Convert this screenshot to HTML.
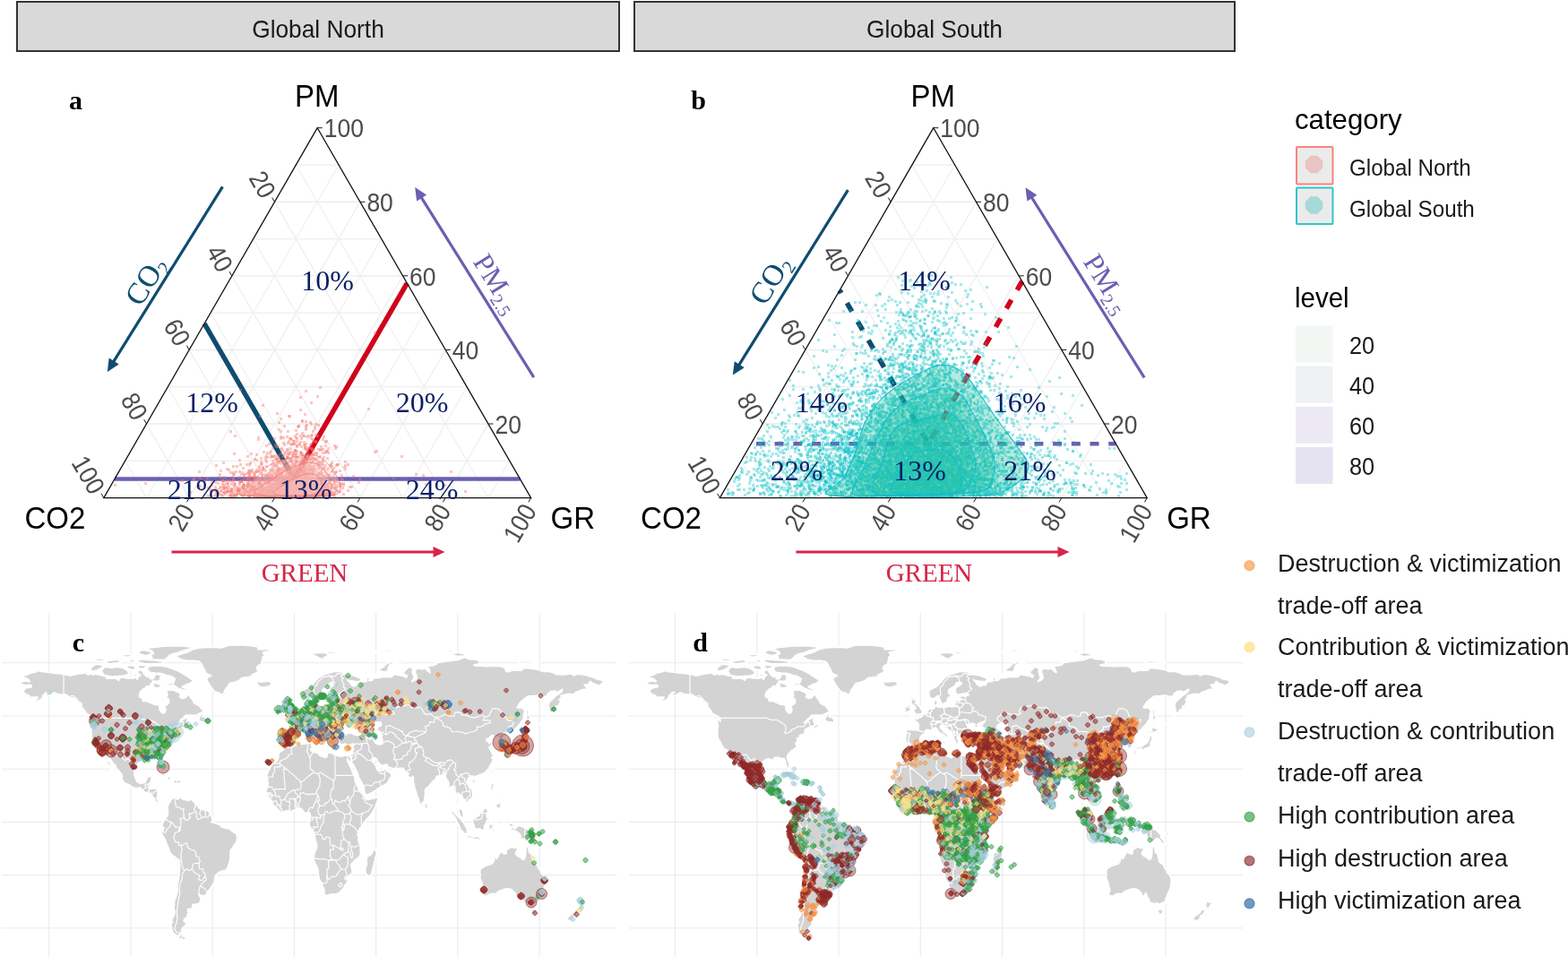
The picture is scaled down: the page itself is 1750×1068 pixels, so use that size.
<!DOCTYPE html>
<html lang="en"><head><meta charset="utf-8"><title>Figure</title>
<style>html,body{margin:0;padding:0;background:#fff}svg{display:block}text{white-space:pre}</style></head>
<body><svg width="1750" height="1068" viewBox="0 0 1750 1068">
<rect width="100%" height="100%" fill="#fff"/>
<rect x="19" y="2" width="672" height="55" fill="#d9d9d9" stroke="#333" stroke-width="2"/>
<text x="355.0" y="42.5" font-family='"Liberation Sans", sans-serif' font-size="26.3" fill="#1a1a1a" text-anchor="middle" transform="translate(0,42.5) scale(1,1.06) translate(0,-42.5)">Global North</text>
<rect x="708" y="2" width="670" height="55" fill="#d9d9d9" stroke="#333" stroke-width="2"/>
<text x="1043.0" y="42.5" font-family='"Liberation Sans", sans-serif' font-size="26.3" fill="#1a1a1a" text-anchor="middle" transform="translate(0,42.5) scale(1,1.06) translate(0,-42.5)">Global South</text>
<g fill="none"><path d="M139.6,514.3L568.8,514.3" stroke="#efefef" stroke-width="1.3"/><path d="M330.4,184.0L544.9,555.6" stroke="#efefef" stroke-width="1.1"/><path d="M378.0,184.0L163.5,555.6" stroke="#efefef" stroke-width="1.1"/><path d="M163.5,473.0L544.9,473.0" stroke="#ebebeb" stroke-width="1.3"/><path d="M306.5,225.3L497.2,555.6" stroke="#ebebeb" stroke-width="1.1"/><path d="M401.9,225.3L211.2,555.6" stroke="#ebebeb" stroke-width="1.1"/><path d="M187.3,431.7L521.1,431.7" stroke="#efefef" stroke-width="1.3"/><path d="M282.7,266.6L449.6,555.6" stroke="#efefef" stroke-width="1.1"/><path d="M425.7,266.6L258.8,555.6" stroke="#efefef" stroke-width="1.1"/><path d="M211.2,390.4L497.2,390.4" stroke="#ebebeb" stroke-width="1.3"/><path d="M258.8,307.8L401.9,555.6" stroke="#ebebeb" stroke-width="1.1"/><path d="M449.6,307.8L306.5,555.6" stroke="#ebebeb" stroke-width="1.1"/><path d="M235.0,349.1L473.4,349.1" stroke="#efefef" stroke-width="1.3"/><path d="M235.0,349.1L354.2,555.6" stroke="#efefef" stroke-width="1.1"/><path d="M473.4,349.1L354.2,555.6" stroke="#efefef" stroke-width="1.1"/><path d="M258.8,307.8L449.6,307.8" stroke="#ebebeb" stroke-width="1.3"/><path d="M211.2,390.4L306.5,555.6" stroke="#ebebeb" stroke-width="1.1"/><path d="M497.2,390.4L401.9,555.6" stroke="#ebebeb" stroke-width="1.1"/><path d="M282.7,266.6L425.7,266.6" stroke="#efefef" stroke-width="1.3"/><path d="M187.3,431.7L258.8,555.6" stroke="#efefef" stroke-width="1.1"/><path d="M521.1,431.7L449.6,555.6" stroke="#efefef" stroke-width="1.1"/><path d="M306.5,225.3L401.9,225.3" stroke="#ebebeb" stroke-width="1.3"/><path d="M163.5,473.0L211.2,555.6" stroke="#ebebeb" stroke-width="1.1"/><path d="M544.9,473.0L497.2,555.6" stroke="#ebebeb" stroke-width="1.1"/><path d="M330.4,184.0L378.0,184.0" stroke="#efefef" stroke-width="1.3"/><path d="M139.6,514.3L163.5,555.6" stroke="#efefef" stroke-width="1.1"/><path d="M568.8,514.3L544.9,555.6" stroke="#efefef" stroke-width="1.1"/></g>
<path d="M228.1,361.1L328.2,534.5" stroke="#0f4c70" stroke-width="5.4" fill="none"/>
<path d="M454.3,316.1L328.2,534.5" stroke="#d0021b" stroke-width="5.6" fill="none"/>
<path d="M128.0,534.5L580.4,534.5" stroke="#6a5fb1" stroke-width="4.6" fill="none"/>
<g transform="scale(0.5)" fill="none" stroke="#f8766d" stroke-opacity="0.42" stroke-width="6" stroke-linecap="square"><path d="M683,873h0m-12,14h0m38-2h0m-122,20h0m-160,12h0m240,34h0m44-2h0m-50,12h0m2,8h0m36-6h0m-40,10h0m12,0h0m18,0h0m10,8h0m-64,12h0m14-2h0m10,0h0m4-6h0m6,6h0m14,0h0m10,2h0m6-8h0m-72,18h0m32,2h0m22-4h0m8,0h0m60,0h0m-226,12h0m38,0h0m84,0h0m26-2h0m4,8h0m-52,8h0m10,2h0m12-6h0m6,0h0m2,8h0m8,0h0m14,0h0m4-4h0m0-2h0m0,4h0m4-4h0m4,0h0m2-2h0m2,2h0m2,0h0m6,0h0m2-2h0m2,2h0m10,6h0m6,0h0m-162,6h0m28-2h0m10,6h0m20-2h0m18,2h0m6,0h0m2,0h0m4-2h0m8-6h0m8,10h0m6,0h0m4-2h0m4-2h0m0,4h0m2-6h0m10-4h0m4,6h0m26-4h0m24,6h0m-176,14h0m8-6h0m6-4h0m24,10h0m6,0h0m6-6h0m0,4h0m8-4h0m22,4h0m0-6h0m4,8h0m2-6h0m2,4h0m4-2h0m0,4h0m10-2h0m4,0h0m2,0h0m6-2h0m4-2h0m8-2h0m2,2h0m2-2h0m2,2h0m24-2h0m4,6h0m8-8h0m8,6h0m6,4h0m2,0h0m-258,10h0m104,0h0m4-8h0m0,4h0m4-2h0m4,0h0m0,6h0m10-4h0m8,0h0m2-4h0m20,8h0m2-2h0m18,2h0m4-2h0m6-6h0m2,10h0m2-2h0m4,0h0m0,2h0m0-10h0m2,8h0m2,2h0m2,0h0m0-4h0m2,2h0m12,2h0m4-6h0m2,2h0m4,4h0m4-10h0m2,4h0m2,2h0m4,2h0m36-4h0m166-2h0m-496,12h0m66,4h0m10,4h0m2-6h0m10,0h0m2,0h0m16,2h0m40,2h0m14-4h0m4,4h0m2,2h0m2-2h0m2-4h0m10,0h0m2-2h0m2-2h0m4,8h0m2-2h0m0,2h0m8-4h0m0,4h0m2-2h0m2-6h0m0,8h0m4-2h0m2,0h0m2,2h0m2-2h0m0-2h0m4-4h0m0,4h0m2,6h0m2-2h0m2,2h0m4-10h0m2,6h0m0-6h0m4,8h0m2,0h0m0-2h0m2-2h0m4,2h0m2-2h0m0-2h0m0,8h0m2-8h0m0,6h0m2-4h0m6,2h0m2,2h0m0-2h0m4,4h0m6-2h0m4-6h0m0,2h0m2,0h0m4,6h0m4-6h0m2-2h0m4,6h0m6-8h0m2,4h0m36,6h0m2-10h0m40,0h0m-362,18h0m32-4h0m26,6h0m2-6h0m0,8h0m36-2h0m2,0h0m8-6h0m6-2h0m6,6h0m0,4h0m6-4h0m2,0h0m2-2h0m2,6h0m2-4h0m4,2h0m2-6h0m4-2h0m8,8h0m6-6h0m4,0h0m2,4h0m0-6h0m12,0h0m0,4h0m0,4h0m2,2h0m2-8h0m2-2h0m4,0h0m2,4h0m4,2h0m2-2h0m4,0h0m0-2h0m2,4h0m0,4h0m2-4h0m2-4h0m0,4h0m0,4h0m6-4h0m2-6h0m2,10h0m0-10h0m2,2h0m2,2h0m6-4h0m2,6h0m2-6h0m0,4h0m0,4h0m2-2h0m0-6h0m2,6h0m0,4h0m2-10h0m0,4h0m0,4h0m2-8h0m0,2h0m2,2h0m0-2h0m0,8h0m2-4h0m0,2h0m4,0h0m2,0h0m0-2h0m2-4h0m2,8h0m2-8h0m0,4h0m2-4h0m4-2h0m2,6h0m2,4h0m0-10h0m4,10h0m0-2h0m2-6h0m2,6h0m0,2h0m2-4h0m0,2h0m2-8h0m2,8h0m2-6h0m4,0h0m2,2h0m6-4h0m20,2h0m10,2h0m6,4h0m-282,10h0m20,4h0m4-6h0m10,0h0m12,2h0m2-2h0m18,2h0m0-6h0m10,0h0m10,8h0m2,0h0m8-8h0m0,8h0m2-8h0m2,6h0m2,0h0m2-6h0m2,4h0m0,2h0m2,4h0m2-8h0m4,4h0m2-4h0m0,6h0m4-6h0m2,6h0m0-6h0m2,0h0m4,8h0m2-10h0m0,8h0m0,2h0m2-2h0m8-8h0m0,4h0m0,4h0m4-6h0m2,0h0m0,8h0m2-8h0m0,4h0m0,4h0m0-6h0m4,0h0m0,4h0m0-8h0m2,4h0m2-4h0m0,4h0m0,4h0m4,0h0m0-6h0m2,6h0m4-4h0m0,6h0m2-6h0m0,2h0m2,0h0m0,4h0m0-2h0m2-2h0m0-2h0m2,4h0m2-4h0m0-2h0m2,4h0m0-2h0m0,4h0m2-2h0m2-4h0m2,0h0m0-2h0m0,8h0m4,2h0m0-10h0m0,8h0m2,0h0m0-2h0m0,4h0m0-6h0m8-4h0m2,2h0m0,4h0m0,2h0m2-4h0m2,4h0m0-4h0m10,2h0m2-2h0m2-4h0m0,8h0m4-4h0m4,6h0m0-10h0m6,6h0m6,0h0m8-6h0m6,2h0m4,2h0m6,4h0m-222,6h0m4-2h0m28,0h0m2,2h0m14-2h0m20,2h0m4-2h0m4,2h0m8,0h0m26-2h0m2,0h0m12,0h0m2,2h0m4-2h0m6,2h0m14,0h0m6-2h0m2,2h0m4-2h0m2,2h0m12,0h0m0-2h0m4,2h0m2,0h0m4-2h0m6,2h0m10-2h0"/><path d="M695,899h0m-24,16h0m-90,14h0m102,12h0m22,6h0m-82,12h0m4,4h0m16,0h0m54,8h0m-172,2h0m52,4h0m0,4h0m50-6h0m50-2h0m-82,22h0m6-4h0m54,0h0m24-4h0m26-2h0m22,0h0m2,0h0m-112,12h0m12,4h0m2,4h0m32-8h0m18,2h0m14,2h0m2,4h0m36-4h0m-160,14h0m36,4h0m26-6h0m0-2h0m12,2h0m30,4h0m24-2h0m-118,16h0m0-8h0m34,2h0m12,2h0m8-2h0m4,6h0m10,0h0m6-4h0m8-6h0m26,8h0m4-4h0m10,0h0m16,4h0m-238,10h0m38,2h0m86-4h0m4,2h0m8-6h0m8,2h0m8,2h0m8-2h0m6,8h0m4-6h0m4-2h0m2,6h0m2,2h0m10,0h0m2-2h0m28-4h0m2,2h0m2-4h0m36-2h0m30,6h0m-256,16h0m62-2h0m16-2h0m30-6h0m8,2h0m0-2h0m14,8h0m4-6h0m0,2h0m2,2h0m10,0h0m6-2h0m6-4h0m4,6h0m2-4h0m6,8h0m4-6h0m0,4h0m6,2h0m2-4h0m4-6h0m10,0h0m0,2h0m4,8h0m2-2h0m-172,6h0m8,6h0m4-8h0m0,6h0m12-2h0m26,4h0m0-2h0m14,4h0m4-10h0m6,10h0m0-6h0m4,0h0m2,6h0m2-6h0m2-4h0m0,4h0m2,4h0m4-6h0m2,4h0m0,2h0m2-8h0m4,2h0m2,8h0m2-6h0m4,2h0m2,4h0m0-10h0m2,8h0m2-2h0m0-6h0m6,8h0m0-6h0m2,0h0m6,8h0m0-10h0m2,6h0m4,2h0m2-2h0m0-6h0m4,0h0m0,2h0m2,0h0m0,8h0m0-10h0m6,2h0m4,4h0m10,0h0m0,4h0m4-2h0m2-6h0m2,0h0m4,0h0m10,4h0m8,0h0m0-2h0m4,4h0m4,2h0m-270,10h0m62-2h0m8,4h0m20,0h0m16-4h0m2-2h0m0,4h0m12-2h0m8-2h0m0,4h0m2-8h0m2,0h0m0,2h0m20,6h0m2,2h0m4-8h0m0-2h0m0,4h0m2,6h0m2-10h0m2,0h0m8,8h0m0-6h0m4,2h0m0-2h0m4,0h0m0,6h0m2-4h0m2-4h0m0,4h0m2-2h0m2,2h0m2-2h0m0,4h0m0-2h0m2,4h0m4-8h0m2,6h0m4,4h0m8-10h0m2,6h0m2-2h0m0-2h0m4,0h0m2-2h0m4,8h0m0-2h0m4,0h0m2-2h0m0,4h0m2,0h0m2-2h0m2,0h0m2,2h0m6,2h0m2-6h0m0,2h0m6,0h0m18-4h0m2,6h0m4-4h0m-492,10h0m208,6h0m16-2h0m22,2h0m40-8h0m20,10h0m2-6h0m12,2h0m8,0h0m8,2h0m0,2h0m10-10h0m2,2h0m0,6h0m2-8h0m0,2h0m4-2h0m4,0h0m2,2h0m2,0h0m2,0h0m0-2h0m4,0h0m0,8h0m0-2h0m4,4h0m6-8h0m0,2h0m2,2h0m2,2h0m0,2h0m2-8h0m0,8h0m0-6h0m2,2h0m2-4h0m6,4h0m0,4h0m0-2h0m2,0h0m0-2h0m0-6h0m2,4h0m2,4h0m2-4h0m2,4h0m0-2h0m2-2h0m0-2h0m0-2h0m2,6h0m0-4h0m2,4h0m0,2h0m2,2h0m4-2h0m0-6h0m2,8h0m0-4h0m2-6h0m2,6h0m0,4h0m8,0h0m0-10h0m2,2h0m8,8h0m0-8h0m2,8h0m4-4h0m0,2h0m2-2h0m0-2h0m2-2h0m14,6h0m2-6h0m6,6h0m0-6h0m0,2h0m2,0h0m0-2h0m0,4h0m20,2h0m10-8h0m-292,12h0m56,0h0m6,2h0m2,6h0m10-4h0m2,2h0m0,4h0m6-6h0m6,0h0m2-2h0m2-2h0m4,10h0m4-8h0m0,4h0m6-6h0m2,8h0m2,0h0m8-4h0m2-4h0m2,8h0m4-2h0m2-4h0m0,8h0m4,0h0m0-6h0m4,2h0m2-4h0m2,8h0m6,0h0m2-2h0m6,2h0m0-6h0m2-2h0m2,6h0m0,2h0m2-4h0m2,0h0m0-6h0m0,8h0m2-4h0m2,0h0m0,6h0m2-8h0m0-2h0m2,8h0m2,0h0m2-4h0m2,2h0m2-4h0m2,6h0m6-8h0m0,8h0m2,0h0m0-2h0m2-2h0m0-4h0m4,10h0m2-2h0m0-2h0m0-6h0m2,2h0m0,2h0m2,6h0m0-8h0m2,2h0m0-2h0m0,4h0m2,2h0m2,2h0m2-4h0m2,0h0m4,0h0m0-2h0m2,2h0m0,4h0m0-10h0m0,8h0m0-6h0m2,0h0m0-2h0m2,4h0m0-2h0m2,8h0m2-4h0m0,2h0m2,0h0m0-6h0m4-2h0m2,6h0m0,2h0m2-8h0m2,2h0m0,8h0m2-10h0m4,0h0m2,0h0m4,10h0m4,0h0m0-10h0m0,4h0m2,2h0m4-4h0m4,2h0m4-4h0m32,10h0m-288,4h0m64,0h0m24-2h0m2,2h0m14-2h0m18,2h0m2-2h0m14,0h0m14,0h0m4,2h0m14,0h0m8-2h0m2,2h0m2,0h0m0-2h0m4,2h0m2-2h0m2,0h0m26,0h0m2,0h0m4,0h0m14,0h0m4,0h0m6,2h0m2,0h0m8-2h0"/><path d="M715,865h0m-68,64h0m28,12h0m18,2h0m12,28h0m-56,8h0m14,0h0m16-6h0m16,6h0m14-6h0m-94,20h0m18-4h0m22-4h0m8,10h0m0,12h0m24,0h0m30-4h0m-120,8h0m30,2h0m14,2h0m2,2h0m64-4h0m190,6h0m-264,12h0m0-2h0m18,0h0m12,2h0m0-2h0m8,2h0m4-8h0m8,8h0m20-8h0m8-2h0m10,6h0m10-4h0m-172,10h0m74,8h0m28-4h0m2,4h0m6,2h0m4-4h0m4,4h0m2-10h0m0,10h0m2-2h0m12,0h0m2,0h0m0-8h0m16,6h0m10-4h0m6,4h0m10,0h0m18-2h0m22,0h0m-256,18h0m58-4h0m6-2h0m34-4h0m2,8h0m0-6h0m6,0h0m22,4h0m0,2h0m4-2h0m2-2h0m4-2h0m4,0h0m2-2h0m2,0h0m2,4h0m8,6h0m2-10h0m0,4h0m2-2h0m14-2h0m4,6h0m4-2h0m2,2h0m8-6h0m4,2h0m6-2h0m8,4h0m20,4h0m8-2h0m-202,12h0m14,4h0m8,0h0m2,0h0m4-8h0m8,2h0m14,0h0m12,0h0m4-4h0m2,8h0m6-2h0m4,4h0m4,0h0m0-4h0m2,4h0m8-6h0m0,6h0m2,0h0m4-2h0m8,0h0m0,2h0m2-4h0m6,4h0m2-4h0m2-4h0m0,2h0m2-2h0m2,4h0m2-4h0m0,4h0m2-6h0m4,10h0m2-8h0m8-2h0m2,10h0m6,0h0m8-2h0m6-6h0m30,8h0m40-4h0m-356,6h0m88,0h0m30,4h0m4,4h0m14,0h0m6,2h0m18,0h0m2-8h0m6,4h0m6,0h0m4-4h0m4,2h0m8-2h0m0,8h0m0-10h0m0,4h0m2-4h0m2,2h0m4,4h0m0,2h0m4-4h0m2-4h0m2,0h0m4,6h0m2,0h0m4,4h0m0-2h0m0-2h0m2,0h0m2-4h0m0,8h0m0-6h0m2-2h0m0,8h0m0-2h0m2-8h0m2,10h0m6-8h0m0,4h0m0-6h0m2,10h0m2-6h0m0,4h0m2-8h0m0,8h0m2-4h0m0-4h0m2,10h0m2-2h0m2-6h0m2,0h0m0,8h0m6-4h0m4-6h0m0,8h0m2-6h0m0-2h0m6,10h0m0-6h0m4-2h0m2,8h0m4-6h0m2-2h0m2,6h0m16-6h0m18,2h0m-238,8h0m16,0h0m16,6h0m26-6h0m2,6h0m14,4h0m14-4h0m8-2h0m2,4h0m2,0h0m0-2h0m4-2h0m2-4h0m0,6h0m2,2h0m4-6h0m0,4h0m0,2h0m4-6h0m2,0h0m0,4h0m0,2h0m4-8h0m0,2h0m2,0h0m0-2h0m2,0h0m0,8h0m2-8h0m2,0h0m0,6h0m2,4h0m0-2h0m8-8h0m0,8h0m2-4h0m2,0h0m0-2h0m2,6h0m0-2h0m0,4h0m2-4h0m0,4h0m0-6h0m2-4h0m2,2h0m2,2h0m0,4h0m0-6h0m0,8h0m4-6h0m0-2h0m2-2h0m2,8h0m0,2h0m2-4h0m0-2h0m2-2h0m6,2h0m4,0h0m0-2h0m2,0h0m0,4h0m0,2h0m2-6h0m0-2h0m4,2h0m0,8h0m2-2h0m2-2h0m0-2h0m2,4h0m2,0h0m0-2h0m8-6h0m2,0h0m8,4h0m4-2h0m4,4h0m0,2h0m4-6h0m10-2h0m4,0h0m-274,16h0m10-2h0m2,8h0m32-6h0m0,6h0m16-10h0m2,0h0m4,6h0m4,2h0m8-8h0m6,4h0m2,6h0m0-6h0m6-4h0m2,6h0m2,2h0m0,2h0m2-10h0m2,8h0m6,2h0m4-6h0m0,4h0m6,0h0m8,2h0m4-2h0m2-6h0m4,0h0m2,2h0m2,6h0m2-6h0m0,2h0m8-2h0m0-2h0m0-2h0m2,4h0m0-2h0m6-2h0m0,6h0m2,4h0m2-10h0m0,8h0m4,0h0m0,2h0m2-8h0m6,6h0m2,2h0m0-6h0m0,4h0m2-6h0m0,4h0m0,2h0m2-2h0m2,4h0m2-4h0m0,4h0m0-10h0m0,4h0m2,0h0m2,2h0m0,4h0m0-6h0m2,4h0m0-6h0m0,4h0m2,2h0m0-6h0m2-2h0m2,6h0m2-4h0m0-2h0m0,4h0m2,6h0m0-10h0m0,8h0m2,2h0m0-10h0m0,8h0m2-6h0m0,4h0m4-4h0m0-2h0m0,4h0m2,6h0m2-8h0m0,8h0m2-8h0m0,2h0m4-2h0m0,2h0m2,2h0m2,0h0m0-2h0m0-2h0m2,8h0m0-10h0m2,2h0m0,8h0m0-10h0m2,4h0m6,2h0m2-4h0m0-2h0m2,6h0m2,4h0m0-6h0m4-4h0m2,10h0m0-10h0m0,4h0m0,4h0m6-2h0m0-6h0m2,6h0m2,2h0m0,2h0m6-4h0m0-2h0m0,4h0m14,2h0m8-6h0m-238,10h0m12,0h0m0-2h0m12,0h0m14,2h0m4,0h0m4-2h0m14,2h0m4,0h0m0-2h0m10,0h0m4,0h0m26,0h0m16,0h0m8,2h0m6,0h0m20,0h0m2-2h0m2,0h0m0,2h0m4,0h0m0-2h0m6,0h0m8,2h0m2,0h0m0-2h0m2,0h0m2,2h0m6-2h0m2,0h0m0,2h0"/><path d="M695,947h0m-12,8h0m-8,12h0m-14,10h0m24-2h0m36,6h0m2-6h0m-118,32h0m16-10h0m20,6h0m8-2h0m10,6h0m24-4h0m12-2h0m20,4h0m-110,12h0m48,0h0m8-2h0m10-6h0m14,10h0m10-4h0m2,4h0m2-8h0m4,0h0m4,0h0m20-2h0m-158,16h0m40,4h0m6-4h0m2-2h0m2,4h0m30-2h0m12-2h0m0,8h0m18-8h0m4,4h0m14-4h0m0,8h0m-168,10h0m50,0h0m4-4h0m28-2h0m2,4h0m6,2h0m22-2h0m28-6h0m0,8h0m12,0h0m8-2h0m0,4h0m6-2h0m4,2h0m16-6h0m24,0h0m30,6h0m-276,8h0m14-4h0m20,6h0m76-4h0m16,0h0m2,6h0m12-4h0m4-6h0m4,0h0m6,10h0m4-10h0m6,6h0m0,4h0m0-8h0m6,8h0m4,0h0m2-2h0m2,0h0m2-8h0m0,8h0m2-2h0m4-6h0m2,6h0m0,4h0m4-10h0m0,4h0m4,2h0m0,4h0m2-10h0m2,6h0m4,0h0m2-2h0m6-2h0m20-2h0m46,2h0m236,6h0m-544,14h0m72-2h0m16-8h0m16,4h0m2,6h0m16-4h0m4,4h0m14-4h0m8,2h0m0-2h0m4-4h0m2,4h0m0,4h0m10,0h0m6-2h0m2-2h0m2,2h0m2,0h0m4-2h0m0-6h0m0,8h0m2-4h0m2,2h0m0,4h0m2-2h0m0-6h0m0,4h0m0-6h0m2,10h0m6-8h0m10,4h0m6,2h0m6,0h0m0-6h0m2,0h0m2,2h0m8-4h0m0,2h0m2,8h0m4-8h0m0-2h0m2,0h0m2,10h0m2,0h0m10-10h0m10,6h0m2,0h0m4-6h0m6,2h0m10,2h0m-288,14h0m48-2h0m18,6h0m16-4h0m6-6h0m8,0h0m4,0h0m32,4h0m2-2h0m8,6h0m0-2h0m2,2h0m2-6h0m2,2h0m12,6h0m0-10h0m2,8h0m2-6h0m2,0h0m4,8h0m0-10h0m0,4h0m4-4h0m2,6h0m0,2h0m4,0h0m2-4h0m2,0h0m0-2h0m2,8h0m4-10h0m4,6h0m0,4h0m2,0h0m0-6h0m2,6h0m2,0h0m4-4h0m0-2h0m2-4h0m2,8h0m2,0h0m2,2h0m2,0h0m0-10h0m4,8h0m0,2h0m2-8h0m0,4h0m4-2h0m2,2h0m0-2h0m2,2h0m2-6h0m0,8h0m0-6h0m0,4h0m2-4h0m4-2h0m2,8h0m22,0h0m2-4h0m12,6h0m20-4h0m14-4h0m36,6h0m-358,12h0m4-4h0m44,4h0m6-8h0m10,6h0m4,0h0m4,4h0m16-2h0m14-2h0m18,0h0m18-6h0m0,8h0m4,0h0m4,2h0m0-2h0m6,0h0m4-2h0m2,0h0m2,2h0m2,2h0m2-4h0m2-6h0m4,6h0m6,0h0m0-2h0m2,0h0m2-4h0m2,0h0m2,4h0m2-4h0m2,4h0m0,4h0m0-6h0m2,2h0m0,6h0m0-10h0m2,0h0m4,10h0m4-8h0m0,6h0m2,2h0m2-2h0m2-6h0m2,4h0m0,4h0m0-6h0m0,4h0m2-4h0m0,4h0m8-2h0m4,4h0m0-6h0m0,4h0m4-2h0m2,0h0m0,4h0m2-4h0m0-4h0m2,8h0m0-2h0m2,0h0m2-6h0m0,8h0m0-10h0m0,4h0m0,4h0m4-8h0m0,10h0m4,0h0m2-2h0m2-6h0m2,4h0m2-2h0m0-2h0m2,2h0m2,0h0m4-4h0m2,6h0m4,4h0m0-10h0m4,0h0m8,6h0m2,2h0m4-6h0m4,8h0m6-2h0m4-4h0m10,2h0m8-2h0m-284,10h0m6-2h0m20,6h0m2-2h0m10,0h0m20,0h0m2-4h0m2,10h0m8-10h0m10,10h0m4-6h0m8-4h0m4,8h0m6-4h0m2-4h0m2,4h0m0,6h0m2-4h0m4-4h0m4,8h0m4-10h0m0,2h0m2-2h0m0,4h0m4,2h0m4-6h0m2,8h0m2,2h0m2-2h0m0,2h0m2-6h0m0,6h0m2-6h0m2,2h0m2-2h0m4,6h0m0-10h0m2,8h0m2-8h0m2,8h0m2-4h0m2,6h0m0-10h0m0,2h0m2,6h0m0-8h0m2,0h0m0,4h0m2-2h0m0,4h0m0,4h0m4,0h0m2-6h0m4,2h0m2,0h0m2-6h0m2,6h0m0,4h0m0-6h0m0-2h0m2,6h0m0-2h0m0,4h0m0-6h0m2,4h0m0,2h0m2-2h0m2-2h0m0-4h0m2,8h0m0-10h0m2,0h0m2,4h0m2-4h0m0,4h0m0,4h0m0-2h0m2,4h0m2,0h0m0-10h0m4,4h0m0-2h0m2,6h0m0-6h0m2,4h0m0,2h0m2-8h0m0,8h0m0-6h0m6,6h0m2,2h0m0-10h0m0,8h0m4,0h0m0,2h0m2,0h0m0-6h0m2,4h0m8-4h0m2,2h0m0-2h0m4,4h0m2-8h0m2,2h0m34,0h0m24,0h0m-260,12h0m6-2h0m34,2h0m6-2h0m20,0h0m8,0h0m4,2h0m14,0h0m6-2h0m10,2h0m12-2h0m10,2h0m4,0h0m8-2h0m0,2h0m6-2h0m4,2h0m2-2h0m8,2h0m4-2h0m4,0h0m0,2h0m2-2h0m4,2h0m4,0h0m8-2h0m0,2h0"/><path d="M837,743h0m-218,180h0m48,28h0m36,6h0m0-4h0m-52,28h0m-8,8h0m24,4h0m4-6h0m10,8h0m24-8h0m22,8h0m-118,6h0m64-4h0m78,0h0m-198,22h0m50-8h0m12,6h0m40-8h0m6,2h0m0,2h0m54,6h0m122-10h0m-302,18h0m88,4h0m12-2h0m2,2h0m4-10h0m8,4h0m0,4h0m12-8h0m0,10h0m10-8h0m0,4h0m2,4h0m4-6h0m14,0h0m-154,12h0m50,6h0m36-10h0m18,6h0m2,4h0m12,0h0m4-6h0m10,2h0m4-6h0m0,4h0m4,0h0m6-2h0m0,8h0m6-4h0m2,0h0m2-4h0m16,2h0m0,2h0m6-6h0m6,6h0m-210,10h0m50,2h0m10,2h0m38-2h0m12,4h0m4-10h0m8,4h0m6,4h0m4-4h0m0,2h0m8-6h0m2,8h0m2-2h0m0-6h0m2,8h0m2-2h0m6-6h0m2,6h0m4,2h0m4-4h0m2-4h0m0,8h0m4,0h0m14-8h0m4,10h0m8,0h0m38-10h0m-298,22h0m54-2h0m18,0h0m2-6h0m24,2h0m10-4h0m22,10h0m2,0h0m14-8h0m16,8h0m4,0h0m2-2h0m10,0h0m4-6h0m0,2h0m2,0h0m6,4h0m4-2h0m8,2h0m6,2h0m4,0h0m0-10h0m4,4h0m2,4h0m4-4h0m4,6h0m4-8h0m0,8h0m2-8h0m2,8h0m0-6h0m2,0h0m2-4h0m4,2h0m10,0h0m0,4h0m2-6h0m6,2h0m4,8h0m2-8h0m10,8h0m156,0h0m-554,12h0m82-6h0m90,0h0m38,4h0m18,2h0m4-6h0m10-4h0m4,4h0m4-2h0m16-2h0m0,10h0m4-10h0m2,4h0m0,4h0m20-2h0m2,2h0m4-4h0m4,6h0m0-2h0m4,2h0m4-2h0m0-2h0m10-4h0m4,2h0m0,4h0m0-2h0m4,4h0m4-2h0m0-6h0m0,8h0m4-8h0m0,2h0m4-2h0m8,0h0m0,4h0m4,0h0m2,2h0m2-2h0m0,4h0m4-8h0m2,4h0m6-4h0m0-2h0m6,6h0m0,4h0m2-10h0m2,8h0m0,2h0m2-2h0m2,2h0m16-2h0m10,2h0m14-6h0m8,6h0m12,0h0m-248,12h0m4-4h0m4,0h0m16,4h0m0-6h0m2-2h0m8,2h0m0,4h0m4-4h0m12,6h0m8-10h0m8,4h0m6,4h0m8,0h0m6-8h0m2,8h0m2-8h0m4,0h0m4,10h0m6-6h0m0-4h0m2,8h0m6,2h0m2-8h0m0,8h0m4-2h0m2-6h0m2-2h0m2,6h0m0-2h0m2,6h0m0-10h0m0,2h0m2,8h0m2-8h0m0,4h0m2,0h0m2,4h0m0-10h0m4,4h0m0,4h0m2,2h0m0-2h0m2-2h0m0,4h0m0-10h0m2,4h0m2-4h0m0,2h0m2,0h0m2,2h0m4,2h0m0,4h0m2,0h0m6-6h0m0-2h0m2,6h0m2-2h0m2-6h0m2,2h0m0,4h0m0,2h0m2-6h0m0,4h0m4,4h0m2-10h0m2,2h0m0,8h0m2,0h0m2-4h0m0-6h0m0,4h0m2,6h0m0-10h0m0,4h0m4-2h0m0-2h0m0,4h0m6,4h0m2-6h0m0,6h0m4-8h0m0,6h0m12,4h0m2-4h0m0,4h0m2-4h0m8,2h0m40-2h0m-294,16h0m2-6h0m8,2h0m20,4h0m14-4h0m12-4h0m0,8h0m4-6h0m8,6h0m0-6h0m2,0h0m2-2h0m0,8h0m4-10h0m8,10h0m2,0h0m4-8h0m0,8h0m4-10h0m0,4h0m2,0h0m2,6h0m0-2h0m8-6h0m0,4h0m2-2h0m0,4h0m4-2h0m2,4h0m2-8h0m0,2h0m2,2h0m0,2h0m2,0h0m4-8h0m2,0h0m2,4h0m0,4h0m0-8h0m4,0h0m2,6h0m0,4h0m0-2h0m2-6h0m0,4h0m0,4h0m4,0h0m0-6h0m2-4h0m2,2h0m0-2h0m2,10h0m0-10h0m2,2h0m0,4h0m0,2h0m2,0h0m0-6h0m0,4h0m2-2h0m0,2h0m0,4h0m2-6h0m0,4h0m2-4h0m0,4h0m2-6h0m0,4h0m2-4h0m0-2h0m2,2h0m0,4h0m0,4h0m0-10h0m4,2h0m0,4h0m0,4h0m0-10h0m6,0h0m2,10h0m2-8h0m0,8h0m0-2h0m2-2h0m0-2h0m0-2h0m6,4h0m0-2h0m2,0h0m2,0h0m4,4h0m2-8h0m4,0h0m2,2h0m2,4h0m0,2h0m2-6h0m2-2h0m4,8h0m2-2h0m4-6h0m0,8h0m2-4h0m8,4h0m0-2h0m2,4h0m0-6h0m6,2h0m8-4h0m2,8h0m2-10h0m4,6h0m0,4h0m6-4h0m2-6h0m-228,14h0m40-2h0m8,0h0m8,0h0m10,0h0m12,0h0m0,2h0m6,0h0m6,0h0m0-2h0m6,0h0m4,0h0m0,2h0m2-2h0m2,2h0m2,0h0m2-2h0m6,0h0m2,2h0m4-2h0m6,2h0m0-2h0m2,0h0m2,2h0m0-2h0m6,0h0m10,0h0m2,2h0m2-2h0m6,2h0m4,0h0m2-2h0m22,0h0m6,2h0m16,0h0m4,0h0m6,0h0m6-2h0"/><path d="M537,871h0m90,64h0m-4,8h0m62,6h0m-170,14h0m118,14h0m14,2h0m26,0h0m22-6h0m-50,12h0m6,8h0m44-2h0m32-4h0m-68,18h0m26-2h0m2-4h0m44,8h0m-136,10h0m36,2h0m2-2h0m6-8h0m16,10h0m2-4h0m18-2h0m12,0h0m0,6h0m-94,2h0m2,10h0m24-8h0m4-2h0m12,10h0m6-8h0m8,6h0m14-8h0m0,8h0m2,0h0m14,0h0m20,2h0m2-6h0m4,2h0m4,0h0m0,4h0m14-10h0m48,10h0m-220,6h0m98,2h0m2,0h0m6,0h0m12-4h0m14-2h0m18,8h0m50-2h0m-306,14h0m90,0h0m8-8h0m12,6h0m4,4h0m28-10h0m20,2h0m14,2h0m6,6h0m0-6h0m4,4h0m4-8h0m0,4h0m6,2h0m4,2h0m0,2h0m2-10h0m4,4h0m0,6h0m6-6h0m0-2h0m8,2h0m2,6h0m8-10h0m0,10h0m4-2h0m4,0h0m2,2h0m0-10h0m4,2h0m0,4h0m6-2h0m22,4h0m24,0h0m-180,12h0m8,2h0m0-10h0m24,6h0m6-2h0m10,6h0m16-6h0m2,0h0m12,6h0m0-2h0m4-4h0m4,4h0m0-6h0m2,2h0m0-2h0m0,8h0m2-4h0m0-2h0m4,0h0m2-4h0m4,0h0m2,8h0m0-6h0m2,0h0m2,0h0m4,4h0m2,0h0m0-2h0m2,6h0m2-6h0m2,4h0m0-6h0m4,6h0m0-6h0m2,4h0m2,0h0m4-6h0m4,0h0m4,8h0m0-2h0m2-4h0m2,0h0m0,8h0m10-10h0m4,10h0m6-2h0m10-2h0m-252,14h0m24,2h0m34-6h0m40,4h0m4-8h0m24,10h0m4,0h0m0-6h0m0,2h0m4-4h0m0,4h0m2,4h0m4-10h0m2,6h0m0,4h0m0-6h0m2,6h0m2-2h0m2-8h0m0,10h0m2-4h0m4,2h0m4-2h0m0-6h0m8,2h0m0,6h0m2,2h0m0-6h0m0,4h0m0-6h0m2,0h0m2,2h0m6-2h0m2,0h0m0,6h0m2-8h0m0,4h0m2,4h0m0-8h0m4,0h0m0,8h0m2,2h0m0-6h0m0,4h0m2-2h0m2-4h0m4,8h0m2-10h0m2,2h0m0,4h0m2-4h0m2,6h0m2-4h0m0,4h0m4-4h0m4,4h0m2-4h0m6,0h0m0,2h0m8-2h0m0,4h0m0-6h0m10-2h0m8,2h0m4,6h0m-266,10h0m30,0h0m18-6h0m26,2h0m10,6h0m4,2h0m6-6h0m8,6h0m12-10h0m2,0h0m0,8h0m10,0h0m2-6h0m4-2h0m10,2h0m0-2h0m0,8h0m6,0h0m0-2h0m2-2h0m2,0h0m2,6h0m2-6h0m2-4h0m2,8h0m2,0h0m4-6h0m0-2h0m4,4h0m0,4h0m2-6h0m0,4h0m2,4h0m2-8h0m0,4h0m2-2h0m0,6h0m2-4h0m0,4h0m0-10h0m2,6h0m0,2h0m2,0h0m0-2h0m2-2h0m2,2h0m2-4h0m0,8h0m0-2h0m2-6h0m2,2h0m0,4h0m0-2h0m0,4h0m0-10h0m2,10h0m0-10h0m4,0h0m4,2h0m2,8h0m0-6h0m2,0h0m0-2h0m4,8h0m0-2h0m0-6h0m2,6h0m2-4h0m4-2h0m0,8h0m0-6h0m0,4h0m4-4h0m2,6h0m0-6h0m4,4h0m2-4h0m2,0h0m4,6h0m2-2h0m2-2h0m0,2h0m0-6h0m8,6h0m6,2h0m2-4h0m16,2h0m4,2h0m34-4h0m-294,12h0m8-4h0m4,6h0m8-2h0m2-6h0m8,0h0m4,6h0m12-6h0m2,4h0m8,2h0m2,4h0m18-8h0m8,4h0m0-6h0m2,10h0m2-6h0m2,4h0m2,0h0m4-6h0m2,8h0m6,0h0m2-6h0m4,0h0m4,4h0m8-8h0m2,10h0m2-6h0m0,4h0m2-6h0m0,2h0m0,4h0m4,0h0m0-8h0m2,4h0m0,6h0m2-10h0m2,6h0m0-2h0m2,2h0m2,2h0m4-8h0m0,8h0m2,0h0m0-2h0m0,4h0m0-10h0m2,6h0m0,4h0m4-2h0m2-2h0m0-6h0m2,2h0m0,2h0m0,4h0m6-6h0m0-2h0m2,6h0m0-2h0m0,4h0m2-8h0m2,8h0m0-2h0m0-2h0m2-2h0m0,4h0m0,4h0m2-6h0m4,0h0m4-4h0m0,8h0m6-2h0m0-6h0m0,4h0m0,4h0m2-2h0m2-6h0m0,6h0m0,4h0m4-10h0m2,8h0m0-6h0m2,6h0m0-6h0m0-2h0m2,2h0m0,4h0m4,4h0m2-8h0m0,4h0m6,2h0m4,0h0m6,0h0m0-8h0m2,6h0m2-2h0m2-2h0m10,2h0m0,2h0m4,2h0m4,2h0m6-4h0m10-4h0m4,2h0m-290,10h0m2,0h0m28-2h0m16,2h0m30-2h0m4,0h0m22,2h0m20-2h0m2,2h0m4,0h0m4-2h0m2,0h0m6,2h0m10,0h0m24-2h0m2,0h0m4,0h0m6,2h0m6-2h0m8,0h0m16,0h0m0,2h0m2,0h0m2,0h0m0-2h0m2,0h0m8,0h0m0,2h0m10-2h0m0,2h0m12-2h0m30,2h0"/><path d="M823,913h0m-178,16h0m36-4h0m-6,14h0m-40,12h0m30,2h0m18-2h0m0,8h0m-70,20h0m14,0h0m14-4h0m14,16h0m2-6h0m22,8h0m68,2h0m-104,10h0m58-2h0m10,0h0m6-6h0m4,6h0m8,4h0m112,0h0m-252,2h0m22,10h0m10-2h0m24-8h0m4,0h0m6,4h0m18,0h0m24,2h0m24-4h0m4,0h0m8,0h0m-160,16h0m20,0h0m4-6h0m8,0h0m20,10h0m2-2h0m14-8h0m4,10h0m2-4h0m38,2h0m2-8h0m4,2h0m2-2h0m2,0h0m-196,12h0m110,10h0m2,0h0m6-4h0m2-2h0m14-4h0m36,10h0m0-6h0m0,4h0m2-8h0m0,6h0m6,2h0m2-8h0m2,8h0m4-2h0m24,2h0m2-8h0m0,4h0m4,6h0m38-6h0m-212,18h0m16-4h0m6-2h0m10,4h0m16-4h0m16,2h0m4-2h0m6,6h0m4,0h0m2-4h0m6,2h0m10-8h0m2,10h0m2-4h0m0,2h0m2-6h0m10,6h0m0,2h0m2-2h0m2-2h0m2,0h0m2-6h0m12,10h0m2-8h0m8,2h0m16,6h0m2-6h0m10,6h0m8-8h0m-228,12h0m32,0h0m16,0h0m14,8h0m18-2h0m14-8h0m2,4h0m12,2h0m0-2h0m2-4h0m6,4h0m2,4h0m8-2h0m10-2h0m2-4h0m10,4h0m2,4h0m0-6h0m0,4h0m0,4h0m2-8h0m0,2h0m2,0h0m4,6h0m2-8h0m0,2h0m4-2h0m2-2h0m2,8h0m2-8h0m2,0h0m2,4h0m4,4h0m0-6h0m2,0h0m0,4h0m2-2h0m2-4h0m2,4h0m4-4h0m2,0h0m0,8h0m4-4h0m6,0h0m0,6h0m4,0h0m2-10h0m10,8h0m2-8h0m0,8h0m4-6h0m4,4h0m226-2h0m-458,18h0m10-6h0m20,2h0m46-2h0m2-2h0m2,6h0m2-4h0m4,0h0m2,2h0m4-2h0m2,4h0m6-2h0m2,2h0m12-8h0m4,0h0m2,10h0m2,0h0m6-8h0m0,8h0m12,0h0m0-10h0m2,10h0m2-2h0m2,2h0m0-6h0m2,2h0m2-6h0m6,10h0m2-10h0m2,8h0m2-2h0m2,2h0m0-6h0m2,4h0m2-4h0m0,8h0m2-4h0m4,4h0m4-8h0m4,8h0m2,0h0m0-2h0m2-6h0m0,8h0m4-10h0m0,4h0m6-2h0m0,2h0m2,4h0m2,0h0m10-4h0m0,4h0m0-6h0m8,4h0m14,4h0m4,0h0m4-8h0m8,2h0m0,6h0m12-2h0m-254,10h0m6,4h0m8-2h0m16-6h0m12-2h0m18,4h0m4-4h0m2,4h0m6,4h0m8-6h0m4-2h0m6,2h0m6,0h0m0,8h0m2,0h0m0-2h0m8-2h0m2,0h0m2,0h0m2,2h0m2,2h0m4,0h0m8,0h0m4,0h0m0-10h0m2,0h0m2,6h0m0-2h0m4-2h0m0,4h0m4-4h0m0,6h0m2,2h0m2-10h0m2,0h0m2,6h0m0-2h0m2,0h0m2-2h0m4,6h0m2-4h0m0,2h0m0,4h0m2-2h0m4-6h0m4,0h0m0,8h0m2-4h0m0,4h0m0-2h0m2-6h0m2,4h0m0-6h0m2,10h0m2,0h0m0-10h0m0,8h0m4-2h0m0,4h0m2,0h0m0-2h0m2-8h0m0,4h0m2,0h0m0,4h0m0,2h0m2-8h0m0,8h0m4-4h0m0-2h0m8-4h0m2,4h0m6,0h0m2-2h0m4,8h0m2-8h0m2-2h0m2,10h0m10,0h0m2-10h0m2,8h0m2-2h0m0-2h0m8-2h0m2,4h0m4,2h0m8-4h0m12-2h0m184-2h0m42,2h0m-568,16h0m26-6h0m36,0h0m22,4h0m8-2h0m32,8h0m2-2h0m2-4h0m0,6h0m6-10h0m12,8h0m2-6h0m4-2h0m2,10h0m2-2h0m2,2h0m4-6h0m6,2h0m2-4h0m2,8h0m4-10h0m4,4h0m4,4h0m2-4h0m0,6h0m0-10h0m12,10h0m0-10h0m4,6h0m0,4h0m6-2h0m0-2h0m2-2h0m0,4h0m0-2h0m0-6h0m4,2h0m0,6h0m2-8h0m2,6h0m2,4h0m2,0h0m0-10h0m2,2h0m0,4h0m0,4h0m2-8h0m0,8h0m0-10h0m2,10h0m2-8h0m2,4h0m0,4h0m0-10h0m0,4h0m2,0h0m2,0h0m2,4h0m0-6h0m2,2h0m2-2h0m0,4h0m0,4h0m0-10h0m2,6h0m0,2h0m0-6h0m2,2h0m0,2h0m4-4h0m4,2h0m0,6h0m4,0h0m0-2h0m2-2h0m4-6h0m2,6h0m2,4h0m0-6h0m2,2h0m0-6h0m0,4h0m4,0h0m0,4h0m0-6h0m2-2h0m2,2h0m8,0h0m0,2h0m2,0h0m4,2h0m2-4h0m0-2h0m2,4h0m6,6h0m6,0h0m2-2h0m6,2h0m6-2h0m12-4h0m280,0h0m-542,10h0m18-2h0m14,0h0m28,0h0m18,2h0m0-2h0m6,2h0m4,0h0m4-2h0m2,0h0m6,2h0m0-2h0m10,0h0m8,2h0m16,0h0m2,0h0m2-2h0m16,2h0m4,0h0m0-2h0m28,0h0m2,0h0m4,0h0m4,0h0m2,0h0m10,2h0m6,0h0m6-2h0"/></g>
<path d="M265.0,551.0C261.5,548.8 273.5,546.0 279.0,541.0C284.5,536.0 292.0,525.5 298.0,521.0C304.0,516.5 309.5,515.9 315.0,514.0C320.5,512.1 325.0,510.5 331.0,509.5C337.0,508.5 345.5,507.0 351.0,508.0C356.5,509.0 359.8,511.5 364.0,515.5C368.2,519.5 373.3,527.1 376.0,532.0C378.7,536.9 380.3,541.7 380.0,545.0C379.7,548.3 380.7,550.4 374.0,552.0C367.3,553.6 352.3,554.1 340.0,554.5C327.7,554.9 312.5,555.1 300.0,554.5C287.5,553.9 268.5,553.2 265.0,551.0Z" fill="#f3e6e4" fill-opacity="0.3" stroke="#f8766d" stroke-opacity="0.85" stroke-width="0.9"/>
<path d="M285.0,551.0C279.2,548.3 294.5,542.2 300.0,538.0C305.5,533.8 312.0,529.3 318.0,526.0C324.0,522.7 330.3,519.5 336.0,518.0C341.7,516.5 347.5,515.7 352.0,517.0C356.5,518.3 360.2,522.3 363.0,526.0C365.8,529.7 368.5,535.0 369.0,539.0C369.5,543.0 371.7,547.5 366.0,550.0C360.3,552.5 348.5,553.8 335.0,554.0C321.5,554.2 290.8,553.7 285.0,551.0Z" fill="#f3e6e4" fill-opacity="0.2" stroke="#f8766d" stroke-opacity="0.85" stroke-width="0.9"/>
<path d="M306.0,551.0C303.5,548.7 314.7,542.5 320.0,539.0C325.3,535.5 332.7,531.5 338.0,530.0C343.3,528.5 348.5,528.3 352.0,530.0C355.5,531.7 358.3,536.7 359.0,540.0C359.7,543.3 360.0,547.8 356.0,550.0C352.0,552.2 343.3,552.8 335.0,553.0C326.7,553.2 308.5,553.3 306.0,551.0Z" fill="#f3e6e4" fill-opacity="0.2" stroke="#f8766d" stroke-opacity="0.85" stroke-width="0.9"/>
<path d="M354.2,142.7L115.8,555.6L592.6,555.6Z" fill="none" stroke="#111" stroke-width="1.3" stroke-linejoin="miter"/><path d="M544.9,473.0h5.5M306.5,225.3l-2.8,-4.8M211.2,555.6l-2.8,4.8M497.2,390.4h5.5M258.8,307.8l-2.8,-4.8M306.5,555.6l-2.8,4.8M449.6,307.8h5.5M211.2,390.4l-2.8,-4.8M401.9,555.6l-2.8,4.8M401.9,225.3h5.5M163.5,473.0l-2.8,-4.8M497.2,555.6l-2.8,4.8M354.2,142.7h5.5M115.8,555.6l-2.8,-4.8M592.6,555.6l-2.8,4.8" fill="none" stroke="#1a1a1a" stroke-width="1"/>
<g font-family='"Liberation Sans", sans-serif' font-size="26.5" fill="#4d4d4d"><text x="552.4" y="483.8" transform="translate(0,483.8) scale(1,1.1) translate(0,-483.8)">20</text><text transform="translate(299.7,218.7) rotate(60) scale(1,1.12)" text-anchor="end" y="8.5" font-size="26">20</text><text transform="translate(210.0,565.3) rotate(-60) scale(1,1.12)" text-anchor="end" y="8.5" font-size="26">20</text><text x="504.7" y="401.2" transform="translate(0,401.2) scale(1,1.1) translate(0,-401.2)">40</text><text transform="translate(252.0,301.3) rotate(60) scale(1,1.12)" text-anchor="end" y="8.5" font-size="26">40</text><text transform="translate(305.3,565.3) rotate(-60) scale(1,1.12)" text-anchor="end" y="8.5" font-size="26">40</text><text x="457.1" y="318.6" transform="translate(0,318.6) scale(1,1.1) translate(0,-318.6)">60</text><text transform="translate(204.4,383.8) rotate(60) scale(1,1.12)" text-anchor="end" y="8.5" font-size="26">60</text><text transform="translate(400.7,565.3) rotate(-60) scale(1,1.12)" text-anchor="end" y="8.5" font-size="26">60</text><text x="409.4" y="236.1" transform="translate(0,236.1) scale(1,1.1) translate(0,-236.1)">80</text><text transform="translate(156.7,466.4) rotate(60) scale(1,1.12)" text-anchor="end" y="8.5" font-size="26">80</text><text transform="translate(496.0,565.3) rotate(-60) scale(1,1.12)" text-anchor="end" y="8.5" font-size="26">80</text><text x="361.7" y="153.5" transform="translate(0,153.5) scale(1,1.1) translate(0,-153.5)">100</text><text transform="translate(109.0,549.0) rotate(60) scale(1,1.12)" text-anchor="end" y="8.5" font-size="26">100</text><text transform="translate(591.4,565.3) rotate(-60) scale(1,1.12)" text-anchor="end" y="8.5" font-size="26">100</text></g>
<g font-family='"Liberation Sans", sans-serif' font-size="33" fill="#000"><text x="353.7" y="119.2" text-anchor="middle" transform="translate(0,119.2) scale(1,1.07) translate(0,-119.2)">PM</text><text x="95.3" y="589.6" text-anchor="end" transform="translate(0,589.6) scale(1,1.07) translate(0,-589.6)">CO2</text><text x="614.6" y="589.6" text-anchor="start" transform="translate(0,589.6) scale(1,1.07) translate(0,-589.6)">GR</text></g>
<path d="M248.4,208.4L126.1,404.7" stroke="#0f4c70" stroke-width="3.2" fill="none"/>
<path d="M119.8,414.9L121.7,399.6L132.7,406.5Z" fill="#0f4c70"/>
<path d="M595.8,421.2L469.6,219.3" stroke="#6a5fb1" stroke-width="3.2" fill="none"/>
<path d="M463.2,209.1L476.1,217.5L465.1,224.4Z" fill="#6a5fb1"/>
<path d="M191.5,616.0L485.5,616.0" stroke="#d6264a" stroke-width="3" fill="none"/>
<path d="M496.5,616.0L483.5,622.0L483.5,610.0Z" fill="#d6264a"/>
<text transform="translate(172.0,319.0) rotate(-58)" font-family='"Liberation Serif", serif' font-size="33.5" fill="#0f4c70" text-anchor="middle">CO<tspan font-size="21" dy="6">2</tspan></text>
<text transform="translate(546.0,322.0) rotate(58)" font-family='"Liberation Serif", serif' font-size="31.5" fill="#6a5fb1" text-anchor="middle">PM<tspan font-size="20" dy="6">2.5</tspan></text>
<text x="340.0" y="648.5" font-family='"Liberation Serif", serif' font-size="29" fill="#d6264a" text-anchor="middle">GREEN</text>
<g fill="none"><path d="M827.2,514.3L1256.4,514.3" stroke="#efefef" stroke-width="1.3"/><path d="M1018.0,184.0L1232.5,555.6" stroke="#efefef" stroke-width="1.1"/><path d="M1065.6,184.0L851.1,555.6" stroke="#efefef" stroke-width="1.1"/><path d="M851.1,473.0L1232.5,473.0" stroke="#ebebeb" stroke-width="1.3"/><path d="M994.1,225.3L1184.8,555.6" stroke="#ebebeb" stroke-width="1.1"/><path d="M1089.5,225.3L898.8,555.6" stroke="#ebebeb" stroke-width="1.1"/><path d="M874.9,431.7L1208.7,431.7" stroke="#efefef" stroke-width="1.3"/><path d="M970.3,266.6L1137.2,555.6" stroke="#efefef" stroke-width="1.1"/><path d="M1113.3,266.6L946.4,555.6" stroke="#efefef" stroke-width="1.1"/><path d="M898.8,390.4L1184.8,390.4" stroke="#ebebeb" stroke-width="1.3"/><path d="M946.4,307.8L1089.5,555.6" stroke="#ebebeb" stroke-width="1.1"/><path d="M1137.2,307.8L994.1,555.6" stroke="#ebebeb" stroke-width="1.1"/><path d="M922.6,349.1L1161.0,349.1" stroke="#efefef" stroke-width="1.3"/><path d="M922.6,349.1L1041.8,555.6" stroke="#efefef" stroke-width="1.1"/><path d="M1161.0,349.1L1041.8,555.6" stroke="#efefef" stroke-width="1.1"/><path d="M946.4,307.8L1137.2,307.8" stroke="#ebebeb" stroke-width="1.3"/><path d="M898.8,390.4L994.1,555.6" stroke="#ebebeb" stroke-width="1.1"/><path d="M1184.8,390.4L1089.5,555.6" stroke="#ebebeb" stroke-width="1.1"/><path d="M970.3,266.6L1113.3,266.6" stroke="#efefef" stroke-width="1.3"/><path d="M874.9,431.7L946.4,555.6" stroke="#efefef" stroke-width="1.1"/><path d="M1208.7,431.7L1137.2,555.6" stroke="#efefef" stroke-width="1.1"/><path d="M994.1,225.3L1089.5,225.3" stroke="#ebebeb" stroke-width="1.3"/><path d="M851.1,473.0L898.8,555.6" stroke="#ebebeb" stroke-width="1.1"/><path d="M1232.5,473.0L1184.8,555.6" stroke="#ebebeb" stroke-width="1.1"/><path d="M1018.0,184.0L1065.6,184.0" stroke="#efefef" stroke-width="1.3"/><path d="M827.2,514.3L851.1,555.6" stroke="#efefef" stroke-width="1.1"/><path d="M1256.4,514.3L1232.5,555.6" stroke="#efefef" stroke-width="1.1"/></g>
<path d="M937.1,324.0L1036.1,495.3" stroke="#0f4c70" stroke-width="5.6" fill="none" stroke-dasharray="11 12.9" stroke-dashoffset="7.5"/>
<path d="M1140.7,314.0L1036.1,495.3" stroke="#d0021b" stroke-width="5.6" fill="none" stroke-dasharray="11 12.9" stroke-dashoffset="0"/>
<path d="M843.9,495.3L1245.4,495.3" stroke="#6a5fb1" stroke-width="4.6" fill="none" stroke-dasharray="10 10.7"/>
<g transform="scale(0.5)" fill="none" stroke="#00bfc4" stroke-opacity="0.35" stroke-width="6" stroke-linecap="square"><path d="M2167,647h0m-102,20h0m2,2h0m-10,10h0m10-4h0m78,8h0m-220,12h0m34-2h0m52,4h0m16,0h0m112,4h0m-120,14h0m64-4h0m2-2h0m50,6h0m-216,12h0m110,0h0m4,0h0m20,0h0m10-6h0m76,4h0m-220,28h0m138-2h0m-70,10h0m28,6h0m18-6h0m58,0h0m32-2h0m-238,20h0m122-6h0m24,2h0m32,0h0m8-2h0m64-2h0m6,8h0m-230,10h0m34-6h0m82-2h0m6,4h0m50,6h0m104-4h0m-318,16h0m108-2h0m6,2h0m6-6h0m4,0h0m34,0h0m14,4h0m20-2h0m2,4h0m190-6h0m10,2h0m-268,16h0m36-6h0m24,6h0m24,0h0m28-2h0m2,2h0m-282,4h0m82,4h0m20,4h0m66-4h0m22-2h0m12,4h0m48,2h0m26,0h0m8-4h0m82-6h0m-410,12h0m132,10h0m100,0h0m34,0h0m36,0h0m12-2h0m12,0h0m26-6h0m-298,18h0m12-8h0m134,8h0m4-4h0m12,0h0m8-4h0m14,2h0m4,0h0m4,4h0m40-6h0m28,10h0m14-10h0m6,10h0m2-8h0m4,2h0m-178,14h0m8,2h0m4,0h0m20-4h0m58,6h0m8,0h0m14-8h0m30,6h0m4-4h0m8,4h0m6-2h0m10,4h0m16-2h0m2-6h0m18,6h0m-322,6h0m34,4h0m114-6h0m6,0h0m34,0h0m12,6h0m18-2h0m26-4h0m4,10h0m2-10h0m2,8h0m64,0h0m30-4h0m-254,10h0m10-2h0m8,2h0m2,8h0m36-10h0m52,2h0m2,0h0m8,2h0m0,4h0m8-2h0m22,2h0m6-2h0m4-2h0m20-2h0m2,4h0m32,0h0m64,0h0m70,2h0m-480,12h0m74-8h0m56,6h0m16-2h0m66-2h0m2,2h0m6-2h0m4,0h0m16,8h0m4-8h0m38,8h0m32-10h0m10,8h0m38-8h0m34,4h0m-322,8h0m20,2h0m14,6h0m60-8h0m2,0h0m6,10h0m20,0h0m34,0h0m14-6h0m6,0h0m10,2h0m30,2h0m2-8h0m16,2h0m4,8h0m28-2h0m16-2h0m14-4h0m26,4h0m0,4h0m-300,12h0m34-10h0m18,4h0m0,4h0m14-6h0m2,8h0m14,0h0m30-2h0m12,0h0m2-6h0m6,0h0m0,6h0m4,0h0m22-8h0m2,4h0m2,4h0m2,0h0m4,0h0m2,2h0m4,0h0m6-8h0m6,0h0m16,4h0m6,4h0m2-4h0m4-6h0m30,4h0m6-4h0m2,2h0m10,2h0m48,4h0m16-6h0m34,2h0m106,2h0m-480,10h0m44-4h0m32,8h0m18-8h0m4,0h0m4,8h0m46-2h0m16,2h0m10-8h0m30,6h0m22,0h0m10-4h0m10,4h0m4-2h0m128,6h0m84,0h0m-538,6h0m80-4h0m26,2h0m12,8h0m26-2h0m38-4h0m2-2h0m6-2h0m4,2h0m10,6h0m4-2h0m22,4h0m14-10h0m8,0h0m4,0h0m4,6h0m2,4h0m4-4h0m14,4h0m2-6h0m8-2h0m10,8h0m4,0h0m10,0h0m38-8h0m8,8h0m6-4h0m8-4h0m16-2h0m20,0h0m24,0h0m32,6h0m-394,12h0m16,4h0m40-2h0m10,2h0m4-2h0m30,2h0m12-4h0m2,2h0m8-6h0m16,2h0m0,4h0m4,2h0m4-6h0m12,6h0m4-10h0m14,2h0m6,0h0m22,4h0m10,4h0m6,0h0m8-6h0m6-2h0m2,2h0m20-2h0m12,8h0m4-8h0m12,8h0m2-6h0m12,0h0m30,4h0m10-2h0m-490,8h0m38,8h0m40-6h0m8,2h0m22-6h0m64,4h0m18,0h0m42-4h0m16,2h0m6-2h0m6,4h0m22,4h0m20,2h0m2-10h0m20,2h0m12-2h0m12,0h0m26,2h0m8,8h0m2-10h0m12,0h0m10,4h0m16,0h0m20,4h0m20,2h0m12-6h0m4,6h0m48,0h0m6-4h0m4-2h0m-500,12h0m10,0h0m24,0h0m44-4h0m60,6h0m20,2h0m28-8h0m6,10h0m14-2h0m12-8h0m2,10h0m12-2h0m10-4h0m10,0h0m0-2h0m2,8h0m0-10h0m18,4h0m12,4h0m10,0h0m8,0h0m2-6h0m2,6h0m20,0h0m0-2h0m12-6h0m2,8h0m8-8h0m8,8h0m20-6h0m8,2h0m2,6h0m0-10h0m4,2h0m2,0h0m0,8h0m2-10h0m2,0h0m12,8h0m4-4h0m6,2h0m2,2h0m12,0h0m6,0h0m10,2h0m0-2h0m12,2h0m14-10h0m10,6h0m0,4h0m-538,8h0m10-6h0m40,10h0m50-10h0m6,10h0m58-8h0m2-2h0m30,6h0m8,2h0m4-4h0m18,2h0m16-4h0m10,2h0m20-4h0m6,10h0m22,0h0m8-6h0m6,4h0m14-2h0m2,4h0m2,0h0m0-10h0m14,8h0m0-2h0m4-2h0m16,6h0m2-10h0m2,6h0m2-4h0m2,8h0m6-2h0m4-4h0m12,0h0m4,0h0m2,4h0m2-8h0m10,6h0m6,4h0m2,0h0m2-10h0m18,2h0m4,2h0m28,6h0m0-6h0m12,0h0m6-4h0m2,2h0m126,6h0m46-4h0m-586,12h0m8,4h0m24,0h0m4-2h0m6,0h0m14,2h0m42-4h0m12,4h0m18,2h0m6-4h0m8-2h0m8-2h0m16,6h0m2-6h0m20,4h0m26,2h0m2,0h0m4-4h0m12-4h0m6,6h0m2,2h0m2-8h0m0,8h0m0-6h0m10,6h0m2-2h0m2-2h0m4,0h0m6,6h0m0-2h0m2-6h0m2-2h0m2,6h0m12,0h0m0,4h0m6-4h0m8-2h0m6,6h0m4,0h0m12,0h0m8,0h0m0-10h0m2,4h0m2,6h0m4-10h0m8,4h0m38,2h0m6-6h0m4,6h0m12-4h0m8,6h0m8,2h0m4-4h0m6-6h0m190,10h0m-708,8h0m64-4h0m144-2h0m2,8h0m2-4h0m18-4h0m32,6h0m2,0h0m24,2h0m12-2h0m6,2h0m2-6h0m4,2h0m16,2h0m10-4h0m0-2h0m2,8h0m2-8h0m30,0h0m14,4h0m8,2h0m4-2h0m12,4h0m2-2h0m4-6h0m0,8h0m6,2h0m4-10h0m2,2h0m8-2h0m10,0h0m0,8h0m2,2h0m2,0h0m24-6h0m2,6h0m4-4h0m8-4h0m26,2h0m76,0h0m40-4h0m38,8h0m-578,14h0m20,0h0m26-6h0m20-4h0m32,2h0m14,4h0m14-4h0m16,2h0m0,4h0m16-4h0m0,2h0m6-4h0m2,4h0m6-2h0m6,2h0m6,2h0m12,0h0m4,2h0m8,0h0m8,0h0m6-10h0m4,10h0m2-4h0m8-4h0m2-2h0m0,4h0m20-4h0m2,8h0m14,2h0m4-2h0m2-8h0m18,2h0m8,6h0m16,2h0m14-2h0m2-6h0m8,0h0m10-2h0m4,6h0m6-4h0m14-2h0m0,8h0m4-8h0m6,2h0m30,6h0m12,2h0m28-10h0m36,4h0m10,2h0m76-2h0m-652,18h0m132,0h0m16-8h0m6-2h0m2,4h0m12,0h0m2-2h0m2,4h0m2,2h0m14,2h0m0-10h0m12,2h0m4,6h0m4-4h0m4-4h0m8,0h0m10,4h0m2,2h0m4,4h0m24-8h0m20,4h0m14,2h0m2-4h0m14,0h0m4-4h0m12,6h0m2,2h0m0-6h0m2-2h0m2,8h0m26-4h0m0-2h0m14,2h0m0,2h0m4,0h0m10,0h0m0,4h0m4-10h0m2,4h0m2-2h0m4,0h0m2,2h0m0,4h0m4,2h0m16-4h0m2-2h0m2-2h0m4,2h0m0-4h0m26,8h0m8,2h0m2-10h0m6,6h0m2-2h0m2-2h0m24,8h0m10-10h0m2,10h0m4,0h0m4-2h0m14-6h0m76,8h0m66-10h0m-628,14h0m66,4h0m12,2h0m4,2h0m0-8h0m46,6h0m12,0h0m4,2h0m18-8h0m14,0h0m4,6h0m30-8h0m6,0h0m2,6h0m2,2h0m8-6h0m20-2h0m8,8h0m2,0h0m2,0h0m12,2h0m2-8h0m0,6h0m4,2h0m2,0h0m4-10h0m4,6h0m0-6h0m8,4h0m10,2h0m0-2h0m2-2h0m0,4h0m2-2h0m12-2h0m6,2h0m2-4h0m2,6h0m2,0h0m2-6h0m4,0h0m8,6h0m0,4h0m8,0h0m6-2h0m2-2h0m12-6h0m10,4h0m0,4h0m4-8h0m4,2h0m2,0h0m2,0h0m0,8h0m20-10h0m14,10h0m20-6h0m52,2h0m6,4h0m42-6h0m26,0h0m42,0h0m-730,16h0m32,2h0m2,0h0m52-4h0m36-4h0m22,6h0m10-6h0m16,8h0m2-8h0m40,0h0m12,2h0m0-2h0m6,2h0m6,2h0m8,2h0m2,0h0m4,0h0m4-2h0m12-6h0m6,0h0m8,0h0m22,6h0m6-2h0m6,6h0m4-4h0m8-4h0m0,6h0m2,0h0m6,0h0m2-6h0m0,6h0m4-8h0m8,6h0m2,4h0m4,0h0m2-10h0m4,6h0m2-6h0m4,6h0m6-6h0m2,6h0m4-4h0m2,2h0m2,6h0m2-2h0m0-6h0m6,4h0m4,4h0m14-6h0m4,6h0m4-2h0m10-2h0m0,4h0m4-6h0m4-4h0m0,8h0m4,0h0m2,0h0m2-6h0m4,2h0m2,4h0m8-2h0m2-6h0m4,0h0m2,4h0m0,4h0m2-6h0m6,4h0m10-4h0m4,8h0m6-8h0m12,6h0m6,0h0m18-2h0m0,4h0m2-4h0m2,2h0m8-2h0m8,0h0m2,2h0m4-4h0m2,6h0m28-8h0m88,6h0m52-4h0m-728,14h0m76,4h0m56-10h0m10,8h0m12-4h0m20,2h0m0-6h0m16,0h0m14,6h0m46-2h0m12,4h0m10-2h0m6-2h0m6-4h0m16,6h0m12-6h0m2,10h0m22-4h0m4-6h0m2,4h0m22,2h0m0,4h0m0-10h0m8,10h0m4,0h0m0-10h0m2,2h0m2,8h0m8-6h0m2,6h0m4-4h0m4-4h0m6,2h0m2-4h0m4,2h0m0,6h0m12-8h0m4,6h0m4,0h0m0-6h0m4,10h0m2-4h0m4-2h0m2,0h0m10-4h0m2,8h0m2,2h0m4-4h0m8,0h0m2,4h0m6-4h0m10,2h0m2,0h0m6-4h0m2,6h0m6-2h0m6-4h0m20-4h0m10,8h0m6,0h0m4-8h0m8,0h0m20,10h0m28,0h0m14,0h0m0-6h0m38,4h0m208-8h0m-852,12h0m86,6h0m26-4h0m12,2h0m30,2h0m50-4h0m36,2h0m6,4h0m6,0h0m6-6h0m12,0h0m12,0h0m4,0h0m2,8h0m0-6h0m14-2h0m2,6h0m2-2h0m2,0h0m6-6h0m2,6h0m4,2h0m2-8h0m2,8h0m4-8h0m0,4h0m2,2h0m8-4h0m10,4h0m4,2h0m8,2h0m6-8h0m4,8h0m6,0h0m6-2h0m2-6h0m6,4h0m8-4h0m0,8h0m4-8h0m0,4h0m14,2h0m4,0h0m4-2h0m4,4h0m8-8h0m0,8h0m2,0h0m0-2h0m6,2h0m8-4h0m8,2h0m2,0h0m2,2h0m0-8h0m2,6h0m6-8h0m4,6h0m6-6h0m8,10h0m6,0h0m0-10h0m20,4h0m8,0h0m12,4h0m2,0h0m12-6h0m4,6h0m2-6h0m2-2h0m36,0h0m2,0h0m6,8h0m4,0h0m12,0h0m44-8h0m0,8h0m52,2h0m28,0h0m4,0h0m22-8h0m-794,20h0m56-8h0m78,2h0m40-4h0m24,6h0m38-6h0m2,10h0m16-4h0m14-6h0m26,4h0m4,6h0m4-10h0m8,10h0m24-2h0m2-6h0m10,2h0m2,0h0m10,4h0m12,2h0m4-2h0m2-6h0m2,8h0m6-4h0m0-2h0m4,4h0m0-6h0m4,6h0m12-2h0m10,4h0m0-10h0m4,2h0m0,8h0m2,0h0m4-10h0m0,8h0m4-8h0m2,6h0m2,0h0m4,0h0m20,2h0m0-2h0m2-2h0m4,6h0m2,0h0m6-2h0m4-6h0m6,4h0m12-6h0m0,4h0m2,6h0m20-6h0m2,2h0m2-2h0m2,2h0m0-6h0m2,2h0m2,4h0m12-6h0m14,4h0m4,0h0m10-2h0m14,6h0m18-2h0m2,0h0m8,4h0m2-8h0m4,8h0m10-6h0m4-2h0m20,0h0m32,0h0m88,4h0m-436,6h0m36,2h0m20,0h0m12,0h0m6-2h0m8,2h0m32,0h0m48-2h0m10,0h0m38,0h0m24,0h0m0,2h0m140-2h0"/><path d="M2031,627h0m2-2h0m46,2h0m124,14h0m-190,12h0m80,4h0m2,0h0m-162,24h0m42-2h0m140,2h0m-56,14h0m0-10h0m-44,14h0m78,6h0m-178,10h0m118,2h0m48,2h0m52-2h0m-146,12h0m48-4h0m20,6h0m32,12h0m8-8h0m56,8h0m0-2h0m-154,6h0m54,0h0m30,8h0m32-10h0m4,0h0m-132,20h0m106-8h0m6,0h0m14,2h0m2,8h0m36,0h0m-202,10h0m90-6h0m14-2h0m28,0h0m12,0h0m-158,20h0m24-8h0m14,8h0m40,2h0m38-6h0m12-2h0m22,0h0m8,8h0m2,0h0m26,0h0m56-6h0m-236,10h0m16,8h0m4-2h0m6-4h0m148,4h0m14,0h0m18-4h0m-148,16h0m24-6h0m26,8h0m28,0h0m6-2h0m0-6h0m2,8h0m16-8h0m6,2h0m4,0h0m26,6h0m12,0h0m2-4h0m42,0h0m-256,8h0m48,4h0m32,0h0m14-2h0m4,2h0m6-2h0m4,6h0m14-2h0m26-6h0m8-2h0m20,2h0m18-2h0m-168,12h0m30,10h0m24-2h0m12,0h0m14,0h0m38-4h0m2-2h0m38-2h0m-104,14h0m2,6h0m26,2h0m38-10h0m40,8h0m44-8h0m44,0h0m156,2h0m-492,20h0m32-8h0m58,8h0m8-4h0m36,4h0m6,0h0m22-2h0m6-8h0m4,0h0m28,2h0m0-2h0m10,2h0m6,8h0m16-4h0m34-2h0m12,2h0m-264,12h0m36,4h0m76-6h0m20-2h0m8,8h0m30-6h0m16-2h0m8,0h0m4,2h0m8,6h0m6-10h0m16,8h0m6-4h0m12,4h0m6-8h0m14,10h0m2-8h0m22,0h0m14,6h0m88-2h0m-420,6h0m40,10h0m44-10h0m2,2h0m0,8h0m6,0h0m102-4h0m10,4h0m16,0h0m52-4h0m28,4h0m2-2h0m176,0h0m-532,8h0m98,6h0m72-4h0m18-6h0m0,8h0m4-2h0m6-4h0m10,2h0m28,6h0m4-10h0m2,10h0m14,0h0m26-10h0m14,10h0m8,0h0m2-2h0m0-2h0m20,4h0m6,0h0m14-2h0m-266,8h0m66-4h0m4,8h0m32-4h0m10,0h0m10,6h0m24-6h0m12,0h0m2-2h0m20,8h0m4-10h0m12,6h0m12,2h0m8-4h0m2-4h0m12,6h0m6-4h0m34,6h0m12-4h0m16,6h0m0-10h0m98,2h0m-444,18h0m90,2h0m2-8h0m46,4h0m6,2h0m8,2h0m8-10h0m18,6h0m2,2h0m16,2h0m6,0h0m4-2h0m0-2h0m12-6h0m18,8h0m0,2h0m8-2h0m0-2h0m4,0h0m12-2h0m2,6h0m2,0h0m16-4h0m2-2h0m42,2h0m18,0h0m28-2h0m30,4h0m-500,4h0m26,6h0m20-2h0m84,0h0m36,0h0m20,2h0m32,4h0m30-10h0m16,0h0m4,6h0m10-4h0m28-2h0m4,4h0m4,0h0m16,6h0m18-2h0m16-2h0m2,0h0m4-2h0m4,0h0m6,4h0m20-6h0m22,4h0m108-4h0m22,6h0m-464,12h0m14-4h0m12-2h0m36,2h0m56,2h0m12,4h0m22-6h0m20,2h0m10-4h0m10-2h0m6,10h0m12-6h0m4-4h0m10,8h0m2,0h0m6,2h0m2-8h0m4-2h0m8,4h0m4,6h0m0-6h0m10,6h0m2-4h0m2-6h0m12,4h0m32-2h0m20,6h0m0-2h0m2,2h0m10-2h0m0-2h0m28-4h0m8,10h0m16-8h0m-492,12h0m74,0h0m10,6h0m70-2h0m38,4h0m6,0h0m2-2h0m12-2h0m4-4h0m14,8h0m30-10h0m12,10h0m30-10h0m0,4h0m16-4h0m2,6h0m10-6h0m0,8h0m18-4h0m6-2h0m16-2h0m6,2h0m6,8h0m4-10h0m0,4h0m10-2h0m8,0h0m16,8h0m32-10h0m10,10h0m12-10h0m-440,12h0m114,10h0m28,0h0m8,0h0m4-2h0m46-4h0m4,6h0m42-2h0m6-8h0m12,10h0m4-4h0m10,2h0m4-4h0m2,2h0m0,2h0m2-4h0m4,4h0m2-2h0m0-6h0m0,8h0m2-4h0m2,0h0m4-4h0m4,8h0m8-6h0m4,2h0m6,2h0m4-4h0m4,8h0m4-4h0m2-4h0m2,4h0m12,2h0m4,0h0m64-4h0m6-4h0m8,8h0m2-4h0m6,6h0m24-8h0m154,0h0m-678,16h0m68-4h0m54,6h0m0-4h0m14,2h0m14-2h0m48,2h0m22,4h0m14-6h0m18,2h0m20-6h0m18,4h0m8-4h0m8,0h0m16,2h0m16,0h0m12,0h0m4,8h0m10-2h0m4,2h0m0-10h0m8,4h0m2-2h0m2,6h0m10,0h0m2-4h0m16,6h0m8-6h0m8,0h0m10,6h0m24-4h0m4,4h0m14-8h0m36,2h0m0,4h0m10-2h0m6,4h0m-516,6h0m30-2h0m18,4h0m46,2h0m32-6h0m44,4h0m36,4h0m18-2h0m6,0h0m12-8h0m16,6h0m2,4h0m16,0h0m28-2h0m0-2h0m6-6h0m0,4h0m2,4h0m8,0h0m6,0h0m30-6h0m6,2h0m14,2h0m8,4h0m22-6h0m16,4h0m12,0h0m18-8h0m16,6h0m18,4h0m2-2h0m18-2h0m8,4h0m24-8h0m22-2h0m-586,14h0m62,6h0m6-2h0m14-4h0m2-2h0m0,2h0m102,2h0m8,0h0m8,0h0m8,4h0m14-8h0m8,2h0m4-2h0m2,6h0m12-2h0m24,4h0m18-2h0m8-4h0m2,2h0m6,0h0m6,2h0m2-6h0m4,2h0m6,0h0m0,8h0m2-2h0m0-8h0m4,4h0m4,6h0m6-10h0m6,10h0m0-6h0m18-2h0m4,4h0m16-2h0m8,6h0m0-2h0m6,0h0m8,2h0m12-8h0m0,2h0m8,6h0m16-4h0m6-6h0m0,8h0m14-6h0m16,4h0m0-2h0m22-4h0m2,8h0m20,2h0m2-2h0m4-4h0m2,6h0m122-6h0m-662,10h0m168,4h0m8,4h0m20,0h0m2-2h0m12-8h0m16,0h0m20,0h0m10,2h0m2,2h0m12-2h0m6-2h0m10,6h0m38-2h0m4-2h0m6,0h0m4,4h0m2,2h0m8,0h0m2,2h0m18-4h0m2-6h0m12,0h0m8,10h0m2,0h0m14-6h0m4,6h0m8-2h0m0-6h0m6,0h0m4,6h0m4-6h0m0,6h0m2,2h0m6-2h0m8-4h0m2-4h0m0,10h0m2,0h0m20-4h0m0,4h0m6-10h0m8,8h0m8,0h0m14-8h0m2,8h0m2-2h0m4-4h0m24,8h0m2-8h0m10,2h0m42-2h0m62,6h0m-638,14h0m22,0h0m30,0h0m14-2h0m114,2h0m12-8h0m4,8h0m30-2h0m4,2h0m62,0h0m2-10h0m10,10h0m2-10h0m4,2h0m18,6h0m4-6h0m18,0h0m0,2h0m10,2h0m8,2h0m8,2h0m2-8h0m0,6h0m6-4h0m0,6h0m2,0h0m6-6h0m2,6h0m2-4h0m8-4h0m2,6h0m16,0h0m10,2h0m12-10h0m2,6h0m4-2h0m0-2h0m8,2h0m8,0h0m6-4h0m6,4h0m10-4h0m2,0h0m10,4h0m2,6h0m20-4h0m20-2h0m-452,8h0m2,10h0m38-10h0m8,10h0m18,0h0m0-10h0m22,0h0m16,0h0m16,6h0m6,0h0m10-2h0m2-2h0m16,6h0m14-4h0m24,2h0m6-6h0m4,6h0m12,0h0m6,2h0m2-4h0m4,6h0m4-10h0m10,4h0m8-2h0m12,8h0m6,0h0m4-4h0m10,4h0m2-6h0m6,2h0m8,4h0m2-4h0m4-6h0m2,0h0m8,2h0m6,6h0m2-2h0m20-4h0m4,2h0m18-4h0m0,4h0m14-4h0m2,2h0m40,4h0m28-4h0m32,8h0m18-8h0m14,0h0m-640,10h0m44,6h0m58,2h0m20,2h0m4-8h0m26,2h0m4-2h0m2,4h0m6-2h0m14,4h0m14-4h0m18-4h0m12,4h0m2-2h0m10-2h0m2,8h0m8,0h0m28,2h0m6,0h0m28-8h0m16,2h0m4-2h0m0,6h0m4,0h0m0-2h0m6-4h0m8,8h0m4-4h0m0-6h0m2,10h0m2,0h0m6-2h0m0-4h0m4,0h0m2,6h0m0-2h0m2,0h0m6,2h0m6-4h0m2,0h0m2-6h0m2,2h0m16,2h0m0,4h0m4-8h0m0,4h0m4,2h0m4-2h0m4,4h0m6-8h0m2,4h0m18,0h0m6,4h0m4-8h0m2,6h0m6-2h0m4-2h0m6-2h0m2,10h0m20-6h0m4,4h0m4,2h0m6,0h0m2-4h0m4,2h0m4-6h0m10,6h0m4-4h0m4-4h0m16,10h0m4-8h0m6,8h0m4-6h0m4-2h0m16,4h0m4,2h0m50,2h0m48-6h0m6,2h0m14,4h0m-676,6h0m38,4h0m8-4h0m74-2h0m12,4h0m8-2h0m14,6h0m20-8h0m38,6h0m0-6h0m34,4h0m8-6h0m10,4h0m12,2h0m0-6h0m16,4h0m4,4h0m4-8h0m4,4h0m2,2h0m10,2h0m8,0h0m10-4h0m14,4h0m0-2h0m4,0h0m26,4h0m4-2h0m6-6h0m4,0h0m0,2h0m2,2h0m8-6h0m4,0h0m6,10h0m12-10h0m0,6h0m0,4h0m2-2h0m6,2h0m2-6h0m0-2h0m2,2h0m4-2h0m2,6h0m0-6h0m2,4h0m20,2h0m8-6h0m4,2h0m4-2h0m14,6h0m48,0h0m38,0h0m250-8h0m-764,16h0m0,4h0m58,2h0m2-6h0m2,0h0m30,2h0m2,2h0m20,0h0m28-4h0m12,2h0m46-4h0m16,8h0m4-8h0m2,8h0m4-4h0m10-6h0m14,4h0m16-2h0m2,0h0m2,8h0m8,0h0m8-10h0m14,10h0m0-2h0m2,2h0m4-8h0m8,8h0m2-4h0m2,2h0m4-4h0m10-4h0m4,8h0m2-8h0m0,2h0m4,2h0m2-2h0m4,6h0m0-8h0m4,10h0m6-2h0m4-8h0m4,4h0m6-4h0m2,0h0m2,2h0m0,4h0m10,0h0m4-6h0m2,4h0m2,6h0m8-6h0m8,2h0m4,2h0m0,2h0m18-10h0m6,0h0m24,8h0m2-4h0m2-2h0m2,4h0m24,4h0m4-2h0m38,2h0m94-2h0m8-6h0m-606,12h0m26,0h0m2,0h0m20,8h0m0-8h0m26,8h0m12-2h0m38-6h0m8,6h0m18-2h0m6-4h0m6,6h0m0-2h0m2,4h0m4-6h0m8-2h0m10-2h0m10,0h0m10,4h0m2-2h0m2,8h0m0-10h0m6,8h0m2-6h0m2,8h0m0-2h0m6-6h0m2,6h0m8,2h0m0-10h0m6,10h0m6-4h0m0-2h0m0,4h0m2-4h0m0,4h0m2-8h0m2,8h0m8-2h0m2-4h0m0,4h0m0-6h0m4,0h0m10,0h0m2,4h0m6,2h0m2,0h0m0-4h0m8,6h0m10,0h0m14-2h0m0,4h0m2-8h0m2-2h0m6,0h0m2,0h0m8,8h0m8-2h0m4-2h0m0-4h0m12,4h0m10-2h0m0-2h0m6,4h0m2-4h0m0,4h0m2,6h0m0-2h0m2-2h0m0-4h0m4,2h0m8,4h0m6-2h0m0,2h0m2-8h0m2,6h0m104,0h0m12,2h0m18-6h0m48,8h0m22-4h0m62,4h0m-818,10h0m14-8h0m64,4h0m6,6h0m38-2h0m8-4h0m8,6h0m6,0h0m6-2h0m16-2h0m2,0h0m14,4h0m8-8h0m6-2h0m48,6h0m2,0h0m18,2h0m20,2h0m6-8h0m0,8h0m6-8h0m36,2h0m6,2h0m10-6h0m0,4h0m0,2h0m2,0h0m0-2h0m2,2h0m8,0h0m2,4h0m16-2h0m2-2h0m0,4h0m2-10h0m6,0h0m0,8h0m6-2h0m8,0h0m4-6h0m4,8h0m2-6h0m0,8h0m2,0h0m6-6h0m2-2h0m4,8h0m0-2h0m4-2h0m4-6h0m4,4h0m2-4h0m0,4h0m2,6h0m4-2h0m0-6h0m2,4h0m6-2h0m4,2h0m4,2h0m4-8h0m2,4h0m2,4h0m6-2h0m2-4h0m0,4h0m4,2h0m4-2h0m18,2h0m10,2h0m2-8h0m10,2h0m4,0h0m2,0h0m6-4h0m32,4h0m2,6h0m32-6h0m78,0h0m4,0h0m110-2h0m-678,10h0m100,2h0m26-2h0m42,2h0m24,0h0m26-2h0m6,2h0m30-2h0m0,2h0m52,0h0m26-2h0m2,2h0m18-2h0m14,2h0m66,0h0m50-2h0m24,0h0"/><path d="M2035,639h0m78,4h0m-50,16h0m14-4h0m78-6h0m-42,30h0m24-2h0m22,2h0m12-6h0m-128,22h0m8-10h0m30,4h0m-40,10h0m32,6h0m-58,8h0m8,4h0m32-2h0m10-2h0m32,4h0m12,2h0m-152,8h0m42-4h0m4,8h0m42-10h0m20,2h0m-162,18h0m84-2h0m18,2h0m24,2h0m2-4h0m96,4h0m74-2h0m-190,4h0m26,0h0m6,10h0m44-10h0m-96,12h0m10,0h0m66,2h0m-86,10h0m82,8h0m34-2h0m2-4h0m86,8h0m-304,4h0m32,6h0m94,2h0m6,0h0m20-10h0m32,2h0m26-2h0m-86,16h0m42,6h0m0-8h0m8,0h0m10,2h0m10,4h0m86-4h0m-220,16h0m26-8h0m22,10h0m92-2h0m92-2h0m8,4h0m-302,6h0m44-2h0m10,6h0m96,0h0m6,2h0m-136,2h0m0,4h0m94-2h0m14-2h0m48,10h0m16-2h0m20,2h0m26-4h0m120,2h0m-352,12h0m20,2h0m50-2h0m20-6h0m36,6h0m30-6h0m28,6h0m2,0h0m14-4h0m12,4h0m12-6h0m0,4h0m0,2h0m44-4h0m64-2h0m40-2h0m86,10h0m-498,4h0m144,4h0m46,0h0m0,2h0m2,2h0m22-4h0m4,4h0m140-10h0m-270,20h0m6-4h0m18,4h0m54-2h0m14-6h0m10,4h0m8,6h0m2-10h0m0,2h0m12-2h0m26,8h0m0,2h0m24-6h0m44,6h0m2-4h0m78-4h0m-338,14h0m60-4h0m16,2h0m52,6h0m2,0h0m12-2h0m0,2h0m6-4h0m4,2h0m18-2h0m30,4h0m10-2h0m16,2h0m52,0h0m2,2h0m18-10h0m58,6h0m146,0h0m-616,16h0m60-2h0m60-8h0m78,2h0m2,8h0m18-4h0m22-6h0m12,10h0m6-8h0m20-2h0m6,10h0m4-6h0m14,0h0m2,4h0m20-8h0m4,2h0m6,0h0m14,6h0m18,2h0m0-6h0m86,0h0m18-4h0m30,0h0m-354,18h0m10,4h0m14-2h0m22-2h0m22-4h0m16,0h0m4,8h0m18-6h0m0,2h0m4,2h0m4,0h0m2-2h0m14-4h0m6,4h0m8,0h0m8-4h0m18,8h0m0-6h0m12,0h0m0,2h0m6,2h0m4,2h0m2-2h0m2-6h0m6,8h0m14-10h0m102,6h0m18-6h0m-510,14h0m102,0h0m22-2h0m30,4h0m38,0h0m44,0h0m18,0h0m10,0h0m32-4h0m6,8h0m2-4h0m16-4h0m4,4h0m68,0h0m0,4h0m40-4h0m10-2h0m-322,10h0m16,6h0m48,0h0m8-2h0m24,0h0m4,2h0m12,4h0m2-2h0m10-6h0m18-2h0m0,4h0m10,6h0m12-2h0m26,2h0m2-6h0m12,0h0m6-2h0m2,4h0m6,2h0m6-6h0m8-2h0m0,8h0m20-4h0m34,4h0m48-8h0m-452,20h0m144-2h0m58,0h0m18,0h0m6-4h0m4,0h0m6,2h0m0-2h0m26,8h0m2-6h0m6,0h0m6-4h0m6,2h0m4-2h0m6,0h0m0,8h0m14,0h0m2-2h0m8,0h0m6-6h0m24,0h0m6,4h0m22,2h0m0-2h0m2,6h0m12-6h0m10-4h0m2,2h0m108-2h0m10,4h0m-518,12h0m134-4h0m94,6h0m2,4h0m2-10h0m10,8h0m2-2h0m8-4h0m12,8h0m4-2h0m8,0h0m8-6h0m16,0h0m8,6h0m8-4h0m24,2h0m12-2h0m0,4h0m6-6h0m28,0h0m4,0h0m0,6h0m6-4h0m36,0h0m28,6h0m80-6h0m-544,8h0m60,2h0m6,0h0m0,8h0m6-4h0m8-4h0m10,2h0m2,2h0m52-2h0m14-4h0m20,8h0m16-6h0m0,8h0m14,0h0m6-6h0m18-4h0m2,0h0m4,10h0m8-8h0m4,8h0m0-10h0m6,0h0m4,2h0m20,0h0m2,2h0m12,4h0m6-8h0m12,6h0m6,2h0m8-4h0m10,4h0m0,2h0m2-4h0m6-2h0m20,0h0m8,4h0m8-6h0m22,6h0m24-6h0m2,4h0m4-6h0m16,10h0m30-6h0m6,2h0m-418,12h0m24,0h0m4-2h0m34-4h0m2,10h0m10-10h0m26,2h0m8,2h0m24,6h0m22,0h0m2-2h0m16-2h0m10-4h0m4,8h0m12-10h0m10,0h0m2,10h0m6-4h0m8-2h0m0-2h0m2,2h0m2,6h0m6,0h0m10-6h0m14,0h0m14,6h0m0-6h0m22-4h0m2,0h0m2,8h0m2,0h0m26,2h0m14-4h0m16,2h0m106-4h0m16,4h0m70,2h0m-666,10h0m10,2h0m82-6h0m86,6h0m6-4h0m30,2h0m8,0h0m8-2h0m4,2h0m30-4h0m4,4h0m2-2h0m12,2h0m32,0h0m14,0h0m6-4h0m28-2h0m4-2h0m4,8h0m2-8h0m14,8h0m0-2h0m2,2h0m6-2h0m6,0h0m2-2h0m0,6h0m6,0h0m12-4h0m6,0h0m14,4h0m4-8h0m4,8h0m6-4h0m12-4h0m22-2h0m18,4h0m34,4h0m36-8h0m104,8h0m-644,8h0m82,4h0m14-8h0m8,4h0m16,2h0m16,2h0m10-2h0m0,2h0m6-2h0m2-6h0m6,8h0m16-6h0m6,4h0m4-4h0m2,6h0m2-6h0m36,6h0m8,0h0m20-2h0m12-4h0m0,4h0m2,2h0m8,0h0m12-2h0m14-2h0m6,6h0m0-6h0m0,2h0m2,4h0m4-6h0m8,6h0m8-10h0m6,0h0m6,0h0m2,2h0m4,2h0m38,6h0m4-6h0m4,0h0m18,2h0m6-4h0m0,8h0m2-2h0m0-6h0m12,2h0m48,0h0m88-2h0m-588,18h0m62-8h0m14,8h0m14,2h0m0-10h0m8,10h0m50,0h0m6,0h0m2,0h0m26-10h0m4,0h0m16,2h0m2,0h0m12,0h0m10,6h0m2,0h0m12-2h0m32,2h0m4-2h0m12,0h0m2-6h0m0,8h0m8-8h0m2,2h0m2,0h0m4,8h0m10,0h0m0-10h0m2,0h0m2,2h0m2-2h0m0,8h0m2-2h0m2-6h0m2,0h0m8,8h0m4,0h0m2-4h0m2-2h0m4,8h0m6,0h0m4,0h0m0-10h0m6,10h0m0-2h0m2-6h0m2,8h0m0-8h0m2,2h0m6-2h0m2,8h0m6-10h0m8,10h0m8-8h0m4,6h0m4-4h0m34-4h0m28,2h0m12,8h0m18-10h0m28,4h0m60,0h0m20,2h0m-608,14h0m2-2h0m64-2h0m46-2h0m6,2h0m38,4h0m16-8h0m12,4h0m2,4h0m16,0h0m2-8h0m26,6h0m6-4h0m12,8h0m10,0h0m16-4h0m10-6h0m2,2h0m0-2h0m6,0h0m8,4h0m8,2h0m2,4h0m8-4h0m6-4h0m2-2h0m6,10h0m2-2h0m0-2h0m6-6h0m4,10h0m6-2h0m8-4h0m0,6h0m8-6h0m8-4h0m4,0h0m0,4h0m2-4h0m8,0h0m2,2h0m0,6h0m4,2h0m4,0h0m4-6h0m0,2h0m4,2h0m10-6h0m0,4h0m2,2h0m12-2h0m4-2h0m6-2h0m18,4h0m2,2h0m2,2h0m18,0h0m6-4h0m14,4h0m0-10h0m46,0h0m6,4h0m14,6h0m24-6h0m8-2h0m34-2h0m-612,12h0m14,2h0m0,4h0m10,0h0m26,0h0m40,2h0m58-8h0m38,8h0m8-8h0m18,2h0m26-2h0m2,0h0m0,6h0m2,0h0m4,4h0m2,0h0m0-10h0m12,6h0m10,4h0m6-10h0m2,10h0m2-6h0m10-2h0m0,8h0m2,0h0m0-10h0m14,8h0m2,2h0m2,0h0m6-8h0m4-2h0m2,2h0m0,2h0m12,2h0m12-4h0m4,4h0m8,2h0m10-2h0m0,2h0m26-6h0m10,4h0m16-6h0m0,4h0m10-2h0m8,2h0m8,0h0m4-2h0m2,8h0m24-10h0m28,6h0m34-4h0m132,6h0m-746,14h0m66-10h0m60,8h0m4-2h0m6,0h0m12-4h0m52,6h0m2-4h0m0-2h0m2,0h0m20,8h0m2-6h0m2-4h0m24,4h0m2-4h0m22,0h0m6,4h0m26,2h0m16,0h0m2-4h0m0,6h0m2-4h0m2,0h0m2,6h0m14-6h0m2,4h0m6,2h0m2-2h0m2,2h0m0-8h0m4,2h0m4-4h0m4,0h0m2,10h0m0-2h0m4,0h0m0-8h0m4,10h0m0-4h0m8-2h0m4-4h0m4,10h0m8-10h0m2,10h0m6,0h0m8-4h0m2,4h0m8-8h0m6,6h0m6,0h0m4-6h0m12,2h0m2,6h0m2,0h0m4,0h0m2-4h0m4-2h0m0,4h0m0,2h0m8-8h0m2,2h0m2-2h0m10,2h0m18,0h0m4,0h0m26,6h0m32-4h0m100,0h0m-664,8h0m16,0h0m30,2h0m42,0h0m8,6h0m10-2h0m42,2h0m40-4h0m38,0h0m6-6h0m10,2h0m2,8h0m2-4h0m14-2h0m14,4h0m4-6h0m2,8h0m6-6h0m2-2h0m4,6h0m4-4h0m8-4h0m10,10h0m8,0h0m2-6h0m4,0h0m6,4h0m2-8h0m4,2h0m10,8h0m2-6h0m4,2h0m2,2h0m2,0h0m8-8h0m0,2h0m2,8h0m2-6h0m4,6h0m10,0h0m2,0h0m2-6h0m2-2h0m2-2h0m2,0h0m4,6h0m2-2h0m0,4h0m2-6h0m4,2h0m8-4h0m8,10h0m6-2h0m2,0h0m4-4h0m2-2h0m18,2h0m2-2h0m0-2h0m4,2h0m0-2h0m2,6h0m0,4h0m2,0h0m2-10h0m4,6h0m4-2h0m4,4h0m2-8h0m2,0h0m6,4h0m4,4h0m6,2h0m16-4h0m4-6h0m58,4h0m12,4h0m54,0h0m10-2h0m12,0h0m-560,6h0m26,8h0m14-4h0m16,4h0m6-8h0m8,4h0m16,2h0m2,2h0m2,0h0m2-6h0m16,0h0m18,4h0m22,2h0m8-2h0m18,0h0m18,2h0m0,2h0m2-10h0m2,8h0m4-2h0m10-4h0m18,0h0m10,0h0m14,6h0m4-2h0m4-2h0m2,2h0m0-6h0m4,8h0m0-2h0m0-6h0m6,6h0m10-4h0m4,8h0m0-6h0m0-2h0m10,6h0m0-6h0m6,2h0m2,2h0m4,4h0m6-10h0m6,4h0m18-4h0m14,8h0m4-8h0m2,2h0m2,0h0m0,4h0m2,0h0m6-6h0m2,8h0m2-6h0m2,6h0m2-8h0m20,6h0m2-6h0m4,6h0m8-6h0m6,0h0m6,2h0m20-2h0m18,8h0m32,0h0m4-8h0m12,2h0m10,6h0m48-8h0m38,2h0m-652,10h0m20,6h0m6,2h0m28,0h0m8-8h0m48,8h0m2,2h0m2-10h0m14,4h0m4,4h0m32-8h0m36,8h0m12,0h0m2-4h0m4,0h0m6,2h0m4,2h0m4,0h0m8,0h0m14-4h0m4,0h0m0,4h0m2,2h0m22,0h0m6-2h0m0-6h0m10,2h0m18,0h0m4-2h0m4,0h0m12,0h0m0,6h0m2-2h0m2,4h0m2-6h0m4,4h0m0-8h0m4,0h0m4,10h0m4-6h0m0,4h0m14,0h0m2,2h0m4-2h0m10-6h0m8,2h0m14,4h0m10-6h0m2,0h0m10,0h0m2,6h0m2-4h0m2,2h0m14,2h0m14-8h0m0,4h0m0,2h0m10,4h0m10-4h0m22,0h0m8-4h0m24-2h0m14,4h0m58-4h0m-664,18h0m24,2h0m30-4h0m22-4h0m38,4h0m78,2h0m26-6h0m16,4h0m2,2h0m6-2h0m8-2h0m4,8h0m22-10h0m2,2h0m6,2h0m2,6h0m2-2h0m2-6h0m2,0h0m4,0h0m2,8h0m36-4h0m2-2h0m2,4h0m10-4h0m8,2h0m2-6h0m6,10h0m2-8h0m10,4h0m12-4h0m8-2h0m2,10h0m4-6h0m4-2h0m4,0h0m2,6h0m2,2h0m0-6h0m2-2h0m8-2h0m2,10h0m2,0h0m2-8h0m4,2h0m0,4h0m10-4h0m2,2h0m2-2h0m2,2h0m10,0h0m2,0h0m8-4h0m4-2h0m4,10h0m18-2h0m8,0h0m6-6h0m8,2h0m4-2h0m12,0h0m4,8h0m6-4h0m4-6h0m24,10h0m14-2h0m14-2h0m26,2h0m24-6h0m18,6h0m20-6h0m42,4h0m-662,8h0m46-2h0m140,0h0m52,2h0m4,0h0m28-2h0m10,2h0m6,0h0m8,0h0m2,0h0m2-2h0m14,0h0m36,2h0m30,0h0m2-2h0m2,2h0m2,0h0m8-2h0m18,0h0m84,2h0"/><path d="M2015,627h0m110,4h0m-30,20h0m30,2h0m-134,16h0m142,2h0m-224,4h0m60,8h0m34-2h0m24-6h0m20,8h0m-14,8h0m80-4h0m-106,16h0m8,0h0m92,8h0m-126,10h0m58,0h0m92,10h0m-96,6h0m146,4h0m-210,14h0m30-4h0m38,0h0m22-2h0m10,4h0m102-4h0m-268,18h0m222-4h0m10,4h0m8-4h0m-120,8h0m92,8h0m80-4h0m72-2h0m-174,14h0m62,2h0m22-4h0m14,4h0m-314,4h0m122,8h0m40,0h0m30,2h0m22-8h0m2,4h0m-246,16h0m124-10h0m42,8h0m136-2h0m22,2h0m-318,14h0m2-10h0m86,6h0m34,4h0m46-10h0m34,4h0m4,2h0m22,2h0m54,0h0m8-2h0m-352,8h0m56,2h0m18,6h0m114-4h0m92,0h0m74,0h0m-242,8h0m156,8h0m2-4h0m12-4h0m20,2h0m2,0h0m8-4h0m2,8h0m18,0h0m24-8h0m0,6h0m-310,12h0m12-2h0m52,2h0m86,4h0m4-8h0m24,6h0m34-4h0m10,4h0m4,0h0m6-4h0m14,0h0m0,6h0m30-4h0m134,4h0m-478,6h0m22,0h0m26,6h0m86,0h0m36-4h0m8,0h0m18-6h0m12,0h0m102,8h0m16-4h0m2,0h0m10,6h0m52-10h0m12,0h0m-258,16h0m20,2h0m28,0h0m62-2h0m14-2h0m10-2h0m12,10h0m6-6h0m14,2h0m24-2h0m6,0h0m14,4h0m0-2h0m2,0h0m2,4h0m102-10h0m138,2h0m-378,18h0m20,0h0m12,2h0m10,0h0m20-10h0m4,6h0m10,2h0m6,0h0m20-6h0m14-2h0m2,8h0m6-6h0m6,0h0m10-2h0m12,6h0m16,4h0m-312,4h0m50,0h0m64,8h0m22-8h0m6-2h0m10,4h0m16,0h0m10-2h0m24,4h0m22,0h0m0,4h0m4-6h0m6,2h0m18-6h0m24,10h0m14-10h0m4,2h0m12,2h0m-342,12h0m124,6h0m10,0h0m2-6h0m4-2h0m14,6h0m2-4h0m8,4h0m4,0h0m8-6h0m2,6h0m38-4h0m6-2h0m8,6h0m2-8h0m8,0h0m2,10h0m54-10h0m12,8h0m64-6h0m-452,18h0m180-8h0m52,4h0m16-4h0m18,2h0m14-2h0m10,6h0m14-2h0m10,4h0m14-2h0m2,2h0m4,0h0m18-4h0m2,0h0m14,6h0m22-6h0m2,6h0m10-8h0m4,4h0m42-2h0m78,6h0m38,0h0m-534,4h0m62,8h0m8-4h0m28-2h0m4,6h0m16-2h0m30,0h0m30,2h0m20-2h0m4-8h0m6,10h0m22,0h0m26,0h0m8-2h0m2-6h0m0,4h0m10,0h0m6,0h0m8-6h0m6,2h0m6,6h0m8-4h0m16,2h0m6,2h0m8-2h0m2,0h0m2-6h0m8,10h0m0-10h0m34,2h0m8,0h0m2,4h0m22-6h0m16,6h0m68,2h0m130-4h0m-676,14h0m24,2h0m4-8h0m88,6h0m56-6h0m60,4h0m12,0h0m10-4h0m2,0h0m6,10h0m12-8h0m14,4h0m8,2h0m12-8h0m6,0h0m12,2h0m24,8h0m8-6h0m12-2h0m6,2h0m18,2h0m16,2h0m10-4h0m22,2h0m116,4h0m-450,12h0m10-10h0m8,2h0m4,4h0m30,4h0m8-8h0m14,6h0m4-6h0m6,6h0m2-2h0m56-6h0m10,4h0m10,4h0m2,2h0m30-8h0m2-2h0m6,10h0m4-2h0m0-2h0m6,2h0m2-4h0m4-4h0m14,8h0m2,2h0m14,0h0m2-4h0m2,2h0m14-2h0m0,2h0m30-2h0m4,4h0m12-10h0m6,0h0m0,4h0m4,4h0m38,0h0m22-2h0m8-6h0m30,6h0m32,4h0m22,0h0m-534,10h0m6,0h0m24-8h0m52,10h0m12,0h0m12-8h0m8,4h0m4-2h0m10,2h0m12-6h0m18,8h0m40,2h0m8-10h0m6,0h0m8,0h0m4,8h0m20-6h0m8,8h0m2-6h0m6-4h0m12,8h0m4,2h0m6-4h0m10-6h0m4,2h0m2,0h0m28,8h0m2-2h0m2-2h0m6-2h0m2-2h0m68,8h0m40-4h0m0-2h0m14-4h0m12,4h0m2-4h0m74,8h0m-524,4h0m16,8h0m6,0h0m4-4h0m32-2h0m2,6h0m60,0h0m4-8h0m18,0h0m36,2h0m4,8h0m24-2h0m6-8h0m2,8h0m10-4h0m10,4h0m0-2h0m2,4h0m6,0h0m10-10h0m2,8h0m12-8h0m8,10h0m0-6h0m4,6h0m2-8h0m2,4h0m4-4h0m2,6h0m10-8h0m14,10h0m8-6h0m2-2h0m10,6h0m2-8h0m8,10h0m0-10h0m4,2h0m18,0h0m2-2h0m12,0h0m10,6h0m14-2h0m16,2h0m40,0h0m150-4h0m-680,20h0m62-8h0m32,0h0m18,8h0m34-6h0m10,6h0m2-6h0m14,0h0m4,2h0m18-6h0m18,10h0m8,0h0m10-6h0m4,2h0m16,2h0m12-8h0m2,4h0m4,6h0m18-10h0m6,6h0m2-4h0m4,0h0m2,8h0m4-8h0m22-2h0m6,0h0m0,8h0m4-4h0m2,0h0m10-2h0m0-2h0m4,0h0m8,2h0m2,0h0m2,6h0m4-2h0m8,4h0m8-8h0m2,8h0m6-8h0m4,6h0m12,2h0m2-4h0m2-4h0m8,8h0m32-10h0m4,0h0m4,4h0m6,2h0m2-2h0m4,0h0m2-4h0m132,8h0m-558,14h0m22-2h0m2-2h0m14,0h0m24-4h0m4,8h0m60-10h0m10,0h0m8,0h0m2,10h0m6-8h0m28,2h0m2-2h0m20-2h0m0,2h0m16,2h0m28,4h0m16-2h0m6,2h0m22-6h0m12,8h0m8-10h0m12,0h0m2,8h0m4,2h0m0-10h0m2,10h0m2-10h0m8,0h0m0,8h0m2,0h0m10-4h0m8,0h0m2,4h0m6-2h0m14-4h0m2,8h0m10-6h0m0,6h0m54-4h0m18-6h0m14,8h0m6-8h0m34,2h0m8,0h0m46,6h0m2-8h0m-656,14h0m2,6h0m134,2h0m26-6h0m8-2h0m22,4h0m18-6h0m12,4h0m4,6h0m4-10h0m8,8h0m28-8h0m20,0h0m18,8h0m0-2h0m8,0h0m4,4h0m4-4h0m6-6h0m2,10h0m2-10h0m2,6h0m8,4h0m2-6h0m2,2h0m0-2h0m2,2h0m6-2h0m2,2h0m12,0h0m16,4h0m12-6h0m6,0h0m6,6h0m12,0h0m10-4h0m2,0h0m16,0h0m6,2h0m0-2h0m2-2h0m6,4h0m2,0h0m18-8h0m4,6h0m2-2h0m8,0h0m12-4h0m92,2h0m6,0h0m-594,16h0m58-4h0m64,4h0m18-4h0m4,0h0m10,0h0m10,6h0m10,2h0m6,0h0m20-2h0m4-8h0m12,2h0m12,6h0m0-6h0m18,2h0m2,6h0m10-2h0m2-8h0m4,0h0m0,2h0m4,0h0m12,8h0m6,0h0m0-8h0m8,8h0m0-6h0m10,4h0m4,2h0m4-8h0m10,4h0m8,0h0m4-4h0m6,6h0m2-8h0m4,4h0m0,4h0m0-2h0m2,2h0m0-6h0m2,0h0m0-2h0m4,8h0m6-2h0m4-4h0m4,2h0m6,2h0m16,4h0m2-6h0m10,4h0m6-6h0m8-2h0m4,10h0m0-10h0m6,6h0m20,4h0m4-6h0m10,6h0m4-10h0m0,4h0m28,2h0m12,0h0m84-6h0m106,4h0m-684,18h0m116-4h0m12-4h0m28,8h0m14-6h0m10-2h0m8,2h0m8,0h0m18-2h0m14-2h0m18,2h0m8,8h0m6-2h0m4,2h0m2-2h0m2,0h0m6-4h0m2-4h0m6,10h0m4-4h0m4,4h0m2-2h0m6-2h0m16-4h0m10,2h0m2-2h0m0,8h0m8-8h0m6,6h0m6,0h0m6-4h0m2,4h0m2-4h0m0,2h0m0,4h0m2-2h0m2,2h0m8-6h0m2,6h0m6-8h0m4,6h0m0-6h0m12,4h0m2,2h0m0-6h0m4,0h0m2,8h0m6-2h0m4-8h0m4,2h0m0,8h0m0-10h0m2,6h0m2,4h0m0-10h0m4,2h0m14-2h0m4,10h0m4-4h0m8,0h0m12-4h0m10,0h0m4-2h0m30,2h0m6-2h0m26,6h0m56,0h0m98,4h0m-752,10h0m50,0h0m2-6h0m128,4h0m6,2h0m18-4h0m4,6h0m24-8h0m8,0h0m10,2h0m12,4h0m14-4h0m2-4h0m12,8h0m12-6h0m0,6h0m10,2h0m8-10h0m6,4h0m2-2h0m2,4h0m2-4h0m16,2h0m6,0h0m2,6h0m4,0h0m2-10h0m6,8h0m4,0h0m2-8h0m4,4h0m4,6h0m0-10h0m16,2h0m2-2h0m2,4h0m2,0h0m6,6h0m8-8h0m0,8h0m2-4h0m2,2h0m4-4h0m2,6h0m4,0h0m2,0h0m2-4h0m2,0h0m4-6h0m2,8h0m2-4h0m8,0h0m2,4h0m4-2h0m2,0h0m2,4h0m6-10h0m0,2h0m10,2h0m10,0h0m10,6h0m6-8h0m10-2h0m16,6h0m0-6h0m16,8h0m6-6h0m2,2h0m18,0h0m8,0h0m62,0h0m12,0h0m-604,12h0m12,4h0m78,2h0m16-4h0m14-4h0m14-2h0m18,10h0m4-2h0m6,2h0m24-10h0m8,2h0m6,0h0m0-2h0m2,8h0m10-6h0m4,6h0m6-8h0m16,4h0m2,0h0m2-4h0m2,0h0m12,0h0m6,0h0m0,6h0m4,4h0m10-2h0m6-4h0m4,0h0m0,4h0m0,2h0m10-10h0m2,8h0m2-4h0m4-2h0m6-2h0m0,8h0m4-6h0m2,8h0m6,0h0m6-6h0m8,0h0m4-4h0m6,6h0m6-4h0m2,8h0m12-4h0m2-2h0m0-2h0m0,4h0m4,4h0m4-4h0m2-2h0m0,4h0m0-2h0m4-4h0m2,4h0m0,4h0m4-8h0m2-2h0m4,0h0m4,2h0m2,2h0m2,0h0m6,4h0m10,0h0m4-4h0m10,0h0m0,4h0m6-8h0m4,10h0m4-10h0m4,0h0m0,2h0m6-2h0m4,10h0m8-2h0m0,2h0m8-2h0m0-6h0m0,2h0m18,6h0m6-8h0m4,0h0m4-2h0m10,6h0m6,0h0m2-4h0m82,6h0m14-6h0m22,6h0m8-4h0m42,4h0m54,0h0m28-4h0m6,6h0m-790,6h0m72-4h0m10,4h0m12,0h0m46,2h0m10-2h0m2-4h0m0,8h0m4-4h0m4,6h0m4-2h0m26-4h0m14-2h0m0,8h0m6-2h0m2,2h0m0-2h0m2,2h0m32,0h0m14,0h0m16-4h0m6,2h0m0-2h0m8-4h0m4,0h0m2,8h0m0-8h0m8,6h0m2,2h0m2-2h0m4,2h0m20-10h0m0,8h0m2-6h0m0,4h0m8,4h0m6-4h0m0-2h0m2,0h0m10-2h0m0,2h0m10,6h0m2-10h0m0,10h0m6-8h0m6,8h0m2,0h0m0-2h0m8,0h0m6-6h0m2,8h0m6,0h0m4,0h0m4-6h0m2-2h0m0,8h0m4-4h0m4-6h0m4,10h0m6-4h0m10,4h0m4-2h0m14-4h0m0,4h0m2-8h0m0,8h0m18,2h0m0-2h0m2-6h0m8,6h0m26-2h0m12-2h0m4-2h0m4,8h0m24-10h0m6,6h0m6-6h0m16,4h0m22,2h0m24-6h0m-704,20h0m134-8h0m58,8h0m12-4h0m16,0h0m10,4h0m20,0h0m8-6h0m18,4h0m34-6h0m14,4h0m4-2h0m6,4h0m20,0h0m22-2h0m6,0h0m0,6h0m2-6h0m18,6h0m2,0h0m2-8h0m4,2h0m0,4h0m0-6h0m0,4h0m2-6h0m2,4h0m6,0h0m0,4h0m0-6h0m6,4h0m6-6h0m0,2h0m2,8h0m10-2h0m0-6h0m2,8h0m4,0h0m2,0h0m8-10h0m8,2h0m4,8h0m4-2h0m4-6h0m2-2h0m4,0h0m4,0h0m2,6h0m6-2h0m12,0h0m2-4h0m2,6h0m10-2h0m4,2h0m18-4h0m14-2h0m0,8h0m8-4h0m2-4h0m2,4h0m14,4h0m2-2h0m12-4h0m32,0h0m6,8h0m4-2h0m36-6h0m18,0h0m44-2h0m32,6h0m118-6h0m-726,14h0m80-2h0m8,0h0m24,0h0m96,2h0m16-2h0m2,0h0m6,0h0m42,0h0m16,0h0m2,2h0m12-2h0m2,2h0m2,0h0m22-2h0m8,2h0m42-2h0m32,2h0m144-2h0m48,0h0"/><path d="M2145,635h0m-74,2h0m-106,20h0m120-2h0m-100,8h0m82,8h0m14-8h0m-30,14h0m34-4h0m2,0h0m-76,18h0m-50,14h0m48-8h0m8,6h0m8-2h0m4,6h0m16-4h0m106-4h0m-234,18h0m50,0h0m40,20h0m8,6h0m4-6h0m210,4h0m-244,6h0m76,0h0m2-2h0m8,6h0m-76,14h0m6-8h0m54,10h0m8-4h0m12-2h0m2,2h0m0-6h0m8,2h0m24,2h0m8,4h0m84,2h0m-142,8h0m48-2h0m60-4h0m-330,14h0m8,2h0m182,0h0m30-4h0m0,8h0m26-4h0m-54,8h0m14,0h0m12,2h0m30,0h0m66,2h0m44-2h0m-192,16h0m26,2h0m58-4h0m8,6h0m10,0h0m6-6h0m6,4h0m46-8h0m52,8h0m4-8h0m-358,18h0m4-6h0m42,6h0m76-6h0m26,10h0m30-10h0m6,8h0m64-8h0m10,0h0m30,10h0m20-8h0m8,2h0m16,6h0m-268,8h0m10,4h0m48-8h0m32,0h0m36,8h0m2,0h0m-290,10h0m108-8h0m24,10h0m40-4h0m30,2h0m0-8h0m22,6h0m6-2h0m16-4h0m36,6h0m66-4h0m10,2h0m10,4h0m62-4h0m14,0h0m-436,16h0m56,0h0m40-2h0m64-2h0m10,4h0m82-4h0m2,2h0m18,0h0m6-2h0m38,4h0m2-8h0m16,6h0m16,4h0m14-8h0m98,2h0m-422,8h0m46,4h0m26,2h0m30,4h0m14-2h0m42-8h0m2,8h0m8-6h0m36,2h0m8-2h0m26,4h0m4-4h0m10,6h0m2-4h0m10,4h0m18,2h0m18,0h0m16-4h0m18,2h0m2-4h0m72,2h0m-294,10h0m24,4h0m28,2h0m20-2h0m56,2h0m8-2h0m68,0h0m22,0h0m24-2h0m26,2h0m-282,8h0m66,4h0m14,2h0m12-2h0m24-8h0m28,2h0m22,8h0m6-8h0m14,4h0m8-6h0m18,6h0m36-2h0m38-4h0m-352,20h0m22-8h0m4,8h0m34-4h0m16,0h0m36,0h0m6,6h0m20-6h0m4-4h0m28,6h0m4,2h0m26,0h0m76,2h0m26-6h0m24-2h0m12,8h0m0-6h0m18,6h0m26-10h0m-338,12h0m72,6h0m54-4h0m10,8h0m2,0h0m0-10h0m12,2h0m10-2h0m34,10h0m0-6h0m2-4h0m4,8h0m6,0h0m6-8h0m16,8h0m6-2h0m6-2h0m14,2h0m76-2h0m10-2h0m140,8h0m-526,8h0m36,4h0m2,0h0m24-8h0m12,0h0m34,0h0m4-2h0m2,4h0m4,4h0m6-4h0m12,6h0m4-8h0m20,8h0m0-2h0m2-6h0m22,4h0m4,2h0m8,0h0m6,0h0m10,2h0m4-6h0m2,6h0m2-4h0m0,4h0m6-6h0m2,2h0m6-4h0m2,6h0m30-4h0m12,4h0m2-8h0m22,2h0m10-2h0m20,2h0m8,8h0m58-2h0m-388,14h0m62-2h0m30-8h0m14,10h0m16-4h0m22-4h0m0,4h0m22-6h0m20,2h0m4,2h0m6-2h0m4,6h0m2-4h0m26-4h0m2,0h0m4,8h0m4-4h0m0,4h0m20-6h0m2,6h0m22,2h0m2-6h0m6-2h0m28,2h0m4,6h0m0-8h0m4,0h0m12,6h0m2-6h0m98,8h0m56-2h0m-488,6h0m2,4h0m26,4h0m26-10h0m16,10h0m12-2h0m2,2h0m10-2h0m6,2h0m12-6h0m8-4h0m30,6h0m20,4h0m12-6h0m6,6h0m14-2h0m20,0h0m2,2h0m6-2h0m4-2h0m14-2h0m16,4h0m2-2h0m2,4h0m14-6h0m28,0h0m22,0h0m64-2h0m-410,14h0m4,2h0m10,0h0m26,2h0m8-2h0m10,2h0m2-2h0m4-6h0m38,0h0m2,10h0m18-6h0m2,4h0m20,2h0m4-6h0m22,4h0m16,2h0m2-8h0m18,2h0m2-4h0m6,0h0m8,8h0m2-4h0m0-2h0m4,2h0m14-2h0m2,2h0m6,0h0m8,2h0m4,0h0m4,0h0m10-2h0m44-2h0m18,2h0m36,6h0m22-4h0m-528,8h0m120,4h0m26-4h0m16-2h0m16,0h0m26,0h0m2,6h0m12,4h0m22-10h0m12,8h0m10,2h0m52-6h0m4,0h0m0-2h0m2,4h0m10,0h0m8-4h0m12,2h0m12-4h0m4,10h0m12-10h0m8,4h0m8,4h0m0-6h0m24,0h0m4,8h0m2-2h0m2-4h0m0,2h0m4-4h0m8,6h0m10-8h0m30,2h0m40,8h0m70-8h0m-480,20h0m6,0h0m8-2h0m14,0h0m10,0h0m40-2h0m0-2h0m2-2h0m32,4h0m14-6h0m2,0h0m10,0h0m18,4h0m10-2h0m16,6h0m0-2h0m8,4h0m6-6h0m2-2h0m0,8h0m2,0h0m6-6h0m24,4h0m20-6h0m14,2h0m2-2h0m4,2h0m4,2h0m2-6h0m12,4h0m14-2h0m8-2h0m24,0h0m18,6h0m20,2h0m12-6h0m32,6h0m22-6h0m110,4h0m-678,8h0m124,4h0m8,2h0m2-4h0m2-2h0m2,0h0m0,4h0m8,4h0m38-2h0m14,2h0m0-6h0m6,0h0m44-4h0m0,4h0m8-4h0m4,10h0m14,0h0m2-2h0m4-6h0m10,0h0m4,4h0m8-6h0m24,2h0m12,4h0m4,4h0m2-10h0m4,4h0m4-2h0m14-2h0m2,8h0m2-4h0m0,4h0m20-8h0m14,6h0m4,4h0m14,0h0m8-8h0m2,8h0m6,0h0m24,0h0m6,0h0m12,0h0m2-6h0m6,6h0m10-6h0m4,0h0m24,4h0m16,2h0m142-4h0m94-2h0m-790,12h0m140-2h0m8,2h0m14,6h0m26-2h0m66-2h0m2,4h0m10-10h0m12,2h0m4,6h0m4-6h0m2-2h0m6,8h0m2-4h0m10,4h0m0-8h0m8,8h0m4,0h0m2-6h0m6-2h0m0,2h0m2,2h0m4,4h0m8-8h0m6,10h0m4-10h0m2,4h0m16,4h0m6,0h0m12,0h0m0-6h0m6,8h0m18-8h0m6,6h0m2-2h0m10-4h0m0,8h0m2-2h0m2-8h0m2,4h0m0,2h0m16,2h0m8-4h0m12-4h0m4,2h0m0-2h0m10,2h0m24,8h0m2,0h0m4-8h0m10,0h0m6,4h0m12,0h0m10-6h0m26,0h0m22,10h0m-506,6h0m16,6h0m16-2h0m24-2h0m8,0h0m14,4h0m18-8h0m6,2h0m2,6h0m34,0h0m0-10h0m6,2h0m0,8h0m2-10h0m6,6h0m20-2h0m6,6h0m12-4h0m2-6h0m2,2h0m0,4h0m2,4h0m0-10h0m4,4h0m30,2h0m6,4h0m2-2h0m0-6h0m0,8h0m2-2h0m2-2h0m6-6h0m2,10h0m4-8h0m4,4h0m10-6h0m14,0h0m0,6h0m8,0h0m0,4h0m18-2h0m2,2h0m2-6h0m8-4h0m0,4h0m4-2h0m10,6h0m4-4h0m8-4h0m4,10h0m4-10h0m2,6h0m8,0h0m12-6h0m14,10h0m4-2h0m4-6h0m26,2h0m12,2h0m2-6h0m32,8h0m2,0h0m74-8h0m-632,12h0m4,2h0m38,0h0m20,4h0m34,4h0m48-2h0m16-8h0m50,8h0m8,0h0m4-8h0m16,6h0m4,2h0m2-6h0m30,2h0m4,0h0m18,2h0m6,4h0m10,0h0m12-10h0m6,0h0m8,6h0m4,2h0m2,2h0m0-6h0m6-4h0m10,8h0m6-8h0m0,4h0m6-2h0m2,8h0m6-2h0m0-2h0m4-4h0m4,2h0m8,2h0m4,4h0m8-6h0m10-4h0m2,8h0m14-2h0m2-4h0m4,8h0m10-10h0m0,8h0m14-6h0m2,6h0m38-2h0m28,4h0m46-6h0m28,4h0m64-2h0m16-6h0m54,4h0m-778,12h0m60,2h0m46-2h0m18-4h0m22,0h0m4,10h0m68-2h0m6-8h0m18,4h0m16,4h0m8-2h0m4,0h0m12-4h0m2,6h0m10-6h0m2-2h0m14,4h0m12-4h0m8,2h0m2,6h0m2-8h0m4,2h0m10,4h0m4,4h0m10-4h0m2-4h0m2,4h0m6-2h0m0,4h0m8,2h0m6-6h0m2-2h0m4,8h0m8-4h0m4-2h0m10,0h0m4,6h0m0-4h0m4-4h0m4-2h0m0,8h0m6-2h0m10-4h0m4,8h0m2-6h0m10,4h0m2-4h0m2,4h0m22-2h0m2,0h0m2-6h0m4,0h0m4,4h0m0,4h0m2-4h0m20,4h0m18-8h0m6,6h0m2,0h0m14-4h0m2,2h0m12,2h0m8,0h0m10,0h0m12-2h0m4,4h0m-544,14h0m78-2h0m18,0h0m8-2h0m26-6h0m6,8h0m14-4h0m4,0h0m4,0h0m4,4h0m16,2h0m28,0h0m10-10h0m0,6h0m4-2h0m16,0h0m12,6h0m4-2h0m14-6h0m2-2h0m2,10h0m2-10h0m2,8h0m6-6h0m4,8h0m6-6h0m4,4h0m8,2h0m2-10h0m4,10h0m6-10h0m0,6h0m2,0h0m0,4h0m2-6h0m10-4h0m6,2h0m2,8h0m0-2h0m8-4h0m14-2h0m2,0h0m6,6h0m4-2h0m2-4h0m6,2h0m0,4h0m2-6h0m6,2h0m2,2h0m0-6h0m2,2h0m4,0h0m0,8h0m10-10h0m50,2h0m0,2h0m14,6h0m0-6h0m6-2h0m24,2h0m4,6h0m14-8h0m18,0h0m6-2h0m40,0h0m28,8h0m76-8h0m70,2h0m16,0h0m-840,12h0m24,8h0m20-6h0m68,4h0m0,2h0m12-8h0m12,0h0m38-2h0m0,8h0m2-4h0m2-4h0m16,10h0m18-10h0m26,10h0m10,0h0m10-2h0m12-8h0m10,2h0m4,2h0m10,6h0m4-10h0m12,4h0m4-2h0m4,8h0m2-10h0m24,8h0m2-6h0m4,2h0m0,4h0m2-2h0m12,0h0m16-4h0m2,8h0m8-2h0m4-2h0m0,4h0m2-8h0m6,4h0m4-2h0m6,0h0m4,4h0m6-2h0m4-2h0m0-2h0m6,8h0m6-8h0m4-2h0m0,10h0m6-2h0m4,0h0m2-4h0m8-4h0m2,4h0m0,4h0m8,0h0m0-6h0m0,8h0m4-6h0m6,0h0m10,2h0m2,2h0m4-6h0m2,6h0m2,2h0m10-2h0m2-2h0m12,2h0m2-6h0m2,6h0m18-6h0m12,8h0m4-8h0m14,8h0m14-8h0m16,6h0m62-2h0m4-6h0m8,4h0m180-2h0m-828,18h0m20,0h0m2-6h0m8,6h0m22-2h0m54-2h0m50-2h0m22,6h0m16-2h0m6-6h0m8,2h0m4,8h0m6-8h0m10,0h0m2,4h0m0,4h0m10-10h0m6,10h0m8-2h0m4-2h0m10,2h0m2-8h0m4,2h0m6,8h0m10,0h0m8-4h0m4-4h0m4-2h0m4,10h0m2-4h0m2-4h0m4,4h0m2-6h0m0,8h0m2-8h0m4,8h0m2-6h0m4,6h0m8-2h0m0-2h0m20,0h0m2,6h0m10-10h0m0,4h0m8,6h0m2-2h0m6-4h0m6,6h0m6-4h0m4,0h0m4,4h0m4-6h0m0,2h0m6,4h0m12-6h0m2,6h0m2-4h0m2,4h0m2-2h0m4,0h0m4-4h0m6,2h0m4-6h0m2,2h0m2,0h0m6,6h0m0-4h0m4,0h0m26,0h0m2,2h0m4,2h0m8-2h0m14,2h0m4,0h0m2-8h0m10,10h0m6-6h0m22-2h0m110-2h0m30,0h0m8,0h0m-764,18h0m90-2h0m92,2h0m16,2h0m36-2h0m18,0h0m30-6h0m4,2h0m0,6h0m2-8h0m4,8h0m0-4h0m18,4h0m6-2h0m8-2h0m16,0h0m10,6h0m2-4h0m2,4h0m2-4h0m6-2h0m2-4h0m0,2h0m12,8h0m2-2h0m2-4h0m4,0h0m4-4h0m10,2h0m0,2h0m10-4h0m0,4h0m2,0h0m10-4h0m8,6h0m0,4h0m0-2h0m2,0h0m2-6h0m4,0h0m0-2h0m8,4h0m4-4h0m8,0h0m10,10h0m12-10h0m2,0h0m2,0h0m2,8h0m2-8h0m2,10h0m0-10h0m2,4h0m4,4h0m4-2h0m0-2h0m2,2h0m4,0h0m10-6h0m0,6h0m2-6h0m16,8h0m10-2h0m10-4h0m14,2h0m10-2h0m0-2h0m4,8h0m0-6h0m8,4h0m60-6h0m58,6h0m10-4h0m-574,12h0m118,0h0m4,0h0m36-2h0m114,0h0m10,2h0m20,0h0m18,0h0m4-2h0m10,2h0m12,0h0m146,0h0m12,0h0m4,0h0m212,0h0"/><path d="M2075,631h0m-6,18h0m-150,26h0m36,6h0m54-6h0m54-2h0m-180,22h0m184-2h0m44,2h0m58-4h0m22-6h0m-144,26h0m-180,10h0m140,4h0m106-2h0m138,8h0m-238,8h0m66,0h0m4-6h0m4,0h0m-184,20h0m42-8h0m118,4h0m40-4h0m-40,22h0m18-10h0m72,10h0m2-2h0m-248,6h0m74,2h0m8,2h0m6-6h0m14,6h0m50-6h0m-132,20h0m4-6h0m30,2h0m32,6h0m30-2h0m24-4h0m12-2h0m2,0h0m4,6h0m34,2h0m24-10h0m30,2h0m-168,18h0m12,0h0m22-8h0m8,8h0m28-4h0m12,2h0m46,2h0m22-2h0m-144,6h0m22,6h0m50,2h0m24-8h0m16,10h0m26-2h0m-194,14h0m18,0h0m22,0h0m32,0h0m0-8h0m8-2h0m8,4h0m22-2h0m38,0h0m12,8h0m4-4h0m22,0h0m12,0h0m-250,16h0m48-10h0m94,4h0m12,2h0m18,0h0m36,0h0m6-6h0m12,8h0m12-6h0m44,4h0m32,4h0m-360,8h0m144,0h0m20-6h0m16,4h0m20,4h0m10-6h0m16,6h0m24-2h0m36,4h0m26-8h0m62,0h0m-358,14h0m30-4h0m16,4h0m58,0h0m62,0h0m10,4h0m40-6h0m6,0h0m2,8h0m8-8h0m0,4h0m2-6h0m48,6h0m2,0h0m14-6h0m12,10h0m16-10h0m26,4h0m-246,16h0m36-6h0m6,4h0m4-2h0m22,4h0m12,2h0m14-4h0m20,2h0m22-2h0m14,0h0m4,0h0m12,0h0m0-2h0m20-4h0m2,8h0m30,2h0m-294,2h0m6,4h0m14-2h0m44-2h0m62,0h0m2,8h0m20-2h0m10,0h0m12-2h0m44,0h0m-292,16h0m30-2h0m84,0h0m4,2h0m16,0h0m0-6h0m48,0h0m2,0h0m24,2h0m30,6h0m6-2h0m16,2h0m52-4h0m4,0h0m0-6h0m36,8h0m8-4h0m10,6h0m-294,10h0m16-8h0m54,4h0m12,0h0m46-4h0m8,2h0m20,8h0m8,0h0m22-10h0m10,10h0m2-10h0m6,8h0m6-8h0m4,8h0m32,2h0m4-6h0m26,2h0m46,4h0m-376,4h0m90-2h0m82,10h0m16-4h0m10-6h0m6,4h0m4,6h0m2-4h0m2,4h0m26-2h0m6-6h0m54,6h0m4-8h0m12,10h0m14-8h0m10,0h0m6,8h0m6-8h0m136,8h0m-436,4h0m26,2h0m12,0h0m46,2h0m2-4h0m2,6h0m4-6h0m16-2h0m32,6h0m22-4h0m6,0h0m12-2h0m30,6h0m0-2h0m4-4h0m10,8h0m8-6h0m2,0h0m4,8h0m4-4h0m4-4h0m10,4h0m8-2h0m0,4h0m24-8h0m0,8h0m32-6h0m14,4h0m98,2h0m-396,6h0m18,4h0m22-2h0m6-2h0m8-2h0m2,8h0m14,0h0m20-4h0m16,0h0m16,4h0m4,2h0m0-8h0m8,6h0m6-6h0m14,0h0m18,2h0m0-2h0m2,2h0m6,4h0m4,0h0m22,0h0m4,2h0m8-2h0m2-6h0m26,0h0m2-2h0m50,2h0m28-2h0m8,6h0m114,2h0m-578,10h0m92-4h0m44,0h0m12,8h0m14-6h0m26,4h0m34-6h0m0,8h0m18-6h0m16,0h0m2-2h0m16,2h0m8-4h0m4,10h0m0-6h0m2,4h0m6,2h0m12-4h0m6,0h0m6,2h0m2,0h0m4-6h0m12,8h0m6-6h0m6,4h0m50-6h0m0,6h0m-402,12h0m20-4h0m34,6h0m26-8h0m12,6h0m10-6h0m16,2h0m0,4h0m16-2h0m24-2h0m42,4h0m2,0h0m0-2h0m4-4h0m18,6h0m10-4h0m14,0h0m24,2h0m0,2h0m4-6h0m6,8h0m0-10h0m10,4h0m6,2h0m14,0h0m4-4h0m2,0h0m8,8h0m6-6h0m4,2h0m10,2h0m4-4h0m4,6h0m2-8h0m2,8h0m2,0h0m18-8h0m4-2h0m22,0h0m12,6h0m16-2h0m76,6h0m-584,10h0m66-6h0m8,8h0m24-4h0m8-6h0m34,2h0m18,6h0m12,2h0m20,0h0m4-6h0m16,2h0m10,4h0m20-4h0m34-6h0m10,0h0m6,10h0m8-10h0m30,2h0m0,4h0m0,2h0m30,2h0m2,0h0m0-10h0m6,0h0m0,8h0m10-2h0m8-2h0m4,0h0m2,0h0m36,0h0m2,6h0m20-2h0m24-4h0m2-2h0m12-2h0m46,2h0m84,6h0m-602,4h0m36,8h0m52-2h0m6,4h0m0-4h0m30,2h0m20,2h0m6-8h0m8-2h0m4,4h0m10-4h0m18,4h0m32,0h0m4,6h0m22-2h0m0-6h0m4,2h0m14,6h0m16-4h0m4,0h0m2-4h0m16,8h0m6-10h0m4,4h0m8,6h0m4-2h0m6-6h0m20-2h0m10,8h0m0-4h0m12,4h0m10-8h0m2,4h0m34-4h0m12,6h0m16-6h0m34,6h0m8-4h0m4,0h0m32,2h0m4,4h0m-544,14h0m104-4h0m52-4h0m10,2h0m18,6h0m26-6h0m18,2h0m22-2h0m8,0h0m12-4h0m4,2h0m0,2h0m4,6h0m6-10h0m2,0h0m4,6h0m10,0h0m12,2h0m2-6h0m4-2h0m2,6h0m8,0h0m4,0h0m2-2h0m18,6h0m16-10h0m0,2h0m6-2h0m2,8h0m6-2h0m6-6h0m0,4h0m18,6h0m0-2h0m2,0h0m4,2h0m0-2h0m6,0h0m2-6h0m18,2h0m14,0h0m6,4h0m34,0h0m14,0h0m46-4h0m6,0h0m6-4h0m78,10h0m50,0h0m-608,6h0m22,6h0m2-10h0m72,2h0m6-2h0m4,4h0m58,0h0m10,0h0m2,0h0m12,6h0m28-2h0m2,2h0m14-2h0m12,2h0m2,0h0m4,0h0m14-6h0m0-2h0m6,8h0m2-10h0m2,2h0m4,4h0m2,4h0m4-8h0m0,8h0m6-2h0m8-2h0m2-6h0m2,6h0m2,4h0m16-4h0m4-6h0m22,2h0m2,2h0m6,4h0m14,0h0m6,2h0m0-10h0m6,0h0m38,6h0m12,4h0m194,0h0m-744,12h0m10-10h0m98,10h0m54-6h0m72,4h0m4-8h0m8,4h0m2,0h0m12,2h0m20-4h0m6,0h0m6,2h0m6,4h0m4-6h0m14,6h0m6,2h0m0-6h0m8,4h0m2-8h0m8,8h0m4,2h0m10,0h0m4,0h0m4-4h0m24,2h0m6-8h0m10,0h0m4,8h0m2-8h0m6,6h0m8-2h0m2,2h0m6,4h0m8,0h0m4-8h0m0,4h0m4,2h0m2-8h0m2,0h0m6,8h0m2-8h0m4,6h0m22,4h0m8-8h0m6,0h0m6,4h0m2,0h0m26-2h0m0,4h0m8-8h0m30,4h0m62-4h0m18,6h0m-572,16h0m4-6h0m56-4h0m14,6h0m12-6h0m6,8h0m10,0h0m74,2h0m12-8h0m6,4h0m2-4h0m22,2h0m6,2h0m14-4h0m6,2h0m20,0h0m2,4h0m4-2h0m0-2h0m6-4h0m0,6h0m4-4h0m6,2h0m6-4h0m4,0h0m2,8h0m6-2h0m8-2h0m0-2h0m2,8h0m0-6h0m2,6h0m0-10h0m2,10h0m2-10h0m0,4h0m0,4h0m2-6h0m2,6h0m14,0h0m0-6h0m0,4h0m6-2h0m2,2h0m2-2h0m0,4h0m4-6h0m4,4h0m8,0h0m20-4h0m4,2h0m4-2h0m8,0h0m4,0h0m28,4h0m10-2h0m4,2h0m12-4h0m16,8h0m6-4h0m44-2h0m14,0h0m46-2h0m-646,12h0m64,4h0m2,4h0m32,0h0m0-6h0m22,0h0m6,4h0m4,2h0m4-2h0m20-2h0m4,2h0m14-2h0m2-2h0m22,4h0m6-4h0m20,4h0m4,2h0m4,0h0m2-10h0m0,4h0m30,2h0m8-6h0m2,8h0m4-4h0m6-2h0m8,4h0m8,2h0m14-6h0m8,4h0m12,4h0m20-4h0m8-4h0m2,2h0m0,4h0m8,2h0m4,0h0m0-2h0m6-2h0m0,4h0m2-4h0m2,2h0m2-8h0m2,0h0m6,0h0m4,8h0m2-6h0m4,6h0m4-6h0m2,0h0m0-2h0m2,4h0m4,0h0m4,6h0m0-6h0m14-4h0m2,10h0m8-10h0m6,2h0m0-2h0m4,8h0m6-6h0m4,8h0m8-6h0m10,4h0m16-4h0m2,2h0m4,0h0m0,2h0m10-2h0m154,4h0m88-4h0m-762,14h0m52,2h0m12-2h0m16,2h0m44-8h0m8,2h0m0-4h0m28,8h0m8-2h0m2,4h0m4-10h0m38,6h0m30-6h0m6,4h0m2-2h0m4,4h0m2,4h0m2-2h0m16,2h0m4-4h0m2,0h0m2-4h0m4,0h0m0,2h0m4,6h0m4,0h0m10-10h0m2,10h0m2-8h0m0-2h0m6,4h0m6,2h0m4,0h0m0-2h0m4,6h0m6-6h0m2-4h0m4,6h0m2-4h0m2,0h0m14,0h0m8-2h0m0,4h0m0,2h0m12-2h0m2-4h0m6,0h0m0,4h0m4-2h0m6,2h0m8-2h0m8,4h0m0-6h0m18,6h0m2,2h0m0-2h0m0,4h0m4-10h0m2,10h0m14-4h0m4,0h0m6-6h0m16,2h0m0-2h0m10,6h0m4-2h0m0,4h0m10-4h0m12,6h0m8-6h0m8-2h0m40,8h0m2-6h0m-542,10h0m74,0h0m10,8h0m2-4h0m2-2h0m26-2h0m10,0h0m14,4h0m4-4h0m24,4h0m34-6h0m8,6h0m20-6h0m4,6h0m2-4h0m6,6h0m0-2h0m26-4h0m6-2h0m10,0h0m12,8h0m2-6h0m4,2h0m0,6h0m4-6h0m4,4h0m2,2h0m2-6h0m4,6h0m2-6h0m2,0h0m6,0h0m6,6h0m6,0h0m2-4h0m2-2h0m0,4h0m4-4h0m10-2h0m0,2h0m8,6h0m0-2h0m6-2h0m4-4h0m4,2h0m6-2h0m6,4h0m4-6h0m6,6h0m2,4h0m4-6h0m0,2h0m6-6h0m8,6h0m6,2h0m10-6h0m2,4h0m12,0h0m6-2h0m2,0h0m0-2h0m2,2h0m0-4h0m10,8h0m6,2h0m2-2h0m22-4h0m0-2h0m4,8h0m2-6h0m4-4h0m26,10h0m4-4h0m40-4h0m26,8h0m-614,4h0m2,0h0m10,0h0m74,2h0m4-4h0m22,10h0m2,0h0m8-6h0m6,6h0m2,0h0m24-4h0m34,4h0m2,0h0m0-8h0m8,6h0m12-4h0m16,2h0m38,4h0m4-10h0m6,2h0m6,2h0m2,4h0m2,2h0m6-2h0m2,2h0m10-6h0m4-4h0m4,10h0m2-8h0m2,6h0m0-4h0m12-4h0m2,10h0m2-4h0m6-4h0m0,8h0m2,0h0m14,0h0m2-4h0m6-4h0m2,0h0m2,2h0m2,0h0m4-4h0m4,2h0m2,0h0m2,2h0m2,2h0m2,2h0m2-2h0m0-6h0m2,0h0m4,10h0m2-6h0m6,2h0m2,4h0m10-10h0m4,10h0m6-8h0m10,8h0m0-8h0m2,2h0m6-4h0m2,6h0m4,4h0m2-8h0m6,0h0m12,2h0m2,4h0m8-2h0m4,0h0m20,0h0m12,0h0m18-4h0m8,6h0m14-2h0m12-6h0m16,8h0m2-8h0m6,6h0m134-4h0m76,2h0m-812,8h0m110,6h0m0-6h0m2,8h0m26,2h0m18-8h0m22,4h0m8-6h0m10,8h0m16-8h0m14,6h0m0,4h0m4-2h0m10-4h0m2-4h0m14,0h0m0,6h0m2-6h0m12,10h0m4-8h0m0,2h0m4,6h0m4-8h0m0,4h0m12-2h0m2,4h0m18,0h0m4-8h0m2,2h0m0,4h0m8-4h0m2,8h0m2-4h0m8-2h0m4,6h0m2-2h0m0-2h0m26-4h0m0,2h0m2,6h0m6,0h0m0-10h0m2,2h0m4,0h0m4,0h0m4,4h0m6-4h0m2-2h0m8,2h0m10,6h0m16-8h0m6,4h0m4,4h0m6-2h0m0,4h0m0-6h0m4,6h0m6-2h0m2-4h0m2-2h0m4-2h0m12,6h0m8,0h0m8,4h0m6-6h0m18,6h0m74-4h0m20-2h0m16,6h0m70-4h0m10-6h0m68,6h0m-828,6h0m218,2h0m28-2h0m52,2h0m12,0h0m20,0h0m46,0h0m58,0h0m10-2h0m24,0h0m2,0h0m10,0h0m8,0h0m2,0h0m26,0h0m22,2h0m30-2h0m28,0h0m108,2h0"/><path d="M2005,619h0m118,0h0m10,16h0m-120,2h0m4,10h0m96-6h0m-150,14h0m64,0h0m134,2h0m-178,14h0m74-8h0m28,8h0m32-8h0m-218,30h0m78-2h0m52,6h0m4,10h0m8-2h0m46-8h0m112,4h0m-74,8h0m-186,22h0m72,0h0m76,0h0m64,0h0m-174,6h0m46,2h0m34-4h0m0,2h0m110,2h0m-182,6h0m102,0h0m4,2h0m32,2h0m46-2h0m-342,12h0m218-2h0m16,2h0m72,0h0m-220,14h0m118,0h0m32-4h0m-90,16h0m40-2h0m-196,12h0m92,8h0m68-2h0m14,2h0m52-2h0m70,2h0m14-4h0m-198,12h0m58,0h0m26,4h0m218-4h0m-304,10h0m60-4h0m32,2h0m56,4h0m84-2h0m50,0h0m-332,16h0m58-8h0m50,6h0m18,4h0m8-8h0m26-2h0m6,6h0m0-2h0m6,2h0m24,0h0m6,0h0m6-4h0m10,2h0m14,2h0m10-4h0m18-2h0m10,8h0m80-4h0m-370,16h0m14-8h0m76,0h0m104,8h0m8-4h0m34,4h0m54,2h0m14-2h0m16-6h0m10,8h0m-178,8h0m22-6h0m6,6h0m2-2h0m44,4h0m10-6h0m26,4h0m64-4h0m26,2h0m-346,12h0m90,4h0m2-4h0m44,2h0m6-2h0m0,4h0m20,0h0m64,0h0m0,2h0m4-10h0m36,8h0m60,2h0m22-4h0m-270,10h0m26,6h0m6-10h0m4,6h0m14,0h0m4,0h0m2,4h0m6-8h0m34,4h0m20-4h0m6,4h0m2-6h0m18,0h0m2,2h0m0,4h0m36-4h0m16,8h0m-326,12h0m18-8h0m28-2h0m64,0h0m38,0h0m42,2h0m4,2h0m8,6h0m40,0h0m16-10h0m0,2h0m2,4h0m4-2h0m10,0h0m14,6h0m10-2h0m8-4h0m0,2h0m30-6h0m0,8h0m2-8h0m8,8h0m-350,4h0m30,4h0m114-2h0m46,2h0m22,2h0m18,0h0m8-2h0m6,0h0m24,6h0m6-2h0m10-4h0m2,0h0m10-2h0m6,6h0m4-6h0m6,6h0m6-4h0m2-2h0m2,6h0m0-6h0m6,0h0m6,0h0m56,2h0m-354,18h0m78-8h0m4,0h0m18,2h0m2,0h0m14-2h0m12,4h0m12-6h0m8,4h0m4,0h0m2-2h0m8-2h0m24,6h0m8,0h0m26-6h0m10,4h0m36-4h0m4,4h0m14,6h0m62-6h0m42,6h0m-418,10h0m32-4h0m94-2h0m4-2h0m32,2h0m24,6h0m16-6h0m0,4h0m28,2h0m2,2h0m4-10h0m22,0h0m12,0h0m32,6h0m16,4h0m4-2h0m12-6h0m40,8h0m136-8h0m66,6h0m-644,12h0m54-8h0m2,0h0m104,10h0m12-4h0m42-4h0m18,8h0m14-2h0m22-2h0m10-6h0m10,2h0m10,4h0m14-6h0m12,2h0m12,6h0m22-6h0m2,6h0m8,0h0m6,0h0m2-4h0m0,4h0m4,2h0m14-2h0m32,0h0m12,0h0m22,2h0m12-10h0m-414,18h0m6,2h0m4-8h0m22,10h0m16-10h0m8,4h0m44,6h0m18-2h0m10-6h0m2,4h0m38-6h0m4,6h0m14,2h0m16-8h0m24,8h0m4-8h0m34,0h0m6,6h0m4-4h0m4,8h0m8-10h0m16,8h0m8-4h0m4,2h0m2-4h0m8,8h0m4-8h0m10,2h0m4,2h0m4-4h0m0,4h0m2-2h0m30,6h0m26,0h0m142-4h0m4-2h0m-516,10h0m2-2h0m46,4h0m6,0h0m4,4h0m24-2h0m4,0h0m4-4h0m2,8h0m2-10h0m24,4h0m10,4h0m6,2h0m22-2h0m4-6h0m18,4h0m10,0h0m10-6h0m30,0h0m2,6h0m0-2h0m16-2h0m30-2h0m0,2h0m16,4h0m4,0h0m12-2h0m14,0h0m4,2h0m12,0h0m40-4h0m-522,16h0m12-6h0m112,2h0m62,4h0m84-2h0m10,0h0m4-4h0m2,8h0m8-6h0m0,8h0m10-6h0m20,2h0m4,4h0m6-6h0m4,6h0m8-6h0m0-2h0m2,2h0m0,4h0m4,0h0m4,0h0m2,0h0m2-4h0m8-4h0m0,4h0m0,4h0m16-4h0m16,6h0m8-8h0m2-2h0m14,2h0m8,6h0m10-8h0m8,2h0m18,4h0m2-2h0m22-2h0m48-2h0m38,4h0m12,4h0m18-2h0m-584,14h0m70-2h0m60,0h0m36-2h0m6,0h0m4,0h0m28-2h0m2-2h0m2,10h0m4-10h0m4,6h0m8,2h0m32-4h0m4,6h0m0-10h0m6,6h0m4-2h0m10,0h0m10-2h0m2,2h0m4,2h0m10,2h0m10,0h0m0,2h0m12-10h0m2,4h0m10,0h0m14,0h0m2,4h0m4,0h0m10,2h0m0-10h0m2,2h0m4,2h0m4,6h0m0-4h0m6-4h0m4,8h0m6-6h0m2,4h0m10,0h0m28-6h0m4,4h0m10-4h0m6,2h0m16,4h0m88-8h0m-540,18h0m62,0h0m94-2h0m46,4h0m10-8h0m2,2h0m8,6h0m4-2h0m0-6h0m12,6h0m12,4h0m4-8h0m2-2h0m4,4h0m6-2h0m6,4h0m10,0h0m16-2h0m2-4h0m4,10h0m2-2h0m2,2h0m14-6h0m2,6h0m2-6h0m6,4h0m6-2h0m0-6h0m4,4h0m0,4h0m2-2h0m6-2h0m4,0h0m4,6h0m12-8h0m2-2h0m6,2h0m4,4h0m4,0h0m22,2h0m2-4h0m4-2h0m0,4h0m4-4h0m10,4h0m34-2h0m4,6h0m32-8h0m20,0h0m4,0h0m20-2h0m30,6h0m-568,6h0m6,2h0m82,2h0m58-4h0m20,8h0m4,2h0m2-6h0m2,6h0m4-10h0m6,6h0m20-2h0m4,4h0m18,0h0m12,0h0m18,0h0m12-2h0m6-6h0m8,2h0m2,6h0m0-2h0m4-2h0m2-2h0m0,8h0m10,0h0m2,0h0m12,0h0m6,0h0m0-6h0m2,4h0m6-2h0m0,2h0m2,2h0m2-6h0m24,6h0m14-8h0m4,0h0m6-2h0m2,6h0m2-4h0m14,6h0m2,2h0m6-6h0m8,2h0m8,2h0m6,2h0m28-8h0m8-2h0m16,2h0m88,6h0m-634,10h0m22-2h0m40,4h0m12-8h0m12,4h0m42-2h0m16-2h0m10,10h0m12-10h0m10,10h0m6,0h0m50-2h0m10,0h0m46-4h0m6-4h0m8,10h0m4,0h0m4-10h0m0,4h0m2,6h0m4-10h0m2,0h0m6,2h0m12,8h0m6-8h0m16,0h0m2,8h0m6,0h0m2,0h0m2-6h0m16,6h0m2-6h0m6,0h0m2,6h0m8,0h0m6,0h0m8-4h0m0,4h0m8-6h0m4-4h0m0,8h0m2-4h0m2,0h0m6,4h0m2-6h0m0,8h0m2-2h0m6-6h0m8,8h0m2-10h0m0,4h0m4,6h0m26-6h0m2,0h0m24,0h0m14,2h0m12-6h0m38,0h0m14,0h0m84,0h0m-626,18h0m84,0h0m30-2h0m2,6h0m10-8h0m4,8h0m6-4h0m12-2h0m18,2h0m2,2h0m4,2h0m4,0h0m6,0h0m6-10h0m2,6h0m6-6h0m18,4h0m6-2h0m20,2h0m12,2h0m2,4h0m2,0h0m4-8h0m8,0h0m4,0h0m0,8h0m10-4h0m2-2h0m2,6h0m0-2h0m6-2h0m2,0h0m2-2h0m4,4h0m4-6h0m0-2h0m2,6h0m4,2h0m2,2h0m6-2h0m4-6h0m24,4h0m4,2h0m16-8h0m16,8h0m4-8h0m10,0h0m14,6h0m4,0h0m0,4h0m10-8h0m2,4h0m0-6h0m4,0h0m2,6h0m10,2h0m2-6h0m28-2h0m0,2h0m4,6h0m2-8h0m-514,14h0m2,8h0m96-10h0m26,8h0m8-4h0m2,2h0m6,4h0m8,0h0m10-6h0m4-2h0m2,2h0m18-2h0m6,6h0m26-2h0m32-2h0m8-2h0m12,8h0m10,0h0m18-2h0m2-2h0m6,4h0m4-4h0m2,2h0m6,2h0m2-6h0m2,2h0m2-4h0m8,6h0m12,0h0m6-6h0m2,0h0m2-2h0m2,2h0m6,6h0m6-4h0m0,6h0m4-2h0m4-8h0m2,6h0m10,4h0m0-2h0m12,0h0m2-2h0m0,2h0m2-6h0m2-2h0m4,10h0m2-10h0m6,0h0m4,6h0m0,4h0m6,0h0m2-2h0m4,0h0m6-4h0m4,2h0m8,0h0m0-2h0m8-2h0m2,6h0m2,2h0m18-8h0m30,2h0m8,4h0m4,0h0m10,2h0m18-2h0m2-8h0m34,8h0m2-6h0m2-2h0m10,8h0m4-8h0m-582,12h0m10,4h0m48,2h0m82,4h0m2-6h0m8-4h0m4,10h0m0-10h0m2,2h0m14,2h0m10,0h0m10,2h0m2-4h0m16,8h0m8-8h0m10,0h0m2,2h0m12,0h0m0,4h0m0-6h0m2,0h0m10,4h0m6,0h0m2,2h0m2,0h0m16-8h0m0,6h0m12-4h0m0,2h0m2-2h0m12,0h0m4,4h0m4,0h0m22-4h0m0-2h0m6,8h0m2-2h0m2,0h0m4,0h0m2,2h0m12-2h0m2,0h0m2-4h0m0,6h0m6-2h0m0-2h0m2-4h0m4,8h0m0-2h0m0-6h0m2,6h0m0-2h0m4,6h0m0-10h0m10,10h0m2-2h0m2-2h0m0,4h0m4-8h0m16,4h0m2,4h0m8-10h0m16,10h0m2-8h0m2,0h0m2,6h0m6-6h0m6,4h0m78-2h0m24,6h0m74-8h0m146,4h0m-726,6h0m60,4h0m12,0h0m12-2h0m48,4h0m2,4h0m6-6h0m12,6h0m16-2h0m10-2h0m4,4h0m6-10h0m4,6h0m6-2h0m18,6h0m4-10h0m2,0h0m16,6h0m8-6h0m6,10h0m4-4h0m2,0h0m4-6h0m6,6h0m6-2h0m2,2h0m4,0h0m2-4h0m14,0h0m0-2h0m0,8h0m2,2h0m2-2h0m2-4h0m2,2h0m2-4h0m0,8h0m2-8h0m12,0h0m8,6h0m4-2h0m8,0h0m2,2h0m2-2h0m2-2h0m0,2h0m2,2h0m6-4h0m2,4h0m4-8h0m10,6h0m4-4h0m4,8h0m6-6h0m2-2h0m0,2h0m4,6h0m4-4h0m2,2h0m22-4h0m8,4h0m2-2h0m4-6h0m6,4h0m4-4h0m34,6h0m132,4h0m12-2h0m114,2h0m-786,8h0m14-6h0m34,8h0m14-6h0m28,8h0m8-8h0m16,8h0m20,0h0m0-6h0m14,4h0m6-6h0m56,0h0m6,8h0m2,0h0m0-8h0m6,4h0m14-6h0m2,10h0m12-8h0m16,0h0m4,8h0m4-10h0m4,8h0m6,0h0m2-4h0m6,0h0m2,2h0m16-4h0m12,0h0m4-2h0m2,6h0m2-6h0m4,0h0m4,0h0m4,2h0m4,0h0m6,6h0m4,0h0m2,0h0m0-2h0m2-2h0m2,6h0m2-4h0m2,0h0m10,0h0m4,4h0m2,0h0m4-6h0m2,0h0m4,2h0m12-6h0m6,0h0m6,6h0m0,4h0m0-10h0m0,2h0m2-2h0m4,2h0m0-2h0m2,10h0m6-2h0m2,0h0m4,2h0m2-10h0m14,4h0m16,2h0m2,4h0m10-8h0m2,0h0m20,6h0m26,2h0m32,0h0m40,0h0m86-10h0m-776,20h0m32-8h0m22,0h0m20,8h0m20,2h0m66,0h0m22-8h0m48-2h0m4,0h0m14,4h0m38-4h0m4,0h0m10,10h0m2-6h0m12-2h0m6,2h0m4-4h0m4,8h0m6-4h0m28,4h0m2,0h0m8-8h0m2,8h0m4,0h0m18-6h0m0,4h0m2-2h0m2-4h0m4,6h0m6,2h0m4-8h0m4,2h0m22,0h0m12,8h0m4-6h0m2,4h0m2-6h0m2-2h0m8,0h0m2,4h0m6,4h0m8,0h0m2-2h0m0-4h0m4,6h0m0-8h0m4,0h0m4,2h0m6,4h0m0-6h0m12,4h0m4,0h0m10,6h0m0-2h0m8,0h0m2-8h0m2,10h0m10,0h0m16,0h0m34-10h0m6,8h0m32,2h0m12-2h0m6-4h0m22-2h0m18,8h0m140-2h0m32-2h0m-636,6h0m50,0h0m34,0h0m36,0h0m36,2h0m24-2h0m32,2h0m34-2h0m8,0h0m2,0h0m26,0h0m16,0h0m58,2h0m6,0h0m124,0h0m44-2h0"/><path d="M2037,661h0m122,2h0m-158,34h0m30,10h0m52-6h0m-232,14h0m122-6h0m32,8h0m48,0h0m114-6h0m-128,20h0m66-10h0m-158,18h0m52,4h0m42-6h0m20,4h0m28,0h0m4-2h0m-170,12h0m114-4h0m10-2h0m50,4h0m8-4h0m52,2h0m-166,10h0m100,6h0m-120,16h0m62-8h0m-112,16h0m56-2h0m106,6h0m-98,12h0m40-6h0m16-4h0m6,4h0m58,4h0m60-4h0m-220,14h0m52-4h0m10,8h0m30-2h0m32,0h0m14-6h0m22,4h0m-288,10h0m208,2h0m6-2h0m58-4h0m-260,18h0m58-2h0m134,2h0m8,2h0m24,0h0m2-6h0m12-2h0m10,6h0m36,0h0m6,4h0m94-6h0m-324,12h0m46-4h0m30,0h0m66,10h0m34-8h0m8,4h0m24,4h0m6-2h0m30,2h0m56,0h0m20-10h0m-308,20h0m34,0h0m40-2h0m6,2h0m2-8h0m10,0h0m28,4h0m6,4h0m16,2h0m26-2h0m10-2h0m2,2h0m4,0h0m4-6h0m0,2h0m6-2h0m2-2h0m24,10h0m16-2h0m8-2h0m-314,12h0m104,0h0m36,0h0m8-4h0m26,4h0m4-4h0m10,2h0m20,6h0m6-4h0m2-2h0m4,2h0m80,2h0m20-4h0m34,6h0m2-2h0m-384,6h0m114,4h0m16-4h0m16-2h0m56,2h0m2,6h0m22,0h0m28,0h0m6-2h0m10,2h0m10,0h0m10-8h0m44,10h0m12-8h0m18,0h0m4,8h0m2-6h0m10,0h0m6,6h0m-442,4h0m42,2h0m4,6h0m112,0h0m44-8h0m30-2h0m16,0h0m38,10h0m20-10h0m18,2h0m10,6h0m8-2h0m32-6h0m2,0h0m0,4h0m0-2h0m4,6h0m14,0h0m26,2h0m40-4h0m18-4h0m-386,16h0m94,2h0m36,0h0m4-6h0m14,8h0m18-4h0m0,4h0m10-4h0m14,4h0m4-2h0m2-8h0m10,8h0m12-4h0m4,6h0m4,0h0m44-8h0m34,0h0m8,4h0m24-6h0m22,10h0m-474,10h0m98,2h0m28-8h0m42,6h0m20-4h0m12,4h0m32-2h0m4,2h0m36-6h0m10,4h0m12-2h0m22-4h0m0,8h0m8-8h0m8,0h0m8,0h0m56,2h0m26,4h0m2,0h0m24-6h0m126,10h0m-524,4h0m84,0h0m66,0h0m22,8h0m42-8h0m50,2h0m6,2h0m2,4h0m18-8h0m4,2h0m0-2h0m4,8h0m12-2h0m4,0h0m6-6h0m0,2h0m32,4h0m8-2h0m30,2h0m2-6h0m12,8h0m46-2h0m6-8h0m-306,12h0m14,0h0m6,6h0m20,0h0m4-2h0m4,4h0m2-4h0m14,2h0m16-6h0m22,6h0m18-2h0m6,2h0m2,2h0m2,2h0m6-6h0m18-4h0m8,2h0m8-2h0m22,0h0m4,6h0m10-4h0m10,2h0m10-2h0m18,0h0m40,2h0m40-2h0m-534,10h0m24,4h0m60,4h0m8-8h0m36,10h0m4-8h0m20-2h0m28,0h0m74,4h0m52,6h0m6-4h0m2,2h0m6-8h0m2,4h0m8-4h0m6,6h0m0-4h0m20,8h0m2-6h0m0,4h0m6,0h0m4-4h0m34,6h0m34-2h0m6,2h0m12-2h0m54-2h0m6,4h0m110-4h0m-586,6h0m24,2h0m28-2h0m98,6h0m32-4h0m8,0h0m42,0h0m0-2h0m6,2h0m4,0h0m8,0h0m12,2h0m6,2h0m22-4h0m2,2h0m20,6h0m2-4h0m0,4h0m6-8h0m22,0h0m2-2h0m2,8h0m8-6h0m4,4h0m6-4h0m0,4h0m26-6h0m10,2h0m4,8h0m14,0h0m2-10h0m18,2h0m48,8h0m24,0h0m74-10h0m-582,22h0m6-2h0m56-8h0m2,10h0m48-2h0m16,0h0m30-6h0m0,4h0m12-4h0m10,4h0m12-4h0m10,2h0m2-4h0m6,0h0m6,6h0m8,2h0m12,2h0m6-6h0m22,6h0m4-10h0m10,4h0m12-4h0m8,8h0m12-2h0m0-2h0m4-2h0m2-2h0m6,6h0m4,0h0m0,4h0m4-8h0m4,6h0m2,2h0m10-4h0m4-2h0m6-4h0m22,0h0m4,0h0m26,0h0m16,2h0m2,0h0m16,8h0m2-8h0m4,0h0m80,4h0m96,0h0m-618,8h0m28,0h0m4,0h0m60,4h0m42,4h0m28-10h0m38,4h0m4,2h0m12-6h0m6,8h0m0-6h0m2,4h0m16-4h0m4,6h0m2-6h0m0,8h0m8,0h0m20-2h0m0-2h0m6,0h0m6,4h0m2-10h0m4,6h0m2-6h0m2,10h0m20-8h0m6,6h0m0-6h0m2-2h0m4,6h0m12-2h0m0,6h0m2-6h0m8,2h0m8-2h0m2,4h0m8,2h0m4-10h0m6,10h0m4-4h0m2-2h0m12-4h0m16,2h0m6,8h0m8-4h0m128,4h0m-556,8h0m2-2h0m16,2h0m22-6h0m90,10h0m4,0h0m4-8h0m2,0h0m8,6h0m10-8h0m10,4h0m6-2h0m16,4h0m12,4h0m12-6h0m2,6h0m8-2h0m10-2h0m4,0h0m4-4h0m12,8h0m12-8h0m4,0h0m6,4h0m2,0h0m2-4h0m0,4h0m0-6h0m2,10h0m0-6h0m8,0h0m6-2h0m10,2h0m12,4h0m8,0h0m2-8h0m4,2h0m4,0h0m0,4h0m14-2h0m6,2h0m10-6h0m0,10h0m4-8h0m4,2h0m14,6h0m2-4h0m14-4h0m16,8h0m2-2h0m6-8h0m6,6h0m10,0h0m2,2h0m14-8h0m24,6h0m26,4h0m6-2h0m214-4h0m-796,8h0m16,6h0m14,4h0m80-4h0m2,0h0m52-4h0m32,8h0m12-2h0m58-6h0m26,6h0m2-6h0m2,2h0m6,0h0m6-4h0m0,2h0m6,2h0m2-4h0m0,8h0m8-4h0m8-2h0m0,2h0m4,6h0m2-10h0m2,4h0m8-4h0m4,0h0m6,2h0m4,6h0m2,0h0m26,2h0m4-4h0m4-4h0m2,2h0m2,4h0m4,2h0m0-6h0m4,6h0m2-6h0m2,2h0m8-6h0m4,0h0m2,10h0m2,0h0m34-2h0m22-4h0m10,2h0m18,4h0m6,0h0m10-6h0m6-2h0m8,0h0m12-2h0m22,8h0m32,2h0m-534,10h0m20,2h0m50-2h0m36-2h0m0-2h0m0,4h0m34-8h0m6,6h0m4-2h0m20,4h0m2-4h0m4-2h0m8,4h0m6,2h0m0-2h0m6,0h0m12,4h0m12-6h0m18,4h0m2-8h0m0,4h0m2-4h0m12,8h0m12-8h0m2,8h0m6,2h0m4,0h0m4-10h0m0,4h0m12,0h0m0,4h0m10-6h0m24,6h0m10-4h0m2-2h0m12-2h0m2,4h0m2-2h0m2,6h0m4-8h0m2,2h0m2-2h0m4,2h0m16,2h0m0-4h0m26,6h0m48-6h0m30,2h0m34,8h0m-628,2h0m56,8h0m38-2h0m10-6h0m36,2h0m12,2h0m36-4h0m0,4h0m8,4h0m22-8h0m18,6h0m18,2h0m2-2h0m6-2h0m6,0h0m22-4h0m8,4h0m14,2h0m4,4h0m4-6h0m18,6h0m12-2h0m4-4h0m6,6h0m6-10h0m0,8h0m6-4h0m0,2h0m6,4h0m2-8h0m0,4h0m2-6h0m12,0h0m4,4h0m4,6h0m0-2h0m2-6h0m4-2h0m2,4h0m2-4h0m4,6h0m4,2h0m0-4h0m10,4h0m2-2h0m2-6h0m0,2h0m10,4h0m2,0h0m4,2h0m6-8h0m4,6h0m2,0h0m2,2h0m16,0h0m24-6h0m10,2h0m4,6h0m8-8h0m6,8h0m4-10h0m0,2h0m10,6h0m4,0h0m0-6h0m16,4h0m82-6h0m-640,20h0m18-2h0m38-6h0m60,2h0m14,0h0m10-2h0m40,2h0m4,4h0m18-6h0m6,10h0m2,0h0m12-6h0m18-2h0m14,4h0m2-6h0m2,2h0m2,0h0m16,0h0m2,2h0m8-4h0m0,2h0m0,8h0m2-8h0m0,4h0m10,2h0m8-8h0m4,6h0m2,0h0m6-6h0m6,10h0m6-8h0m2,0h0m18,4h0m0-2h0m0,4h0m6-4h0m4,4h0m2-6h0m0,8h0m2,0h0m2,0h0m4,0h0m4-10h0m0,6h0m6-4h0m2,8h0m6-2h0m2-8h0m4,4h0m8,2h0m8,0h0m2-6h0m4,2h0m4-2h0m4,2h0m2,2h0m2,2h0m2,2h0m2-6h0m6,2h0m2-4h0m6,6h0m14-6h0m4,6h0m2,2h0m4-6h0m14,4h0m2,0h0m0,4h0m4,0h0m4-4h0m8-2h0m20,4h0m10-4h0m204-4h0m-762,20h0m6,2h0m0-6h0m52-2h0m92,6h0m4,0h0m12-6h0m16,2h0m6,2h0m6,2h0m28,2h0m8-8h0m8,2h0m4,0h0m8-2h0m28,6h0m6,0h0m16-8h0m24,4h0m2-2h0m2,4h0m2,2h0m0,2h0m8-2h0m22-4h0m8,6h0m8-6h0m2,4h0m14-6h0m4,8h0m6-8h0m4,0h0m6,2h0m4,0h0m4,0h0m4-4h0m8,10h0m2-2h0m0,2h0m2,0h0m2,0h0m0-10h0m6,8h0m0-8h0m2,6h0m6-4h0m0,4h0m2-2h0m6-2h0m0,4h0m4-2h0m6,0h0m8-4h0m4,10h0m2-6h0m2-2h0m6-2h0m2,4h0m2,4h0m10,2h0m10-4h0m8,2h0m16-6h0m4,8h0m52-4h0m10,0h0m10,0h0m72-6h0m0,6h0m104-6h0m14,4h0m-776,12h0m14-2h0m16,0h0m26,2h0m70-2h0m2,6h0m16-8h0m4,2h0m48,8h0m6-2h0m16-2h0m16,2h0m12-8h0m2,4h0m10,2h0m6-4h0m52,0h0m6-2h0m2,10h0m8-4h0m6-2h0m14,2h0m2,0h0m8-6h0m0,8h0m2,0h0m0-2h0m2,0h0m0,2h0m2-8h0m0,4h0m2,2h0m2-6h0m6,6h0m8,0h0m0-6h0m2,2h0m2,0h0m6,0h0m2-2h0m0,8h0m6-2h0m16-6h0m2,0h0m2,10h0m4-8h0m4,2h0m2,2h0m12-6h0m2,0h0m6,0h0m4,4h0m4,0h0m16-2h0m2,2h0m10-2h0m8,4h0m2-4h0m14-2h0m2,0h0m12,2h0m2-2h0m74,8h0m34-8h0m84,4h0m-750,12h0m62-2h0m28,2h0m54-2h0m4,8h0m10-8h0m58,2h0m0,6h0m12-8h0m16-2h0m16,4h0m30,0h0m0,2h0m4,2h0m2-8h0m32,6h0m12-6h0m0,2h0m6,0h0m4,0h0m2-2h0m6,6h0m6-4h0m0,8h0m6-8h0m6,0h0m2,6h0m4-8h0m4,8h0m2,2h0m0-8h0m0,4h0m2-2h0m4-2h0m4,0h0m6,4h0m6,2h0m4-2h0m16,4h0m8-10h0m2,10h0m6-4h0m10-2h0m0,4h0m14,2h0m2,0h0m0-6h0m4,0h0m4,2h0m8,0h0m0-4h0m4,6h0m0,2h0m2-6h0m0,2h0m2-2h0m8,0h0m4-2h0m6,2h0m12,0h0m2-4h0m18,0h0m4,8h0m4-8h0m4,0h0m10,10h0m12-6h0m56,2h0m30-6h0m32,10h0m10-8h0m144,4h0m-830,14h0m54-6h0m16,2h0m20-2h0m68,0h0m2,0h0m14-2h0m8,6h0m18,4h0m8-4h0m8,4h0m4-2h0m12,0h0m12-6h0m2,8h0m8-2h0m22-2h0m22,0h0m2,2h0m4,2h0m0-10h0m22,4h0m2,0h0m10-2h0m0,8h0m2-2h0m2,2h0m2-4h0m10-2h0m0,2h0m0-6h0m2,8h0m8-6h0m12,4h0m2-4h0m8,6h0m2-4h0m6,6h0m0-6h0m10,2h0m2-4h0m2,4h0m6-2h0m0-4h0m2,0h0m4,8h0m2-2h0m10-4h0m0,8h0m10-8h0m2,2h0m4-2h0m16-2h0m16,2h0m4-2h0m2,10h0m2-4h0m10-4h0m6,0h0m0,8h0m4-10h0m4,6h0m16,0h0m2-6h0m16,10h0m4-6h0m2,6h0m110-4h0m30,0h0m36,0h0m72-6h0m-806,12h0m54,0h0m110,0h0m94,0h0m18,0h0m6,2h0m10,0h0m14,0h0m4-2h0m2,0h0m10,0h0m4,2h0m16-2h0m24,2h0m42-2h0m6,0h0m2,2h0m14-2h0m30,2h0m14,0h0m50-2h0m10,0h0m12,2h0m10-2h0m72,2h0"/><path d="M2079,615h0m-32,14h0m-6,14h0m-84,16h0m94,10h0m6,2h0m44,6h0m88,2h0m-142,16h0m40,0h0m-68,10h0m24,2h0m50,8h0m42-6h0m88,0h0m-350,12h0m78,6h0m82,12h0m34,0h0m112,0h0m-192,24h0m90,2h0m-214,8h0m216,2h0m60,4h0m-62,8h0m8,2h0m2,2h0m36-8h0m-170,12h0m76-2h0m10,4h0m-48,16h0m20,0h0m28,0h0m22-4h0m28-2h0m2,8h0m8-10h0m10,0h0m22,8h0m32-4h0m-262,18h0m112,0h0m4-8h0m22,4h0m2,2h0m66,2h0m4,0h0m64-4h0m124,2h0m-362,12h0m28-2h0m72-2h0m30-4h0m4,10h0m36-6h0m66-4h0m12,6h0m10-4h0m-320,16h0m94,0h0m112,4h0m0-6h0m2,0h0m8,0h0m68,6h0m54-6h0m-284,18h0m28-2h0m28-8h0m4,10h0m14-8h0m6,2h0m18,0h0m12-2h0m10,4h0m14,2h0m30,0h0m18-4h0m70,4h0m10-6h0m30,6h0m-350,10h0m22-2h0m86,0h0m38-2h0m36,2h0m8-4h0m36,4h0m22-4h0m10,4h0m30,6h0m12-6h0m8,2h0m66,2h0m-482,10h0m98,0h0m14,0h0m70-4h0m8-2h0m34,2h0m24,0h0m8,4h0m14,0h0m2-6h0m8,8h0m16,2h0m16-10h0m14,2h0m2,4h0m22,4h0m6-4h0m14,4h0m28-6h0m12,4h0m86-6h0m-336,16h0m10-2h0m48,6h0m10-6h0m2,4h0m4-4h0m26,0h0m2,4h0m14,2h0m2-10h0m2,2h0m24,8h0m18-8h0m6,8h0m20-8h0m10,6h0m4-8h0m202,10h0m-518,12h0m38-8h0m54,0h0m46,4h0m8,2h0m28-6h0m8,4h0m22-2h0m2-2h0m2,0h0m10,2h0m14,4h0m6-2h0m18-4h0m2,2h0m2,2h0m18,4h0m14-2h0m18,2h0m2-6h0m14-4h0m16,4h0m14,0h0m124,4h0m64,0h0m-490,8h0m12,4h0m12,2h0m32-6h0m26,2h0m14,4h0m4-10h0m16,8h0m14-8h0m48,8h0m4-4h0m10,4h0m8-8h0m4,10h0m18,0h0m8-8h0m70,2h0m30,6h0m44,0h0m-376,6h0m18,2h0m46,4h0m6-8h0m14,4h0m10,4h0m6-10h0m16,8h0m10-4h0m12,4h0m0,2h0m4-4h0m2-4h0m16,0h0m12,2h0m14-2h0m4-2h0m0,4h0m4,6h0m8-10h0m4,0h0m6,8h0m2,0h0m4-6h0m0-2h0m2,0h0m2,4h0m8,0h0m2,4h0m16-8h0m4,8h0m0-8h0m4,4h0m2-4h0m12,0h0m58,6h0m142-4h0m-532,18h0m60-2h0m44,0h0m4-2h0m40,0h0m14,0h0m26-4h0m4,0h0m10,10h0m8-2h0m18,0h0m8,2h0m2,0h0m12-2h0m4-6h0m14,4h0m12,2h0m14,0h0m0-6h0m14,4h0m6,2h0m12-6h0m10-2h0m12,10h0m26-4h0m2,2h0m0-6h0m34,2h0m4,4h0m-482,8h0m54-2h0m16,4h0m18-2h0m124-2h0m0,2h0m16,6h0m2,0h0m8-4h0m6,0h0m6,2h0m4,0h0m64,0h0m8-6h0m18,0h0m12,2h0m14,4h0m10,0h0m12-6h0m0-2h0m4,6h0m2,4h0m10-4h0m20-4h0m54,0h0m14-2h0m100,4h0m-582,12h0m12,0h0m20-2h0m30-2h0m90,6h0m76,0h0m46-4h0m6-2h0m2,4h0m10-2h0m2,0h0m8,2h0m14-2h0m18,0h0m4,8h0m2,0h0m0-10h0m24,2h0m16,4h0m10-2h0m8,0h0m10,2h0m30-4h0m26,8h0m0-6h0m38,0h0m6,0h0m-462,8h0m4,8h0m96-6h0m12-2h0m12,6h0m10-2h0m8,6h0m16,0h0m2-10h0m0,2h0m2,4h0m14,4h0m4-10h0m4,0h0m12,0h0m4,8h0m16,0h0m6,0h0m4-2h0m12-4h0m8,8h0m12-8h0m2,0h0m0-2h0m4,0h0m4,4h0m16,4h0m2-2h0m14,4h0m8-6h0m12,0h0m4,2h0m4,0h0m2,4h0m8-4h0m2-4h0m2,4h0m26,2h0m2-8h0m14,8h0m4-8h0m10,6h0m8,0h0m26-2h0m20,4h0m4,0h0m-550,6h0m118-2h0m6,8h0m12-2h0m10,0h0m12,4h0m20-6h0m4-2h0m2,6h0m30-4h0m6,0h0m24,2h0m2-6h0m30,8h0m2-4h0m18,2h0m2,4h0m8-6h0m12,0h0m6,2h0m2,0h0m2-4h0m6,6h0m2,2h0m2-10h0m8,4h0m8,0h0m4,2h0m12,0h0m0-4h0m6,8h0m2,0h0m2-8h0m0-2h0m10,10h0m6-6h0m8,4h0m2-2h0m16,0h0m2,4h0m6-6h0m18-4h0m6,8h0m4-8h0m4,4h0m14-4h0m8,0h0m2,4h0m8,4h0m38-2h0m12-2h0m124,6h0m-582,10h0m48,0h0m16-2h0m26-4h0m34-2h0m4,10h0m10,0h0m34-8h0m18,6h0m4-6h0m4,6h0m10-2h0m6,2h0m4-4h0m6,2h0m2-4h0m2,4h0m10,0h0m8-4h0m4-2h0m14,8h0m2-4h0m2,2h0m12,2h0m6-4h0m2,6h0m4-8h0m4,6h0m0-6h0m8,4h0m16,0h0m4-4h0m16-2h0m6,6h0m18,0h0m14-2h0m6-2h0m12,4h0m2,0h0m52-6h0m2,4h0m24-2h0m-552,20h0m18-6h0m94,4h0m4,2h0m44-2h0m10-2h0m20-2h0m0,4h0m12,0h0m10-8h0m4,0h0m10,4h0m18,2h0m2,4h0m20,0h0m2-6h0m0-2h0m12,2h0m2,4h0m12-4h0m4,2h0m10,0h0m0,4h0m8-2h0m2-8h0m14,2h0m6,8h0m4-4h0m0,2h0m4-8h0m8,10h0m0-6h0m10,4h0m2-6h0m8-2h0m0,4h0m10-2h0m8,4h0m4-2h0m2,2h0m4,2h0m10-2h0m2,2h0m2-4h0m4-4h0m6,4h0m6,4h0m2,0h0m4-6h0m2,8h0m2-4h0m6-6h0m8,10h0m4,0h0m0-10h0m0,8h0m2-8h0m24,4h0m42-4h0m18,0h0m40,4h0m10,0h0m38,4h0m2-2h0m70,0h0m-672,16h0m22-4h0m24,2h0m20,0h0m42-8h0m2,8h0m18,2h0m16-6h0m16,6h0m18-10h0m8,0h0m8,2h0m14,4h0m2,2h0m0-4h0m6-4h0m14,10h0m4-4h0m12,2h0m6,2h0m8-6h0m10,0h0m16,6h0m6,0h0m6-2h0m16-4h0m6-2h0m10,2h0m0,2h0m6,2h0m0-2h0m0,4h0m6,0h0m2-6h0m12,2h0m12,2h0m12-2h0m4-6h0m4,4h0m4-4h0m14,10h0m10-10h0m4,8h0m14-4h0m10-4h0m16,2h0m16-2h0m6,10h0m38-8h0m14,0h0m10,8h0m-588,6h0m58,4h0m104-4h0m18,0h0m6,4h0m22-2h0m0-4h0m4,8h0m18-10h0m2,0h0m8,10h0m10-8h0m0,8h0m0-6h0m8-4h0m8,2h0m2,8h0m0-10h0m2,10h0m14,0h0m8-6h0m10,6h0m6-8h0m4,8h0m4,0h0m0-10h0m4,10h0m2-6h0m6,0h0m6,2h0m2-6h0m0,4h0m8-2h0m4,8h0m6-2h0m12-8h0m18,4h0m8,4h0m0-2h0m2,2h0m4-6h0m2,4h0m20,0h0m4-2h0m2-2h0m0,4h0m0,4h0m8-10h0m0,4h0m8,4h0m2,0h0m6-2h0m12,4h0m20-8h0m12-2h0m6,8h0m12,0h0m4-4h0m12-2h0m16,6h0m2-2h0m20,4h0m132-8h0m-740,18h0m114-8h0m12,0h0m34,8h0m24-8h0m10,4h0m50,2h0m16,2h0m6-2h0m8-6h0m6,4h0m2,2h0m22,4h0m14,0h0m2-8h0m2,6h0m6-6h0m0,8h0m8-8h0m16,0h0m10,2h0m0,2h0m2,4h0m6-2h0m2-8h0m4,8h0m6-8h0m12,0h0m4,0h0m8,0h0m0,2h0m2,6h0m2-6h0m8,4h0m0,2h0m4-8h0m2,8h0m12-2h0m2-2h0m4,6h0m0-2h0m22-8h0m8,10h0m0-6h0m8-4h0m4,0h0m2,10h0m2-8h0m4-2h0m2,4h0m8,4h0m12,0h0m8-4h0m0,4h0m2-8h0m10,10h0m6-6h0m28,6h0m8-10h0m16,8h0m66-6h0m8-2h0m-606,22h0m52-8h0m44,6h0m10-4h0m32-4h0m18,4h0m2,6h0m2-2h0m4-2h0m6,4h0m4-10h0m12,6h0m4-4h0m2,0h0m24,4h0m8,0h0m6,2h0m2,2h0m6-6h0m2,4h0m22,0h0m2,0h0m2,0h0m2-4h0m0,2h0m2-4h0m2,4h0m12-4h0m10,0h0m8,8h0m2-4h0m6,4h0m6-10h0m8,6h0m4-6h0m10,8h0m4-8h0m2,6h0m2-2h0m4-4h0m0,4h0m0,2h0m2-4h0m2,2h0m4,4h0m2,0h0m10-4h0m4,6h0m2-6h0m2,4h0m16-2h0m4,2h0m12,0h0m10,0h0m2,0h0m4-8h0m2,6h0m2,4h0m0-2h0m2-2h0m6,2h0m10-2h0m4,4h0m4-6h0m6,6h0m4-2h0m4-6h0m2-2h0m18,0h0m8,10h0m0-8h0m22-2h0m4,2h0m30,2h0m154-4h0m38,0h0m-820,12h0m108,6h0m10,2h0m28-2h0m56,0h0m48,0h0m2,0h0m20,2h0m12-8h0m6,4h0m10,6h0m12-2h0m16,0h0m12-6h0m6,8h0m2,0h0m4,0h0m8-4h0m12,0h0m6,4h0m0-6h0m2,0h0m2,0h0m0,6h0m6-10h0m6,2h0m10-2h0m4,6h0m0,2h0m2-6h0m4,2h0m4,0h0m0,4h0m4-6h0m0,8h0m0-6h0m0,4h0m2-2h0m2,2h0m2-2h0m4,2h0m6,0h0m10-6h0m2-2h0m0,2h0m4,0h0m6,0h0m2,4h0m2-2h0m4,0h0m16,2h0m2,2h0m4-4h0m4,0h0m2-2h0m2,0h0m34,2h0m8-2h0m4,0h0m6,4h0m6-6h0m2,2h0m18,2h0m2-2h0m30,2h0m34,0h0m98,6h0m-708,12h0m2,0h0m50-8h0m8,4h0m30,4h0m16,0h0m28-4h0m6-4h0m4,2h0m12,4h0m76,0h0m4-4h0m20-2h0m4,0h0m0,2h0m2-2h0m2,4h0m4,0h0m8,0h0m10-2h0m0,4h0m0-6h0m18,2h0m6-2h0m12,4h0m10-2h0m0,4h0m8-2h0m2-6h0m8,0h0m2,8h0m2,0h0m4-6h0m0,8h0m6-6h0m4,0h0m0,2h0m6-4h0m0,4h0m8-6h0m6,8h0m6,2h0m2-4h0m4,0h0m6,4h0m6-4h0m2-2h0m0-4h0m4,6h0m0,4h0m0-2h0m2,0h0m2-2h0m0,4h0m4-8h0m2,2h0m0-4h0m2,8h0m0-6h0m0,4h0m2,0h0m2-4h0m4-2h0m4,6h0m4-4h0m2,2h0m2-4h0m10,4h0m12,2h0m18-4h0m4-2h0m4,4h0m0,6h0m12-8h0m16-2h0m4,0h0m2,10h0m2-8h0m8,8h0m14-10h0m4,0h0m8,8h0m44-2h0m90-6h0m46,6h0m14,0h0m-788,6h0m60,10h0m12-10h0m18,6h0m66,4h0m6-8h0m34-2h0m2,0h0m14,8h0m4-2h0m28-6h0m28,2h0m2-2h0m2,0h0m6,6h0m12,0h0m12,0h0m18,0h0m14-4h0m4,8h0m2,0h0m12-4h0m6,2h0m0-2h0m0-2h0m8,6h0m0-10h0m2,4h0m2-4h0m4,2h0m0,6h0m4-8h0m2,8h0m4,0h0m16-8h0m6,4h0m12,0h0m2-2h0m0,6h0m2-4h0m10,6h0m2-6h0m12,4h0m0-2h0m4-4h0m0,8h0m4-2h0m4-4h0m2,6h0m0-4h0m12-6h0m0,8h0m8,0h0m4,0h0m2-2h0m0-6h0m16,4h0m10-4h0m0,2h0m8,2h0m0-2h0m2,6h0m2-6h0m2,4h0m6,4h0m8,0h0m6,0h0m8,0h0m2-4h0m18,2h0m6-4h0m10,4h0m8-8h0m82,10h0m34-6h0m104,0h0m-664,10h0m70-2h0m24,2h0m44-2h0m8,2h0m6-2h0m4,0h0m12,0h0m6,0h0m0,2h0m20,0h0m32-2h0m10,0h0m10,2h0m2,0h0m22-2h0m20,0h0m2,2h0m4,0h0m2-2h0m76,2h0"/><path d="M2057,627h0m20,8h0m-20,16h0m-58,22h0m46,10h0m52,12h0m-74,10h0m48,0h0m4-8h0m24,2h0m14,0h0m-180,20h0m130-6h0m56-2h0m-62,18h0m50-2h0m4-2h0m42,6h0m-226,8h0m12,4h0m94,0h0m36-6h0m18,4h0m30,0h0m2-6h0m-256,12h0m156,0h0m2,6h0m52-4h0m-80,10h0m6,2h0m70,0h0m6,6h0m94-4h0m-246,12h0m2-4h0m74,8h0m16,0h0m38,0h0m4-6h0m38,0h0m-142,10h0m72,2h0m68,0h0m90,0h0m-232,16h0m36-4h0m90,0h0m14,6h0m-72,8h0m18-2h0m112,0h0m68-4h0m-224,12h0m16,4h0m38,6h0m10-2h0m2-6h0m30,4h0m14,4h0m18-4h0m4-4h0m2,8h0m144-8h0m-328,12h0m18,8h0m86-4h0m28,2h0m2-6h0m2,0h0m2,6h0m14-8h0m4,10h0m16-4h0m6-2h0m-230,10h0m48-2h0m26,4h0m12,4h0m4,2h0m2,0h0m2,0h0m2-4h0m22-6h0m12,0h0m10,2h0m14,0h0m4,2h0m2-2h0m28,6h0m8,0h0m2-4h0m-220,18h0m46-10h0m98,2h0m18,8h0m10-4h0m72-2h0m48,0h0m0,6h0m4-2h0m8,2h0m8,0h0m28,0h0m-330,10h0m96,2h0m70-6h0m10,0h0m16-2h0m4,4h0m14,4h0m2-4h0m20,0h0m12,0h0m12-4h0m14,4h0m170-6h0m-456,20h0m10,0h0m18,0h0m14-8h0m10,2h0m88-2h0m52,4h0m12,2h0m24,0h0m18,0h0m4,2h0m2-4h0m16,4h0m2-8h0m66,10h0m-266,12h0m48-6h0m6-4h0m18,10h0m36-6h0m4-4h0m8,10h0m4-6h0m28-4h0m22,6h0m12,2h0m22,0h0m16-4h0m2,2h0m6-6h0m2,8h0m16,0h0m8,0h0m4-8h0m62,4h0m-474,18h0m6,0h0m84-10h0m20,2h0m54,2h0m8,6h0m14-8h0m26-2h0m8,4h0m32-4h0m16,0h0m12,0h0m14,6h0m14-2h0m2-2h0m2,6h0m6-8h0m2,4h0m22,0h0m2-2h0m6,4h0m2,4h0m4-2h0m2,2h0m2,0h0m32,0h0m14-2h0m16,0h0m210-4h0m-636,16h0m78,2h0m6-8h0m46,4h0m22,2h0m12-2h0m12,4h0m8-4h0m36,2h0m26-6h0m6,6h0m10-8h0m4,8h0m14,0h0m20-4h0m6,2h0m46,0h0m2-2h0m14,2h0m40,2h0m36-2h0m44,2h0m-506,6h0m20,0h0m152,4h0m12-4h0m0,4h0m34,0h0m76,2h0m8,0h0m8-6h0m6,8h0m4,0h0m22,0h0m10-8h0m0-2h0m6,10h0m6-10h0m4,8h0m16,0h0m20-8h0m68,4h0m-486,14h0m30,4h0m48-6h0m16,2h0m10,0h0m6,0h0m12,4h0m26-4h0m8,2h0m12,2h0m20,0h0m4-4h0m4-4h0m16,4h0m22-4h0m32,4h0m12-4h0m10,8h0m2-6h0m2,0h0m36,2h0m4-2h0m26,6h0m2-6h0m14-4h0m6,0h0m12,0h0m20,8h0m6,2h0m12-8h0m50-2h0m-366,12h0m80,0h0m10,2h0m0,2h0m6-2h0m0,8h0m12-10h0m6,6h0m4,2h0m4-6h0m14,6h0m4-2h0m10-6h0m0,8h0m2-6h0m28,8h0m20-2h0m0-6h0m0-2h0m22,6h0m0-6h0m0,4h0m4,2h0m8,4h0m0-8h0m30,2h0m16-2h0m18,0h0m6-2h0m0,4h0m6-4h0m0,8h0m24-4h0m0-4h0m2,8h0m46-4h0m-386,8h0m6,4h0m36-2h0m2-2h0m68,2h0m2-2h0m0,4h0m44-2h0m14,4h0m4,0h0m2,0h0m4-6h0m4,2h0m4-2h0m12,6h0m32-6h0m2,10h0m8-10h0m40,10h0m4-2h0m0,2h0m16-8h0m2,4h0m8,0h0m34,0h0m-428,8h0m28,8h0m16-10h0m54,2h0m18,2h0m20-2h0m6,6h0m12-8h0m2,10h0m18-10h0m0,4h0m6,4h0m4-4h0m14,2h0m6-6h0m24,4h0m12,4h0m2-8h0m14,8h0m12,0h0m24-6h0m0-2h0m6,4h0m8-4h0m2,10h0m6-8h0m10,8h0m6-2h0m4-4h0m0,2h0m10,2h0m18-2h0m2-6h0m0,4h0m4,0h0m2,2h0m24-6h0m0,10h0m8-8h0m56,4h0m-480,12h0m2,2h0m2,2h0m46-2h0m82,0h0m18-6h0m0-2h0m8,4h0m22-4h0m16,6h0m12-2h0m6,2h0m6-4h0m2,6h0m6-2h0m0,4h0m12,0h0m16-10h0m2,4h0m2,0h0m2,4h0m4-8h0m8,0h0m0,2h0m12-2h0m2,4h0m6,2h0m6-4h0m12,2h0m20,2h0m4-2h0m22,6h0m14-10h0m0,2h0m14,2h0m0-2h0m18,2h0m44-2h0m6,8h0m24-4h0m8,2h0m14-4h0m66,4h0m30-6h0m-612,12h0m78,6h0m24-2h0m18,0h0m4-2h0m2-4h0m2,8h0m12-8h0m12,2h0m42-2h0m12,2h0m4-2h0m2,10h0m42-8h0m26,0h0m8,6h0m8-8h0m8,2h0m0,2h0m2,6h0m2-6h0m4,2h0m2,0h0m10-6h0m8,6h0m6-2h0m0,4h0m0-6h0m2,4h0m8,0h0m4-6h0m2,4h0m10,2h0m2-6h0m22,6h0m2,4h0m2-2h0m6-8h0m34,0h0m62,2h0m0,2h0m4-4h0m14,4h0m56,2h0m-628,10h0m18,0h0m8,2h0m28-2h0m4,4h0m46-4h0m22-4h0m32,4h0m6,2h0m8,0h0m14-2h0m28,0h0m12-2h0m2,6h0m2-8h0m6,8h0m12-6h0m8,0h0m20,2h0m0,6h0m20,0h0m2-10h0m4,4h0m2,4h0m28-4h0m2,4h0m6,0h0m14-6h0m6,6h0m12,2h0m10-6h0m4,4h0m10-4h0m0,2h0m2-6h0m2,10h0m14-8h0m2,4h0m0,2h0m8-8h0m40,2h0m4,0h0m2-2h0m6,2h0m6-2h0m2,8h0m8-6h0m22,8h0m2-4h0m72-6h0m-600,12h0m96,6h0m20,0h0m48-6h0m30,4h0m2,0h0m22,2h0m4-4h0m24,6h0m4,2h0m2-10h0m4,10h0m2-2h0m16,2h0m2-10h0m2,6h0m4,4h0m8-6h0m14,2h0m10,4h0m2-2h0m6,0h0m14,2h0m16-6h0m6,4h0m0-2h0m8-6h0m30,10h0m16-2h0m10-6h0m2,0h0m2,6h0m4,2h0m2-4h0m2,4h0m2-10h0m6,0h0m6,2h0m10,8h0m16-4h0m0-6h0m6,6h0m10,0h0m10,4h0m70-4h0m14-6h0m-484,14h0m8,4h0m8-6h0m14,8h0m24-2h0m2-4h0m0-2h0m8,8h0m20-2h0m28-2h0m6,0h0m2,2h0m10-6h0m14,2h0m16,6h0m6-8h0m2,8h0m12-8h0m10,10h0m2-4h0m2-2h0m4,2h0m6,4h0m12-4h0m6-4h0m8,6h0m4,0h0m10-6h0m2,6h0m0-6h0m4,2h0m12-2h0m8,4h0m0,4h0m16,0h0m0-10h0m0,8h0m2-4h0m6,4h0m6,2h0m6-8h0m8,2h0m2-4h0m2,6h0m4-4h0m0,4h0m2-4h0m10,6h0m22-8h0m2,0h0m2,0h0m14,2h0m6,8h0m14-8h0m28,0h0m10,6h0m12-2h0m0-2h0m34,0h0m12,6h0m48-2h0m34-4h0m-644,8h0m20,2h0m40,8h0m46-2h0m46,2h0m0-6h0m6,4h0m14-6h0m34,2h0m2,6h0m8-8h0m2-2h0m2,2h0m2,6h0m16,0h0m12-2h0m8-2h0m8-4h0m2,8h0m0-6h0m20,8h0m18-6h0m10,6h0m8-6h0m2,6h0m4-2h0m0-6h0m2-2h0m4,8h0m0-6h0m4,4h0m2,2h0m6-8h0m6,6h0m2,0h0m4-6h0m0,6h0m6,0h0m4,0h0m0-6h0m10,0h0m2,2h0m0,4h0m4-2h0m2,4h0m4-6h0m2,8h0m6-8h0m0,4h0m4-2h0m8,2h0m8,2h0m6,2h0m2-4h0m2-4h0m24,0h0m2,8h0m8-4h0m10,2h0m0,2h0m6-8h0m6,4h0m52,0h0m18-6h0m-492,20h0m10-2h0m38,2h0m8,0h0m10-6h0m12,0h0m20,8h0m6-8h0m8,6h0m0-6h0m4,6h0m6-6h0m6,8h0m2-8h0m24,2h0m4-2h0m0,4h0m4,4h0m2-4h0m6,4h0m6,0h0m6-6h0m8,2h0m2-6h0m2,8h0m0-6h0m8,6h0m6,2h0m4-2h0m0-8h0m6,4h0m2-2h0m0,4h0m2-2h0m10,2h0m2-4h0m2,6h0m8,2h0m2-6h0m12,4h0m4-4h0m6-4h0m10,2h0m2,6h0m10-4h0m2,4h0m0,2h0m2,0h0m0-10h0m2,8h0m4-4h0m0,6h0m14-4h0m4-4h0m0,8h0m2-2h0m4-2h0m4,2h0m4,0h0m4-2h0m0-6h0m6,4h0m4-4h0m8,6h0m8-2h0m4,4h0m0-6h0m0,4h0m10-2h0m2,6h0m0-10h0m6,6h0m4-4h0m0,4h0m4,0h0m2-2h0m4,4h0m0,2h0m2-10h0m0,4h0m22,6h0m4-6h0m2-2h0m12,8h0m28-4h0m34-6h0m8,2h0m232,4h0m-798,10h0m66-4h0m66,4h0m14,4h0m6-6h0m8,4h0m4-2h0m2,2h0m2-2h0m4,6h0m24-10h0m4,2h0m8,0h0m12,4h0m8-2h0m4,0h0m4,0h0m4-2h0m16,6h0m6-4h0m12,0h0m0,4h0m4,2h0m6-8h0m8,4h0m0-2h0m4-2h0m4,2h0m2-4h0m6,8h0m4-6h0m8,0h0m0,8h0m6-2h0m4-4h0m8,6h0m4-2h0m4,2h0m4-8h0m4,0h0m0,2h0m2,0h0m0-2h0m2,8h0m4-8h0m0,8h0m4-6h0m0,4h0m0-6h0m2,4h0m0,2h0m6-8h0m6,10h0m2-2h0m0-4h0m2,6h0m2-10h0m0,10h0m6-2h0m2-8h0m4,10h0m0-2h0m2-6h0m2-2h0m2,10h0m2-2h0m4-8h0m2,8h0m0-8h0m10,8h0m8,2h0m0-10h0m6,4h0m2,4h0m12-8h0m4,2h0m8,0h0m8,0h0m8,2h0m10,0h0m4,0h0m18,2h0m22,4h0m4,0h0m8-8h0m38-2h0m10,0h0m110,4h0m110,6h0m-834,4h0m20,2h0m18,6h0m24,0h0m12-10h0m4,6h0m36,0h0m12,4h0m44-4h0m4,0h0m12,2h0m4-4h0m2,0h0m30-4h0m10,6h0m4-4h0m0-2h0m2,4h0m2,0h0m4,6h0m6-10h0m6,10h0m8-6h0m26,4h0m2,2h0m0-6h0m2,2h0m0-2h0m2-2h0m4-2h0m10,0h0m4,2h0m10,0h0m10,8h0m2,0h0m0-8h0m4,0h0m2,6h0m2,0h0m4-8h0m2,6h0m6,4h0m2-10h0m16,2h0m10,0h0m0,4h0m2-6h0m6,2h0m6,8h0m4-8h0m6,8h0m4-2h0m8,0h0m2,0h0m0,2h0m22-2h0m0,2h0m2-10h0m4,0h0m8,2h0m20,4h0m18-4h0m36-2h0m8,0h0m0,6h0m24,2h0m6,2h0m0-6h0m2-2h0m92,8h0m8-4h0m48,2h0m-776,4h0m72,10h0m8-4h0m6-6h0m44,2h0m20,2h0m2,2h0m30,2h0m10-6h0m0,6h0m14-6h0m12,6h0m74-8h0m2,0h0m20,2h0m6,0h0m8,2h0m0,2h0m26,0h0m14-6h0m10,4h0m10,6h0m6-2h0m6,0h0m4-6h0m2,4h0m6-2h0m6-2h0m12,6h0m2-8h0m0,8h0m0-6h0m2-2h0m10,8h0m4-6h0m2,8h0m4-4h0m0-6h0m2,4h0m0,4h0m2-6h0m8,2h0m6,0h0m6,4h0m2,0h0m2-8h0m0,4h0m12,4h0m2-6h0m4,8h0m14-6h0m4-4h0m4,0h0m0,2h0m2-2h0m12,8h0m24-2h0m2-2h0m16,2h0m0-2h0m0,4h0m26,2h0m6-2h0m24-8h0m2,4h0m4,6h0m46-4h0m92,4h0m28-10h0m-688,14h0m24,0h0m4,0h0m28-2h0m108,0h0m28,2h0m32-2h0m6,0h0m8,2h0m68-2h0m4,0h0m28,2h0m2-2h0m4,0h0m64,0h0m22,0h0m28,0h0m58,2h0m22,0h0m168-2h0"/></g>
<path d="M922.0,551.0C919.0,548.0 935.4,541.1 940.0,535.0C944.6,528.9 949.2,519.5 953.0,510.0C956.8,500.6 960.6,481.4 965.0,472.0C969.4,462.6 976.8,453.0 982.0,447.0C987.2,441.0 994.0,436.2 1000.0,432.0C1006.0,427.8 1015.7,422.4 1022.0,419.0C1028.3,415.6 1036.3,410.6 1042.0,409.0C1047.7,407.4 1054.6,406.5 1060.0,408.0C1065.4,409.5 1072.8,413.9 1078.0,419.0C1083.2,424.1 1090.2,435.2 1095.0,442.0C1099.8,448.8 1105.7,457.9 1110.0,464.0C1114.3,470.1 1119.5,476.9 1124.0,483.0C1128.5,489.1 1136.4,499.4 1140.0,505.0C1143.6,510.6 1148.0,515.5 1148.0,520.0C1148.0,524.5 1144.2,530.8 1140.0,535.0C1135.8,539.2 1126.0,545.3 1120.0,548.0C1114.0,550.7 1115.0,552.0 1100.0,553.0C1085.0,554.0 1041.0,554.7 1020.0,555.0C999.0,555.3 974.7,555.6 960.0,555.0C945.3,554.4 925.0,554.0 922.0,551.0Z" fill="#2fc6a8" fill-opacity="0.36" stroke="#12bccf" stroke-opacity="0.95" stroke-width="1.1"/>
<path d="M952.0,551.0C948.2,546.0 961.1,529.1 965.0,520.0C968.9,510.9 974.2,497.9 978.0,490.0C981.8,482.1 985.6,472.9 990.0,467.0C994.4,461.1 1001.0,454.9 1007.0,451.0C1013.0,447.1 1022.8,443.7 1030.0,441.0C1037.2,438.3 1048.4,432.9 1055.0,433.0C1061.6,433.1 1069.3,437.6 1074.0,442.0C1078.7,446.4 1082.7,456.3 1086.0,462.0C1089.3,467.7 1093.2,474.3 1096.0,480.0C1098.8,485.7 1102.9,494.8 1105.0,500.0C1107.1,505.2 1109.5,510.2 1110.0,515.0C1110.5,519.8 1109.8,527.2 1108.0,532.0C1106.2,536.8 1108.2,543.9 1098.0,547.0C1087.8,550.1 1056.2,552.1 1040.0,553.0C1023.8,553.9 1003.2,553.3 990.0,553.0C976.8,552.7 955.8,556.0 952.0,551.0Z" fill="#2fc6a8" fill-opacity="0.26" stroke="#12bccf" stroke-opacity="0.95" stroke-width="1.1"/>
<path d="M975.0,550.0C968.2,544.5 981.9,525.2 985.0,515.0C988.1,504.8 992.2,488.4 996.0,482.0C999.8,475.6 1004.1,474.2 1010.0,472.0C1015.9,469.8 1027.5,468.5 1035.0,467.0C1042.5,465.5 1054.0,460.6 1060.0,462.0C1066.0,463.4 1071.5,470.8 1075.0,476.0C1078.5,481.2 1080.9,491.0 1083.0,497.0C1085.1,503.0 1088.7,510.4 1089.0,516.0C1089.3,521.5 1087.2,529.2 1085.0,534.0C1082.8,538.8 1082.2,545.3 1074.0,548.0C1065.8,550.7 1044.8,551.7 1030.0,552.0C1015.1,552.3 981.8,555.5 975.0,550.0Z" fill="#2fc6a8" fill-opacity="0.22" stroke="#12bccf" stroke-opacity="0.95" stroke-width="1.1"/>
<path d="M995.0,549.0C991.0,545.5 1000.1,533.5 1003.0,528.0C1005.9,522.5 1010.5,515.6 1014.0,512.0C1017.5,508.4 1020.5,505.5 1026.0,504.0C1031.5,502.5 1045.3,500.9 1051.0,502.0C1056.7,503.1 1061.0,507.7 1064.0,511.0C1067.0,514.3 1069.7,520.0 1071.0,524.0C1072.3,528.0 1073.8,534.2 1073.0,538.0C1072.2,541.8 1072.5,547.0 1066.0,549.0C1059.5,551.0 1040.7,551.0 1030.0,551.0C1019.4,551.0 999.0,552.5 995.0,549.0Z" fill="#2fc6a8" fill-opacity="0.2" stroke="#12bccf" stroke-opacity="0.95" stroke-width="1.1"/>
<path d="M1041.8,142.7L803.4,555.6L1280.2,555.6Z" fill="none" stroke="#111" stroke-width="1.3" stroke-linejoin="miter"/><path d="M1232.5,473.0h5.5M994.1,225.3l-2.8,-4.8M898.8,555.6l-2.8,4.8M1184.8,390.4h5.5M946.4,307.8l-2.8,-4.8M994.1,555.6l-2.8,4.8M1137.2,307.8h5.5M898.8,390.4l-2.8,-4.8M1089.5,555.6l-2.8,4.8M1089.5,225.3h5.5M851.1,473.0l-2.8,-4.8M1184.8,555.6l-2.8,4.8M1041.8,142.7h5.5M803.4,555.6l-2.8,-4.8M1280.2,555.6l-2.8,4.8" fill="none" stroke="#1a1a1a" stroke-width="1"/>
<g font-family='"Liberation Sans", sans-serif' font-size="26.5" fill="#4d4d4d"><text x="1240.0" y="483.8" transform="translate(0,483.8) scale(1,1.1) translate(0,-483.8)">20</text><text transform="translate(987.3,218.7) rotate(60) scale(1,1.12)" text-anchor="end" y="8.5" font-size="26">20</text><text transform="translate(897.6,565.3) rotate(-60) scale(1,1.12)" text-anchor="end" y="8.5" font-size="26">20</text><text x="1192.3" y="401.2" transform="translate(0,401.2) scale(1,1.1) translate(0,-401.2)">40</text><text transform="translate(939.6,301.3) rotate(60) scale(1,1.12)" text-anchor="end" y="8.5" font-size="26">40</text><text transform="translate(992.9,565.3) rotate(-60) scale(1,1.12)" text-anchor="end" y="8.5" font-size="26">40</text><text x="1144.7" y="318.6" transform="translate(0,318.6) scale(1,1.1) translate(0,-318.6)">60</text><text transform="translate(892.0,383.8) rotate(60) scale(1,1.12)" text-anchor="end" y="8.5" font-size="26">60</text><text transform="translate(1088.3,565.3) rotate(-60) scale(1,1.12)" text-anchor="end" y="8.5" font-size="26">60</text><text x="1097.0" y="236.1" transform="translate(0,236.1) scale(1,1.1) translate(0,-236.1)">80</text><text transform="translate(844.3,466.4) rotate(60) scale(1,1.12)" text-anchor="end" y="8.5" font-size="26">80</text><text transform="translate(1183.6,565.3) rotate(-60) scale(1,1.12)" text-anchor="end" y="8.5" font-size="26">80</text><text x="1049.3" y="153.5" transform="translate(0,153.5) scale(1,1.1) translate(0,-153.5)">100</text><text transform="translate(796.6,549.0) rotate(60) scale(1,1.12)" text-anchor="end" y="8.5" font-size="26">100</text><text transform="translate(1279.0,565.3) rotate(-60) scale(1,1.12)" text-anchor="end" y="8.5" font-size="26">100</text></g>
<g font-family='"Liberation Sans", sans-serif' font-size="33" fill="#000"><text x="1041.3" y="119.2" text-anchor="middle" transform="translate(0,119.2) scale(1,1.07) translate(0,-119.2)">PM</text><text x="782.9" y="589.6" text-anchor="end" transform="translate(0,589.6) scale(1,1.07) translate(0,-589.6)">CO2</text><text x="1302.2" y="589.6" text-anchor="start" transform="translate(0,589.6) scale(1,1.07) translate(0,-589.6)">GR</text></g>
<path d="M946.4,212.1L824.1,408.4" stroke="#0f4c70" stroke-width="3.2" fill="none"/>
<path d="M817.8,418.6L819.7,403.3L830.7,410.2Z" fill="#0f4c70"/>
<path d="M1277.1,421.4L1150.9,219.5" stroke="#6a5fb1" stroke-width="3.2" fill="none"/>
<path d="M1144.5,209.3L1157.4,217.7L1146.4,224.6Z" fill="#6a5fb1"/>
<path d="M888.5,616.0L1182.5,616.0" stroke="#d6264a" stroke-width="3" fill="none"/>
<path d="M1193.5,616.0L1180.5,622.0L1180.5,610.0Z" fill="#d6264a"/>
<text transform="translate(868.8,318.0) rotate(-58)" font-family='"Liberation Serif", serif' font-size="33.5" fill="#0f4c70" text-anchor="middle">CO<tspan font-size="21" dy="6">2</tspan></text>
<text transform="translate(1227.0,322.0) rotate(58)" font-family='"Liberation Serif", serif' font-size="31.5" fill="#6a5fb1" text-anchor="middle">PM<tspan font-size="20" dy="6">2.5</tspan></text>
<text x="1037.0" y="648.5" font-family='"Liberation Serif", serif' font-size="29" fill="#d6264a" text-anchor="middle">GREEN</text>
<text x="365.5" y="323.5" font-family='"Liberation Serif", serif' font-size="32" fill="#0b1f66" text-anchor="middle">10%</text>
<text x="236.5" y="460.0" font-family='"Liberation Serif", serif' font-size="32" fill="#0b1f66" text-anchor="middle">12%</text>
<text x="471.0" y="460.0" font-family='"Liberation Serif", serif' font-size="32" fill="#0b1f66" text-anchor="middle">20%</text>
<text x="216.0" y="557.0" font-family='"Liberation Serif", serif' font-size="32" fill="#0b1f66" text-anchor="middle">21%</text>
<text x="341.0" y="557.0" font-family='"Liberation Serif", serif' font-size="32" fill="#0b1f66" text-anchor="middle">13%</text>
<text x="482.0" y="557.0" font-family='"Liberation Serif", serif' font-size="32" fill="#0b1f66" text-anchor="middle">24%</text>
<text x="1031.5" y="323.5" font-family='"Liberation Serif", serif' font-size="32" fill="#0b1f66" text-anchor="middle">14%</text>
<text x="917.0" y="460.0" font-family='"Liberation Serif", serif' font-size="32" fill="#0b1f66" text-anchor="middle">14%</text>
<text x="1138.0" y="460.0" font-family='"Liberation Serif", serif' font-size="32" fill="#0b1f66" text-anchor="middle">16%</text>
<text x="889.0" y="536.0" font-family='"Liberation Serif", serif' font-size="32" fill="#0b1f66" text-anchor="middle">22%</text>
<text x="1026.5" y="536.0" font-family='"Liberation Serif", serif' font-size="32" fill="#0b1f66" text-anchor="middle">13%</text>
<text x="1149.5" y="536.0" font-family='"Liberation Serif", serif' font-size="32" fill="#0b1f66" text-anchor="middle">21%</text>
<text x="84.5" y="122" font-family='"Liberation Serif", serif' font-size="30" font-weight="bold" fill="#000" text-anchor="middle">a</text>
<text x="779.5" y="122" font-family='"Liberation Serif", serif' font-size="30" font-weight="bold" fill="#000" text-anchor="middle">b</text>
<text x="87.5" y="727" font-family='"Liberation Serif", serif' font-size="30" font-weight="bold" fill="#000" text-anchor="middle">c</text>
<text x="781.5" y="727" font-family='"Liberation Serif", serif' font-size="30" font-weight="bold" fill="#000" text-anchor="middle">d</text>
<text x="1445" y="144" font-family='"Liberation Sans", sans-serif' font-size="31.2" fill="#000" transform="translate(0,144) scale(1,1.0) translate(0,-144)">category</text>
<rect x="1447" y="164" width="40.5" height="41.5" rx="1" fill="#ebebeb" stroke="#f9837b" stroke-width="2"/>
<rect x="1447" y="209.5" width="40.5" height="40.5" rx="1" fill="#ebebeb" stroke="#2cc6ca" stroke-width="2"/>
<path d="M1463,174.5h7l5.5,5.5v7l-5.5,5.5h-7l-5.500,-5.5v-7z" fill="#e8c4c2" stroke="#e8c4c2" stroke-width="1.5" stroke-linejoin="round"/>
<path d="M1463,220h7l5.5,5.5v7l-5.5,5.5h-7l-5.500,-5.5v-7z" fill="#a7d9d8" stroke="#a7d9d8" stroke-width="1.5" stroke-linejoin="round"/>
<text x="1506" y="196.5" font-family='"Liberation Sans", sans-serif' font-size="24.2" fill="#1a1a1a" transform="translate(0,196.5) scale(1,1.1) translate(0,-196.5)">Global North</text>
<text x="1506" y="242" font-family='"Liberation Sans", sans-serif' font-size="24.2" fill="#1a1a1a" transform="translate(0,242) scale(1,1.1) translate(0,-242)">Global South</text>
<text x="1445" y="343.5" font-family='"Liberation Sans", sans-serif' font-size="29.5" fill="#000" transform="translate(0,343.5) scale(1,1.06) translate(0,-343.5)">level</text>
<rect x="1446" y="363.5" width="41.5" height="41" fill="#f2f7f4"/>
<text x="1506" y="394.8" font-family='"Liberation Sans", sans-serif' font-size="25.3" fill="#1a1a1a" transform="translate(0,394.8) scale(1,1.06) translate(0,-394.8)">20</text>
<rect x="1446" y="408.6" width="41.5" height="41" fill="#eff1f4"/>
<text x="1506" y="439.9" font-family='"Liberation Sans", sans-serif' font-size="25.3" fill="#1a1a1a" transform="translate(0,439.9) scale(1,1.06) translate(0,-439.9)">40</text>
<rect x="1446" y="453.8" width="41.5" height="41" fill="#ece9f4"/>
<text x="1506" y="485.1" font-family='"Liberation Sans", sans-serif' font-size="25.3" fill="#1a1a1a" transform="translate(0,485.1) scale(1,1.06) translate(0,-485.1)">60</text>
<rect x="1446" y="498.9" width="41.5" height="41" fill="#e5e3f2"/>
<text x="1506" y="530.2" font-family='"Liberation Sans", sans-serif' font-size="25.3" fill="#1a1a1a" transform="translate(0,530.2) scale(1,1.06) translate(0,-530.2)">80</text>
<circle cx="1394.5" cy="631.2" r="5.4" fill="#f4a460" fill-opacity="0.75" stroke="#f4a460" stroke-opacity="0.68" stroke-width="1.6"/>
<text x="1426" y="637.8" font-family='"Liberation Sans", sans-serif' font-size="27.0" fill="#1a1a1a" transform="translate(0,637.8) scale(1,1.0) translate(0,-637.8)">Destruction &amp; victimization</text>
<text x="1426" y="684.6" font-family='"Liberation Sans", sans-serif' font-size="27.0" fill="#1a1a1a" transform="translate(0,684.6) scale(1,1.0) translate(0,-684.6)">trade-off area</text>
<circle cx="1394.5" cy="722.2" r="5.4" fill="#ffe08a" fill-opacity="0.75" stroke="#ffe08a" stroke-opacity="0.68" stroke-width="1.6"/>
<text x="1426" y="731.3" font-family='"Liberation Sans", sans-serif' font-size="27.0" fill="#1a1a1a" transform="translate(0,731.3) scale(1,1.0) translate(0,-731.3)">Contribution &amp; victimization</text>
<text x="1426" y="778.1" font-family='"Liberation Sans", sans-serif' font-size="27.0" fill="#1a1a1a" transform="translate(0,778.1) scale(1,1.0) translate(0,-778.1)">trade-off area</text>
<circle cx="1394.5" cy="817.2" r="5.4" fill="#b5d3e3" fill-opacity="0.7" stroke="#b5d3e3" stroke-opacity="0.63" stroke-width="1.6"/>
<text x="1426" y="825.3" font-family='"Liberation Sans", sans-serif' font-size="27.0" fill="#1a1a1a" transform="translate(0,825.3) scale(1,1.0) translate(0,-825.3)">Destruction &amp; contribution</text>
<text x="1426" y="872.1" font-family='"Liberation Sans", sans-serif' font-size="27.0" fill="#1a1a1a" transform="translate(0,872.1) scale(1,1.0) translate(0,-872.1)">trade-off area</text>
<circle cx="1394.5" cy="911.6" r="5.4" fill="#3a9e48" fill-opacity="0.65" stroke="#3a9e48" stroke-opacity="0.59" stroke-width="1.6"/>
<text x="1426" y="919.3" font-family='"Liberation Sans", sans-serif' font-size="27.0" fill="#1a1a1a" transform="translate(0,919.3) scale(1,1.0) translate(0,-919.3)">High contribution area</text>
<circle cx="1394.5" cy="960.6" r="5.4" fill="#943a3a" fill-opacity="0.7" stroke="#943a3a" stroke-opacity="0.63" stroke-width="1.6"/>
<text x="1426" y="967.3" font-family='"Liberation Sans", sans-serif' font-size="27.0" fill="#1a1a1a" transform="translate(0,967.3) scale(1,1.0) translate(0,-967.3)">High destruction area</text>
<circle cx="1394.5" cy="1008.3" r="5.4" fill="#3f78ad" fill-opacity="0.75" stroke="#3f78ad" stroke-opacity="0.68" stroke-width="1.6"/>
<text x="1426" y="1014.3" font-family='"Liberation Sans", sans-serif' font-size="27.0" fill="#1a1a1a" transform="translate(0,1014.3) scale(1,1.0) translate(0,-1014.3)">High victimization area</text>
<path d="M54.7,684V1068M145.9,684V1068M237.2,684V1068M328.4,684V1068M419.6,684V1068M510.8,684V1068M602.1,684V1068M2,739.8H688M2,799.0H688M2,858.2H688M2,917.4H688M2,976.6H688M2,1035.8H688" fill="none" stroke="#ebebeb" stroke-width="1.1"/>
<path d="M21.7,762.1L24.6,760.6L29.2,759.7L33.2,760.6L31.9,758.7L29.2,757.1L24.1,755.4L25.5,754.2L31.0,752.6L33.7,750.9L40.1,749.7L42.7,748.4L47.4,749.5L51.1,749.7L56.5,750.5L62.0,751.2L66.6,751.4L71.1,752.6L74.8,752.8L78.4,754.0L81.2,753.3L83.9,752.6L89.4,751.6L92.1,751.4L94.9,750.5L98.5,752.8L101.2,751.6L104.0,752.8L107.6,752.1L114.9,754.0L118.6,754.5L120.4,755.9L118.6,756.8L124.1,757.1L127.7,756.6L130.4,757.6L132.3,759.2L133.2,756.8L136.8,755.7L142.3,756.8L148.7,756.8L151.4,755.2L153.2,758.0L154.2,755.2L156.9,753.3L153.2,751.6L154.2,748.6L156.0,746.9L158.7,748.6L160.5,751.6L161.5,752.8L164.2,755.2L167.8,755.2L167.8,757.6L170.6,757.6L172.4,754.5L173.3,752.1L177.9,752.6L179.7,755.2L178.8,757.6L179.7,758.7L176.1,760.4L173.3,760.4L170.6,759.9L171.5,762.3L168.8,762.8L167.8,765.4L163.3,766.3L163.3,767.5L159.6,769.4L156.9,772.2L155.6,775.3L155.8,777.9L158.7,778.4L159.6,782.4L163.3,782.0L167.8,784.1L172.4,786.0L177.9,786.7L178.4,791.9L179.7,793.8L181.5,795.9L183.4,795.4L184.8,793.1L184.3,789.5L183.0,787.6L187.0,786.0L188.6,783.6L188.3,780.5L185.2,778.2L186.8,775.8L186.1,773.4L186.5,769.6L190.7,769.9L194.3,770.1L197.0,771.5L200.7,773.0L201.6,775.3L200.7,777.7L203.4,779.3L207.1,778.4L208.9,775.8L210.7,774.4L212.5,777.7L215.3,781.2L216.6,784.1L219.8,786.4L222.6,787.6L223.9,789.5L226.2,791.9L226.8,794.3L224.4,795.7L221.1,797.1L218.9,798.5L215.3,798.3L210.7,798.3L207.1,798.5L205.2,800.7L202.5,802.6L200.3,805.4L198.5,806.6L200.7,806.1L203.4,803.0L208.0,800.9L211.1,801.8L208.9,803.7L209.8,805.9L210.5,808.0L213.5,808.7L215.6,808.9L218.9,806.1L219.3,808.5L217.1,810.1L213.5,811.6L210.7,813.2L208.5,814.4L207.6,812.5L209.8,810.4L210.7,809.2L208.0,810.4L206.2,811.1L203.4,812.5L200.7,813.7L199.4,815.6L199.2,816.8L200.7,818.4L199.8,818.9L197.9,819.4L196.1,819.8L193.8,820.8L193.4,821.7L193.0,823.6L191.7,825.0L190.7,823.9L191.2,826.2L190.1,829.1L189.2,829.8L189.9,830.7L190.5,833.8L188.6,835.2L186.5,836.9L184.3,838.1L182.4,840.2L180.6,841.9L179.7,844.5L180.1,846.8L181.3,850.1L182.3,853.9L182.1,857.0L180.8,858.0L179.3,856.1L178.4,853.9L177.5,851.8L177.5,849.2L176.1,846.8L174.8,846.4L172.8,847.1L170.9,845.4L168.2,845.6L166.4,845.6L164.9,845.9L165.3,848.3L163.8,848.5L161.5,847.8L158.7,847.1L156.0,847.5L154.7,848.7L152.3,850.4L150.9,852.3L150.9,855.8L150.1,859.4L150.0,864.1L150.9,867.2L152.3,870.5L153.2,872.4L155.1,873.4L156.3,874.3L158.7,873.8L160.9,873.4L162.7,871.7L163.5,868.4L164.2,867.4L166.9,866.5L169.3,866.5L170.0,867.7L168.9,869.6L168.8,871.7L168.2,874.1L167.3,874.1L167.5,876.0L167.3,878.3L166.2,879.7L167.8,880.2L169.7,880.0L171.5,879.7L173.3,879.7L175.1,880.2L176.4,881.9L176.2,884.2L176.1,887.1L175.7,890.2L175.5,891.4L176.2,892.8L177.3,894.4L178.4,895.9L179.7,896.6L181.0,896.3L182.4,895.4L183.4,894.7L185.2,895.1L186.5,896.3L187.2,897.0L187.5,898.7L186.3,900.4L185.7,899.4L185.4,897.5L184.3,896.3L183.2,896.3L181.7,897.7L182.4,899.6L181.7,900.4L180.6,899.2L179.5,898.5L177.3,897.7L175.9,897.0L175.7,896.1L173.9,894.7L173.1,894.2L172.0,893.7L171.9,891.6L170.6,889.5L168.9,886.9L168.2,885.9L166.4,886.1L164.2,885.0L161.8,884.5L160.2,883.1L157.6,880.5L156.0,879.0L153.2,880.2L150.0,879.5L146.3,877.6L143.2,875.7L139.6,874.1L136.8,871.2L135.7,869.1L136.3,867.0L135.6,864.1L134.1,862.2L131.7,859.4L129.5,856.8L128.8,854.2L126.8,852.8L125.9,851.1L123.7,848.7L122.6,845.9L121.9,843.5L119.3,842.1L118.9,844.0L119.5,846.4L121.3,848.7L122.6,850.4L123.5,852.8L125.0,855.1L125.9,858.2L126.8,859.9L128.3,861.8L128.6,862.7L127.7,863.2L126.2,861.5L124.1,859.1L123.7,856.8L123.1,855.1L121.3,853.9L119.5,852.8L118.6,851.6L120.0,850.6L119.5,848.7L117.3,846.8L116.4,844.5L115.3,842.1L114.8,840.4L114.2,838.8L112.4,837.4L110.7,836.4L108.4,835.7L108.2,833.8L106.2,831.4L105.8,829.8L104.9,827.9L104.0,826.7L102.5,824.3L101.6,822.0L102.0,819.1L101.4,816.0L102.2,812.0L102.2,808.0L101.1,804.2L100.9,802.8L104.0,803.3L104.9,804.9L104.7,801.8L103.6,800.9L101.2,799.0L98.5,797.6L95.8,796.2L94.9,793.6L93.0,791.4L90.9,789.1L90.3,786.4L87.9,784.8L85.7,782.4L83.9,780.1L81.2,778.9L78.4,778.9L75.7,777.2L73.0,776.0L69.3,775.3L65.7,775.1L62.9,774.1L60.2,773.0L58.0,774.6L55.6,775.8L52.0,777.0L51.4,774.1L53.8,772.5L51.1,773.0L49.3,775.3L47.4,777.2L48.3,778.4L45.6,780.5L42.9,782.4L40.1,784.1L37.4,785.5L33.7,786.9L30.6,787.9L27.7,788.3L30.1,786.9L33.7,785.0L36.5,784.1L39.2,782.4L41.0,780.1L42.0,778.2L39.2,778.2L36.5,778.2L33.7,778.4L32.8,776.5L31.0,775.8L28.3,774.6L26.8,773.0L25.5,771.3L27.4,769.2L28.3,768.0L31.9,767.0L34.7,766.8L35.0,764.7L32.8,764.4L30.1,764.7L27.4,764.7L24.6,764.0L22.8,762.8ZM248.1,775.8L244.5,773.4L239.9,772.2L237.2,769.4L234.4,765.4L232.6,762.3L230.8,759.2L230.8,756.4L235.4,754.0L229.9,751.6L229.0,749.3L227.1,745.7L225.3,742.2L222.6,738.6L217.1,737.4L208.0,737.4L202.5,736.2L198.9,734.4L195.2,732.0L204.3,729.1L209.8,727.5L213.5,725.1L222.6,722.8L237.2,722.0L246.3,722.8L255.4,720.1L268.2,719.4L281.0,720.4L288.3,722.0L288.3,724.4L297.4,724.4L306.5,724.4L299.2,727.2L293.7,728.0L295.6,731.5L292.8,733.9L293.7,736.2L291.9,738.6L292.8,741.0L288.3,742.6L286.4,745.7L288.3,748.1L287.3,750.5L284.6,751.6L281.0,753.3L281.0,755.2L275.5,755.9L270.0,756.8L266.4,759.9L260.9,761.6L256.3,762.8L253.6,767.0L250.9,770.6L249.9,774.1ZM209.8,771.3L210.7,768.2L207.1,768.2L203.4,766.6L208.0,764.0L211.6,763.0L214.4,761.1L216.2,759.5L211.6,756.4L204.3,751.6L197.9,748.1L191.6,745.7L186.1,743.8L180.6,742.9L173.3,742.6L166.0,743.4L164.2,746.9L166.0,749.3L167.8,750.5L172.4,751.2L178.8,751.6L182.4,752.4L186.1,754.0L189.7,754.5L192.5,755.7L195.2,757.6L194.3,759.9L193.4,762.3L187.9,762.8L186.1,764.7L188.8,765.4L193.4,764.7L196.1,766.3L198.9,768.5L203.4,769.9L208.0,770.8ZM113.1,748.6L116.8,744.1L124.1,745.0L131.4,744.1L136.8,745.0L142.3,748.1L144.1,752.4L138.7,754.2L131.4,754.7L122.2,755.0L115.8,753.5L114.0,750.5ZM100.3,747.4L103.1,743.4L107.6,741.0L116.8,742.6L113.1,745.7L107.6,748.6L103.1,749.0ZM114.9,739.1L122.2,737.0L131.4,736.0L135.9,738.6L131.4,740.0L122.2,741.0L116.8,739.8ZM142.3,742.6L147.8,742.2L151.4,744.5L150.5,747.6L145.9,747.6L141.4,745.0ZM154.2,742.2L162.4,742.2L163.3,744.5L158.7,746.9L154.2,745.7ZM160.5,740.7L153.2,738.6L155.1,735.5L164.2,736.2L173.3,736.7L181.5,738.1L182.4,740.5L175.1,741.0L167.8,741.0ZM166.0,736.2L169.7,733.9L167.8,731.5L171.5,729.1L169.7,726.8L162.4,724.4L167.8,722.8L182.4,720.9L200.7,720.6L215.3,722.0L211.6,724.4L204.3,726.1L198.9,728.4L191.6,730.3L187.9,732.7L186.1,735.1L182.4,736.7L173.3,736.2ZM153.2,728.0L158.7,725.1L167.8,726.8L169.7,729.9L162.4,732.0L156.9,730.3ZM144.1,736.2L149.6,736.0L151.4,739.1L145.9,739.8ZM136.8,730.3L145.9,730.3L147.8,732.7L140.5,733.6L136.8,732.0ZM105.8,735.1L114.9,734.4L117.7,736.7L111.3,737.9L105.8,737.0ZM147.8,752.8L152.3,752.1L154.2,754.5L150.5,755.2L147.8,754.0ZM169.7,761.8L172.4,761.1L175.1,762.5L178.8,764.2L181.5,766.3L177.9,767.5L173.3,767.7L169.7,766.6L171.5,764.7ZM220.2,804.4L221.7,802.6L222.6,800.2L224.4,797.1L226.8,795.2L227.1,797.8L226.2,799.5L229.0,800.2L230.8,801.4L231.7,802.6L232.2,804.7L231.3,806.8L229.0,806.3L227.1,806.1L225.3,805.6L222.6,804.7ZM210.7,799.2L215.3,800.4L215.6,801.1L211.6,800.2ZM211.1,806.6L215.3,807.3L214.4,808.5L211.6,807.8ZM94.1,797.1L95.8,796.9L99.4,798.5L102.2,800.7L103.4,802.6L101.2,802.6L98.9,801.4L96.7,799.5ZM85.7,789.1L88.1,789.5L89.0,793.6L86.7,791.9ZM46.5,781.0L50.2,780.1L50.5,781.7L47.4,782.9ZM15.1,766.6L20.1,767.5L19.1,768.2L15.5,767.5ZM23.3,774.8L25.9,774.6L25.9,775.8L23.7,775.8ZM27.4,787.4L30.1,787.2L30.1,788.3L27.4,788.6ZM21.9,790.5L25.0,789.5L25.0,790.7L21.9,791.4ZM18.2,792.1L20.4,791.2L20.4,792.4ZM9.1,793.6L11.8,793.3L11.8,794.3L9.1,794.3ZM3.6,794.5L6.4,794.3L6.4,795.2L3.6,795.2ZM173.5,865.5L175.1,863.6L177.9,862.7L181.5,862.7L184.3,864.1L187.0,865.8L189.7,867.2L191.6,868.4L193.0,869.6L191.6,870.3L187.0,870.3L186.5,868.4L185.2,866.5L182.4,866.0L179.7,864.8L177.9,863.9L176.1,864.8ZM192.5,873.8L194.3,870.5L196.1,870.3L197.9,870.3L200.7,870.8L202.0,871.7L203.6,873.4L202.5,873.8L199.8,874.1L197.9,875.5L196.1,874.3L193.8,874.5ZM185.4,874.1L187.9,873.6L189.4,874.8L187.5,875.2ZM205.8,873.6L208.7,873.8L208.3,874.9L205.8,874.9ZM215.5,891.8L217.3,891.8L217.1,893.5L215.5,893.5ZM185.5,854.2L187.5,854.4L187.5,855.4L185.5,854.9ZM185.7,858.2L186.8,858.4L186.6,860.6L185.7,859.9ZM187.2,897.0L188.3,896.6L189.7,895.1L190.7,892.5L191.9,891.1L194.3,890.6L196.1,889.5L197.9,888.0L198.3,889.5L197.4,891.4L198.3,891.8L200.3,889.9L200.7,888.5L201.6,890.2L203.4,890.9L204.3,892.3L207.1,892.3L209.8,893.2L211.6,892.3L214.4,892.1L215.3,893.7L217.1,894.9L218.0,897.0L219.8,898.0L221.7,900.8L223.5,902.7L226.2,903.4L229.0,903.7L231.7,904.4L233.5,906.0L234.4,907.2L235.4,910.3L237.2,913.1L237.2,916.2L236.3,917.4L238.1,917.9L239.9,918.1L240.8,919.1L242.6,919.1L245.4,920.5L247.2,922.6L249.0,923.3L251.8,924.0L254.5,924.3L257.2,925.7L259.1,927.3L260.9,928.8L263.6,929.7L264.5,932.8L264.9,935.2L264.5,938.7L262.7,941.6L260.9,944.2L259.4,947.0L257.6,948.7L257.2,952.4L257.2,956.5L256.9,959.6L255.8,963.6L254.5,967.1L253.6,969.5L251.8,971.6L249.0,971.9L246.7,972.6L243.9,974.2L241.2,976.6L239.9,979.0L239.7,982.5L239.0,985.6L237.2,988.0L235.4,990.8L233.2,993.6L230.8,997.4L229.0,999.6L226.6,999.8L224.4,999.1L221.8,997.9L224.0,1001.5L224.4,1003.4L223.5,1006.9L221.7,1008.6L218.9,1009.5L215.3,1009.5L214.7,1013.3L212.5,1015.0L209.8,1014.5L209.8,1017.6L211.6,1018.8L209.4,1020.4L208.9,1024.0L206.2,1025.1L205.2,1027.5L208.0,1029.9L208.0,1031.5L205.2,1034.6L203.4,1036.5L202.5,1039.4L203.6,1041.2L201.6,1041.7L198.9,1044.8L197.0,1044.1L194.3,1042.4L192.5,1040.5L191.6,1037.0L190.7,1032.2L192.5,1028.7L190.7,1027.5L192.5,1024.0L194.3,1021.6L195.2,1016.9L193.8,1014.5L194.3,1010.9L194.3,1006.2L195.6,1002.6L197.0,997.9L197.9,994.4L197.9,988.4L198.3,984.9L199.2,981.3L199.8,976.6L200.1,971.9L200.5,967.1L200.1,961.2L197.9,958.8L195.2,956.5L191.6,954.1L189.2,950.6L188.8,948.2L187.5,945.8L186.1,942.3L184.6,938.2L182.8,934.4L181.0,932.1L180.3,929.7L180.1,927.6L181.9,925.5L182.8,923.8L180.8,922.6L181.0,919.8L182.1,917.4L182.4,915.5L184.3,914.6L184.6,913.1L186.1,911.5L187.0,909.1L187.4,906.7L187.0,904.4L187.2,902.0L186.3,900.4L187.5,898.7ZM203.2,1042.0L200.7,1042.9L199.8,1045.3L197.0,1046.5L200.7,1048.1L204.3,1048.8L207.1,1048.1L209.4,1046.9L207.1,1046.0L205.2,1044.8L204.0,1042.9ZM217.1,1040.1L220.8,1038.9L222.9,1039.6L220.8,1041.2L218.0,1041.0ZM193.0,1016.6L194.3,1016.9L194.1,1020.2L192.7,1019.7ZM317.6,832.6L318.7,832.4L321.1,834.0L323.1,833.8L324.8,834.3L326.6,832.9L328.4,832.4L331.1,831.0L333.9,830.3L337.5,830.3L341.2,829.8L344.8,829.3L346.6,829.1L348.5,829.8L347.6,831.4L348.1,833.3L348.5,835.7L346.6,836.2L347.6,837.8L349.4,839.0L352.1,839.5L355.8,840.7L356.7,842.8L360.3,844.2L363.1,845.6L364.9,844.0L364.9,840.9L367.6,839.5L370.4,840.2L374.0,842.6L377.7,843.3L381.3,844.2L384.0,843.0L386.8,843.0L387.9,843.8L390.8,843.3L392.1,847.5L391.2,851.1L390.8,851.6L389.5,850.4L388.6,848.7L387.9,846.6L387.5,847.5L388.2,849.9L389.5,851.8L390.4,854.2L391.3,856.3L392.8,859.4L393.5,861.8L395.0,864.1L395.9,866.5L396.5,870.0L396.6,872.9L398.6,874.8L399.6,878.3L400.8,881.4L403.2,883.1L405.0,885.4L407.2,887.8L407.4,889.7L409.6,892.5L412.3,891.8L416.0,890.9L418.7,890.4L421.4,889.2L422.0,891.4L421.1,895.4L419.6,898.5L418.3,902.0L416.5,905.6L414.5,908.4L412.3,911.5L410.5,913.1L407.8,916.2L405.6,919.3L404.1,921.7L402.8,923.3L401.7,924.5L400.8,926.9L399.9,929.2L399.2,932.1L400.5,934.0L400.1,937.1L400.8,940.6L402.3,942.7L402.3,947.0L402.5,951.7L402.3,954.1L401.0,956.5L398.6,958.4L395.9,960.0L394.6,962.2L392.3,964.3L391.7,966.4L392.8,968.8L393.2,971.9L393.0,974.7L391.3,976.1L388.6,977.8L388.2,979.7L388.4,982.5L387.3,985.4L385.3,987.7L383.7,990.8L381.9,993.2L379.9,995.3L377.7,997.0L375.3,997.9L372.2,998.1L369.5,998.1L366.7,998.9L364.9,999.8L362.7,998.9L362.0,997.9L361.6,995.1L361.8,992.7L360.0,989.6L359.1,986.1L357.6,983.7L356.1,981.3L355.6,977.8L354.9,974.2L354.9,970.7L353.6,967.1L351.8,963.6L349.9,960.0L349.7,956.5L350.7,952.9L351.8,949.4L353.2,946.5L353.6,943.4L352.5,939.9L351.8,936.3L350.8,932.1L350.7,931.1L349.9,928.8L348.5,926.4L346.3,923.3L344.8,920.5L344.5,919.1L345.4,916.7L345.9,914.6L346.3,911.5L346.1,909.3L345.7,907.9L344.5,906.5L343.5,906.7L341.5,907.0L339.3,907.2L338.1,905.1L336.6,902.7L334.6,902.2L332.0,902.5L330.2,903.4L328.4,904.1L326.6,905.1L324.8,906.0L322.9,905.3L321.1,905.1L318.4,905.3L314.7,907.0L312.0,905.6L309.2,902.5L307.4,901.1L305.6,899.6L304.3,897.3L303.8,894.9L301.9,892.5L301.0,891.4L299.2,889.5L297.9,888.0L297.7,885.9L296.5,882.6L297.9,880.0L298.5,877.1L299.0,873.6L298.3,871.5L298.7,868.9L297.4,867.7L297.6,865.3L298.8,861.8L300.1,859.4L301.4,856.3L302.1,855.1L303.8,853.0L304.9,851.3L307.4,849.9L309.8,848.0L310.7,845.6L310.5,843.0L311.4,840.4L312.9,838.5L315.1,837.4L316.4,836.2L317.1,834.0ZM418.3,945.8L420.0,950.6L420.5,954.1L419.3,956.5L418.7,960.0L417.8,963.6L416.9,967.1L415.6,971.9L414.5,976.1L411.4,977.8L409.0,976.6L407.8,973.0L407.4,969.5L409.0,965.9L409.2,962.4L408.7,958.8L409.6,955.8L412.3,954.6L414.5,952.9L416.0,950.1L417.4,947.7ZM297.6,850.1L299.0,849.7L298.5,851.1ZM299.6,850.9L300.3,850.9L300.3,851.8L299.6,851.6ZM301.9,849.4L303.2,849.2L303.0,850.9L302.1,850.9ZM425.6,887.3L427.8,887.6L427.7,888.3L425.8,888.3ZM407.2,944.4L407.8,944.4L407.8,945.6L407.2,945.6ZM429.1,966.9L430.2,966.9L430.2,968.1L429.1,968.1ZM432.9,964.8L433.9,964.8L433.9,965.9L432.9,965.9ZM312.0,829.8L312.3,826.2L311.1,825.5L312.2,822.2L312.5,819.1L312.2,816.8L311.4,815.3L313.8,813.9L317.5,814.2L321.1,814.6L324.8,814.6L325.7,814.4L326.2,811.8L326.4,809.4L326.2,808.0L324.4,806.1L323.8,804.9L320.6,804.2L319.8,802.8L322.9,801.8L325.5,802.1L325.5,799.9L326.4,800.4L328.8,800.2L330.6,799.0L331.3,797.1L333.0,796.4L334.8,795.7L336.1,794.3L337.0,791.9L338.4,790.9L341.2,790.7L343.0,790.5L344.1,789.5L344.3,787.4L343.4,786.0L343.2,783.6L344.1,782.2L346.3,781.2L347.7,780.8L347.2,783.1L348.1,784.1L347.0,785.7L346.1,786.9L346.6,788.1L348.5,789.1L350.3,789.1L352.8,788.3L354.3,789.8L357.6,788.8L361.2,787.6L362.5,788.6L364.5,788.6L365.8,787.4L366.7,785.7L366.7,782.9L367.6,781.2L369.5,780.8L370.9,782.4L372.7,781.7L372.9,779.3L371.3,778.2L371.3,777.2L374.0,776.5L377.7,776.5L379.5,776.3L382.2,775.3L380.4,774.1L377.7,774.1L374.0,774.8L370.4,775.6L368.5,774.4L367.3,773.0L367.3,770.6L367.1,768.2L369.5,766.3L372.2,764.7L374.0,763.0L374.0,762.1L371.3,761.6L368.5,762.3L367.3,764.7L365.8,766.3L362.5,768.2L360.3,769.9L359.8,773.0L360.3,774.1L362.7,775.3L362.2,777.0L359.4,778.6L358.7,781.2L357.6,784.3L354.9,784.8L354.3,786.2L352.1,786.2L351.6,784.3L350.3,781.7L349.4,779.6L348.8,777.7L347.6,776.5L346.6,777.7L344.8,778.9L343.0,779.8L341.2,780.1L338.8,778.4L337.7,775.3L337.5,773.0L337.7,770.6L340.3,768.9L343.9,767.0L346.6,765.8L349.0,763.5L351.2,761.1L353.0,758.7L355.4,756.4L358.5,754.5L361.2,752.8L364.9,751.6L368.5,750.5L372.2,749.3L375.8,749.3L379.5,749.3L383.1,750.5L385.0,751.2L383.1,752.4L386.8,752.4L389.5,753.1L394.1,753.5L398.6,755.2L402.3,756.8L403.6,759.2L401.4,760.6L397.7,760.9L392.3,759.9L388.6,759.5L387.7,758.5L390.4,761.1L391.9,764.0L395.0,765.8L397.4,764.7L397.7,764.0L401.4,764.4L401.4,762.3L405.0,759.9L408.7,760.6L409.0,757.6L407.8,755.2L412.3,756.4L413.2,758.7L411.4,759.2L415.1,759.2L416.9,756.8L425.1,755.9L426.9,755.0L432.4,755.2L437.0,755.2L439.7,752.8L438.8,752.1L446.1,753.5L450.6,754.5L453.4,755.9L454.3,754.0L450.6,752.4L450.6,749.3L453.4,746.9L455.2,744.5L458.9,744.5L461.2,746.9L460.3,749.3L461.2,752.8L462.7,755.2L461.6,758.0L459.8,760.4L463.4,758.7L465.2,756.4L464.3,752.8L463.0,749.3L465.2,745.7L470.7,746.4L475.3,745.7L476.2,747.6L479.8,750.5L478.9,746.9L476.2,743.4L483.5,742.6L487.1,741.0L487.1,739.8L492.6,738.6L501.7,737.4L510.8,736.2L518.7,733.4L523.6,735.5L530.9,735.8L535.5,737.9L534.6,741.0L529.1,742.2L532.7,742.9L536.4,743.1L543.7,743.4L552.8,742.9L559.2,743.4L563.8,745.7L564.7,748.8L567.4,749.7L571.1,748.1L576.5,747.9L582.0,748.1L583.8,745.7L587.5,745.2L594.8,746.2L602.1,747.6L605.7,749.3L613.0,749.3L620.3,751.6L620.3,752.6L624.0,752.6L629.4,752.8L634.9,751.9L638.6,751.9L640.4,753.8L644.0,752.1L649.5,752.4L653.2,753.1L656.8,754.2L662.3,755.7L665.9,757.6L671.4,758.7L675.1,760.9L672.3,762.3L670.5,764.7L668.7,765.1L665.0,764.0L660.5,762.3L658.6,760.6L656.8,763.5L654.1,764.4L652.2,764.2L655.0,767.7L655.9,769.4L651.3,769.4L646.8,771.1L642.2,773.0L639.5,775.3L634.9,774.6L631.3,775.3L628.5,775.8L626.3,776.5L626.7,778.9L624.3,780.5L626.3,783.6L624.9,784.3L624.0,787.2L621.2,788.3L620.3,791.4L617.6,792.4L617.2,794.7L614.3,796.6L613.0,793.1L612.1,788.3L612.1,784.8L613.9,782.4L616.7,780.1L620.3,776.5L624.0,774.1L626.7,771.8L627.6,769.4L625.8,770.6L621.2,773.0L620.0,771.3L614.8,771.8L611.2,774.8L611.2,777.0L607.5,777.5L603.9,777.0L603.0,776.3L600.3,776.3L594.8,777.0L589.3,777.0L584.7,780.5L581.1,783.6L578.4,787.6L577.4,789.5L580.2,790.0L582.9,789.1L584.7,791.9L586.2,791.4L585.7,794.3L584.7,796.6L584.7,799.0L584.2,802.6L582.0,805.6L580.2,808.5L577.4,811.3L574.7,814.4L572.0,816.0L569.2,815.1L567.4,816.5L566.7,817.2L565.0,819.1L565.0,820.8L562.8,822.4L561.0,823.6L561.0,824.6L562.5,826.0L564.1,828.6L564.7,831.7L564.3,833.8L562.8,834.8L560.7,835.5L559.0,835.7L559.2,833.3L559.4,831.0L559.7,829.3L558.7,828.1L556.8,827.9L556.1,826.9L557.0,824.1L555.6,822.9L553.7,823.4L551.5,824.6L549.5,825.5L550.6,823.2L551.4,821.5L549.7,820.5L547.3,822.2L545.5,824.3L543.3,825.0L543.1,826.7L545.2,827.9L545.9,829.3L548.3,828.1L551.9,828.8L550.1,830.3L548.3,831.7L546.1,834.0L546.4,835.7L548.3,838.1L549.2,840.4L550.6,842.1L550.6,844.2L548.8,845.6L550.6,846.8L550.3,849.2L549.2,851.1L547.7,853.5L546.6,855.8L545.5,857.7L543.7,859.6L541.5,862.0L539.1,863.4L536.8,864.6L534.9,864.8L532.7,865.8L530.6,866.7L529.8,869.1L528.7,869.1L528.5,866.5L526.4,866.0L525.1,866.5L523.3,868.1L521.8,870.5L521.2,872.9L522.7,875.7L524.5,878.1L526.0,879.5L527.3,881.9L527.8,885.4L527.6,889.0L526.4,891.1L524.5,892.5L523.3,893.0L522.9,894.9L520.9,896.1L519.6,897.0L519.8,894.2L519.1,892.8L517.2,892.3L516.3,890.6L515.4,888.5L513.6,887.3L512.5,885.9L511.4,885.4L510.8,887.6L510.5,890.2L509.4,892.5L509.6,895.4L510.8,897.3L511.8,900.1L513.6,901.3L515.4,903.2L516.7,904.8L517.2,907.9L517.2,910.8L518.5,914.1L517.2,914.3L515.4,912.7L513.2,910.5L512.3,907.9L511.6,904.4L511.2,902.0L509.9,899.6L508.1,898.0L507.7,895.6L508.5,892.5L508.5,889.0L507.7,885.4L507.2,881.9L506.5,878.8L505.4,877.4L503.6,878.3L502.1,880.0L500.5,879.5L500.8,876.0L500.3,872.9L499.0,870.5L497.7,868.6L496.6,866.5L495.9,864.4L494.4,864.1L493.2,865.5L490.8,865.8L489.0,866.0L487.1,867.0L486.8,868.9L485.9,870.3L483.5,871.7L481.7,874.1L479.8,876.2L478.6,877.9L476.7,879.3L475.3,880.2L474.5,883.1L474.9,886.4L474.2,889.5L474.0,893.0L472.9,894.9L471.6,896.1L470.9,897.5L469.8,898.5L468.5,897.0L467.6,894.2L466.7,890.6L465.2,887.8L464.3,884.2L463.4,881.4L462.5,878.8L462.0,876.0L461.2,872.4L461.2,868.9L460.9,866.5L460.3,867.4L457.9,868.1L456.1,867.2L454.3,864.8L456.1,863.2L453.4,862.2L451.6,860.8L450.6,858.7L449.7,857.3L447.0,857.5L443.3,857.7L440.6,858.0L437.9,857.5L435.1,856.8L432.9,856.3L432.0,853.5L430.6,853.2L427.8,854.4L425.1,853.9L423.3,852.0L421.4,850.4L420.5,847.5L418.7,845.9L417.4,845.6L416.0,846.6L416.0,848.7L416.9,850.4L417.8,852.3L419.6,854.2L420.0,856.5L421.1,858.7L421.8,855.8L422.5,858.2L422.4,860.1L424.2,860.1L426.9,860.1L429.7,857.5L430.9,855.4L431.5,858.2L432.0,860.1L434.2,861.3L436.0,862.9L437.5,864.4L436.6,867.0L435.1,869.1L433.9,871.2L433.3,872.9L431.5,874.8L429.3,876.0L426.9,877.1L424.2,878.8L421.4,880.7L418.7,882.6L416.0,884.2L413.2,885.7L410.5,887.1L407.9,887.3L407.2,885.4L406.5,882.4L406.3,879.5L405.4,876.7L403.6,873.6L401.7,870.0L400.1,867.7L399.6,864.6L398.3,861.0L396.5,858.2L395.2,855.1L393.2,852.3L392.3,850.9L392.1,847.5L390.8,843.3L391.7,841.6L392.3,839.3L393.2,836.9L393.9,834.0L394.1,831.4L394.4,830.3L392.3,830.7L390.4,831.7L388.6,831.9L386.8,831.0L384.6,830.3L383.1,831.4L381.3,831.0L379.5,830.3L378.2,829.8L378.0,827.4L376.7,826.2L377.3,824.1L376.2,823.6L376.2,822.0L375.8,821.0L374.0,820.5L372.2,820.8L371.8,822.2L372.2,822.7L370.4,822.0L369.8,821.5L369.6,823.4L370.4,825.0L371.3,826.7L372.2,827.4L372.2,828.1L370.4,828.6L370.7,831.0L369.5,831.0L368.0,830.3L367.1,827.9L367.3,826.7L366.3,825.5L365.3,823.6L364.0,822.0L363.8,819.6L363.6,818.2L362.2,816.8L360.3,815.6L357.6,814.4L356.1,812.7L354.9,810.4L353.4,810.6L353.2,809.4L352.1,809.2L350.8,810.1L350.8,812.0L351.4,813.2L353.2,814.4L354.3,816.8L356.7,817.9L357.6,818.2L358.0,818.4L357.6,819.4L359.4,820.3L361.2,821.5L362.2,822.4L362.0,823.2L360.9,822.0L359.4,821.5L358.7,823.4L359.6,825.0L358.5,826.2L357.6,827.7L357.0,826.9L357.6,825.0L357.0,822.7L355.8,822.2L354.9,821.0L353.6,819.8L351.4,819.1L350.3,817.9L348.5,816.8L347.6,815.6L347.0,813.7L345.7,812.5L344.5,812.3L343.0,813.4L341.7,813.9L339.7,815.3L337.5,814.6L335.7,814.4L334.2,815.1L334.1,817.0L334.2,818.2L332.4,819.4L330.2,820.3L328.9,822.2L327.9,823.9L328.6,825.5L327.5,826.7L327.1,828.4L325.1,829.3L324.2,830.3L322.0,830.5L320.2,830.7L318.7,831.7L317.5,831.7L316.7,830.3L315.6,829.3L313.8,829.8ZM318.0,798.8L320.2,798.3L322.0,798.3L323.8,797.6L326.6,797.3L329.3,797.1L331.0,796.2L330.2,795.0L331.5,792.8L329.3,791.9L328.8,790.5L327.5,788.3L326.0,787.2L325.1,785.5L324.4,784.8L322.6,784.8L323.8,783.6L324.8,781.7L324.9,780.8L322.0,780.8L321.1,781.0L322.6,778.9L322.7,778.4L319.3,778.6L318.4,780.5L317.8,782.4L317.5,783.6L318.2,785.3L318.4,786.4L319.6,786.4L319.3,787.9L322.0,787.4L322.4,789.1L322.9,790.5L322.6,791.2L320.2,791.2L320.0,792.4L320.9,793.6L319.1,794.7L320.7,795.2L322.6,795.7L322.0,796.2L320.6,796.4L319.3,797.8ZM310.2,794.7L311.1,795.4L313.3,794.7L316.7,793.8L317.5,791.4L317.1,789.5L318.4,788.3L317.5,786.7L315.1,786.4L313.3,787.2L312.9,788.6L310.2,789.1L310.2,790.9L311.6,791.7L310.5,793.6L309.6,794.3ZM284.1,762.3L287.3,760.2L291.4,761.1L295.2,760.6L298.8,759.9L301.6,760.9L303.6,762.8L301.9,764.9L299.2,766.1L294.6,767.3L291.0,766.8L287.3,766.3L288.3,764.9L284.6,764.0L287.3,763.0ZM348.5,729.1L353.9,728.4L359.4,728.0L364.9,729.1L366.7,731.0L362.2,733.9L359.4,735.8L354.9,733.9L352.1,732.2L348.5,730.8ZM361.2,727.2L368.5,726.8L377.7,727.7L374.0,729.6L366.7,729.4ZM366.7,732.2L372.2,732.9L370.4,734.4L367.3,733.9ZM422.4,747.4L425.1,745.7L428.7,743.4L430.6,741.0L436.0,738.6L443.3,737.0L452.5,735.3L454.3,736.7L447.0,738.6L439.7,739.8L435.1,742.2L433.3,745.7L433.3,749.3L428.7,750.0L425.1,749.3L422.4,748.1ZM414.2,726.8L421.4,726.1L419.6,727.7L415.1,727.7ZM426.9,725.6L436.0,724.6L441.5,726.1L434.2,727.2L428.7,727.0ZM503.6,730.3L510.8,728.0L518.1,729.6L520.0,732.0L510.8,732.7L505.4,731.5ZM496.3,726.8L503.6,725.1L507.2,726.8L501.7,728.0ZM578.4,738.6L583.8,737.4L593.0,738.1L602.1,739.3L598.4,740.3L589.3,740.3L580.2,740.3ZM583.8,742.6L589.3,743.1L588.4,744.1L583.8,743.8ZM654.1,748.8L658.6,748.1L660.5,749.3L656.8,749.7ZM416.9,753.1L419.3,753.1L419.3,754.7L416.9,754.5ZM361.6,780.3L363.1,780.3L362.7,782.2L361.6,782.0ZM348.5,785.5L351.2,784.8L351.2,786.7L348.8,786.9ZM368.4,778.6L370.7,778.6L370.2,779.8L368.4,779.8ZM587.5,788.8L589.3,790.7L589.9,794.3L590.2,797.8L592.0,801.4L589.3,803.7L590.2,806.6L588.4,808.5L587.5,805.4L587.5,801.8L587.8,797.8L587.1,794.3L587.5,791.2ZM583.8,819.1L585.7,818.4L586.6,816.8L589.3,817.9L593.0,815.3L593.9,814.4L593.0,812.7L590.2,812.5L587.5,809.9L586.7,812.0L586.2,814.9L584.4,815.1L583.5,816.8ZM585.7,819.4L586.6,821.5L587.5,823.9L586.7,826.7L585.7,828.6L585.3,831.0L585.3,832.9L583.8,834.5L583.3,833.8L582.0,834.5L581.5,835.2L579.3,835.5L578.0,836.2L576.5,838.1L575.1,837.4L575.1,835.5L572.9,835.5L571.1,836.2L569.2,836.9L567.4,836.9L567.4,835.9L570.1,833.6L572.9,833.1L575.6,833.1L576.5,832.2L578.0,829.8L578.9,828.6L578.7,830.3L580.7,829.3L582.0,827.4L583.5,825.0L583.8,822.7L583.8,821.0L584.4,819.8ZM565.6,838.1L567.4,837.4L568.9,838.5L568.9,840.4L568.0,843.0L566.7,844.0L565.9,842.8L566.3,840.4L565.0,839.3ZM570.1,836.9L572.9,836.2L574.2,837.4L572.9,838.3L571.6,838.5L570.7,839.7L569.8,838.3ZM594.8,812.0L599.3,809.7L599.9,810.4L595.3,812.7ZM602.1,808.5L603.9,807.1L604.3,807.8L602.4,808.9ZM611.2,798.5L613.0,797.1L613.4,798.1L611.7,799.0ZM561.4,855.4L562.5,853.9L562.5,854.6L561.8,855.6ZM558.7,838.1L559.9,838.1L559.9,838.8L558.7,838.8ZM550.1,857.7L551.0,858.7L550.1,861.8L548.8,865.3L547.7,863.4L547.7,861.0L549.2,858.2ZM526.7,871.9L528.2,870.0L530.4,870.0L530.9,871.2L529.6,873.6L527.8,874.3L526.7,873.4ZM474.0,894.7L474.9,894.9L476.7,897.3L477.6,900.1L477.1,902.2L475.3,903.4L474.2,902.0L473.8,898.5ZM548.3,873.6L550.1,873.8L551.4,873.6L551.5,877.1L550.3,879.5L550.3,881.9L550.6,883.8L551.9,883.8L553.7,884.7L554.6,886.6L554.6,887.8L553.4,886.6L551.9,885.9L550.6,884.7L549.2,885.0L548.4,883.5L549.0,882.8L548.3,882.4L547.3,880.7L547.0,878.8L547.9,877.6L548.1,876.0ZM551.0,900.8L551.4,898.7L552.8,897.3L554.6,897.3L556.5,896.1L557.4,894.2L558.7,896.1L559.2,899.6L558.7,902.5L557.4,901.8L557.2,903.9L555.6,903.2L554.6,901.3L553.7,899.6L552.4,899.9ZM555.2,887.8L557.0,887.8L557.7,890.9L556.8,893.2L555.9,893.0L555.4,890.9ZM550.8,889.5L552.8,890.2L553.2,892.5L553.5,895.6L552.4,895.1L551.5,893.2L551.0,891.8ZM548.1,885.7L549.7,885.7L550.1,888.0L549.2,888.5ZM542.2,897.5L544.6,895.4L546.4,892.3L546.8,890.6L545.9,891.6L543.7,894.9L542.2,896.8ZM527.3,913.8L528.4,912.7L529.6,913.4L531.5,911.5L534.6,909.8L536.4,906.7L539.1,904.4L541.5,900.8L542.8,902.0L544.6,904.4L545.9,905.1L543.7,907.2L543.3,909.1L543.7,912.0L545.5,915.0L543.3,915.7L542.8,918.6L541.0,921.0L540.6,924.5L540.0,926.9L537.5,927.1L536.4,925.5L534.6,925.0L532.4,925.7L529.5,924.3L529.1,921.0L527.6,918.6L527.3,916.2ZM502.3,904.1L505.4,905.1L507.7,907.5L510.5,910.3L512.3,912.2L514.5,914.3L517.2,917.4L518.7,920.2L520.0,922.8L521.8,925.0L521.4,928.1L521.4,931.1L519.2,931.1L517.2,928.8L515.0,926.9L513.2,924.0L511.6,920.2L509.9,917.4L508.5,913.6L506.8,911.2L504.5,908.6L502.5,906.0ZM520.3,921.2L522.2,921.2L523.1,924.0L521.8,924.5L520.5,922.6ZM520.3,933.5L522.2,931.6L524.5,932.3L526.7,933.5L530.0,933.7L530.9,932.8L533.8,933.7L537.3,935.9L537.1,938.0L533.7,937.3L530.0,936.8L526.4,935.9L522.7,934.9ZM537.3,936.8L539.5,936.8L539.1,938.2L537.7,937.8ZM540.0,937.1L541.3,937.1L541.1,938.5L540.0,938.2ZM541.5,937.3L544.1,936.8L545.5,937.5L544.6,938.5L541.9,938.7ZM547.2,937.3L549.2,937.5L552.4,936.8L552.4,938.0L549.2,938.5L547.3,938.2ZM545.5,939.9L547.7,939.9L548.8,941.3L547.3,941.8L545.9,940.6ZM553.7,941.8L555.6,939.2L558.3,937.5L560.5,937.3L559.2,939.2L556.5,940.6ZM547.0,915.5L548.8,914.3L551.9,915.0L554.6,915.3L556.8,913.6L555.6,916.5L552.8,916.2L549.2,916.2L547.7,917.4L547.3,919.3L549.2,919.8L551.0,919.5L553.4,919.3L551.9,921.4L550.1,921.9L550.6,924.0L551.9,925.7L552.4,928.1L551.4,928.8L550.1,928.1L549.2,925.7L548.1,924.5L548.1,928.1L547.9,930.4L546.4,930.4L546.4,926.9L545.2,924.5L545.5,922.1L546.4,919.3L547.0,917.4ZM561.0,912.7L561.9,913.8L563.2,913.8L561.9,916.2L562.5,919.1L561.4,918.1L561.0,915.5ZM561.9,924.5L564.7,924.0L567.0,925.2L565.6,925.9L562.8,925.7ZM558.3,925.0L560.1,924.7L560.5,926.2L558.7,926.4ZM567.4,919.3L570.1,918.3L572.9,919.3L573.2,922.1L574.7,925.2L576.5,922.8L579.3,921.0L582.0,922.1L585.7,923.6L589.3,925.5L592.0,926.4L594.4,929.2L596.6,931.6L598.1,933.5L596.6,934.0L598.4,936.3L600.3,938.7L602.1,941.1L603.5,942.3L601.2,942.0L598.4,941.3L596.6,939.9L594.8,936.8L592.0,935.6L590.2,937.5L589.3,939.2L586.6,939.2L584.7,937.1L582.0,936.6L580.2,937.3L581.1,934.0L580.2,931.1L577.4,928.8L574.7,927.8L572.0,926.4L570.7,926.9L569.2,924.3L572.0,923.3L571.1,922.6L569.2,922.1L567.4,920.7ZM599.3,930.9L602.1,929.7L604.8,928.1L606.3,927.6L605.7,930.0L603.5,932.1L601.2,932.1ZM603.5,923.6L606.6,926.4L607.5,928.5L606.8,928.1L604.8,925.5L603.4,924.3ZM610.5,930.4L612.1,932.1L612.8,933.5L611.6,933.3L610.5,931.4ZM613.9,933.5L615.8,934.9L615.4,935.6L613.8,934.2ZM619.4,939.4L621.8,940.4L621.2,940.8L619.6,940.1ZM621.6,937.3L622.7,939.7L622.1,939.7L621.2,937.8ZM622.7,941.6L624.5,942.7L624.0,943.2L622.7,942.3ZM632.4,952.2L633.5,953.4L633.1,954.3L632.4,953.6ZM633.5,955.3L634.6,956.5L634.0,956.7L633.5,956.0ZM627.6,965.2L632.2,969.0L633.1,970.4L630.4,969.3L628.0,966.2ZM651.9,958.6L654.3,959.1L654.1,960.5L652.1,960.3ZM654.6,956.2L656.8,955.8L656.4,957.2L654.6,957.2ZM588.4,942.7L590.2,947.0L590.8,951.3L593.5,952.9L593.9,956.5L594.8,960.0L595.3,962.2L597.5,963.3L599.9,965.5L600.8,968.3L603.0,970.9L603.9,973.8L606.6,976.6L607.9,979.0L608.5,983.7L607.9,988.4L607.2,992.0L605.7,995.1L604.4,997.4L603.5,1000.3L602.1,1003.8L602.1,1006.2L599.3,1007.1L597.5,1007.9L595.3,1010.0L593.3,1008.1L592.0,1007.9L590.2,1009.3L587.5,1008.1L584.7,1007.4L583.5,1005.0L582.9,1002.6L581.1,1001.7L581.1,999.6L579.8,996.7L579.3,997.9L578.4,1000.8L576.5,999.8L575.6,999.3L574.7,996.7L573.2,995.1L571.1,993.2L568.3,992.0L563.8,992.2L560.1,993.6L556.5,994.8L554.6,996.7L553.2,997.7L550.1,997.4L547.3,997.7L544.6,999.3L543.3,1000.5L540.0,999.8L538.4,998.6L538.2,996.7L539.5,994.4L539.5,992.0L538.2,988.4L537.9,985.6L536.4,982.5L535.5,979.4L535.8,976.1L535.5,973.0L536.0,970.2L537.3,969.0L539.1,967.8L541.5,966.2L543.7,965.5L546.4,964.8L549.2,963.8L551.4,960.5L551.4,957.7L552.8,956.5L554.3,958.1L555.6,956.0L556.5,953.6L558.3,951.3L560.1,950.3L561.9,952.4L563.8,952.9L565.0,952.4L564.7,949.4L566.1,947.7L567.0,946.8L569.2,946.3L570.3,944.4L572.0,945.3L574.7,946.3L576.5,945.8L578.0,946.3L577.4,948.9L576.2,951.0L575.6,952.9L577.4,954.8L579.8,956.0L582.0,957.7L583.8,959.3L585.3,958.4L586.2,955.3L586.7,951.7L586.7,948.2L587.1,945.8L587.8,943.4ZM592.4,1013.8L594.8,1014.7L597.5,1014.3L599.0,1014.5L599.0,1017.3L598.4,1019.7L596.6,1020.6L594.8,1020.4L593.5,1018.0L593.0,1015.7ZM643.5,998.9L645.0,1000.3L646.8,1003.1L648.6,1004.3L649.5,1006.4L652.2,1006.7L654.1,1006.7L653.7,1009.0L652.2,1010.2L651.3,1011.6L650.4,1014.0L648.2,1015.9L647.1,1015.2L647.9,1012.6L645.9,1010.9L645.5,1010.2L647.0,1009.0L647.1,1006.2L646.2,1003.8L644.6,1001.5ZM643.5,1013.3L644.4,1015.2L646.4,1016.1L645.0,1018.8L643.7,1020.9L640.9,1022.3L640.4,1025.1L639.5,1026.3L637.7,1027.7L635.5,1027.7L633.1,1026.8L632.2,1025.9L633.6,1023.5L635.5,1021.6L638.2,1019.9L640.4,1018.0L641.3,1016.1L642.6,1014.0ZM351.2,827.4L353.0,826.9L356.7,826.7L356.1,829.8L355.8,830.5L353.9,829.8L351.2,828.4ZM343.4,820.3L345.7,819.8L346.1,822.7L345.7,824.8L343.9,825.0L343.7,822.7ZM344.1,816.8L345.6,815.6L345.7,817.9L345.2,819.4L344.3,818.4ZM371.3,833.3L374.0,833.6L376.4,834.0L374.0,834.8L371.5,834.0ZM387.3,834.5L388.6,833.8L391.3,833.1L390.4,834.5L388.6,835.5ZM332.8,823.6L334.2,822.9L334.6,823.9L333.5,824.3ZM370.7,825.3L372.6,826.2L373.1,827.4L371.5,826.2Z" fill="#d3d3d3" stroke="#fff" stroke-width="2" stroke-linejoin="round"/>
<path d="M381.5,819.8L384.0,820.1L385.9,819.6L388.6,817.9L392.3,817.7L395.0,819.6L397.7,820.3L400.5,820.1L404.1,819.1L404.3,816.8L401.7,814.4L399.6,812.7L397.4,811.6L395.9,810.4L395.0,810.6L393.2,810.8L391.3,812.0L389.5,812.0L388.1,809.9L389.5,808.5L387.1,807.8L385.9,807.1L384.4,807.5L382.8,809.7L382.4,810.8L380.8,812.7L380.6,814.4L379.3,815.6L378.9,817.2L379.5,818.4L380.9,819.6ZM392.3,809.4L395.0,809.9L396.5,809.9L397.7,808.5L397.4,807.1L399.9,805.6L397.7,805.6L395.0,806.8L392.6,808.0ZM414.2,809.7L416.9,807.8L419.6,806.6L422.4,806.1L425.1,806.6L425.1,810.1L422.0,810.4L421.4,812.0L420.2,812.5L421.4,815.1L424.2,816.8L424.7,819.1L426.6,820.8L425.1,822.7L426.6,825.0L426.6,828.6L426.6,830.0L423.3,830.7L420.5,829.8L418.7,828.6L417.6,826.5L418.2,824.3L418.7,822.0L420.2,821.7L418.2,819.8L416.9,817.9L415.1,815.6L414.7,812.7L413.8,811.3Z" fill="#fff" stroke="#fff" stroke-width="2" stroke-linejoin="round"/>
<g fill="none" stroke="#fff" stroke-linejoin="round" stroke-linecap="round"><path d="M71.1,752.1L71.1,774.6L74.4,775.1L77.5,777.9L79.4,776.5L82.1,776.5L84.8,779.1L87.6,782.4L90.9,784.6L91.2,786.7L90.1,787.9M103.6,801.4L154.7,801.4L155.4,800.7L158.7,802.3L162.4,803.3L165.1,803.7L167.1,803.0L173.7,806.6L174.2,807.3L176.1,808.5L177.9,810.1L178.1,815.6L176.8,817.5L177.9,818.7L184.3,816.0L183.9,814.6L188.8,812.7L191.6,810.8L197.9,810.8L200.1,808.7L202.1,805.2L204.3,805.4L204.7,809.2L206.2,810.8M114.8,840.4L119.1,840.0L125.9,843.3L131.0,843.3L131.0,842.1L134.1,842.1L137.7,847.3L140.1,848.7L141.4,846.8L143.4,846.8L145.0,849.4L146.9,852.3L147.8,854.9L151.1,856.1M160.2,883.1L160.2,881.4L161.1,879.5L163.3,879.3L163.5,878.6L161.6,876.7L162.4,876.4L162.4,875.2L165.7,875.2L166.4,875.0L167.3,873.6M165.7,875.2L165.7,879.7L166.2,879.7M167.3,880.2L165.7,883.3L164.0,884.7M165.5,883.3L166.9,884.2L168.2,884.5L168.2,885.9M169.1,886.6L170.2,885.9L171.5,884.5L173.3,882.6L175.1,882.4L176.6,881.9M172.0,891.1L173.9,891.4L175.7,891.8M177.1,898.2L177.1,896.1L177.7,894.7M187.2,896.8L187.5,898.7L186.3,900.4M197.6,870.5L197.6,873.4L197.4,875.0M198.3,889.2L196.5,891.1L195.4,892.8L195.2,895.4L196.3,897.5L196.3,899.9L197.4,900.8L200.5,900.8L201.8,903.0L205.2,902.7L204.7,904.8L204.7,907.2L205.6,909.3L204.7,910.8L205.8,912.2L206.3,914.6M206.3,914.6L206.0,913.1L204.3,913.1L201.0,913.4L201.0,914.8L202.1,915.0L201.8,919.8L200.9,927.3M200.9,927.3L199.4,926.4L200.7,923.8L197.9,922.8L195.4,923.1L194.3,920.5L192.5,918.6L191.0,917.6M191.0,917.6L188.8,916.7L187.0,915.7L184.6,913.8M191.0,917.6L190.5,921.0L188.5,923.6L186.1,925.2L185.2,928.3L183.4,929.2L181.9,927.8L181.9,925.2M200.9,927.3L195.6,929.5L193.8,934.7L195.6,939.7L199.6,940.1L199.8,943.4L201.6,943.4M201.6,943.4L203.1,947.0L202.5,951.7L201.8,954.3L202.5,956.2L201.6,958.8M201.6,958.8L200.0,961.0M201.6,958.8L202.9,962.4L203.4,965.9L204.3,969.0L205.8,971.4M201.6,943.4L203.4,943.4L208.0,940.6L209.3,943.0L209.3,945.3L211.1,947.0L213.8,948.2L217.1,949.4L218.6,951.7L218.6,955.8L221.8,956.0L222.2,958.8L223.3,960.5L222.2,964.3M222.2,964.3L220.6,963.1L215.6,964.0L214.2,970.0M214.2,970.0L211.1,971.4L208.5,969.7L205.8,971.4M205.8,971.4L203.6,975.4L203.2,981.3L201.0,986.1L200.1,990.8L200.7,996.3L199.8,1001.0L198.9,1005.0L198.5,1009.3L197.6,1014.5L197.4,1020.4L197.9,1025.1L197.0,1029.9L195.2,1034.1L194.7,1037.5L196.5,1039.4L197.2,1040.5L201.6,1041.0L203.6,1041.5M203.2,1042.2L203.2,1047.4M214.2,970.0L217.1,973.8L220.8,975.7L223.1,977.3L221.5,981.8L225.5,982.5L228.8,978.0M222.2,964.3L222.6,969.5L226.6,970.2L227.1,974.2L229.3,974.5L228.8,978.0M228.8,978.0L230.2,980.4L230.2,981.8L227.1,984.2L223.3,988.9M223.3,988.9L222.2,993.2L221.8,997.9M223.3,988.9L226.2,990.3L229.0,992.0L230.8,994.8L231.0,997.4M206.3,914.6L208.9,915.5L211.3,913.8L211.6,911.5L212.7,912.0L210.7,908.4L211.3,907.7L213.8,908.4L213.8,907.7L217.1,906.7L217.7,905.1M217.7,905.1L216.4,903.4L216.7,901.8L218.4,900.8L217.8,898.9L218.9,897.0M217.7,905.1L218.7,905.1L219.1,906.7L219.7,908.2L219.1,911.7L220.8,914.3L222.6,913.8L225.3,912.9M225.3,912.9L223.9,909.6L222.6,907.9L223.9,904.8L224.0,903.0M225.3,912.9L226.4,911.5L229.0,912.0M229.0,912.0L229.5,909.1L229.1,906.3L229.9,903.7M229.0,912.0L231.9,912.2L234.1,907.5M324.4,834.0L325.3,835.7L325.3,839.3L326.2,841.2L321.8,842.6L321.8,844.5L319.3,846.4L316.5,847.5L312.5,849.4L312.5,851.8M312.5,851.8L304.3,851.8M312.5,851.8L312.5,855.8L306.5,855.8L306.5,861.8L304.7,862.9L304.5,867.0L297.4,867.0M312.5,852.8L319.6,858.2M319.6,858.2L316.4,858.2L318.4,880.7L311.4,880.7L308.9,880.9L307.4,880.5L306.1,882.4M319.6,858.2L330.6,867.4L330.6,868.4L334.2,870.5L334.4,872.4L336.1,872.2M336.1,872.2L339.0,871.2L342.1,867.9L350.3,861.8M350.3,861.8L349.6,859.9L347.2,859.1L345.7,855.1L346.5,852.3L346.3,848.7L345.7,845.9M345.7,845.9L345.0,843.5L343.5,840.4L342.3,838.5L343.4,835.5L343.5,832.6L344.1,829.8M345.7,845.9L347.0,844.0L347.2,842.3L349.4,840.4L349.4,838.8M374.0,842.3L374.0,865.3M374.0,865.3L374.0,870.0L372.2,870.0L372.2,871.2M372.2,871.2L357.6,862.0L355.8,862.9M355.8,862.9L354.3,863.9L350.3,861.8M374.0,865.3L395.7,865.3M372.2,871.2L372.2,880.2L370.2,880.7L369.3,884.2L368.9,886.6L368.4,887.6L369.5,891.4L370.2,891.6M355.8,862.9L356.7,867.7L357.4,869.3L356.7,877.4L353.0,883.1L353.2,885.0M353.2,885.0L354.1,886.6L355.0,887.3L355.8,890.2L355.9,891.8L356.7,893.7L354.3,894.0L353.8,894.7L356.1,897.3L356.7,899.6M356.7,899.6L359.4,899.2L362.3,898.5L363.1,896.1L365.4,895.9L368.0,892.5L370.2,891.6M336.1,872.2L336.1,877.4L335.0,880.7L330.8,881.2L328.8,881.9M328.8,881.9L330.0,885.2L332.0,887.3L332.8,889.2M332.8,889.2L335.0,889.7M335.0,889.7L335.0,885.0L335.9,885.4L338.4,884.5L340.8,886.4L343.0,885.9L345.7,887.1L347.6,885.9L350.8,886.4L353.2,885.0M354.3,887.8L353.6,891.4L351.8,895.1L350.7,897.5L349.0,902.0L347.6,900.8L346.3,901.3L344.5,903.7L343.9,906.5M335.0,889.7L335.3,892.5L333.9,895.9L333.3,898.7L333.3,902.5M331.3,902.7L331.3,896.1L329.9,892.8L330.0,891.4M330.6,903.2L329.3,899.6L329.5,897.3L329.1,893.7L328.4,891.1M322.7,905.3L323.3,902.0L322.6,899.6L323.8,898.0L323.3,894.9M323.3,894.9L323.3,891.4L327.5,891.4L328.4,891.1L330.0,891.4L332.8,889.2M323.3,894.9L320.0,894.4L318.4,892.8M318.4,892.8L318.4,890.2L320.4,887.3L321.1,885.7L323.1,884.2L324.8,883.5L327.1,881.6L328.8,881.9M318.4,892.8L317.1,892.3L314.0,893.2L313.4,892.8M313.4,892.8L314.0,895.1L313.4,897.3L313.1,899.4M313.1,899.4L312.9,902.0L314.7,903.7L314.7,907.0M313.1,899.4L311.2,899.9L311.2,897.7L309.6,897.3M309.6,897.3L307.4,901.1M309.6,897.3L309.1,895.4L308.0,893.7L305.6,894.0L304.1,896.1M313.4,892.8L312.5,891.4L311.4,888.0L308.9,889.0L307.6,888.0M307.6,888.0L303.4,887.3M303.4,887.3L303.4,889.7L301.0,891.4M303.4,887.3L297.9,888.0M307.6,888.0L307.6,885.4L306.1,882.4M306.1,882.4L303.8,879.0L301.9,878.1L298.7,878.3L298.3,879.5M297.7,885.2L301.0,884.7L303.2,885.4L301.0,886.1L297.7,886.4M398.6,874.8L395.9,877.1L395.0,881.9L395.0,883.5M395.0,883.5L394.3,887.3L392.4,889.5L391.0,892.5L390.6,894.9M371.3,896.8L373.1,896.6L374.0,893.0L376.7,894.9L379.5,895.4L381.3,894.4L383.1,893.0L385.0,894.2L387.5,889.7L389.0,888.5L389.0,892.1L390.6,894.9M390.6,894.9L390.6,897.3L388.6,898.5L389.9,900.1L392.3,904.4M392.3,904.4L390.4,907.5L388.6,908.4L385.0,908.6L384.6,909.1M384.6,909.1L382.2,906.7L378.4,905.3M378.4,905.3L376.7,903.2L374.4,899.6L372.6,897.7L371.3,896.8M371.3,896.8L370.4,893.7L370.2,891.6M395.0,883.5L397.5,882.4L399.6,882.8L401.7,883.3L404.5,886.6L405.8,887.8M405.8,887.8L407.0,887.3M405.8,887.8L404.7,889.7L404.7,891.4L406.7,891.4M406.7,891.4L407.4,890.2M406.7,891.4L406.5,893.0L408.7,896.1L414.0,898.5L416.0,898.5L410.5,905.6L407.8,906.0L405.0,907.7M405.0,907.7L403.2,908.2L400.5,909.1L397.9,908.9L395.5,907.0L393.9,906.5L392.3,904.4M404.8,907.9L403.2,910.8L403.2,919.5L404.1,921.4M390.4,907.5L391.3,910.3L392.3,913.4L391.3,915.0L390.4,917.4L390.3,919.8M390.3,919.8L397.0,924.5L397.2,925.7L399.9,928.5M390.3,919.8L384.0,919.8M384.6,909.1L384.4,911.7L385.5,912.4L383.1,915.5L382.6,918.6L382.4,920.7M382.4,920.7L384.0,919.8L384.6,922.8L384.0,923.1L383.0,923.8L381.3,923.8L381.7,921.4L382.4,920.7M384.0,923.1L384.0,925.7L382.2,927.8L381.7,925.7L381.3,923.8M382.2,927.8L382.2,931.6L384.2,936.8M384.2,936.8L388.4,939.7M388.4,939.7L390.4,939.9L391.5,944.6M391.5,944.6L394.1,944.9L396.8,945.1L398.6,944.2L402.1,942.3M391.5,944.6L392.1,949.4L393.7,951.7L393.7,955.3L392.6,957.9L391.0,955.3L391.3,951.7L389.0,950.6L388.6,947.0L389.3,943.0L388.4,939.7M389.0,950.6L383.5,952.9L383.9,954.3M383.9,954.3L381.3,955.3L380.9,956.7L377.7,960.0L374.6,959.6M383.9,954.3L388.4,956.9L388.4,961.2L388.1,965.9L385.5,970.4M385.5,970.4L382.0,970.0M382.0,970.0L379.5,968.3L378.9,965.9L376.2,963.6L374.6,959.6M374.6,959.6L370.9,960.0L366.7,960.7L366.7,969.5L364.9,969.5L364.9,976.1M364.9,976.1L366.0,980.9L368.0,980.9L370.0,978.0L372.7,978.3L375.1,978.0L377.5,973.5L380.0,970.9L382.0,970.0M364.9,976.1L364.9,984.7L363.1,985.8L361.2,985.8L360.1,985.4L358.5,985.1M349.9,958.1L353.0,957.7L353.9,958.6L362.0,958.6L366.7,960.0L371.1,959.1L374.6,959.6M371.1,959.1L368.5,955.8L368.5,948.2L372.2,948.2L372.2,943.2M372.2,943.2L368.9,943.9L368.2,939.9L368.2,934.7L364.0,934.0L363.1,936.3L360.3,936.6L358.7,931.4L352.1,931.4L350.8,931.6M372.2,943.2L375.8,945.6L378.6,946.5L381.3,949.1L382.8,949.1L382.8,946.3L380.4,947.0L380.2,944.6L380.6,939.9L381.1,937.5L384.2,936.8M385.5,970.4L386.8,975.4L386.8,978.7L387.0,980.9L388.4,980.9M387.0,980.9L386.6,978.7L385.1,978.3L384.6,980.9L385.5,982.0L386.8,981.3L387.0,980.9M377.7,987.5L380.4,985.1L382.0,987.3L380.0,989.9L378.4,989.2L377.7,987.5M350.7,929.2L351.8,928.8L354.7,929.0L356.3,927.6L357.6,924.5L358.0,922.1L360.7,918.6L361.2,915.0L361.4,911.5L362.3,909.1M348.7,926.9L350.3,925.2L349.6,922.8L351.2,922.8L352.1,923.1L354.7,922.8L354.7,921.4L354.5,918.6L353.8,916.9L353.9,914.1L352.7,914.3L352.5,912.2M346.3,915.0L349.0,915.0L349.0,912.2L352.5,912.2M346.3,912.0L349.0,912.2M352.5,912.2L354.9,912.2L357.6,913.4L358.0,912.2M358.0,912.2L357.6,910.3L355.8,908.2L354.9,905.6L355.0,902.7L356.7,899.6M358.0,912.2L358.7,909.1L362.3,909.1M362.3,909.1L362.3,907.0L364.0,905.3L366.0,907.0L369.3,907.7L370.2,906.0L373.1,905.3L374.9,904.8L378.4,905.3M372.7,780.3L374.6,780.1L376.7,781.2L378.4,781.2M376.9,785.5L379.9,784.3L379.1,781.7L378.4,781.2M378.4,781.2L378.4,778.2L379.5,776.5M379.1,774.1L382.2,771.8L385.9,768.5L383.1,766.6L384.0,764.0L382.6,761.1L381.3,759.0L383.1,757.1L380.4,755.2L381.1,753.8M381.1,753.8L381.9,753.3L379.5,751.4L375.8,752.1L375.3,753.5L373.6,755.0L371.3,754.7L368.5,754.0L366.0,754.0M366.0,754.0L368.5,755.4L371.3,756.6L371.5,758.7L372.2,761.1L372.6,761.6M366.0,754.0L364.9,755.4L361.2,755.2L358.5,757.6L357.6,758.7L354.9,760.9L353.4,764.7L350.7,767.0L350.3,770.6L350.8,773.0L351.4,775.3L349.9,776.5L348.8,777.7M381.1,753.8L384.6,752.1M371.5,795.4L374.0,794.5L378.6,795.4L381.9,795.7L384.2,795.9L386.4,794.0M386.4,794.0L385.5,791.9L388.1,790.7L385.0,787.9L384.6,785.7L379.9,784.3M386.4,794.0L390.1,793.6L393.2,796.6L393.0,797.8L396.8,798.3L398.1,799.2L401.4,799.9L401.0,802.6L401.0,804.2L398.1,805.9M418.2,807.5L416.9,804.9L414.2,803.7L414.2,800.2L416.9,799.0L420.5,795.2L424.2,795.4L427.8,796.6L430.0,797.6L434.2,796.6L437.0,797.6L440.6,796.2L438.2,794.3L439.7,791.9L440.1,789.8L446.1,788.6L452.8,787.2L457.6,786.4L458.3,789.1L462.5,789.5L464.3,790.5L468.3,788.8L470.7,791.2L474.4,797.1L478.0,797.1L480.7,796.6L484.0,799.9L487.7,800.9M487.7,800.9L491.7,799.7L496.3,797.3L501.7,799.0L506.8,799.5L507.7,795.4L510.5,794.7L514.5,795.7L514.9,797.8L520.0,798.1L523.6,799.7L526.4,800.7L530.0,800.9L534.6,799.5L538.2,798.5L541.3,799.5M541.3,799.5L543.3,800.2L546.1,798.3L547.3,795.4L548.6,792.8L549.2,791.2L553.7,790.7L557.4,791.9L560.1,795.4L561.0,799.0L564.7,800.7L567.4,804.4L570.1,804.4L574.3,802.8L573.8,804.9L571.6,810.1L568.9,810.4L567.4,811.3L568.0,814.4L566.7,817.0M487.7,800.9L489.0,802.6L492.6,804.2L494.4,807.1L494.4,810.4L499.0,811.1L502.5,812.7L504.3,816.3L510.8,816.5L514.1,816.8L520.0,818.9L524.5,817.0L529.1,816.5L532.6,813.9L532.6,810.8L535.7,811.3L539.3,809.9L541.1,807.8L546.8,806.8L547.2,804.4L543.3,803.7L539.1,804.0L541.3,799.5M487.7,800.9L484.8,803.0L484.8,806.1L479.8,805.6L478.6,809.7L474.4,810.8L475.8,815.1L474.7,817.5M474.7,817.5L471.6,819.1L468.5,820.3L466.5,821.5L463.0,823.2M463.0,823.2L462.7,826.2L464.9,826.5L465.1,829.3M465.1,829.3L466.7,830.5L467.4,832.6L470.3,833.3M470.3,833.3L472.0,836.2L472.9,840.4L472.2,843.5L476.2,845.9M476.2,845.9L478.0,845.6L481.7,849.0L485.3,851.1L489.1,851.3M489.1,851.3L490.4,851.1L492.1,850.6L495.5,851.6L496.3,851.6L499.9,848.7L503.6,847.8L505.9,850.4M505.9,850.4L508.5,852.0L508.5,856.3L506.5,859.4L508.8,860.6L509.0,864.8L509.9,865.3L511.2,866.5L513.0,867.2M513.0,867.2L514.1,864.1L514.9,864.4M514.9,864.4L517.2,863.6L520.5,862.2L523.1,863.4L523.1,865.3L525.4,866.5M424.7,817.9L426.9,817.2L429.7,819.6L430.6,819.6M430.6,819.6L430.6,810.8L435.3,809.4L439.7,812.3L445.2,814.2L448.8,817.0L449.0,815.6L450.6,819.8L453.4,821.3L457.0,817.9L457.9,817.2M457.9,817.2L462.5,815.6L464.0,815.1L466.5,816.0L472.5,816.0L474.7,817.5M430.6,819.6L432.4,819.6L435.3,816.3L437.9,817.5L441.3,820.1L442.4,822.7L445.9,825.0L449.7,828.8M426.7,829.1L429.7,827.7L432.8,826.9L436.6,828.6L440.1,830.7M440.1,830.7L439.9,833.8L442.8,833.8L446.1,831.4L449.7,828.8M449.7,828.8L452.1,829.3M452.1,829.3L455.2,828.4L456.5,827.4L458.9,827.7L459.4,830.5L462.1,828.8L465.1,829.3M452.1,829.3L453.2,826.9L451.9,823.6L454.8,820.8L457.4,822.2L459.2,822.4L463.0,823.2M454.8,820.8L457.0,817.9M439.9,833.8L438.8,836.9L439.3,841.2L441.2,843.0L439.5,846.8M439.5,846.8L441.2,848.7L443.0,850.6L443.9,853.0L440.8,857.7M439.5,846.8L442.4,847.8L445.2,847.8L449.4,846.6L449.5,844.2L454.8,841.9L454.8,839.0L456.7,838.3L458.1,836.7L459.0,832.2L465.1,829.3M452.8,861.5L455.2,859.9L458.1,858.9L456.1,854.4L456.8,851.1L460.1,849.4L463.2,845.6L464.3,844.0L464.3,840.0L466.0,840.9L463.4,838.5L463.4,835.2L470.3,833.3M476.2,845.9L474.5,849.2L480.4,852.5L484.9,854.4L489.1,854.6L489.1,851.3M490.8,865.5L490.4,860.1L489.1,859.1L489.5,856.5L492.2,855.4L492.2,857.5L496.8,858.0L497.0,858.7L494.8,860.6L494.8,862.5L496.8,861.3L497.3,865.5L496.8,868.1M497.3,865.5L498.6,860.6L501.2,857.5L502.1,854.4L505.4,851.8L505.9,850.4M490.6,852.8L492.4,854.2L496.4,853.9L496.4,852.3L495.5,851.6M490.6,852.8L490.4,851.1M511.0,869.1L509.0,870.5L506.8,873.6L506.7,875.2L508.3,879.0L507.6,881.4L509.4,885.4L509.4,889.7L508.3,893.7M511.0,869.1L513.0,867.2M511.0,869.1L511.8,871.2L513.0,871.2L512.9,876.0L514.7,874.3L516.9,873.8L519.4,876.0L519.6,878.6L520.9,880.2L520.3,883.5M514.9,864.4L516.3,867.7L519.1,868.9L518.1,871.5L520.3,873.1L522.7,877.1L524.5,880.0L524.5,882.6M520.3,883.5L522.0,883.3L524.5,882.6M520.3,883.5L516.5,883.8L515.4,885.2L516.1,889.7M524.5,882.6L524.5,888.3L521.8,889.5L521.4,891.4L518.9,892.8M511.0,902.2L512.7,903.7L512.9,902.7L514.7,902.7M528.4,912.7L530.0,915.3L532.7,914.6L535.8,914.3L537.9,912.9L538.2,910.5L539.3,907.5L543.0,907.5M536.4,906.5L537.9,907.2L538.6,905.8M585.7,923.6L585.7,939.2M556.3,938.7L556.6,939.9M559.6,827.9L560.5,826.7L562.5,826.0M555.2,822.7L557.9,820.3L559.9,818.4L562.3,819.4L562.1,817.9L565.0,817.0L566.7,817.0M394.1,832.2L395.4,831.4L395.4,830.3L397.7,830.0L401.4,830.3L405.8,829.5M405.8,829.5L410.1,829.3M410.1,829.3L409.0,826.7L409.4,824.1L410.1,823.4M410.1,823.4L408.1,822.4L407.8,820.1L405.9,819.1L404.1,819.1M401.4,814.4L405.9,815.1L408.3,816.5L410.5,816.5L413.2,818.4M413.2,818.4L415.1,819.6L417.1,818.4M407.8,820.1L410.5,819.8L413.2,818.4M410.5,819.8L411.4,821.3L413.2,823.9L413.2,825.3M410.1,823.4L413.2,825.3L416.0,823.4L417.6,826.5M410.1,829.3L411.4,832.2L412.3,834.0L411.4,836.9L412.7,838.8L415.6,841.6L415.4,844.0L416.9,846.4M405.8,829.5L403.6,831.0L403.8,833.1L403.2,835.9L399.2,838.3M399.2,838.3L399.9,841.2M399.9,841.2L402.1,841.6L405.0,843.8L410.0,848.3L413.2,848.5M413.2,848.5L415.1,846.4L416.0,846.4M413.2,848.5L415.1,849.9L416.7,849.9M399.2,838.3L395.5,840.9L393.7,840.0M393.7,840.0L393.4,838.5L395.2,836.4L394.1,835.5M393.4,838.5L392.4,839.0M393.7,840.0L393.2,842.8L392.3,847.5M390.8,843.3L392.1,847.5M392.3,847.8L394.3,848.3L396.8,846.4L397.7,845.2L395.9,842.8L399.9,841.2M406.5,878.6L407.2,876.2L409.0,876.2L413.1,876.7L415.1,876.9L417.8,873.4L423.3,872.4M423.3,872.4L428.7,870.0L430.0,865.3L429.1,863.6M429.1,863.6L424.4,863.2L422.5,860.3M429.1,863.6L430.2,860.1L431.3,858.4M423.3,872.4L425.3,877.9M421.1,858.9L421.8,859.1" stroke-width="1.2" stroke-opacity="0.95"/><path d="M312.2,818.2L313.4,817.7L316.4,818.2L317.1,818.9L315.8,820.3L315.8,822.2L315.6,823.4L314.7,823.6L315.6,825.0L315.1,826.9L314.7,828.6L314.9,829.5M325.1,814.6L327.5,816.0L329.7,816.0L331.5,816.8L334.2,817.0M342.1,813.9L341.2,812.5L341.2,810.4L340.8,808.9L341.2,808.7M341.2,808.7L339.5,808.0L339.7,807.1L341.2,805.2L342.3,804.7M342.3,804.7L342.3,803.0L343.4,801.4L340.1,800.4M340.1,800.4L339.0,800.2L337.3,799.0L336.1,799.0L334.2,797.3L333.0,796.4M334.6,795.7L336.2,795.7L339.0,796.2L339.3,797.1M339.3,797.1L339.7,798.3L339.5,798.8L340.1,800.4M339.5,798.8L339.0,800.2M339.3,797.1L339.5,794.7L340.8,794.3L341.2,792.6L341.5,791.2M344.3,787.4L346.5,787.6M354.3,789.8L354.7,791.9L355.0,793.1L355.2,795.4L355.8,796.6M355.8,796.6L354.5,796.6L352.1,798.1L350.5,798.3L351.2,799.2L351.2,800.2L353.6,801.8M353.6,801.8L352.1,803.0L352.1,804.7L350.7,804.7L347.6,804.9L345.9,804.9M345.9,804.9L343.9,804.7L342.3,804.7M341.2,808.7L342.8,808.5L343.9,808.0L344.8,808.7L345.4,807.5L346.8,807.8L347.4,806.3M345.9,804.9L345.9,805.9L347.4,806.3M347.4,806.3L350.7,806.1L351.0,806.8L353.4,807.3M353.4,807.3L353.2,808.9L353.4,809.4M353.4,807.3L355.8,807.1L357.8,806.6M357.8,806.6L358.3,804.7L359.6,803.7M353.6,801.8L355.8,801.4L359.2,802.1L359.6,803.7M355.8,796.6L357.6,797.6L359.2,798.3L362.2,799.2L362.7,800.2M359.2,802.1L361.2,801.1L362.7,800.2M362.7,800.2L364.9,800.9L367.6,800.4L369.5,801.1M369.5,801.1L369.8,799.7L372.2,797.8L371.5,795.4M371.5,795.4L371.5,792.8L372.0,791.9L371.3,789.8M371.3,789.8L370.0,788.6M370.0,788.6L364.5,788.6M370.0,788.6L369.8,787.4L367.3,786.7M366.9,784.6L368.5,783.8L372.2,784.1L374.0,784.3L376.9,785.5M371.3,789.8L374.9,789.1L375.3,787.6L376.9,785.5M370.2,803.7L373.1,804.0L376.9,803.0M376.9,803.0L379.5,803.0L381.7,804.0L383.1,807.5L379.9,809.7M376.9,803.0L378.6,804.9L379.9,807.3L379.9,809.7M379.9,809.7L382.4,810.1M369.8,812.7L371.3,813.7L374.9,813.9L377.7,813.0L380.6,813.9M369.8,812.7L367.4,811.3L367.6,810.4L365.4,808.2M365.4,808.2L367.1,807.5L368.5,804.7L370.2,803.7M359.6,803.7L362.7,804.2L362.9,803.5L364.9,803.3L367.6,802.6L368.9,802.8M369.5,801.1L368.9,802.8L370.2,803.7M357.8,806.6L358.5,807.3L360.3,808.7L362.9,808.7M362.9,808.7L365.4,808.2M353.4,809.7L356.3,809.7L357.0,808.0L358.5,807.3M357.2,810.4L359.2,810.4L363.1,810.4L363.1,811.1M357.2,810.4L358.0,812.7L360.3,815.1L362.2,816.8M362.9,808.7L363.1,811.1L363.8,812.5L363.4,814.4L362.2,815.8L362.2,816.8M363.4,814.4L365.4,816.0L365.8,817.5L363.8,818.2M365.4,816.0L367.6,817.2L369.3,817.2M365.8,817.5L365.8,819.1L366.7,820.5M364.9,823.4L366.3,820.5L366.7,820.5M366.7,820.5L370.2,819.6L373.1,819.1L375.8,818.7L376.6,818.7L376.6,819.6L375.8,821.0M376.6,818.7L378.6,817.9L379.5,817.9M369.8,812.7L369.3,815.6L369.3,817.2L370.2,819.6M315.1,787.2L313.4,788.3L314.7,789.3L316.9,789.3" stroke-width="1.35"/></g>
<marker id="ky74" markerUnits="userSpaceOnUse" markerWidth="21" markerHeight="21" viewBox="-10 -10 21 21" refX="0" refY="0"><rect x="-5.9" y="-5.9" width="11.8" height="11.8" rx="4.6" transform="rotate(45)" fill="#fbe08a" fill-opacity="0.55" stroke="#fbe08a" stroke-opacity="0.8" stroke-width="1.6"/></marker><marker id="kl74" markerUnits="userSpaceOnUse" markerWidth="21" markerHeight="21" viewBox="-10 -10 21 21" refX="0" refY="0"><rect x="-5.9" y="-5.9" width="11.8" height="11.8" rx="4.6" transform="rotate(45)" fill="#a9cfe0" fill-opacity="0.55" stroke="#a9cfe0" stroke-opacity="0.8" stroke-width="1.6"/></marker><marker id="kl58" markerUnits="userSpaceOnUse" markerWidth="18" markerHeight="18" viewBox="-9 -9 18 18" refX="0" refY="0"><rect x="-4.5" y="-4.5" width="9.1" height="9.1" rx="3.5" transform="rotate(45)" fill="#a9cfe0" fill-opacity="0.55" stroke="#a9cfe0" stroke-opacity="0.8" stroke-width="1.6"/></marker><marker id="kr72" markerUnits="userSpaceOnUse" markerWidth="20" markerHeight="20" viewBox="-10 -10 20 20" refX="0" refY="0"><rect x="-5.7" y="-5.7" width="11.4" height="11.4" rx="4.5" transform="rotate(45)" fill="#8f2a2a" fill-opacity="0.55" stroke="#8f2a2a" stroke-opacity="0.8" stroke-width="1.6"/></marker><marker id="kr63" markerUnits="userSpaceOnUse" markerWidth="19" markerHeight="19" viewBox="-9 -9 19 19" refX="0" refY="0"><rect x="-5.0" y="-5.0" width="9.9" height="9.9" rx="3.9" transform="rotate(45)" fill="#8f2a2a" fill-opacity="0.55" stroke="#8f2a2a" stroke-opacity="0.8" stroke-width="1.6"/></marker><marker id="kl96" markerUnits="userSpaceOnUse" markerWidth="25" markerHeight="25" viewBox="-13 -13 25 25" refX="0" refY="0"><rect x="-7.7" y="-7.7" width="15.5" height="15.5" rx="6.0" transform="rotate(45)" fill="#a9cfe0" fill-opacity="0.55" stroke="#a9cfe0" stroke-opacity="0.8" stroke-width="1.6"/></marker><marker id="kb81" markerUnits="userSpaceOnUse" markerWidth="22" markerHeight="22" viewBox="-11 -11 22 22" refX="0" refY="0"><rect x="-6.5" y="-6.5" width="12.9" height="12.9" rx="5.0" transform="rotate(45)" fill="#3a78ad" fill-opacity="0.55" stroke="#3a78ad" stroke-opacity="0.8" stroke-width="1.6"/></marker><marker id="ky48" markerUnits="userSpaceOnUse" markerWidth="16" markerHeight="16" viewBox="-8 -8 16 16" refX="0" refY="0"><rect x="-3.7" y="-3.7" width="7.4" height="7.4" rx="2.9" transform="rotate(45)" fill="#fbe08a" fill-opacity="0.55" stroke="#fbe08a" stroke-opacity="0.8" stroke-width="1.6"/></marker><marker id="kg52" markerUnits="userSpaceOnUse" markerWidth="16" markerHeight="16" viewBox="-8 -8 16 16" refX="0" refY="0"><rect x="-4.0" y="-4.0" width="8.1" height="8.1" rx="3.1" transform="rotate(45)" fill="#34a048" fill-opacity="0.55" stroke="#34a048" stroke-opacity="0.8" stroke-width="1.6"/></marker><marker id="kg58" markerUnits="userSpaceOnUse" markerWidth="18" markerHeight="18" viewBox="-9 -9 18 18" refX="0" refY="0"><rect x="-4.5" y="-4.5" width="9.1" height="9.1" rx="3.5" transform="rotate(45)" fill="#34a048" fill-opacity="0.55" stroke="#34a048" stroke-opacity="0.8" stroke-width="1.6"/></marker><marker id="kr96" markerUnits="userSpaceOnUse" markerWidth="25" markerHeight="25" viewBox="-13 -13 25 25" refX="0" refY="0"><rect x="-7.7" y="-7.7" width="15.5" height="15.5" rx="6.0" transform="rotate(45)" fill="#8f2a2a" fill-opacity="0.55" stroke="#8f2a2a" stroke-opacity="0.8" stroke-width="1.6"/></marker><marker id="ko48" markerUnits="userSpaceOnUse" markerWidth="16" markerHeight="16" viewBox="-8 -8 16 16" refX="0" refY="0"><rect x="-3.7" y="-3.7" width="7.4" height="7.4" rx="2.9" transform="rotate(45)" fill="#f59647" fill-opacity="0.55" stroke="#f59647" stroke-opacity="0.8" stroke-width="1.6"/></marker><marker id="kr58" markerUnits="userSpaceOnUse" markerWidth="18" markerHeight="18" viewBox="-9 -9 18 18" refX="0" refY="0"><rect x="-4.5" y="-4.5" width="9.1" height="9.1" rx="3.5" transform="rotate(45)" fill="#8f2a2a" fill-opacity="0.55" stroke="#8f2a2a" stroke-opacity="0.8" stroke-width="1.6"/></marker><marker id="kl48" markerUnits="userSpaceOnUse" markerWidth="16" markerHeight="16" viewBox="-8 -8 16 16" refX="0" refY="0"><rect x="-3.7" y="-3.7" width="7.4" height="7.4" rx="2.9" transform="rotate(45)" fill="#a9cfe0" fill-opacity="0.55" stroke="#a9cfe0" stroke-opacity="0.8" stroke-width="1.6"/></marker><marker id="kg59" markerUnits="userSpaceOnUse" markerWidth="18" markerHeight="18" viewBox="-9 -9 18 18" refX="0" refY="0"><rect x="-4.6" y="-4.6" width="9.2" height="9.2" rx="3.6" transform="rotate(45)" fill="#34a048" fill-opacity="0.55" stroke="#34a048" stroke-opacity="0.8" stroke-width="1.6"/></marker><marker id="kl63" markerUnits="userSpaceOnUse" markerWidth="19" markerHeight="19" viewBox="-9 -9 19 19" refX="0" refY="0"><rect x="-5.0" y="-5.0" width="9.9" height="9.9" rx="3.9" transform="rotate(45)" fill="#a9cfe0" fill-opacity="0.55" stroke="#a9cfe0" stroke-opacity="0.8" stroke-width="1.6"/></marker><marker id="kr54" markerUnits="userSpaceOnUse" markerWidth="17" markerHeight="17" viewBox="-8 -8 17 17" refX="0" refY="0"><rect x="-4.2" y="-4.2" width="8.4" height="8.4" rx="3.3" transform="rotate(45)" fill="#8f2a2a" fill-opacity="0.55" stroke="#8f2a2a" stroke-opacity="0.8" stroke-width="1.6"/></marker><marker id="ko59" markerUnits="userSpaceOnUse" markerWidth="18" markerHeight="18" viewBox="-9 -9 18 18" refX="0" refY="0"><rect x="-4.6" y="-4.6" width="9.2" height="9.2" rx="3.6" transform="rotate(45)" fill="#f59647" fill-opacity="0.55" stroke="#f59647" stroke-opacity="0.8" stroke-width="1.6"/></marker><marker id="kg56" markerUnits="userSpaceOnUse" markerWidth="17" markerHeight="17" viewBox="-9 -9 17 17" refX="0" refY="0"><rect x="-4.4" y="-4.4" width="8.7" height="8.7" rx="3.4" transform="rotate(45)" fill="#34a048" fill-opacity="0.55" stroke="#34a048" stroke-opacity="0.8" stroke-width="1.6"/></marker><marker id="kg68" markerUnits="userSpaceOnUse" markerWidth="20" markerHeight="20" viewBox="-10 -10 20 20" refX="0" refY="0"><rect x="-5.4" y="-5.4" width="10.8" height="10.8" rx="4.2" transform="rotate(45)" fill="#34a048" fill-opacity="0.55" stroke="#34a048" stroke-opacity="0.8" stroke-width="1.6"/></marker><marker id="kl57" markerUnits="userSpaceOnUse" markerWidth="17" markerHeight="17" viewBox="-9 -9 17 17" refX="0" refY="0"><rect x="-4.5" y="-4.5" width="8.9" height="8.9" rx="3.5" transform="rotate(45)" fill="#a9cfe0" fill-opacity="0.55" stroke="#a9cfe0" stroke-opacity="0.8" stroke-width="1.6"/></marker><marker id="ky58" markerUnits="userSpaceOnUse" markerWidth="18" markerHeight="18" viewBox="-9 -9 18 18" refX="0" refY="0"><rect x="-4.5" y="-4.5" width="9.1" height="9.1" rx="3.5" transform="rotate(45)" fill="#fbe08a" fill-opacity="0.55" stroke="#fbe08a" stroke-opacity="0.8" stroke-width="1.6"/></marker><marker id="ko58" markerUnits="userSpaceOnUse" markerWidth="18" markerHeight="18" viewBox="-9 -9 18 18" refX="0" refY="0"><rect x="-4.5" y="-4.5" width="9.1" height="9.1" rx="3.5" transform="rotate(45)" fill="#f59647" fill-opacity="0.55" stroke="#f59647" stroke-opacity="0.8" stroke-width="1.6"/></marker><marker id="kg74" markerUnits="userSpaceOnUse" markerWidth="21" markerHeight="21" viewBox="-10 -10 21 21" refX="0" refY="0"><rect x="-5.9" y="-5.9" width="11.8" height="11.8" rx="4.6" transform="rotate(45)" fill="#34a048" fill-opacity="0.55" stroke="#34a048" stroke-opacity="0.8" stroke-width="1.6"/></marker><marker id="ko54" markerUnits="userSpaceOnUse" markerWidth="17" markerHeight="17" viewBox="-8 -8 17 17" refX="0" refY="0"><rect x="-4.2" y="-4.2" width="8.4" height="8.4" rx="3.3" transform="rotate(45)" fill="#f59647" fill-opacity="0.55" stroke="#f59647" stroke-opacity="0.8" stroke-width="1.6"/></marker><marker id="kg63" markerUnits="userSpaceOnUse" markerWidth="19" markerHeight="19" viewBox="-9 -9 19 19" refX="0" refY="0"><rect x="-5.0" y="-5.0" width="9.9" height="9.9" rx="3.9" transform="rotate(45)" fill="#34a048" fill-opacity="0.55" stroke="#34a048" stroke-opacity="0.8" stroke-width="1.6"/></marker><marker id="ky63" markerUnits="userSpaceOnUse" markerWidth="19" markerHeight="19" viewBox="-9 -9 19 19" refX="0" refY="0"><rect x="-5.0" y="-5.0" width="9.9" height="9.9" rx="3.9" transform="rotate(45)" fill="#fbe08a" fill-opacity="0.55" stroke="#fbe08a" stroke-opacity="0.8" stroke-width="1.6"/></marker><marker id="kl72" markerUnits="userSpaceOnUse" markerWidth="20" markerHeight="20" viewBox="-10 -10 20 20" refX="0" refY="0"><rect x="-5.7" y="-5.7" width="11.4" height="11.4" rx="4.5" transform="rotate(45)" fill="#a9cfe0" fill-opacity="0.55" stroke="#a9cfe0" stroke-opacity="0.8" stroke-width="1.6"/></marker><marker id="kb48" markerUnits="userSpaceOnUse" markerWidth="16" markerHeight="16" viewBox="-8 -8 16 16" refX="0" refY="0"><rect x="-3.7" y="-3.7" width="7.4" height="7.4" rx="2.9" transform="rotate(45)" fill="#3a78ad" fill-opacity="0.55" stroke="#3a78ad" stroke-opacity="0.8" stroke-width="1.6"/></marker><marker id="ko96" markerUnits="userSpaceOnUse" markerWidth="25" markerHeight="25" viewBox="-13 -13 25 25" refX="0" refY="0"><rect x="-7.7" y="-7.7" width="15.5" height="15.5" rx="6.0" transform="rotate(45)" fill="#f59647" fill-opacity="0.55" stroke="#f59647" stroke-opacity="0.8" stroke-width="1.6"/></marker><marker id="ky96" markerUnits="userSpaceOnUse" markerWidth="25" markerHeight="25" viewBox="-13 -13 25 25" refX="0" refY="0"><rect x="-7.7" y="-7.7" width="15.5" height="15.5" rx="6.0" transform="rotate(45)" fill="#fbe08a" fill-opacity="0.55" stroke="#fbe08a" stroke-opacity="0.8" stroke-width="1.6"/></marker><marker id="kr90" markerUnits="userSpaceOnUse" markerWidth="24" markerHeight="24" viewBox="-12 -12 24 24" refX="0" refY="0"><rect x="-7.2" y="-7.2" width="14.4" height="14.4" rx="5.6" transform="rotate(45)" fill="#8f2a2a" fill-opacity="0.55" stroke="#8f2a2a" stroke-opacity="0.8" stroke-width="1.6"/></marker><marker id="kb58" markerUnits="userSpaceOnUse" markerWidth="18" markerHeight="18" viewBox="-9 -9 18 18" refX="0" refY="0"><rect x="-4.5" y="-4.5" width="9.1" height="9.1" rx="3.5" transform="rotate(45)" fill="#3a78ad" fill-opacity="0.55" stroke="#3a78ad" stroke-opacity="0.8" stroke-width="1.6"/></marker><marker id="kb74" markerUnits="userSpaceOnUse" markerWidth="21" markerHeight="21" viewBox="-10 -10 21 21" refX="0" refY="0"><rect x="-5.9" y="-5.9" width="11.8" height="11.8" rx="4.6" transform="rotate(45)" fill="#3a78ad" fill-opacity="0.55" stroke="#3a78ad" stroke-opacity="0.8" stroke-width="1.6"/></marker><marker id="kl54" markerUnits="userSpaceOnUse" markerWidth="17" markerHeight="17" viewBox="-8 -8 17 17" refX="0" refY="0"><rect x="-4.2" y="-4.2" width="8.4" height="8.4" rx="3.3" transform="rotate(45)" fill="#a9cfe0" fill-opacity="0.55" stroke="#a9cfe0" stroke-opacity="0.8" stroke-width="1.6"/></marker><marker id="kg54" markerUnits="userSpaceOnUse" markerWidth="17" markerHeight="17" viewBox="-8 -8 17 17" refX="0" refY="0"><rect x="-4.2" y="-4.2" width="8.4" height="8.4" rx="3.3" transform="rotate(45)" fill="#34a048" fill-opacity="0.55" stroke="#34a048" stroke-opacity="0.8" stroke-width="1.6"/></marker><marker id="kg96" markerUnits="userSpaceOnUse" markerWidth="25" markerHeight="25" viewBox="-13 -13 25 25" refX="0" refY="0"><rect x="-7.7" y="-7.7" width="15.5" height="15.5" rx="6.0" transform="rotate(45)" fill="#34a048" fill-opacity="0.55" stroke="#34a048" stroke-opacity="0.8" stroke-width="1.6"/></marker><marker id="ko74" markerUnits="userSpaceOnUse" markerWidth="21" markerHeight="21" viewBox="-10 -10 21 21" refX="0" refY="0"><rect x="-5.9" y="-5.9" width="11.8" height="11.8" rx="4.6" transform="rotate(45)" fill="#f59647" fill-opacity="0.55" stroke="#f59647" stroke-opacity="0.8" stroke-width="1.6"/></marker><marker id="kg72" markerUnits="userSpaceOnUse" markerWidth="20" markerHeight="20" viewBox="-10 -10 20 20" refX="0" refY="0"><rect x="-5.7" y="-5.7" width="11.4" height="11.4" rx="4.5" transform="rotate(45)" fill="#34a048" fill-opacity="0.55" stroke="#34a048" stroke-opacity="0.8" stroke-width="1.6"/></marker><marker id="kr48" markerUnits="userSpaceOnUse" markerWidth="16" markerHeight="16" viewBox="-8 -8 16 16" refX="0" refY="0"><rect x="-3.7" y="-3.7" width="7.4" height="7.4" rx="2.9" transform="rotate(45)" fill="#8f2a2a" fill-opacity="0.55" stroke="#8f2a2a" stroke-opacity="0.8" stroke-width="1.6"/></marker><marker id="ko63" markerUnits="userSpaceOnUse" markerWidth="19" markerHeight="19" viewBox="-9 -9 19 19" refX="0" refY="0"><rect x="-5.0" y="-5.0" width="9.9" height="9.9" rx="3.9" transform="rotate(45)" fill="#f59647" fill-opacity="0.55" stroke="#f59647" stroke-opacity="0.8" stroke-width="1.6"/></marker><marker id="kg48" markerUnits="userSpaceOnUse" markerWidth="16" markerHeight="16" viewBox="-8 -8 16 16" refX="0" refY="0"><rect x="-3.7" y="-3.7" width="7.4" height="7.4" rx="2.9" transform="rotate(45)" fill="#34a048" fill-opacity="0.55" stroke="#34a048" stroke-opacity="0.8" stroke-width="1.6"/></marker><marker id="kr59" markerUnits="userSpaceOnUse" markerWidth="18" markerHeight="18" viewBox="-9 -9 18 18" refX="0" refY="0"><rect x="-4.6" y="-4.6" width="9.2" height="9.2" rx="3.6" transform="rotate(45)" fill="#8f2a2a" fill-opacity="0.55" stroke="#8f2a2a" stroke-opacity="0.8" stroke-width="1.6"/></marker><marker id="kr57" markerUnits="userSpaceOnUse" markerWidth="17" markerHeight="17" viewBox="-9 -9 17 17" refX="0" refY="0"><rect x="-4.5" y="-4.5" width="8.9" height="8.9" rx="3.5" transform="rotate(45)" fill="#8f2a2a" fill-opacity="0.55" stroke="#8f2a2a" stroke-opacity="0.8" stroke-width="1.6"/></marker><marker id="kr74" markerUnits="userSpaceOnUse" markerWidth="21" markerHeight="21" viewBox="-10 -10 21 21" refX="0" refY="0"><rect x="-5.9" y="-5.9" width="11.8" height="11.8" rx="4.6" transform="rotate(45)" fill="#8f2a2a" fill-opacity="0.55" stroke="#8f2a2a" stroke-opacity="0.8" stroke-width="1.6"/></marker><marker id="kg60" markerUnits="userSpaceOnUse" markerWidth="18" markerHeight="18" viewBox="-9 -9 18 18" refX="0" refY="0"><rect x="-4.7" y="-4.7" width="9.4" height="9.4" rx="3.7" transform="rotate(45)" fill="#34a048" fill-opacity="0.55" stroke="#34a048" stroke-opacity="0.8" stroke-width="1.6"/></marker><marker id="kb96" markerUnits="userSpaceOnUse" markerWidth="25" markerHeight="25" viewBox="-13 -13 25 25" refX="0" refY="0"><rect x="-7.7" y="-7.7" width="15.5" height="15.5" rx="6.0" transform="rotate(45)" fill="#3a78ad" fill-opacity="0.55" stroke="#3a78ad" stroke-opacity="0.8" stroke-width="1.6"/></marker><marker id="kb57" markerUnits="userSpaceOnUse" markerWidth="17" markerHeight="17" viewBox="-9 -9 17 17" refX="0" refY="0"><rect x="-4.5" y="-4.5" width="8.9" height="8.9" rx="3.5" transform="rotate(45)" fill="#3a78ad" fill-opacity="0.55" stroke="#3a78ad" stroke-opacity="0.8" stroke-width="1.6"/></marker><marker id="ko81" markerUnits="userSpaceOnUse" markerWidth="22" markerHeight="22" viewBox="-11 -11 22 22" refX="0" refY="0"><rect x="-6.5" y="-6.5" width="12.9" height="12.9" rx="5.0" transform="rotate(45)" fill="#f59647" fill-opacity="0.55" stroke="#f59647" stroke-opacity="0.8" stroke-width="1.6"/></marker><marker id="kg81" markerUnits="userSpaceOnUse" markerWidth="22" markerHeight="22" viewBox="-11 -11 22 22" refX="0" refY="0"><rect x="-6.5" y="-6.5" width="12.9" height="12.9" rx="5.0" transform="rotate(45)" fill="#34a048" fill-opacity="0.55" stroke="#34a048" stroke-opacity="0.8" stroke-width="1.6"/></marker><marker id="kr81" markerUnits="userSpaceOnUse" markerWidth="22" markerHeight="22" viewBox="-11 -11 22 22" refX="0" refY="0"><rect x="-6.5" y="-6.5" width="12.9" height="12.9" rx="5.0" transform="rotate(45)" fill="#8f2a2a" fill-opacity="0.55" stroke="#8f2a2a" stroke-opacity="0.8" stroke-width="1.6"/></marker><marker id="kr86" markerUnits="userSpaceOnUse" markerWidth="23" markerHeight="23" viewBox="-12 -12 23 23" refX="0" refY="0"><rect x="-6.9" y="-6.9" width="13.8" height="13.8" rx="5.4" transform="rotate(45)" fill="#8f2a2a" fill-opacity="0.55" stroke="#8f2a2a" stroke-opacity="0.8" stroke-width="1.6"/></marker><marker id="ky59" markerUnits="userSpaceOnUse" markerWidth="18" markerHeight="18" viewBox="-9 -9 18 18" refX="0" refY="0"><rect x="-4.6" y="-4.6" width="9.2" height="9.2" rx="3.6" transform="rotate(45)" fill="#fbe08a" fill-opacity="0.55" stroke="#fbe08a" stroke-opacity="0.8" stroke-width="1.6"/></marker><marker id="ko57" markerUnits="userSpaceOnUse" markerWidth="17" markerHeight="17" viewBox="-9 -9 17 17" refX="0" refY="0"><rect x="-4.5" y="-4.5" width="8.9" height="8.9" rx="3.5" transform="rotate(45)" fill="#f59647" fill-opacity="0.55" stroke="#f59647" stroke-opacity="0.8" stroke-width="1.6"/></marker><marker id="kl81" markerUnits="userSpaceOnUse" markerWidth="22" markerHeight="22" viewBox="-11 -11 22 22" refX="0" refY="0"><rect x="-6.5" y="-6.5" width="12.9" height="12.9" rx="5.0" transform="rotate(45)" fill="#a9cfe0" fill-opacity="0.55" stroke="#a9cfe0" stroke-opacity="0.8" stroke-width="1.6"/></marker><marker id="ky57" markerUnits="userSpaceOnUse" markerWidth="17" markerHeight="17" viewBox="-9 -9 17 17" refX="0" refY="0"><rect x="-4.5" y="-4.5" width="8.9" height="8.9" rx="3.5" transform="rotate(45)" fill="#fbe08a" fill-opacity="0.55" stroke="#fbe08a" stroke-opacity="0.8" stroke-width="1.6"/></marker><marker id="kg61" markerUnits="userSpaceOnUse" markerWidth="18" markerHeight="18" viewBox="-9 -9 18 18" refX="0" refY="0"><rect x="-4.8" y="-4.8" width="9.6" height="9.6" rx="3.7" transform="rotate(45)" fill="#34a048" fill-opacity="0.55" stroke="#34a048" stroke-opacity="0.8" stroke-width="1.6"/></marker><marker id="kb45" markerUnits="userSpaceOnUse" markerWidth="15" markerHeight="15" viewBox="-8 -8 15 15" refX="0" refY="0"><rect x="-3.4" y="-3.4" width="6.9" height="6.9" rx="2.7" transform="rotate(45)" fill="#3a78ad" fill-opacity="0.55" stroke="#3a78ad" stroke-opacity="0.8" stroke-width="1.6"/></marker><marker id="kr95" markerUnits="userSpaceOnUse" markerWidth="25" markerHeight="25" viewBox="-12 -12 25 25" refX="0" refY="0"><rect x="-7.6" y="-7.6" width="15.3" height="15.3" rx="6.0" transform="rotate(45)" fill="#8f2a2a" fill-opacity="0.55" stroke="#8f2a2a" stroke-opacity="0.8" stroke-width="1.6"/></marker><marker id="kl86" markerUnits="userSpaceOnUse" markerWidth="23" markerHeight="23" viewBox="-12 -12 23 23" refX="0" refY="0"><rect x="-6.9" y="-6.9" width="13.8" height="13.8" rx="5.4" transform="rotate(45)" fill="#a9cfe0" fill-opacity="0.55" stroke="#a9cfe0" stroke-opacity="0.8" stroke-width="1.6"/></marker><marker id="kg57" markerUnits="userSpaceOnUse" markerWidth="17" markerHeight="17" viewBox="-9 -9 17 17" refX="0" refY="0"><rect x="-4.5" y="-4.5" width="8.9" height="8.9" rx="3.5" transform="rotate(45)" fill="#34a048" fill-opacity="0.55" stroke="#34a048" stroke-opacity="0.8" stroke-width="1.6"/></marker><marker id="kl68" markerUnits="userSpaceOnUse" markerWidth="20" markerHeight="20" viewBox="-10 -10 20 20" refX="0" refY="0"><rect x="-5.4" y="-5.4" width="10.8" height="10.8" rx="4.2" transform="rotate(45)" fill="#a9cfe0" fill-opacity="0.55" stroke="#a9cfe0" stroke-opacity="0.8" stroke-width="1.6"/></marker><marker id="kl59" markerUnits="userSpaceOnUse" markerWidth="18" markerHeight="18" viewBox="-9 -9 18 18" refX="0" refY="0"><rect x="-4.6" y="-4.6" width="9.2" height="9.2" rx="3.6" transform="rotate(45)" fill="#a9cfe0" fill-opacity="0.55" stroke="#a9cfe0" stroke-opacity="0.8" stroke-width="1.6"/></marker><marker id="kr68" markerUnits="userSpaceOnUse" markerWidth="20" markerHeight="20" viewBox="-10 -10 20 20" refX="0" refY="0"><rect x="-5.4" y="-5.4" width="10.8" height="10.8" rx="4.2" transform="rotate(45)" fill="#8f2a2a" fill-opacity="0.55" stroke="#8f2a2a" stroke-opacity="0.8" stroke-width="1.6"/></marker><marker id="kr65" markerUnits="userSpaceOnUse" markerWidth="19" markerHeight="19" viewBox="-10 -10 19 19" refX="0" refY="0"><rect x="-5.1" y="-5.1" width="10.2" height="10.2" rx="4.0" transform="rotate(45)" fill="#8f2a2a" fill-opacity="0.55" stroke="#8f2a2a" stroke-opacity="0.8" stroke-width="1.6"/></marker><marker id="kr77" markerUnits="userSpaceOnUse" markerWidth="21" markerHeight="21" viewBox="-11 -11 21 21" refX="0" refY="0"><rect x="-6.1" y="-6.1" width="12.3" height="12.3" rx="4.8" transform="rotate(45)" fill="#8f2a2a" fill-opacity="0.55" stroke="#8f2a2a" stroke-opacity="0.8" stroke-width="1.6"/></marker><marker id="kb47" markerUnits="userSpaceOnUse" markerWidth="15" markerHeight="15" viewBox="-8 -8 15 15" refX="0" refY="0"><rect x="-3.6" y="-3.6" width="7.2" height="7.2" rx="2.8" transform="rotate(45)" fill="#3a78ad" fill-opacity="0.55" stroke="#3a78ad" stroke-opacity="0.8" stroke-width="1.6"/></marker><marker id="kr47" markerUnits="userSpaceOnUse" markerWidth="15" markerHeight="15" viewBox="-8 -8 15 15" refX="0" refY="0"><rect x="-3.6" y="-3.6" width="7.2" height="7.2" rx="2.8" transform="rotate(45)" fill="#8f2a2a" fill-opacity="0.55" stroke="#8f2a2a" stroke-opacity="0.8" stroke-width="1.6"/></marker><marker id="kb54" markerUnits="userSpaceOnUse" markerWidth="17" markerHeight="17" viewBox="-8 -8 17 17" refX="0" refY="0"><rect x="-4.2" y="-4.2" width="8.4" height="8.4" rx="3.3" transform="rotate(45)" fill="#3a78ad" fill-opacity="0.55" stroke="#3a78ad" stroke-opacity="0.8" stroke-width="1.6"/></marker><marker id="kl47" markerUnits="userSpaceOnUse" markerWidth="15" markerHeight="15" viewBox="-8 -8 15 15" refX="0" refY="0"><rect x="-3.6" y="-3.6" width="7.2" height="7.2" rx="2.8" transform="rotate(45)" fill="#a9cfe0" fill-opacity="0.55" stroke="#a9cfe0" stroke-opacity="0.8" stroke-width="1.6"/></marker><marker id="kl90" markerUnits="userSpaceOnUse" markerWidth="24" markerHeight="24" viewBox="-12 -12 24 24" refX="0" refY="0"><rect x="-7.2" y="-7.2" width="14.4" height="14.4" rx="5.6" transform="rotate(45)" fill="#a9cfe0" fill-opacity="0.55" stroke="#a9cfe0" stroke-opacity="0.8" stroke-width="1.6"/></marker><marker id="kb63" markerUnits="userSpaceOnUse" markerWidth="19" markerHeight="19" viewBox="-9 -9 19 19" refX="0" refY="0"><rect x="-5.0" y="-5.0" width="9.9" height="9.9" rx="3.9" transform="rotate(45)" fill="#3a78ad" fill-opacity="0.55" stroke="#3a78ad" stroke-opacity="0.8" stroke-width="1.6"/></marker><marker id="ky47" markerUnits="userSpaceOnUse" markerWidth="15" markerHeight="15" viewBox="-8 -8 15 15" refX="0" refY="0"><rect x="-3.6" y="-3.6" width="7.2" height="7.2" rx="2.8" transform="rotate(45)" fill="#fbe08a" fill-opacity="0.55" stroke="#fbe08a" stroke-opacity="0.8" stroke-width="1.6"/></marker><marker id="kg47" markerUnits="userSpaceOnUse" markerWidth="15" markerHeight="15" viewBox="-8 -8 15 15" refX="0" refY="0"><rect x="-3.6" y="-3.6" width="7.2" height="7.2" rx="2.8" transform="rotate(45)" fill="#34a048" fill-opacity="0.55" stroke="#34a048" stroke-opacity="0.8" stroke-width="1.6"/></marker><marker id="kl50" markerUnits="userSpaceOnUse" markerWidth="16" markerHeight="16" viewBox="-8 -8 16 16" refX="0" refY="0"><rect x="-3.9" y="-3.9" width="7.7" height="7.7" rx="3.0" transform="rotate(45)" fill="#a9cfe0" fill-opacity="0.55" stroke="#a9cfe0" stroke-opacity="0.8" stroke-width="1.6"/></marker><marker id="ko47" markerUnits="userSpaceOnUse" markerWidth="15" markerHeight="15" viewBox="-8 -8 15 15" refX="0" refY="0"><rect x="-3.6" y="-3.6" width="7.2" height="7.2" rx="2.8" transform="rotate(45)" fill="#f59647" fill-opacity="0.55" stroke="#f59647" stroke-opacity="0.8" stroke-width="1.6"/></marker><marker id="kb59" markerUnits="userSpaceOnUse" markerWidth="18" markerHeight="18" viewBox="-9 -9 18 18" refX="0" refY="0"><rect x="-4.6" y="-4.6" width="9.2" height="9.2" rx="3.6" transform="rotate(45)" fill="#3a78ad" fill-opacity="0.55" stroke="#3a78ad" stroke-opacity="0.8" stroke-width="1.6"/></marker><marker id="ky68" markerUnits="userSpaceOnUse" markerWidth="20" markerHeight="20" viewBox="-10 -10 20 20" refX="0" refY="0"><rect x="-5.4" y="-5.4" width="10.8" height="10.8" rx="4.2" transform="rotate(45)" fill="#fbe08a" fill-opacity="0.55" stroke="#fbe08a" stroke-opacity="0.8" stroke-width="1.6"/></marker><marker id="ky81" markerUnits="userSpaceOnUse" markerWidth="22" markerHeight="22" viewBox="-11 -11 22 22" refX="0" refY="0"><rect x="-6.5" y="-6.5" width="12.9" height="12.9" rx="5.0" transform="rotate(45)" fill="#fbe08a" fill-opacity="0.55" stroke="#fbe08a" stroke-opacity="0.8" stroke-width="1.6"/></marker><marker id="ky72" markerUnits="userSpaceOnUse" markerWidth="20" markerHeight="20" viewBox="-10 -10 20 20" refX="0" refY="0"><rect x="-5.7" y="-5.7" width="11.4" height="11.4" rx="4.5" transform="rotate(45)" fill="#fbe08a" fill-opacity="0.55" stroke="#fbe08a" stroke-opacity="0.8" stroke-width="1.6"/></marker><marker id="ko77" markerUnits="userSpaceOnUse" markerWidth="21" markerHeight="21" viewBox="-11 -11 21 21" refX="0" refY="0"><rect x="-6.1" y="-6.1" width="12.3" height="12.3" rx="4.8" transform="rotate(45)" fill="#f59647" fill-opacity="0.55" stroke="#f59647" stroke-opacity="0.8" stroke-width="1.6"/></marker><marker id="kg90" markerUnits="userSpaceOnUse" markerWidth="24" markerHeight="24" viewBox="-12 -12 24 24" refX="0" refY="0"><rect x="-7.2" y="-7.2" width="14.4" height="14.4" rx="5.6" transform="rotate(45)" fill="#34a048" fill-opacity="0.55" stroke="#34a048" stroke-opacity="0.8" stroke-width="1.6"/></marker>
<g transform="scale(0.5)" fill="none" stroke="none"><circle cx="1167" cy="1664" r="24" fill="#8f2a2a" fill-opacity="0.42" stroke="#8f2a2a" stroke-opacity="0.75" stroke-width="1.6"/><circle cx="1120" cy="1657" r="20" fill="#8f2a2a" fill-opacity="0.42" stroke="#8f2a2a" stroke-opacity="0.75" stroke-width="1.6"/><circle cx="1165" cy="1666" r="17" fill="#8f2a2a" fill-opacity="0.42" stroke="#8f2a2a" stroke-opacity="0.75" stroke-width="1.6"/><circle cx="387" cy="1642" r="15" fill="#a9cfe0" fill-opacity="0.42" stroke="#a9cfe0" stroke-opacity="0.75" stroke-width="1.6"/><circle cx="794" cy="1571" r="15" fill="#8f2a2a" fill-opacity="0.42" stroke="#8f2a2a" stroke-opacity="0.75" stroke-width="1.6"/><circle cx="248" cy="1676" r="14" fill="#8f2a2a" fill-opacity="0.42" stroke="#8f2a2a" stroke-opacity="0.75" stroke-width="1.6"/><circle cx="364" cy="1712" r="14" fill="#8f2a2a" fill-opacity="0.42" stroke="#8f2a2a" stroke-opacity="0.75" stroke-width="1.6"/><circle cx="702" cy="1636" r="13" fill="#8f2a2a" fill-opacity="0.42" stroke="#8f2a2a" stroke-opacity="0.75" stroke-width="1.6"/><circle cx="1151" cy="1670" r="13" fill="#8f2a2a" fill-opacity="0.42" stroke="#8f2a2a" stroke-opacity="0.75" stroke-width="1.6"/><circle cx="237" cy="1663" r="12" fill="#8f2a2a" fill-opacity="0.42" stroke="#8f2a2a" stroke-opacity="0.75" stroke-width="1.6"/><circle cx="211" cy="1609" r="12" fill="#8f2a2a" fill-opacity="0.42" stroke="#8f2a2a" stroke-opacity="0.75" stroke-width="1.6"/><circle cx="1209" cy="1995" r="12" fill="#8f2a2a" fill-opacity="0.42" stroke="#8f2a2a" stroke-opacity="0.75" stroke-width="1.6"/><circle cx="376" cy="1651" r="12" fill="#a9cfe0" fill-opacity="0.42" stroke="#a9cfe0" stroke-opacity="0.75" stroke-width="1.6"/><circle cx="743" cy="1655" r="12" fill="#8f2a2a" fill-opacity="0.42" stroke="#8f2a2a" stroke-opacity="0.75" stroke-width="1.6"/><circle cx="1186" cy="2014" r="12" fill="#8f2a2a" fill-opacity="0.42" stroke="#8f2a2a" stroke-opacity="0.75" stroke-width="1.6"/><circle cx="397" cy="1634" r="12" fill="#a9cfe0" fill-opacity="0.42" stroke="#a9cfe0" stroke-opacity="0.75" stroke-width="1.6"/><circle cx="382" cy="1645" r="11" fill="#a9cfe0" fill-opacity="0.42" stroke="#a9cfe0" stroke-opacity="0.75" stroke-width="1.6"/><path d="M760,1606l-117,38" marker-start="url(#ky74)" marker-mid="url(#ky74)" marker-end="url(#ky74)"/><path d="M779,1573l-35,44l-433,76" marker-start="url(#kl74)" marker-mid="url(#kl74)" marker-end="url(#kl74)"/><path d="M624,1579l20-2l18,39l-301,27l-9,24l8,32" marker-start="url(#kl58)" marker-mid="url(#kl58)" marker-end="url(#kl58)"/><path d="M740,1643l0,0" marker-start="url(#kr72)" marker-mid="url(#kr72)" marker-end="url(#kr72)"/><path d="M289,1613l927,354" marker-start="url(#kr63)" marker-mid="url(#kr63)" marker-end="url(#kr63)"/><path d="M686,1580l33,38l15,1" marker-start="url(#kl96)" marker-mid="url(#kl96)" marker-end="url(#kl96)"/><path d="M690,1619l0,0" marker-start="url(#kb81)" marker-mid="url(#kb81)" marker-end="url(#kb81)"/><path d="M772,1566l-78,14l38,0l3,1l61,0l174-5l-268,12l8-4l2,6l28,8l16-10l36,9l6-7l-117,10l21,1l8,4l3,4l6-9l8,12l23-12l15,12l29-6l4-3l3,8l-141,10l62,3l5,6l-399,13l298-1l189-10l-485,16l2,0l0,28l4-11l16,6l5-6l6-1" marker-start="url(#ky48)" marker-mid="url(#ky48)" marker-end="url(#ky48)"/><path d="M1186,1859l1,2l1,9l1-7l1,2l1-2" marker-start="url(#kg52)" marker-mid="url(#kg52)" marker-end="url(#kg52)"/><path d="M765,1589l-120,15l22,0l49,5l15-7l54,11l-430,13l298,2l9,0l15-9l-366,20l314,1l-314,11l52,11l13-8l276,5l-306,18l18-9l-9,24l2-6" marker-start="url(#kg58)" marker-mid="url(#kg58)" marker-end="url(#kg58)"/><path d="M1127,1661l-898,17" marker-start="url(#kr96)" marker-mid="url(#kr96)" marker-end="url(#kr96)"/><path d="M768,1560l-24,37l-91,32l88-4l-115,15l7-6l30,4l26,7l0,2l-365,11l308-6l4,4l3,2l48-10l435,14l3-4l4-1l36,5l6-14l-943,22l74,7l476-9l2,3l340-6l5,0l22,5l5,0" marker-start="url(#ko48)" marker-mid="url(#ko48)" marker-end="url(#ko48)"/><path d="M766,1581l102,8l-171,36l475,5l-960,27l0,1l479-7l-354,20l787-4l18,6l10-3l3,0l10,0l1-4l1,0l-936,14" marker-start="url(#kr58)" marker-mid="url(#kr58)" marker-end="url(#kr58)"/><path d="M641,1567l6,14l2,1l32-2l53,1l57,0l11,2l26-9l-140,18l30-1l0,6l80-3l-141,14l11-6l0,6l14-4l1,8l9,0l3-4l-348,22l300,0l43-12l14-1l-343,24l353-7l-373,16l6,11l12-2l-13,18l-39,18l33-13l5,9" marker-start="url(#kl48)" marker-mid="url(#kl48)" marker-end="url(#kl48)"/><path d="M695,1535l49,9" marker-start="url(#kg59)" marker-mid="url(#kg59)" marker-end="url(#kg59)"/><path d="M795,1572l0,0" marker-start="url(#kl63)" marker-mid="url(#kl63)" marker-end="url(#kl63)"/><path d="M221,1598l40,52" marker-start="url(#kr54)" marker-mid="url(#kr54)" marker-end="url(#kr54)"/><path d="M601,1703l0,0" marker-start="url(#ko59)" marker-mid="url(#ko59)" marker-end="url(#ko59)"/><path d="M1185,1878l0,0" marker-start="url(#kg56)" marker-mid="url(#kg56)" marker-end="url(#kg56)"/><path d="M696,1551l52-1" marker-start="url(#kg68)" marker-mid="url(#kg68)" marker-end="url(#kg68)"/><path d="M1149,1605l0,0" marker-start="url(#kl57)" marker-mid="url(#kl57)" marker-end="url(#kl57)"/><path d="M728,1577l80,3l-135,12l34-7l10,8l40-3l10-3l-22,13l-91,23l69,4l0-8l17-2l2,2l-6,28l95-11l-483,42l-41,14" marker-start="url(#ky58)" marker-mid="url(#ky58)" marker-end="url(#ky58)"/><path d="M796,1611l-55,9l-34,19l-490,16l409,2l63-9l13,5l468-4l3-1l-945,27l929-7l11-1" marker-start="url(#ko58)" marker-mid="url(#ko58)" marker-end="url(#ko58)"/><path d="M652,1586l71,1l-370,48l-2,25l2,28l7,16" marker-start="url(#kg74)" marker-mid="url(#kg74)" marker-end="url(#kg74)"/><path d="M245,1599l0,0" marker-start="url(#ko54)" marker-mid="url(#ko54)" marker-end="url(#ko54)"/><path d="M425,1623l882,297" marker-start="url(#kg63)" marker-mid="url(#kg63)" marker-end="url(#kg63)"/><path d="M1295,2030l0,0" marker-start="url(#ky63)" marker-mid="url(#ky63)" marker-end="url(#ky63)"/><path d="M392,1637l0,0" marker-start="url(#kl72)" marker-mid="url(#kl72)" marker-end="url(#kl72)"/><path d="M681,1592l30-3l3,0l-54,14l25,11l1-3l1,4l-357,9l359-7l9,6l15,2l2-5l39,0l-50,12l26,3l391,19l3,3l-786,15l796,7l-810,10l7,2l801-4" marker-start="url(#kb48)" marker-mid="url(#kb48)" marker-end="url(#kb48)"/><path d="M792,1603l-74,50" marker-start="url(#ko96)" marker-mid="url(#ko96)" marker-end="url(#ko96)"/><path d="M793,1609l0,0" marker-start="url(#ky96)" marker-mid="url(#ky96)" marker-end="url(#ky96)"/><path d="M243,1581l0,0" marker-start="url(#kr90)" marker-mid="url(#kr90)" marker-end="url(#kr90)"/><path d="M650,1595l40,18l487,18l-552,6l183,9l-441,26l378-5l420-3l-34,20" marker-start="url(#kb58)" marker-mid="url(#kb58)" marker-end="url(#kb58)"/><path d="M963,1581l-130,22l-107,34" marker-start="url(#kb74)" marker-mid="url(#kb74)" marker-end="url(#kb74)"/><path d="M750,1527l-64,32" marker-start="url(#kl54)" marker-mid="url(#kl54)" marker-end="url(#kl54)"/><path d="M731,1533l107,24" marker-start="url(#kg54)" marker-mid="url(#kg54)" marker-end="url(#kg54)"/><path d="M648,1593l60-6l-390,86" marker-start="url(#kg96)" marker-mid="url(#kg96)" marker-end="url(#kg96)"/><path d="M666,1632l-31,26l538-10l-944,31l918-7" marker-start="url(#ko74)" marker-mid="url(#ko74)" marker-end="url(#ko74)"/><path d="M210,1611l0,0" marker-start="url(#kg72)" marker-mid="url(#kg72)" marker-end="url(#kg72)"/><path d="M742,1575l34,8l1-12l12,12l188-13l-351,16l33,1l27,7l11,1l43,0l2,1l16-5l17,3l0-8l27,7l10,1l38-5l-82,11l-45,25l76-7l17,6l357,4l4,0l-552,4l2,4l3-1l7,9l19-8l3,0l0-1l60,12l3-6l26-8l423,12l2-12l-963,26l2-1l4,1l434-2l58-1l0-1l0,2l411,6l0-4l2,3l3,1l1,0l1,0l42-8l1,5l1-10l0,2l3-4l-955,16l3,4l5,7l0-4l896-7l4,0l8,13l5-6l4,0l2-2l1,1l4-1l3,3l4-7l1,2l1-2l2,1l-864,25" marker-start="url(#kr48)" marker-mid="url(#kr48)" marker-end="url(#kr48)"/><path d="M743,1655l0,0" marker-start="url(#ko63)" marker-mid="url(#ko63)" marker-end="url(#ko63)"/><path d="M701,1564l6-7l35-2l9,11l2-2l-120,16l4-12l10,6l6,2l3,2l24,5l13-14l10-1l26,14l4-6l2,1l30,3l77-3l-199,19l8-4l3,4l17-8l7,9l2-4l3,2l0-5l28,0l24-1l8,1l22,0l1,7l3-3l5-8l8,4l18,8l51-14l-179,21l3-5l12,9l16,1l5-2l1-1l18,3l4,1l5-10l36,1l35,3l-497,26l37-5l26-1l272,6l5-3l7,0l15-4l-344,8l3,15l1-4l3-6l10,2l14,3l12,0l2-10l2,7l12-2l239,1l-317,19l4,6l3-14l5,7l8,5l1-7l4,0l2,5l0-3l7,7l5-1l4-13l4,4l1,9l5-8l7-3l3,11l0-1l-71,17l11-3l0-2l10-9l5,6l8,2l4-7l1,9l6,2l2-6l1,3l5-7l2,3l1,8l0-5l2-4l2,2l0,1l9-6l0,2l-61,20l26-7l11,9" marker-start="url(#kg48)" marker-mid="url(#kg48)" marker-end="url(#kg48)"/><path d="M220,1648l974,390" marker-start="url(#kr59)" marker-mid="url(#kr59)" marker-end="url(#kr59)"/><path d="M1130,1541l-268,19l13,1l332-8l-29,60" marker-start="url(#kr57)" marker-mid="url(#kr57)" marker-end="url(#kr57)"/><path d="M818,1606l-122,24l30,5l-88,24l5-6l6,2l513,6l7-4l-23,13l18-2l1-1" marker-start="url(#kr74)" marker-mid="url(#kr74)" marker-end="url(#kr74)"/><path d="M714,1556l4-3l5-1" marker-start="url(#kg60)" marker-mid="url(#kg60)" marker-end="url(#kg60)"/><path d="M706,1601l4,16" marker-start="url(#kb96)" marker-mid="url(#kb96)" marker-end="url(#kb96)"/><path d="M675,1599l19-11l2,2l98,1l-110,10l14,1l31,10l36-3l-375,31l-66,15l325-2l-341,42" marker-start="url(#kl58)" marker-mid="url(#kl58)" marker-end="url(#kl58)"/><path d="M747,1553l464,303l-10,146" marker-start="url(#kg59)" marker-mid="url(#kg59)" marker-end="url(#kg59)"/><path d="M223,1667l62,9l312,24" marker-start="url(#kr63)" marker-mid="url(#kr63)" marker-end="url(#kr63)"/><path d="M1171,1632l-35,39l5,0l3,1" marker-start="url(#kr96)" marker-mid="url(#kr96)" marker-end="url(#kr96)"/><path d="M737,1557l229,14l-267,18" marker-start="url(#kg96)" marker-mid="url(#kg96)" marker-end="url(#kg96)"/><path d="M739,1597l-75,10l35-1l117,7l-153,13l17-3l25,6l16-3l10-9l7,4l8,9l54-13l372,12l-540,18l96-10l7-3l92,0l3,2l8,10l339-14l-58,21l0,2l0,3l4,9l9,13" marker-start="url(#kb48)" marker-mid="url(#kb48)" marker-end="url(#kb48)"/><path d="M1138,1631l0,0" marker-start="url(#kb57)" marker-mid="url(#kb57)" marker-end="url(#kb57)"/><path d="M740,1567l-116,15l10-6l168,5l14,2l-156,9l64-8l1,0l86,12l-116,8l19,4l-387,21l51,1l286-4l115-8l-440,29l56-8l262,7l-326,14l9,2l1-9l-19,18l13-5l1,6l5,0l21,4l3,3l-39,14l13-4" marker-start="url(#kg58)" marker-mid="url(#kg58)" marker-end="url(#kg58)"/><path d="M806,1599l-74,16l13,13l-88,12l7-3l-440,36l925-1" marker-start="url(#ko74)" marker-mid="url(#ko74)" marker-end="url(#ko74)"/><path d="M709,1642l0,0" marker-start="url(#ko81)" marker-mid="url(#ko81)" marker-end="url(#ko81)"/><path d="M794,1571l0,0" marker-start="url(#kg81)" marker-mid="url(#kg81)" marker-end="url(#kg81)"/><path d="M744,1640l15-1" marker-start="url(#kb96)" marker-mid="url(#kb96)" marker-end="url(#kb96)"/><path d="M304,1613l0,0" marker-start="url(#kl63)" marker-mid="url(#kl63)" marker-end="url(#kl63)"/><path d="M302,1598l0,0" marker-start="url(#kr81)" marker-mid="url(#kr81)" marker-end="url(#kr81)"/><path d="M272,1592l-33,88l840,308" marker-start="url(#kr54)" marker-mid="url(#kr54)" marker-end="url(#kr54)"/><path d="M322,1627l440-11l-118,25l22-3l36-1l53,3l57-6l-476,15l366,6l4,4l415,0l47,0l-945,12l80,8l816-11l1,2l1-1l24,5l1,2l8-8l-855,26l836-9" marker-start="url(#ko48)" marker-mid="url(#ko48)" marker-end="url(#ko48)"/><path d="M745,1583l77-1l12,1l-34,4l0,28l-439,12l330-9l48,16l-399,25" marker-start="url(#ky74)" marker-mid="url(#ky74)" marker-end="url(#ky74)"/><path d="M967,1565l-279,18l169-9l117,4l23-4l-350,15l6,2l3,2l23-2l13-1l126,6l-80,6l77-1l-12,25l26,2l336,2l7-2l-816,17l280-8l4,6l4-3l2,3l2-10l61,1l50,2l411,9l1,0l-960,13l411-7l13-1l-415,24l900-9l0,6l3-3l11,9l15-8l4,0l3-2l0,2l8-3l2,2l-937,13l96,11l806-10" marker-start="url(#kr48)" marker-mid="url(#kr48)" marker-end="url(#kr48)"/><path d="M284,1683l0,0" marker-start="url(#kr59)" marker-mid="url(#kr59)" marker-end="url(#kr59)"/><path d="M703,1563l-63,10l50,9l87-7l17,7l14-2l8,3l-190,1l50,14l17-5l15-1l1-5l20,11l1-7l72-6l6,10l-167,11l50-4l4,1l27,12l19-8l44,6l21-1l-433,19l294-9l4-5l1,3l7,5l-289,13l2-2l235-1l-271,17l12,8l-10,31l3,11" marker-start="url(#kl48)" marker-mid="url(#kl48)" marker-end="url(#kl48)"/><path d="M822,1570l-194,66l4,8l5-7l-425,20l414-8l10,12l1-7l487,7l41,1l4-3l-945,15l928-7l0,2l17-5" marker-start="url(#kr74)" marker-mid="url(#kr74)" marker-end="url(#kr74)"/><path d="M742,1559l2,4l8-7l1,5l-117,21l5-13l59,1l3,7l5,6l27-5l13,3l7-3l13-1l9-4l1,10l187-9l-345,16l24-3l19,4l14,8l3,0l4-13l1-1l7,13l6-8l1-5l1,5l15,7l36-5l21,3l18-8l-144,24l11-1l6-10l12,13l22-13l3,2l9,0l2,13l6-10l5,9l6,1l6-10l-425,22l41-2l1,1l300-3l4,8l-348,16l18-9l1,5l4,4l4-10l10-1l2,0l43,1l237,9l8-6l1,5l-321,14l9-9l9,12l12,0l1-1l2,0l6-8l2,4l3-1l3-5l6,0l0,2l-55,18l2,5l2-7l17-4l3,8l17-5l1-3l4,7l5-2l8-5l5,1l-64,18l14-2l36,2" marker-start="url(#kg48)" marker-mid="url(#kg48)" marker-end="url(#kg48)"/><path d="M716,1551l-1,1l5,0l1,0l2,1" marker-start="url(#kg60)" marker-mid="url(#kg60)" marker-end="url(#kg60)"/><path d="M857,1566l-117,11l12,3l-28,9l27-4l69,5l-116,12l19,9l64-11l-1,19l-51,21l0-3" marker-start="url(#ky58)" marker-mid="url(#ky58)" marker-end="url(#ky58)"/><path d="M863,1558l94,13l-264,55l28-4l8-4l101,10l343-1l-522,5l6,8l-30,16l11,7l12-6l471,1l8,2l30,3l9-4l-941,14l77,5l837-2l2,0l11-4l10-7l3-1l1,1" marker-start="url(#kr58)" marker-mid="url(#kr58)" marker-end="url(#kr58)"/><path d="M802,1554l-441,77" marker-start="url(#kg54)" marker-mid="url(#kg54)" marker-end="url(#kg54)"/><path d="M824,1614l-62,4l47,4l-181,14l82,5l-491,19l950-2l1,0l1,1l1-8l-870,27l815-7l5-3l33,2l-22,11" marker-start="url(#ko58)" marker-mid="url(#ko58)" marker-end="url(#ko58)"/><path d="M736,1646l436-2l-536,15" marker-start="url(#ko96)" marker-mid="url(#ko96)" marker-end="url(#ko96)"/><path d="M1080,1986l0,0" marker-start="url(#kr86)" marker-mid="url(#kr86)" marker-end="url(#kr86)"/><path d="M1192,1867l-3,48" marker-start="url(#ky59)" marker-mid="url(#ky59)" marker-end="url(#ky59)"/><path d="M298,1711l0,0" marker-start="url(#kr72)" marker-mid="url(#kr72)" marker-end="url(#kr72)"/><path d="M248,1629l0,0" marker-start="url(#kg63)" marker-mid="url(#kg63)" marker-end="url(#kg63)"/><path d="M709,1587l0,54" marker-start="url(#ky96)" marker-mid="url(#ky96)" marker-end="url(#ky96)"/><path d="M978,1506l-120,83" marker-start="url(#ko57)" marker-mid="url(#ko57)" marker-end="url(#ko57)"/><path d="M811,1559l-68,24l2-5l21,5l21-2l12-3l34-2l20,4l114-7l-246,24l0-7l1,7l1-3l6-5l5,0l20,3l46,6l55-8l-210,15l33-2l15,6l5,5l18-13l29,11l9,2l5-6l1-1l8-5l1,2l49,9l-459,10l3,3l332-3l33,7l-100,11l0-2l128,2l-409,14l22-7l4,23l-61,22l28-8" marker-start="url(#ky48)" marker-mid="url(#ky48)" marker-end="url(#ky48)"/><path d="M961,1566l-255,61l23,19l5-5l14,1l65-5l309,22l0,1" marker-start="url(#kb58)" marker-mid="url(#kb58)" marker-end="url(#kb58)"/><path d="M1187,1852l-10,16" marker-start="url(#kg56)" marker-mid="url(#kg56)" marker-end="url(#kg56)"/><path d="M367,1628l335,8" marker-start="url(#kl81)" marker-mid="url(#kl81)" marker-end="url(#kl81)"/><path d="M1187,1866l1,0l1-1l1-4" marker-start="url(#kg52)" marker-mid="url(#kg52)" marker-end="url(#kg52)"/><path d="M397,1613l40,3l770,382" marker-start="url(#kl54)" marker-mid="url(#kl54)" marker-end="url(#kl54)"/><path d="M925,1574l115,12" marker-start="url(#kr57)" marker-mid="url(#kr57)" marker-end="url(#kr57)"/><path d="M704,1564l-59,11l50,2l-23,32l96-3l-377,25l-34,36l-29,13" marker-start="url(#kg74)" marker-mid="url(#kg74)" marker-end="url(#kg74)"/><path d="M906,1559l0,0" marker-start="url(#ky57)" marker-mid="url(#ky57)" marker-end="url(#ky57)"/><path d="M679,1615l118-3l-56,4l-10,25l402,43" marker-start="url(#kb74)" marker-mid="url(#kb74)" marker-end="url(#kb74)"/><path d="M341,1640l-1,20l25-4l-10,29" marker-start="url(#kl74)" marker-mid="url(#kl74)" marker-end="url(#kl74)"/><path d="M1240,1879l0,0" marker-start="url(#kg61)" marker-mid="url(#kg61)" marker-end="url(#kg61)"/><path d="M597,1701l0,0" marker-start="url(#kb45)" marker-mid="url(#kb45)" marker-end="url(#kb45)"/><path d="M388,1619l-34,15l11,74" marker-start="url(#kl72)" marker-mid="url(#kl72)" marker-end="url(#kl72)"/><path d="M1209,1995l-23,19" marker-start="url(#kr72)" marker-mid="url(#kr72)" marker-end="url(#kr72)"/><path d="M708,1578l-17,35l479,21l-52,22l50-2l-34,25l-806,14" marker-start="url(#kb58)" marker-mid="url(#kb58)" marker-end="url(#kb58)"/><path d="M273,1643l28,60" marker-start="url(#kl63)" marker-mid="url(#kl63)" marker-end="url(#kl63)"/><path d="M1203,1861l0,0" marker-start="url(#kg59)" marker-mid="url(#kg59)" marker-end="url(#kg59)"/><path d="M396,1637l-122,14" marker-start="url(#kr63)" marker-mid="url(#kr63)" marker-end="url(#kr63)"/><path d="M779,1584l44,7l-85,12l-71,13l-20,24l-282,21l-7,41" marker-start="url(#kl58)" marker-mid="url(#kl58)" marker-end="url(#kl58)"/><path d="M743,1596l-83,44l48-5l-483,42l909-2l31-7" marker-start="url(#kr96)" marker-mid="url(#kr96)" marker-end="url(#kr96)"/><path d="M280,1626l21,86" marker-start="url(#kr59)" marker-mid="url(#kr59)" marker-end="url(#kr59)"/><path d="M675,1607l0,0" marker-start="url(#kg96)" marker-mid="url(#kg96)" marker-end="url(#kg96)"/><path d="M713,1583l-26,32l2-5l3-7l6,8l-10,5l54,9l-33,12l4,2l19-6l2,8l7-2l73-3l-192,16l2-2l496,6l0,2l1,0l7,3l-8,3" marker-start="url(#kb48)" marker-mid="url(#kb48)" marker-end="url(#kb48)"/><path d="M635,1661l484-1l15,18" marker-start="url(#ko96)" marker-mid="url(#ko96)" marker-end="url(#ko96)"/><path d="M837,1560l-14,31l24,3l-41,7l-175,28l3,1l16,1l154,0l-115,11l-41,8l1,11l476,2l40-1l-420,5l374,0l2,1l5-4l5,14l13-3l0,2l11-9l0,4l-859,22" marker-start="url(#ko48)" marker-mid="url(#ko48)" marker-end="url(#ko48)"/><path d="M274,1647l0,0" marker-start="url(#kr95)" marker-mid="url(#kr95)" marker-end="url(#kr95)"/><path d="M649,1647l5,8l515,2l-20,14l17-4" marker-start="url(#ko74)" marker-mid="url(#ko74)" marker-end="url(#ko74)"/><path d="M209,1619l0,0" marker-start="url(#kl86)" marker-mid="url(#kl86)" marker-end="url(#kl86)"/><path d="M637,1565l104-7l2,6l-41,5l25,12l19-4l22,1l38-5l-164,16l1,0l5,7l9-1l17,4l35-15l50,10l7,1l21-11l-91,25l10,0l1-2l4-3l11,4l73-5l4,1l20-1l-504,27l32-3l319,2l10-8l6,10l61-6l18-1l-410,19l40-8l234,0l-276,20l1,7l6-12l22,0l-40,15l4,10l14-9l6,12l0-8l-61,19l22,3l33-10l0,20l1-3l4,6l1-7" marker-start="url(#kl48)" marker-mid="url(#kl48)" marker-end="url(#kl48)"/><path d="M1140,1630l0,0" marker-start="url(#kb57)" marker-mid="url(#kb57)" marker-end="url(#kb57)"/><path d="M734,1563l-92,6l49,12l4-12l7,4l1-2l29,11l-50,12l52-7l-71,25l-315,17l-18,16l27-4l35,0l-84,20l31-13l5,1l4,0l10,5l10-5l276,11l9-5l-315,19l22,12" marker-start="url(#kg58)" marker-mid="url(#kg58)" marker-end="url(#kg58)"/><path d="M698,1583l-4,21l56,20" marker-start="url(#ky74)" marker-mid="url(#ky74)" marker-end="url(#ky74)"/><path d="M805,1529l-598,76" marker-start="url(#kg63)" marker-mid="url(#kg63)" marker-end="url(#kg63)"/><path d="M1236,1583l0,0" marker-start="url(#kg57)" marker-mid="url(#kg57)" marker-end="url(#kg57)"/><path d="M727,1580l-54,44l-360,17l14,12l15-2l-39,28l38-7l4,0l-29,16" marker-start="url(#kg74)" marker-mid="url(#kg74)" marker-end="url(#kg74)"/><path d="M1168,1668l0,0" marker-start="url(#kg81)" marker-mid="url(#kg81)" marker-end="url(#kg81)"/><path d="M1185,1857l4,18" marker-start="url(#kg56)" marker-mid="url(#kg56)" marker-end="url(#kg56)"/><path d="M1210,1991l0,0" marker-start="url(#kl68)" marker-mid="url(#kl68)" marker-end="url(#kl68)"/><path d="M1295,2010l0,0" marker-start="url(#kl81)" marker-mid="url(#kl81)" marker-end="url(#kl81)"/><path d="M274,1648l0,0" marker-start="url(#kg54)" marker-mid="url(#kg54)" marker-end="url(#kg54)"/><path d="M636,1567l51,12l49,5l-43,27l137,27l-482,19l-10,8l20,40" marker-start="url(#kl74)" marker-mid="url(#kl74)" marker-end="url(#kl74)"/><path d="M1186,1860l2,8" marker-start="url(#kg52)" marker-mid="url(#kg52)" marker-end="url(#kg52)"/><path d="M247,1675l0,0" marker-start="url(#kr81)" marker-mid="url(#kr81)" marker-end="url(#kr81)"/><path d="M110,1545l310,71l859,436" marker-start="url(#kl59)" marker-mid="url(#kl59)" marker-end="url(#kl59)"/><path d="M692,1627l-311,17l249,8l3,6l2-3l12,5l490,18l7-9l7,2l8-2l10-3" marker-start="url(#kr74)" marker-mid="url(#kr74)" marker-end="url(#kr74)"/><path d="M716,1583l7,59l5,4" marker-start="url(#kb74)" marker-mid="url(#kb74)" marker-end="url(#kb74)"/><path d="M866,1563l-227,14l1-8l11,4l32,8l11-13l4,13l1-1l34-2l22-2l47,0l51,3l116-2l-348,9l5-2l1,2l14,4l8,6l4-10l0,4l18,4l17,4l11-10l7,7l0-3l31-2l6-2l6,6l-96,20l10-8l5-3l5,5l1,0l7,3l4-11l2,6l17-3l7,4l17,5l12-8l7,5l73,2l-475,14l337-5l1,0l4-2l-372,25l4-3l6,4l10,1l14-1l4-10l9,3l8,0l1,6l1,3l3-8l8,6l426-1l29-1l-523,21l3-4l11,0l2-8l2-2l6,4l1-2l11,11l0-1l2-1l1-11l1,3l3,5l2-3l1,7l3-12l4,14l-56,13l13-4l27-2l6-4l1,8l0-10l1,7l2,2l2-7l7,0l-61,26l5-7l25,3l14-4l-23,13" marker-start="url(#kg48)" marker-mid="url(#kg48)" marker-end="url(#kg48)"/><path d="M909,1567l0,0" marker-start="url(#ky57)" marker-mid="url(#ky57)" marker-end="url(#ky57)"/><path d="M690,1636l0,0" marker-start="url(#kb96)" marker-mid="url(#kb96)" marker-end="url(#kb96)"/><path d="M803,1567l-78,14l13-7l6,6l53-8l26,5l-155,19l4,0l6,2l22-1l7-13l1,4l3,5l23,4l11-2l7,4l14-2l3-1l0-4l0,3l54-3l28-1l-209,14l24,8l37-1l7-2l23,4l14,0l23-10l7,6l6-9l9,12l5-10l-144,21l68-8l11,0l79,0l-479,31l2-15l11,12l411-10l70,0l-494,19l5,0l19-5l11,4l284,0l-320,15l6,12l26-14l-56,19l11,3" marker-start="url(#ky48)" marker-mid="url(#ky48)" marker-end="url(#ky48)"/><path d="M722,1630l1-2l4-6l-97,14l6-4l6,8l101,1l-91,10l467,7l42,2l8,2" marker-start="url(#ko58)" marker-mid="url(#ko58)" marker-end="url(#ko58)"/><path d="M630,1580l106,2l239-7l-284,14l52,18l3,10l427,8l-528,21l86-8l-394,14l288-4l8,11l532,4l-939,14l2-2l907,0l11-6l2,3" marker-start="url(#kr58)" marker-mid="url(#kr58)" marker-end="url(#kr58)"/><path d="M854,1567l-97,15l97-10l140,0l-353,24l7-1l5-3l1-1l7,0l60-4l24,10l6,17l12-10l44,8l-155,16l7,2l21-7l50,6l6-11l440,11l-551,12l9-2l1,0l5-2l3,7l65-10l21-2l29,13l59-12l353,9l-960,16l1-5l1,4l0-7l1,0l2,10l4-1l422,3l5-2l473-5l3,1l0,6l46,0l3-8l2-2l-944,23l3-1l896-8l7,8l8-2l2,3l1,1l10-6l1-1l2-3l-860,32" marker-start="url(#kr48)" marker-mid="url(#kr48)" marker-end="url(#kr48)"/><path d="M888,1545l0,0" marker-start="url(#ko57)" marker-mid="url(#ko57)" marker-end="url(#ko57)"/><path d="M713,1579l2,2l88-13l-124,27l2-9l100,9l-109,7l-3,20l6-6l-313,27l8,2l-11,29" marker-start="url(#ky58)" marker-mid="url(#ky58)" marker-end="url(#ky58)"/><path d="M720,1555l2-1l2-2" marker-start="url(#kg60)" marker-mid="url(#kg60)" marker-end="url(#kg60)"/><path d="M896,1564l-15,9l168,16" marker-start="url(#kr57)" marker-mid="url(#kr57)" marker-end="url(#kr57)"/><path d="M643,1567l3-3l2-1l45,4l-45,9l1,0l11,7l17-2l1,2l14-5l44,4l7-13l109,0l108,1l-290,27l2-5l10,2l4,3l23-7l3,4l45,1l0-8l42,1l22,8l-492,13l328,1l10-10l11,9l2-8l25,0l24,2l94,5l-471,18l9,1l299,2l13-13l5,15l83-15l-448,29l13-11l6,7l8,4l8-13l0,13l2,2l14-7l23-2l1-2l5-4l6,5l434,3l-524,17l9-3l7,3l2,1l1-8l4,2l9-1l0-1l1,1l1,8l2,0l6-5l2-5l3,6l1-1l3-6l6,9l0-1l1,3l11-4l-69,24l1-1l13-10l34,6l2,1l2-8l10,2l-50,21l27-3l2-6" marker-start="url(#kg48)" marker-mid="url(#kg48)" marker-end="url(#kg48)"/><path d="M248,1676l0,0" marker-start="url(#ko59)" marker-mid="url(#ko59)" marker-end="url(#ko59)"/><path d="M710,1596l3,43l-338,10l-30,18l15,6l-50,20l3-2" marker-start="url(#kl58)" marker-mid="url(#kl58)" marker-end="url(#kl58)"/><path d="M725,1620l25-3l3,7l-15,11l381,23l1-1" marker-start="url(#kb58)" marker-mid="url(#kb58)" marker-end="url(#kb58)"/><path d="M208,1601l0,0" marker-start="url(#kr81)" marker-mid="url(#kr81)" marker-end="url(#kr81)"/><path d="M638,1567l140-5l7,5l16-2l52,0l-12,5l2,0l-194,17l7,5l1-6l61,4l71-4l-113,15l34,7l-81,21l72-2l50,1l61,3l20-13l344,13l-866,11l330,1l49,1l43-6l7,4l73-9l359,13l-536,14l2-5l3,2l5-8l71,1l405,8l2,3l40,2l5-8l1,0l0-7l-944,29l3-2l0,1l3,2l83-12l805,2l0,3l20,0l4,1l4,0l1-4l1,1l6-2l6-2l4,2l1-2l0,2l3-1l1,0l-853,21l8,5l5,0l-33,4" marker-start="url(#kr48)" marker-mid="url(#kr48)" marker-end="url(#kr48)"/><path d="M767,1551l0,0" marker-start="url(#kr72)" marker-mid="url(#kr72)" marker-end="url(#kr72)"/><path d="M1155,1594l0,0" marker-start="url(#kg57)" marker-mid="url(#kg57)" marker-end="url(#kg57)"/><path d="M1184,2015l0,0" marker-start="url(#kr54)" marker-mid="url(#kr54)" marker-end="url(#kr54)"/><path d="M1215,1965l0,0" marker-start="url(#kr86)" marker-mid="url(#kr86)" marker-end="url(#kr86)"/><path d="M772,1563l28,8l-72,22l12-6l-60,16l33,12l1-8l-391,36l302-3" marker-start="url(#ky58)" marker-mid="url(#ky58)" marker-end="url(#ky58)"/><path d="M777,1508l-101,41l-312,161" marker-start="url(#kg63)" marker-mid="url(#kg63)" marker-end="url(#kg63)"/><path d="M782,1542l412,337" marker-start="url(#kg59)" marker-mid="url(#kg59)" marker-end="url(#kg59)"/><path d="M662,1609l42,2l-364,60" marker-start="url(#kl74)" marker-mid="url(#kl74)" marker-end="url(#kl74)"/><path d="M1001,1590l0,0" marker-start="url(#ko57)" marker-mid="url(#ko57)" marker-end="url(#ko57)"/><path d="M1182,1858l5,8" marker-start="url(#kg56)" marker-mid="url(#kg56)" marker-end="url(#kg56)"/><path d="M845,1570l-54,18l-39,27l79-3l-118,5l-84,29l5-14l17,4l15-3l-453,26l478-10l430,9l-897,17l0-2l912,5l25-10l-28,15l2,0" marker-start="url(#ko58)" marker-mid="url(#ko58)" marker-end="url(#ko58)"/><path d="M778,1573l69,2l4,7l121,0l-316,10l-295,33l365-1l31,4l-41,15l453,2l2,1l-959,15l415-13l495,11l51-10l-47,17l11,9l15-6l9-4l7,3l0-4" marker-start="url(#kr58)" marker-mid="url(#kr58)" marker-end="url(#kr58)"/><path d="M967,1576l-294,27l84,12l3,11l1-10l-52,21l5,3l31,2l4-6" marker-start="url(#kb74)" marker-mid="url(#kb74)" marker-end="url(#kb74)"/><path d="M936,1522l-58,44l17,6l26,0l116,15l34,1" marker-start="url(#kr57)" marker-mid="url(#kr57)" marker-end="url(#kr57)"/><path d="M817,1633l0,0" marker-start="url(#kl96)" marker-mid="url(#kl96)" marker-end="url(#kl96)"/><path d="M687,1579l155,2l117-7l0,4l-249,10l29,11l-25,3l29,2l-67,24l22-8l16,8l108-10l354,11l-546,13l62-9l16,4l-366,12l378,1l400,8l3,1l-1,5l14,14" marker-start="url(#kb48)" marker-mid="url(#kb48)" marker-end="url(#kb48)"/><path d="M738,1548l30,4l-560,70l173-2l915,394" marker-start="url(#kl63)" marker-mid="url(#kl63)" marker-end="url(#kl63)"/><path d="M761,1571l58,2l-42,28l-127,29l54-2l41-1l-119,12l4,5l22-1l7-4l57-3l-80,12l484,7l1,5l4-2l40,5l4-5l2-9l0,12l-799,6l747,3l1-1l4-5l10,15l5-5l7-7l11,4l7-4l4-2l-869,30l2-4l832-10" marker-start="url(#ko48)" marker-mid="url(#ko48)" marker-end="url(#ko48)"/><path d="M627,1578l81,4l20-2l14-1l0,3l-63,11l2,3l3,1l10,1l5-9l5,8l5-7l10,3l68-3l-133,22l19-11l30,0l1,14l77-11l2,2l-117,15l19,6l1-6l16-4l-363,18l1,2l27,3l1,0l13-4l13,5l-67,10l36-2l17,4l242-2" marker-start="url(#kl48)" marker-mid="url(#kl48)" marker-end="url(#kl48)"/><path d="M786,1580l-73,12l-49,13l117,3" marker-start="url(#ky74)" marker-mid="url(#ky74)" marker-end="url(#ky74)"/><path d="M607,1698l0,0" marker-start="url(#ko54)" marker-mid="url(#ko54)" marker-end="url(#ko54)"/><path d="M1000,1573l-293,47l14-2l12,21" marker-start="url(#kb96)" marker-mid="url(#kb96)" marker-end="url(#kb96)"/><path d="M760,1615l-4,5l-127,25l80-10l462,14l-11,20" marker-start="url(#ko74)" marker-mid="url(#ko74)" marker-end="url(#ko74)"/><path d="M600,1702l0,0" marker-start="url(#kr68)" marker-mid="url(#kr68)" marker-end="url(#kr68)"/><path d="M716,1556l2-4l0,2l3-2l1,4" marker-start="url(#kg60)" marker-mid="url(#kg60)" marker-end="url(#kg60)"/><path d="M704,1559l278,10l-284,17l32,12l-370,29l10,0l-44,16l24-4l2,39l2,1" marker-start="url(#kg74)" marker-mid="url(#kg74)" marker-end="url(#kg74)"/><path d="M1137,1629l0,0" marker-start="url(#kl57)" marker-mid="url(#kl57)" marker-end="url(#kl57)"/><path d="M840,1579l-127,26" marker-start="url(#ky96)" marker-mid="url(#ky96)" marker-end="url(#ky96)"/><path d="M719,1583l22-1l31-7l31-2l-127,21l34-5l12,2l5,8l10-1l8,0l10,1l23-3l12-9l2-2l26,1l4,5l14-2l-154,26l20-5l7-9l20,14l48-6l1,0l7-3l23,4l-183,21l71-15l4,7l79-7l20,2l21-2l-488,26l325-6l74-4l20,7l-431,24l24-3l5-2l20,0l2,14" marker-start="url(#ky48)" marker-mid="url(#ky48)" marker-end="url(#ky48)"/><path d="M621,1583l27-4l40-8l-35,39l61-9l-393,51l41,4l268-7" marker-start="url(#kg96)" marker-mid="url(#kg96)" marker-end="url(#kg96)"/><path d="M663,1615l76,23l-526,19l2,1l948,4l7-9l-952,12l10,7l925-2l16-5" marker-start="url(#kr74)" marker-mid="url(#kr74)" marker-end="url(#kr74)"/><path d="M275,1596l-47,13l33,9l-9,64l42,23l993,336" marker-start="url(#kr63)" marker-mid="url(#kr63)" marker-end="url(#kr63)"/><path d="M993,1575l-343,59l-6,14l521,15l2-1l-27,12" marker-start="url(#kr96)" marker-mid="url(#kr96)" marker-end="url(#kr96)"/><path d="M631,1581l30,2l81-11l24,5l-108,7l40,7l1,8l6-5l11,5l30-13l16-2l36,0l-132,23l0,8l19-15l-368,31l32,4l277,11l-296,10l0,1l18-6l2,1l2-4l1,3l3,10l3-12l1-1l2,9l-33,34" marker-start="url(#kg58)" marker-mid="url(#kg58)" marker-end="url(#kg58)"/><path d="M1163,2000l0,0" marker-start="url(#kr86)" marker-mid="url(#kr86)" marker-end="url(#kr86)"/><path d="M692,1582l281-8l-299,10l3,9l106-2l-81,17l10,5l116,15l-170,19l152-4l-483,26" marker-start="url(#ky58)" marker-mid="url(#ky58)" marker-end="url(#ky58)"/><path d="M876,1581l0,0" marker-start="url(#kl57)" marker-mid="url(#kl57)" marker-end="url(#kl57)"/><path d="M464,1609l0,0" marker-start="url(#kg68)" marker-mid="url(#kg68)" marker-end="url(#kg68)"/><path d="M416,1620l884,393" marker-start="url(#kg54)" marker-mid="url(#kg54)" marker-end="url(#kg54)"/><path d="M1185,1863l0,0" marker-start="url(#kg56)" marker-mid="url(#kg56)" marker-end="url(#kg56)"/><path d="M236,1664l0,0" marker-start="url(#kr65)" marker-mid="url(#kr65)" marker-end="url(#kr65)"/><path d="M248,1640l914,361" marker-start="url(#kr54)" marker-mid="url(#kr54)" marker-end="url(#kr54)"/><path d="M642,1561l7,13l24,14l39,0l-40,14l46,9l8-8l6,1l-520,51l140-2l16,10l8-2" marker-start="url(#kg74)" marker-mid="url(#kg74)" marker-end="url(#kg74)"/><path d="M773,1597l20,9l8,7l-63,3l57,7l23,5l-154,5l60,1l92-2l354,12l-504,16l42-3l419,4l40-2l-941,14l1,0l3,6l72-1l442-11l34,2l344,0l4-4l12,7l16,1l6-5l-865,27l6-3l834-5" marker-start="url(#ko48)" marker-mid="url(#ko48)" marker-end="url(#ko48)"/><path d="M636,1568l8,24l-316,23l371-11l103-1l-79,15l-373,16l382,5" marker-start="url(#kl74)" marker-mid="url(#kl74)" marker-end="url(#kl74)"/><path d="M268,1588l0,0" marker-start="url(#kr63)" marker-mid="url(#kr63)" marker-end="url(#kr63)"/><path d="M754,1564l33,3l13-6l-152,17l58-1l145-4l10-2l112,5l14-3l-338,16l5,1l24,7l95-1l23-8l35,6l138-10l-199,17l32,3l-464,20l379,4l9-1l32-11l416,11l1,4l-530,12l21-5l0,1l504,7l3-14l-959,21l0,3l1-4l1,6l153-6l261,8l490,2l1,1l47-9l2-1l-945,20l5-1l0-4l72,11l55-4l767-10l10,12l1-5l0,6l7-4l2,0l1-3l5,0l4-3l11-2l0-1l1,0l0,3l-870,26l3,2" marker-start="url(#kr48)" marker-mid="url(#kr48)" marker-end="url(#kr48)"/><path d="M727,1598l0,0" marker-start="url(#kg96)" marker-mid="url(#kg96)" marker-end="url(#kg96)"/><path d="M820,1598l-112,21l32,2l15-4l3,12l-362,3l-81,38" marker-start="url(#ky74)" marker-mid="url(#ky74)" marker-end="url(#ky74)"/><path d="M992,1568l-162,26l32-9l-54,21l367,23l1,2l-534,10l0,5l2-3l12-9l54,9l33,2l74-13l-605,26l423,5l-408,11l897-7l8,9l32-11l3,0l1,1" marker-start="url(#kr58)" marker-mid="url(#kr58)" marker-end="url(#kr58)"/><path d="M673,1608l6,2l486,19l-499,7l40,3l49-7l7,14l1-6l358,16l-791,35" marker-start="url(#kb58)" marker-mid="url(#kb58)" marker-end="url(#kb58)"/><path d="M744,1619l412,48l11,1l-939,12" marker-start="url(#kr96)" marker-mid="url(#kr96)" marker-end="url(#kr96)"/><path d="M1000,1571l-303,49" marker-start="url(#kb96)" marker-mid="url(#kb96)" marker-end="url(#kb96)"/><path d="M316,1622l-31,46l-16,16" marker-start="url(#kr72)" marker-mid="url(#kr72)" marker-end="url(#kr72)"/><path d="M268,1669l0,0" marker-start="url(#kr77)" marker-mid="url(#kr77)" marker-end="url(#kr77)"/><path d="M241,1593l0,0" marker-start="url(#kr90)" marker-mid="url(#kr90)" marker-end="url(#kr90)"/><path d="M249,1644l0,0" marker-start="url(#kl63)" marker-mid="url(#kl63)" marker-end="url(#kl63)"/><path d="M1187,1864l0,0" marker-start="url(#kg52)" marker-mid="url(#kg52)" marker-end="url(#kg52)"/><path d="M1142,1603l0,0" marker-start="url(#ky57)" marker-mid="url(#ky57)" marker-end="url(#ky57)"/><path d="M719,1551l-3,2l1,3l2-1l2,1l3,0" marker-start="url(#kg60)" marker-mid="url(#kg60)" marker-end="url(#kg60)"/><path d="M935,1545l187,51" marker-start="url(#kr57)" marker-mid="url(#kr57)" marker-end="url(#kr57)"/><path d="M1216,1961l0,0" marker-start="url(#kl59)" marker-mid="url(#kl59)" marker-end="url(#kl59)"/><path d="M740,1589l91,2l-120,15l94-2l-118,16l40,11l-40,6l0,5l55,0l83-2l296,22l-783,26l796-8" marker-start="url(#kb48)" marker-mid="url(#kb48)" marker-end="url(#kb48)"/><path d="M774,1561l-123,21l125-6l31-3l4,9l15-7l31,7l2,0l93-4l16-8l27,4l-351,22l39-9l15-2l11,4l32,6l4-9l29,2l64,5l21-2l-194,15l3-6l13,11l6-11l20,2l1,0l17,7l3-2l4,5l9-2l2,0l0,5l12-5l2-10l56,1l-133,15l22,6l41,8l4-12l61,9l-475,6l2,8l9-5l407,5l-433,19l3-6l8-2l35-4l6,15l-28,2l34,3" marker-start="url(#ky48)" marker-mid="url(#ky48)" marker-end="url(#ky48)"/><path d="M665,1622l30,8l-30,9l508,5l-542,5l2,1l537,4l-5,11l1,1l3-1" marker-start="url(#kr74)" marker-mid="url(#kr74)" marker-end="url(#kr74)"/><path d="M772,1611l-446,25l397,10l16-2l435,1l-543,13l75-2l430,18l18-6" marker-start="url(#ko58)" marker-mid="url(#ko58)" marker-end="url(#ko58)"/><path d="M242,1587l72,12l984,427" marker-start="url(#kl54)" marker-mid="url(#kl54)" marker-end="url(#kl54)"/><path d="M652,1580l66,2l-85,3l14-1l24,11l7-2l34-8l24,26l-383,15l-45,19l6-8l32-4l7,5l8,5l-72,7l33-2l6,13l9-6l1,1l13-3l-25,24l45-9l-24,12l-24,17" marker-start="url(#kg58)" marker-mid="url(#kg58)" marker-end="url(#kg58)"/><path d="M720,1626l-55,14l502,23l-392,7" marker-start="url(#ko74)" marker-mid="url(#ko74)" marker-end="url(#ko74)"/><path d="M678,1556l527,327l-13,43" marker-start="url(#kg59)" marker-mid="url(#kg59)" marker-end="url(#kg59)"/><path d="M705,1565l2,0l45-4l82,0l-205,21l14,0l1-7l2,6l0-4l1-2l6,4l33,2l1,1l13-12l2,1l37,12l0-10l0,6l11-7l215-2l-321,16l1,3l13,6l15-2l1-7l9,10l1-8l1,4l3-2l16-1l1-2l4,0l2,2l0,9l0-11l25,11l50-13l3,12l10-12l-147,24l2,4l7-7l1,3l9-5l13,3l7,0l13,5l31,0l2,0l4-9l17-1l26,2l2,5l-476,21l363-11l61-3l-412,25l2,2l29-2l8-7l30,5l432,2l-508,12l4,7l21-2l5-1l5,2l3,0l6-9l3,10l10-10l1,10l-54,13l12,6l18-14l9,12l1-13l9,1l8-1l-73,18l56,10l-3,10l1,8l2-6" marker-start="url(#kg48)" marker-mid="url(#kg48)" marker-end="url(#kg48)"/><path d="M648,1580l63,0l1,2l238-11l-302,15l38,12l-32,7l45,10l58-14l25,14l12-9l-95,12l-347,41l1,2l269-10l-313,40" marker-start="url(#kl58)" marker-mid="url(#kl58)" marker-end="url(#kl58)"/><path d="M248,1642l0,0" marker-start="url(#kr81)" marker-mid="url(#kr81)" marker-end="url(#kr81)"/><path d="M717,1626l2-10l-18,17l49,34" marker-start="url(#kb74)" marker-mid="url(#kb74)" marker-end="url(#kb74)"/><path d="M747,1557l-125,23l8-1l8-5l9,6l0-2l128,2l-145,5l16,1l3,8l25,2l47-8l32,4l30-3l-136,15l11,4l3,5l21-9l4-1l17,10l4-3l24,1l52-11l4,2l-121,14l3,10l11-2l3-1l10-1l-367,12l7,7l3-3l12,5l5-5l274,9l-315,12l31-8l287,2l-290,12l7,6l15,7l-53,15l49,9l2,1" marker-start="url(#kl48)" marker-mid="url(#kl48)" marker-end="url(#kl48)"/><path d="M211,1608l22,20" marker-start="url(#kl72)" marker-mid="url(#kl72)" marker-end="url(#kl72)"/><path d="M331,1613l0,0" marker-start="url(#kr68)" marker-mid="url(#kr68)" marker-end="url(#kr68)"/><path d="M1028,1569l-158,23" marker-start="url(#ko57)" marker-mid="url(#ko57)" marker-end="url(#ko57)"/></g>
<path d="M753.6,684V1068M844.8,684V1068M936.1,684V1068M1027.3,684V1068M1118.5,684V1068M1209.8,684V1068M1301.0,684V1068M702,739.8H1387M702,799.0H1387M702,858.2H1387M702,917.4H1387M702,976.6H1387M702,1035.8H1387" fill="none" stroke="#ebebeb" stroke-width="1.1"/>
<path d="M720.6,762.1L723.5,760.6L728.1,759.7L732.1,760.6L730.8,758.7L728.1,757.1L723.0,755.4L724.4,754.2L729.9,752.6L732.6,750.9L739.0,749.7L741.6,748.4L746.3,749.5L750.0,749.7L755.4,750.5L760.9,751.2L765.5,751.4L770.0,752.6L773.7,752.8L777.3,754.0L780.1,753.3L782.8,752.6L788.3,751.6L791.0,751.4L793.8,750.5L797.4,752.8L800.1,751.6L802.9,752.8L806.5,752.1L813.8,754.0L817.5,754.5L819.3,755.9L817.5,756.8L823.0,757.1L826.6,756.6L829.3,757.6L831.2,759.2L832.1,756.8L835.7,755.7L841.2,756.8L847.6,756.8L850.3,755.2L852.1,758.0L853.1,755.2L855.8,753.3L852.1,751.6L853.1,748.6L854.9,746.9L857.6,748.6L859.4,751.6L860.4,752.8L863.1,755.2L866.7,755.2L866.7,757.6L869.5,757.6L871.3,754.5L872.2,752.1L876.8,752.6L878.6,755.2L877.7,757.6L878.6,758.7L875.0,760.4L872.2,760.4L869.5,759.9L870.4,762.3L867.7,762.8L866.7,765.4L862.2,766.3L862.2,767.5L858.5,769.4L855.8,772.2L854.5,775.3L854.7,777.9L857.6,778.4L858.5,782.4L862.2,782.0L866.7,784.1L871.3,786.0L876.8,786.7L877.3,791.9L878.6,793.8L880.4,795.9L882.3,795.4L883.7,793.1L883.2,789.5L881.9,787.6L885.9,786.0L887.5,783.6L887.2,780.5L884.1,778.2L885.7,775.8L885.0,773.4L885.4,769.6L889.6,769.9L893.2,770.1L895.9,771.5L899.6,773.0L900.5,775.3L899.6,777.7L902.3,779.3L906.0,778.4L907.8,775.8L909.6,774.4L911.4,777.7L914.2,781.2L915.5,784.1L918.7,786.4L921.5,787.6L922.8,789.5L925.1,791.9L925.7,794.3L923.3,795.7L920.0,797.1L917.8,798.5L914.2,798.3L909.6,798.3L906.0,798.5L904.1,800.7L901.4,802.6L899.2,805.4L897.4,806.6L899.6,806.1L902.3,803.0L906.9,800.9L910.0,801.8L907.8,803.7L908.7,805.9L909.4,808.0L912.4,808.7L914.5,808.9L917.8,806.1L918.2,808.5L916.0,810.1L912.4,811.6L909.6,813.2L907.4,814.4L906.5,812.5L908.7,810.4L909.6,809.2L906.9,810.4L905.1,811.1L902.3,812.5L899.6,813.7L898.3,815.6L898.1,816.8L899.6,818.4L898.7,818.9L896.8,819.4L895.0,819.8L892.7,820.8L892.3,821.7L891.9,823.6L890.6,825.0L889.6,823.9L890.1,826.2L889.0,829.1L888.1,829.8L888.8,830.7L889.4,833.8L887.5,835.2L885.4,836.9L883.2,838.1L881.3,840.2L879.5,841.9L878.6,844.5L879.0,846.8L880.2,850.1L881.2,853.9L881.0,857.0L879.7,858.0L878.2,856.1L877.3,853.9L876.4,851.8L876.4,849.2L875.0,846.8L873.7,846.4L871.7,847.1L869.8,845.4L867.1,845.6L865.3,845.6L863.8,845.9L864.2,848.3L862.7,848.5L860.4,847.8L857.6,847.1L854.9,847.5L853.6,848.7L851.2,850.4L849.8,852.3L849.8,855.8L849.0,859.4L848.9,864.1L849.8,867.2L851.2,870.5L852.1,872.4L854.0,873.4L855.2,874.3L857.6,873.8L859.8,873.4L861.6,871.7L862.4,868.4L863.1,867.4L865.8,866.5L868.2,866.5L868.9,867.7L867.8,869.6L867.7,871.7L867.1,874.1L866.2,874.1L866.4,876.0L866.2,878.3L865.1,879.7L866.7,880.2L868.6,880.0L870.4,879.7L872.2,879.7L874.0,880.2L875.3,881.9L875.1,884.2L875.0,887.1L874.6,890.2L874.4,891.4L875.1,892.8L876.2,894.4L877.3,895.9L878.6,896.6L879.9,896.3L881.3,895.4L882.3,894.7L884.1,895.1L885.4,896.3L886.1,897.0L886.4,898.7L885.2,900.4L884.6,899.4L884.3,897.5L883.2,896.3L882.1,896.3L880.6,897.7L881.3,899.6L880.6,900.4L879.5,899.2L878.4,898.5L876.2,897.7L874.8,897.0L874.6,896.1L872.8,894.7L872.0,894.2L870.9,893.7L870.8,891.6L869.5,889.5L867.8,886.9L867.1,885.9L865.3,886.1L863.1,885.0L860.7,884.5L859.1,883.1L856.5,880.5L854.9,879.0L852.1,880.2L848.9,879.5L845.2,877.6L842.1,875.7L838.5,874.1L835.7,871.2L834.6,869.1L835.2,867.0L834.5,864.1L833.0,862.2L830.6,859.4L828.4,856.8L827.7,854.2L825.7,852.8L824.8,851.1L822.6,848.7L821.5,845.9L820.8,843.5L818.2,842.1L817.8,844.0L818.4,846.4L820.2,848.7L821.5,850.4L822.4,852.8L823.9,855.1L824.8,858.2L825.7,859.9L827.2,861.8L827.5,862.7L826.6,863.2L825.1,861.5L823.0,859.1L822.6,856.8L822.0,855.1L820.2,853.9L818.4,852.8L817.5,851.6L818.9,850.6L818.4,848.7L816.2,846.8L815.3,844.5L814.2,842.1L813.7,840.4L813.1,838.8L811.3,837.4L809.6,836.4L807.3,835.7L807.1,833.8L805.1,831.4L804.7,829.8L803.8,827.9L802.9,826.7L801.4,824.3L800.5,822.0L800.9,819.1L800.3,816.0L801.1,812.0L801.1,808.0L800.0,804.2L799.8,802.8L802.9,803.3L803.8,804.9L803.6,801.8L802.5,800.9L800.1,799.0L797.4,797.6L794.7,796.2L793.8,793.6L791.9,791.4L789.8,789.1L789.2,786.4L786.8,784.8L784.6,782.4L782.8,780.1L780.1,778.9L777.3,778.9L774.6,777.2L771.9,776.0L768.2,775.3L764.6,775.1L761.8,774.1L759.1,773.0L756.9,774.6L754.5,775.8L750.9,777.0L750.3,774.1L752.7,772.5L750.0,773.0L748.2,775.3L746.3,777.2L747.2,778.4L744.5,780.5L741.8,782.4L739.0,784.1L736.3,785.5L732.6,786.9L729.5,787.9L726.6,788.3L729.0,786.9L732.6,785.0L735.4,784.1L738.1,782.4L739.9,780.1L740.9,778.2L738.1,778.2L735.4,778.2L732.6,778.4L731.7,776.5L729.9,775.8L727.2,774.6L725.7,773.0L724.4,771.3L726.3,769.2L727.2,768.0L730.8,767.0L733.6,766.8L733.9,764.7L731.7,764.4L729.0,764.7L726.3,764.7L723.5,764.0L721.7,762.8ZM947.0,775.8L943.4,773.4L938.8,772.2L936.1,769.4L933.3,765.4L931.5,762.3L929.7,759.2L929.7,756.4L934.3,754.0L928.8,751.6L927.9,749.3L926.0,745.7L924.2,742.2L921.5,738.6L916.0,737.4L906.9,737.4L901.4,736.2L897.8,734.4L894.1,732.0L903.2,729.1L908.7,727.5L912.4,725.1L921.5,722.8L936.1,722.0L945.2,722.8L954.3,720.1L967.1,719.4L979.9,720.4L987.2,722.0L987.2,724.4L996.3,724.4L1005.4,724.4L998.1,727.2L992.6,728.0L994.5,731.5L991.7,733.9L992.6,736.2L990.8,738.6L991.7,741.0L987.2,742.6L985.3,745.7L987.2,748.1L986.2,750.5L983.5,751.6L979.9,753.3L979.9,755.2L974.4,755.9L968.9,756.8L965.3,759.9L959.8,761.6L955.2,762.8L952.5,767.0L949.8,770.6L948.8,774.1ZM908.7,771.3L909.6,768.2L906.0,768.2L902.3,766.6L906.9,764.0L910.5,763.0L913.3,761.1L915.1,759.5L910.5,756.4L903.2,751.6L896.8,748.1L890.5,745.7L885.0,743.8L879.5,742.9L872.2,742.6L864.9,743.4L863.1,746.9L864.9,749.3L866.7,750.5L871.3,751.2L877.7,751.6L881.3,752.4L885.0,754.0L888.6,754.5L891.4,755.7L894.1,757.6L893.2,759.9L892.3,762.3L886.8,762.8L885.0,764.7L887.7,765.4L892.3,764.7L895.0,766.3L897.8,768.5L902.3,769.9L906.9,770.8ZM812.0,748.6L815.7,744.1L823.0,745.0L830.3,744.1L835.7,745.0L841.2,748.1L843.0,752.4L837.6,754.2L830.3,754.7L821.1,755.0L814.7,753.5L812.9,750.5ZM799.2,747.4L802.0,743.4L806.5,741.0L815.7,742.6L812.0,745.7L806.5,748.6L802.0,749.0ZM813.8,739.1L821.1,737.0L830.3,736.0L834.8,738.6L830.3,740.0L821.1,741.0L815.7,739.8ZM841.2,742.6L846.7,742.2L850.3,744.5L849.4,747.6L844.8,747.6L840.3,745.0ZM853.1,742.2L861.3,742.2L862.2,744.5L857.6,746.9L853.1,745.7ZM859.4,740.7L852.1,738.6L854.0,735.5L863.1,736.2L872.2,736.7L880.4,738.1L881.3,740.5L874.0,741.0L866.7,741.0ZM864.9,736.2L868.6,733.9L866.7,731.5L870.4,729.1L868.6,726.8L861.3,724.4L866.7,722.8L881.3,720.9L899.6,720.6L914.2,722.0L910.5,724.4L903.2,726.1L897.8,728.4L890.5,730.3L886.8,732.7L885.0,735.1L881.3,736.7L872.2,736.2ZM852.1,728.0L857.6,725.1L866.7,726.8L868.6,729.9L861.3,732.0L855.8,730.3ZM843.0,736.2L848.5,736.0L850.3,739.1L844.8,739.8ZM835.7,730.3L844.8,730.3L846.7,732.7L839.4,733.6L835.7,732.0ZM804.7,735.1L813.8,734.4L816.6,736.7L810.2,737.9L804.7,737.0ZM846.7,752.8L851.2,752.1L853.1,754.5L849.4,755.2L846.7,754.0ZM868.6,761.8L871.3,761.1L874.0,762.5L877.7,764.2L880.4,766.3L876.8,767.5L872.2,767.7L868.6,766.6L870.4,764.7ZM919.1,804.4L920.6,802.6L921.5,800.2L923.3,797.1L925.7,795.2L926.0,797.8L925.1,799.5L927.9,800.2L929.7,801.4L930.6,802.6L931.1,804.7L930.2,806.8L927.9,806.3L926.0,806.1L924.2,805.6L921.5,804.7ZM909.6,799.2L914.2,800.4L914.5,801.1L910.5,800.2ZM910.0,806.6L914.2,807.3L913.3,808.5L910.5,807.8ZM793.0,797.1L794.7,796.9L798.3,798.5L801.1,800.7L802.3,802.6L800.1,802.6L797.8,801.4L795.6,799.5ZM784.6,789.1L787.0,789.5L787.9,793.6L785.6,791.9ZM745.4,781.0L749.1,780.1L749.4,781.7L746.3,782.9ZM714.0,766.6L719.0,767.5L718.0,768.2L714.4,767.5ZM722.2,774.8L724.8,774.6L724.8,775.8L722.6,775.8ZM726.3,787.4L729.0,787.2L729.0,788.3L726.3,788.6ZM720.8,790.5L723.9,789.5L723.9,790.7L720.8,791.4ZM717.1,792.1L719.3,791.2L719.3,792.4ZM708.0,793.6L710.7,793.3L710.7,794.3L708.0,794.3ZM702.5,794.5L705.3,794.3L705.3,795.2L702.5,795.2ZM872.4,865.5L874.0,863.6L876.8,862.7L880.4,862.7L883.2,864.1L885.9,865.8L888.6,867.2L890.5,868.4L891.9,869.6L890.5,870.3L885.9,870.3L885.4,868.4L884.1,866.5L881.3,866.0L878.6,864.8L876.8,863.9L875.0,864.8ZM891.4,873.8L893.2,870.5L895.0,870.3L896.8,870.3L899.6,870.8L900.9,871.7L902.5,873.4L901.4,873.8L898.7,874.1L896.8,875.5L895.0,874.3L892.7,874.5ZM884.3,874.1L886.8,873.6L888.3,874.8L886.4,875.2ZM904.7,873.6L907.6,873.8L907.2,874.9L904.7,874.9ZM914.4,891.8L916.2,891.8L916.0,893.5L914.4,893.5ZM884.4,854.2L886.4,854.4L886.4,855.4L884.4,854.9ZM884.6,858.2L885.7,858.4L885.5,860.6L884.6,859.9ZM886.1,897.0L887.2,896.6L888.6,895.1L889.6,892.5L890.8,891.1L893.2,890.6L895.0,889.5L896.8,888.0L897.2,889.5L896.3,891.4L897.2,891.8L899.2,889.9L899.6,888.5L900.5,890.2L902.3,890.9L903.2,892.3L906.0,892.3L908.7,893.2L910.5,892.3L913.3,892.1L914.2,893.7L916.0,894.9L916.9,897.0L918.7,898.0L920.6,900.8L922.4,902.7L925.1,903.4L927.9,903.7L930.6,904.4L932.4,906.0L933.3,907.2L934.3,910.3L936.1,913.1L936.1,916.2L935.2,917.4L937.0,917.9L938.8,918.1L939.7,919.1L941.5,919.1L944.3,920.5L946.1,922.6L947.9,923.3L950.7,924.0L953.4,924.3L956.1,925.7L958.0,927.3L959.8,928.8L962.5,929.7L963.4,932.8L963.8,935.2L963.4,938.7L961.6,941.6L959.8,944.2L958.3,947.0L956.5,948.7L956.1,952.4L956.1,956.5L955.8,959.6L954.7,963.6L953.4,967.1L952.5,969.5L950.7,971.6L947.9,971.9L945.6,972.6L942.8,974.2L940.1,976.6L938.8,979.0L938.6,982.5L937.9,985.6L936.1,988.0L934.3,990.8L932.1,993.6L929.7,997.4L927.9,999.6L925.5,999.8L923.3,999.1L920.7,997.9L922.9,1001.5L923.3,1003.4L922.4,1006.9L920.6,1008.6L917.8,1009.5L914.2,1009.5L913.6,1013.3L911.4,1015.0L908.7,1014.5L908.7,1017.6L910.5,1018.8L908.3,1020.4L907.8,1024.0L905.1,1025.1L904.1,1027.5L906.9,1029.9L906.9,1031.5L904.1,1034.6L902.3,1036.5L901.4,1039.4L902.5,1041.2L900.5,1041.7L897.8,1044.8L895.9,1044.1L893.2,1042.4L891.4,1040.5L890.5,1037.0L889.6,1032.2L891.4,1028.7L889.6,1027.5L891.4,1024.0L893.2,1021.6L894.1,1016.9L892.7,1014.5L893.2,1010.9L893.2,1006.2L894.5,1002.6L895.9,997.9L896.8,994.4L896.8,988.4L897.2,984.9L898.1,981.3L898.7,976.6L899.0,971.9L899.4,967.1L899.0,961.2L896.8,958.8L894.1,956.5L890.5,954.1L888.1,950.6L887.7,948.2L886.4,945.8L885.0,942.3L883.5,938.2L881.7,934.4L879.9,932.1L879.2,929.7L879.0,927.6L880.8,925.5L881.7,923.8L879.7,922.6L879.9,919.8L881.0,917.4L881.3,915.5L883.2,914.6L883.5,913.1L885.0,911.5L885.9,909.1L886.3,906.7L885.9,904.4L886.1,902.0L885.2,900.4L886.4,898.7ZM902.1,1042.0L899.6,1042.9L898.7,1045.3L895.9,1046.5L899.6,1048.1L903.2,1048.8L906.0,1048.1L908.3,1046.9L906.0,1046.0L904.1,1044.8L902.9,1042.9ZM916.0,1040.1L919.7,1038.9L921.8,1039.6L919.7,1041.2L916.9,1041.0ZM891.9,1016.6L893.2,1016.9L893.0,1020.2L891.6,1019.7ZM1016.5,832.6L1017.6,832.4L1020.0,834.0L1022.0,833.8L1023.7,834.3L1025.5,832.9L1027.3,832.4L1030.0,831.0L1032.8,830.3L1036.4,830.3L1040.1,829.8L1043.7,829.3L1045.5,829.1L1047.4,829.8L1046.5,831.4L1047.0,833.3L1047.4,835.7L1045.5,836.2L1046.5,837.8L1048.3,839.0L1051.0,839.5L1054.7,840.7L1055.6,842.8L1059.2,844.2L1062.0,845.6L1063.8,844.0L1063.8,840.9L1066.5,839.5L1069.3,840.2L1072.9,842.6L1076.6,843.3L1080.2,844.2L1082.9,843.0L1085.7,843.0L1086.8,843.8L1089.7,843.3L1091.0,847.5L1090.1,851.1L1089.7,851.6L1088.4,850.4L1087.5,848.7L1086.8,846.6L1086.4,847.5L1087.1,849.9L1088.4,851.8L1089.3,854.2L1090.2,856.3L1091.7,859.4L1092.4,861.8L1093.9,864.1L1094.8,866.5L1095.4,870.0L1095.5,872.9L1097.5,874.8L1098.5,878.3L1099.7,881.4L1102.1,883.1L1103.9,885.4L1106.1,887.8L1106.3,889.7L1108.5,892.5L1111.2,891.8L1114.9,890.9L1117.6,890.4L1120.3,889.2L1120.9,891.4L1120.0,895.4L1118.5,898.5L1117.2,902.0L1115.4,905.6L1113.4,908.4L1111.2,911.5L1109.4,913.1L1106.7,916.2L1104.5,919.3L1103.0,921.7L1101.7,923.3L1100.6,924.5L1099.7,926.9L1098.8,929.2L1098.1,932.1L1099.4,934.0L1099.0,937.1L1099.7,940.6L1101.2,942.7L1101.2,947.0L1101.4,951.7L1101.2,954.1L1099.9,956.5L1097.5,958.4L1094.8,960.0L1093.5,962.2L1091.2,964.3L1090.6,966.4L1091.7,968.8L1092.1,971.9L1091.9,974.7L1090.2,976.1L1087.5,977.8L1087.1,979.7L1087.3,982.5L1086.2,985.4L1084.2,987.7L1082.6,990.8L1080.8,993.2L1078.8,995.3L1076.6,997.0L1074.2,997.9L1071.1,998.1L1068.4,998.1L1065.6,998.9L1063.8,999.8L1061.6,998.9L1060.9,997.9L1060.5,995.1L1060.7,992.7L1058.9,989.6L1058.0,986.1L1056.5,983.7L1055.0,981.3L1054.5,977.8L1053.8,974.2L1053.8,970.7L1052.5,967.1L1050.7,963.6L1048.8,960.0L1048.6,956.5L1049.6,952.9L1050.7,949.4L1052.1,946.5L1052.5,943.4L1051.4,939.9L1050.7,936.3L1049.7,932.1L1049.6,931.1L1048.8,928.8L1047.4,926.4L1045.2,923.3L1043.7,920.5L1043.4,919.1L1044.3,916.7L1044.8,914.6L1045.2,911.5L1045.0,909.3L1044.6,907.9L1043.4,906.5L1042.4,906.7L1040.4,907.0L1038.2,907.2L1037.0,905.1L1035.5,902.7L1033.5,902.2L1030.9,902.5L1029.1,903.4L1027.3,904.1L1025.5,905.1L1023.7,906.0L1021.8,905.3L1020.0,905.1L1017.3,905.3L1013.6,907.0L1010.9,905.6L1008.1,902.5L1006.3,901.1L1004.5,899.6L1003.2,897.3L1002.7,894.9L1000.8,892.5L999.9,891.4L998.1,889.5L996.8,888.0L996.6,885.9L995.4,882.6L996.8,880.0L997.4,877.1L997.9,873.6L997.2,871.5L997.6,868.9L996.3,867.7L996.5,865.3L997.7,861.8L999.0,859.4L1000.3,856.3L1001.0,855.1L1002.7,853.0L1003.8,851.3L1006.3,849.9L1008.7,848.0L1009.6,845.6L1009.4,843.0L1010.3,840.4L1011.8,838.5L1014.0,837.4L1015.3,836.2L1016.0,834.0ZM1117.2,945.8L1118.9,950.6L1119.4,954.1L1118.2,956.5L1117.6,960.0L1116.7,963.6L1115.8,967.1L1114.5,971.9L1113.4,976.1L1110.3,977.8L1107.9,976.6L1106.7,973.0L1106.3,969.5L1107.9,965.9L1108.1,962.4L1107.6,958.8L1108.5,955.8L1111.2,954.6L1113.4,952.9L1114.9,950.1L1116.3,947.7ZM996.5,850.1L997.9,849.7L997.4,851.1ZM998.5,850.9L999.2,850.9L999.2,851.8L998.5,851.6ZM1000.8,849.4L1002.1,849.2L1001.9,850.9L1001.0,850.9ZM1124.5,887.3L1126.7,887.6L1126.6,888.3L1124.7,888.3ZM1106.1,944.4L1106.7,944.4L1106.7,945.6L1106.1,945.6ZM1128.0,966.9L1129.1,966.9L1129.1,968.1L1128.0,968.1ZM1131.8,964.8L1132.8,964.8L1132.8,965.9L1131.8,965.9ZM1010.9,829.8L1011.2,826.2L1010.0,825.5L1011.1,822.2L1011.4,819.1L1011.1,816.8L1010.3,815.3L1012.7,813.9L1016.4,814.2L1020.0,814.6L1023.7,814.6L1024.6,814.4L1025.1,811.8L1025.3,809.4L1025.1,808.0L1023.3,806.1L1022.7,804.9L1019.5,804.2L1018.7,802.8L1021.8,801.8L1024.4,802.1L1024.4,799.9L1025.3,800.4L1027.7,800.2L1029.5,799.0L1030.2,797.1L1031.9,796.4L1033.7,795.7L1035.0,794.3L1035.9,791.9L1037.3,790.9L1040.1,790.7L1041.9,790.5L1043.0,789.5L1043.2,787.4L1042.3,786.0L1042.1,783.6L1043.0,782.2L1045.2,781.2L1046.6,780.8L1046.1,783.1L1047.0,784.1L1045.9,785.7L1045.0,786.9L1045.5,788.1L1047.4,789.1L1049.2,789.1L1051.7,788.3L1053.2,789.8L1056.5,788.8L1060.1,787.6L1061.4,788.6L1063.4,788.6L1064.7,787.4L1065.6,785.7L1065.6,782.9L1066.5,781.2L1068.4,780.8L1069.8,782.4L1071.6,781.7L1071.8,779.3L1070.2,778.2L1070.2,777.2L1072.9,776.5L1076.6,776.5L1078.4,776.3L1081.1,775.3L1079.3,774.1L1076.6,774.1L1072.9,774.8L1069.3,775.6L1067.4,774.4L1066.2,773.0L1066.2,770.6L1066.0,768.2L1068.4,766.3L1071.1,764.7L1072.9,763.0L1072.9,762.1L1070.2,761.6L1067.4,762.3L1066.2,764.7L1064.7,766.3L1061.4,768.2L1059.2,769.9L1058.7,773.0L1059.2,774.1L1061.6,775.3L1061.1,777.0L1058.3,778.6L1057.6,781.2L1056.5,784.3L1053.8,784.8L1053.2,786.2L1051.0,786.2L1050.5,784.3L1049.2,781.7L1048.3,779.6L1047.7,777.7L1046.5,776.5L1045.5,777.7L1043.7,778.9L1041.9,779.8L1040.1,780.1L1037.7,778.4L1036.6,775.3L1036.4,773.0L1036.6,770.6L1039.2,768.9L1042.8,767.0L1045.5,765.8L1047.9,763.5L1050.1,761.1L1051.9,758.7L1054.3,756.4L1057.4,754.5L1060.1,752.8L1063.8,751.6L1067.4,750.5L1071.1,749.3L1074.7,749.3L1078.4,749.3L1082.0,750.5L1083.9,751.2L1082.0,752.4L1085.7,752.4L1088.4,753.1L1093.0,753.5L1097.5,755.2L1101.2,756.8L1102.5,759.2L1100.3,760.6L1096.6,760.9L1091.2,759.9L1087.5,759.5L1086.6,758.5L1089.3,761.1L1090.8,764.0L1093.9,765.8L1096.3,764.7L1096.6,764.0L1100.3,764.4L1100.3,762.3L1103.9,759.9L1107.6,760.6L1107.9,757.6L1106.7,755.2L1111.2,756.4L1112.1,758.7L1110.3,759.2L1114.0,759.2L1115.8,756.8L1124.0,755.9L1125.8,755.0L1131.3,755.2L1135.9,755.2L1138.6,752.8L1137.7,752.1L1145.0,753.5L1149.5,754.5L1152.3,755.9L1153.2,754.0L1149.5,752.4L1149.5,749.3L1152.3,746.9L1154.1,744.5L1157.8,744.5L1160.1,746.9L1159.2,749.3L1160.1,752.8L1161.6,755.2L1160.5,758.0L1158.7,760.4L1162.3,758.7L1164.1,756.4L1163.2,752.8L1161.9,749.3L1164.1,745.7L1169.6,746.4L1174.2,745.7L1175.1,747.6L1178.7,750.5L1177.8,746.9L1175.1,743.4L1182.4,742.6L1186.0,741.0L1186.0,739.8L1191.5,738.6L1200.6,737.4L1209.8,736.2L1217.6,733.4L1222.5,735.5L1229.8,735.8L1234.4,737.9L1233.5,741.0L1228.0,742.2L1231.6,742.9L1235.3,743.1L1242.6,743.4L1251.7,742.9L1258.1,743.4L1262.7,745.7L1263.6,748.8L1266.3,749.7L1270.0,748.1L1275.4,747.9L1280.9,748.1L1282.7,745.7L1286.4,745.2L1293.7,746.2L1301.0,747.6L1304.6,749.3L1311.9,749.3L1319.2,751.6L1319.2,752.6L1322.9,752.6L1328.3,752.8L1333.8,751.9L1337.5,751.9L1339.3,753.8L1342.9,752.1L1348.4,752.4L1352.1,753.1L1355.7,754.2L1361.2,755.7L1364.8,757.6L1370.3,758.7L1374.0,760.9L1371.2,762.3L1369.4,764.7L1367.6,765.1L1363.9,764.0L1359.4,762.3L1357.5,760.6L1355.7,763.5L1353.0,764.4L1351.1,764.2L1353.9,767.7L1354.8,769.4L1350.2,769.4L1345.7,771.1L1341.1,773.0L1338.4,775.3L1333.8,774.6L1330.2,775.3L1327.4,775.8L1325.2,776.5L1325.6,778.9L1323.2,780.5L1325.2,783.6L1323.8,784.3L1322.9,787.2L1320.1,788.3L1319.2,791.4L1316.5,792.4L1316.1,794.7L1313.2,796.6L1311.9,793.1L1311.0,788.3L1311.0,784.8L1312.8,782.4L1315.6,780.1L1319.2,776.5L1322.9,774.1L1325.6,771.8L1326.5,769.4L1324.7,770.6L1320.1,773.0L1318.9,771.3L1313.7,771.8L1310.1,774.8L1310.1,777.0L1306.4,777.5L1302.8,777.0L1301.9,776.3L1299.2,776.3L1293.7,777.0L1288.2,777.0L1283.6,780.5L1280.0,783.6L1277.3,787.6L1276.3,789.5L1279.1,790.0L1281.8,789.1L1283.6,791.9L1285.1,791.4L1284.6,794.3L1283.6,796.6L1283.6,799.0L1283.1,802.6L1280.9,805.6L1279.1,808.5L1276.3,811.3L1273.6,814.4L1270.9,816.0L1268.1,815.1L1266.3,816.5L1265.6,817.2L1263.9,819.1L1263.9,820.8L1261.7,822.4L1259.9,823.6L1259.9,824.6L1261.4,826.0L1263.0,828.6L1263.6,831.7L1263.2,833.8L1261.7,834.8L1259.6,835.5L1257.9,835.7L1258.1,833.3L1258.3,831.0L1258.6,829.3L1257.6,828.1L1255.7,827.9L1255.0,826.9L1255.9,824.1L1254.5,822.9L1252.6,823.4L1250.4,824.6L1248.4,825.5L1249.5,823.2L1250.3,821.5L1248.6,820.5L1246.2,822.2L1244.4,824.3L1242.2,825.0L1242.0,826.7L1244.1,827.9L1244.8,829.3L1247.2,828.1L1250.8,828.8L1249.0,830.3L1247.2,831.7L1245.0,834.0L1245.3,835.7L1247.2,838.1L1248.1,840.4L1249.5,842.1L1249.5,844.2L1247.7,845.6L1249.5,846.8L1249.2,849.2L1248.1,851.1L1246.6,853.5L1245.5,855.8L1244.4,857.7L1242.6,859.6L1240.4,862.0L1238.0,863.4L1235.7,864.6L1233.8,864.8L1231.6,865.8L1229.5,866.7L1228.7,869.1L1227.6,869.1L1227.4,866.5L1225.3,866.0L1224.0,866.5L1222.2,868.1L1220.7,870.5L1220.1,872.9L1221.6,875.7L1223.4,878.1L1224.9,879.5L1226.2,881.9L1226.7,885.4L1226.5,889.0L1225.3,891.1L1223.4,892.5L1222.2,893.0L1221.8,894.9L1219.8,896.1L1218.5,897.0L1218.7,894.2L1218.0,892.8L1216.1,892.3L1215.2,890.6L1214.3,888.5L1212.5,887.3L1211.4,885.9L1210.3,885.4L1209.8,887.6L1209.4,890.2L1208.3,892.5L1208.5,895.4L1209.8,897.3L1210.7,900.1L1212.5,901.3L1214.3,903.2L1215.6,904.8L1216.1,907.9L1216.1,910.8L1217.4,914.1L1216.1,914.3L1214.3,912.7L1212.1,910.5L1211.2,907.9L1210.5,904.4L1210.1,902.0L1208.8,899.6L1207.0,898.0L1206.6,895.6L1207.4,892.5L1207.4,889.0L1206.6,885.4L1206.1,881.9L1205.4,878.8L1204.3,877.4L1202.5,878.3L1201.0,880.0L1199.4,879.5L1199.7,876.0L1199.2,872.9L1197.9,870.5L1196.6,868.6L1195.5,866.5L1194.8,864.4L1193.3,864.1L1192.1,865.5L1189.7,865.8L1187.9,866.0L1186.0,867.0L1185.7,868.9L1184.8,870.3L1182.4,871.7L1180.6,874.1L1178.7,876.2L1177.5,877.9L1175.6,879.3L1174.2,880.2L1173.4,883.1L1173.8,886.4L1173.1,889.5L1172.9,893.0L1171.8,894.9L1170.5,896.1L1169.8,897.5L1168.7,898.5L1167.4,897.0L1166.5,894.2L1165.6,890.6L1164.1,887.8L1163.2,884.2L1162.3,881.4L1161.4,878.8L1160.9,876.0L1160.1,872.4L1160.1,868.9L1159.8,866.5L1159.2,867.4L1156.8,868.1L1155.0,867.2L1153.2,864.8L1155.0,863.2L1152.3,862.2L1150.5,860.8L1149.5,858.7L1148.6,857.3L1145.9,857.5L1142.2,857.7L1139.5,858.0L1136.8,857.5L1134.0,856.8L1131.8,856.3L1130.9,853.5L1129.5,853.2L1126.7,854.4L1124.0,853.9L1122.2,852.0L1120.3,850.4L1119.4,847.5L1117.6,845.9L1116.3,845.6L1114.9,846.6L1114.9,848.7L1115.8,850.4L1116.7,852.3L1118.5,854.2L1118.9,856.5L1120.0,858.7L1120.7,855.8L1121.4,858.2L1121.3,860.1L1123.1,860.1L1125.8,860.1L1128.6,857.5L1129.8,855.4L1130.4,858.2L1130.9,860.1L1133.1,861.3L1134.9,862.9L1136.4,864.4L1135.5,867.0L1134.0,869.1L1132.8,871.2L1132.2,872.9L1130.4,874.8L1128.2,876.0L1125.8,877.1L1123.1,878.8L1120.3,880.7L1117.6,882.6L1114.9,884.2L1112.1,885.7L1109.4,887.1L1106.8,887.3L1106.1,885.4L1105.4,882.4L1105.2,879.5L1104.3,876.7L1102.5,873.6L1100.6,870.0L1099.0,867.7L1098.5,864.6L1097.2,861.0L1095.4,858.2L1094.1,855.1L1092.1,852.3L1091.2,850.9L1091.0,847.5L1089.7,843.3L1090.6,841.6L1091.2,839.3L1092.1,836.9L1092.8,834.0L1093.0,831.4L1093.3,830.3L1091.2,830.7L1089.3,831.7L1087.5,831.9L1085.7,831.0L1083.5,830.3L1082.0,831.4L1080.2,831.0L1078.4,830.3L1077.1,829.8L1076.9,827.4L1075.6,826.2L1076.2,824.1L1075.1,823.6L1075.1,822.0L1074.7,821.0L1072.9,820.5L1071.1,820.8L1070.7,822.2L1071.1,822.7L1069.3,822.0L1068.7,821.5L1068.5,823.4L1069.3,825.0L1070.2,826.7L1071.1,827.4L1071.1,828.1L1069.3,828.6L1069.6,831.0L1068.4,831.0L1066.9,830.3L1066.0,827.9L1066.2,826.7L1065.2,825.5L1064.2,823.6L1062.9,822.0L1062.7,819.6L1062.5,818.2L1061.1,816.8L1059.2,815.6L1056.5,814.4L1055.0,812.7L1053.8,810.4L1052.3,810.6L1052.1,809.4L1051.0,809.2L1049.7,810.1L1049.7,812.0L1050.3,813.2L1052.1,814.4L1053.2,816.8L1055.6,817.9L1056.5,818.2L1056.9,818.4L1056.5,819.4L1058.3,820.3L1060.1,821.5L1061.1,822.4L1060.9,823.2L1059.8,822.0L1058.3,821.5L1057.6,823.4L1058.5,825.0L1057.4,826.2L1056.5,827.7L1055.9,826.9L1056.5,825.0L1055.9,822.7L1054.7,822.2L1053.8,821.0L1052.5,819.8L1050.3,819.1L1049.2,817.9L1047.4,816.8L1046.5,815.6L1045.9,813.7L1044.6,812.5L1043.4,812.3L1041.9,813.4L1040.6,813.9L1038.6,815.3L1036.4,814.6L1034.6,814.4L1033.1,815.1L1033.0,817.0L1033.1,818.2L1031.3,819.4L1029.1,820.3L1027.8,822.2L1026.8,823.9L1027.5,825.5L1026.4,826.7L1026.0,828.4L1024.0,829.3L1023.1,830.3L1020.9,830.5L1019.1,830.7L1017.6,831.7L1016.4,831.7L1015.6,830.3L1014.5,829.3L1012.7,829.8ZM1016.9,798.8L1019.1,798.3L1020.9,798.3L1022.7,797.6L1025.5,797.3L1028.2,797.1L1029.9,796.2L1029.1,795.0L1030.4,792.8L1028.2,791.9L1027.7,790.5L1026.4,788.3L1024.9,787.2L1024.0,785.5L1023.3,784.8L1021.5,784.8L1022.7,783.6L1023.7,781.7L1023.8,780.8L1020.9,780.8L1020.0,781.0L1021.5,778.9L1021.6,778.4L1018.2,778.6L1017.3,780.5L1016.7,782.4L1016.4,783.6L1017.1,785.3L1017.3,786.4L1018.5,786.4L1018.2,787.9L1020.9,787.4L1021.3,789.1L1021.8,790.5L1021.5,791.2L1019.1,791.2L1018.9,792.4L1019.8,793.6L1018.0,794.7L1019.6,795.2L1021.5,795.7L1020.9,796.2L1019.5,796.4L1018.2,797.8ZM1009.1,794.7L1010.0,795.4L1012.2,794.7L1015.6,793.8L1016.4,791.4L1016.0,789.5L1017.3,788.3L1016.4,786.7L1014.0,786.4L1012.2,787.2L1011.8,788.6L1009.1,789.1L1009.1,790.9L1010.5,791.7L1009.4,793.6L1008.5,794.3ZM983.0,762.3L986.2,760.2L990.3,761.1L994.1,760.6L997.7,759.9L1000.5,760.9L1002.5,762.8L1000.8,764.9L998.1,766.1L993.5,767.3L989.9,766.8L986.2,766.3L987.2,764.9L983.5,764.0L986.2,763.0ZM1047.4,729.1L1052.8,728.4L1058.3,728.0L1063.8,729.1L1065.6,731.0L1061.1,733.9L1058.3,735.8L1053.8,733.9L1051.0,732.2L1047.4,730.8ZM1060.1,727.2L1067.4,726.8L1076.6,727.7L1072.9,729.6L1065.6,729.4ZM1065.6,732.2L1071.1,732.9L1069.3,734.4L1066.2,733.9ZM1121.3,747.4L1124.0,745.7L1127.6,743.4L1129.5,741.0L1134.9,738.6L1142.2,737.0L1151.4,735.3L1153.2,736.7L1145.9,738.6L1138.6,739.8L1134.0,742.2L1132.2,745.7L1132.2,749.3L1127.6,750.0L1124.0,749.3L1121.3,748.1ZM1113.1,726.8L1120.3,726.1L1118.5,727.7L1114.0,727.7ZM1125.8,725.6L1134.9,724.6L1140.4,726.1L1133.1,727.2L1127.6,727.0ZM1202.5,730.3L1209.8,728.0L1217.0,729.6L1218.9,732.0L1209.8,732.7L1204.3,731.5ZM1195.2,726.8L1202.5,725.1L1206.1,726.8L1200.6,728.0ZM1277.3,738.6L1282.7,737.4L1291.9,738.1L1301.0,739.3L1297.3,740.3L1288.2,740.3L1279.1,740.3ZM1282.7,742.6L1288.2,743.1L1287.3,744.1L1282.7,743.8ZM1353.0,748.8L1357.5,748.1L1359.4,749.3L1355.7,749.7ZM1115.8,753.1L1118.2,753.1L1118.2,754.7L1115.8,754.5ZM1060.5,780.3L1062.0,780.3L1061.6,782.2L1060.5,782.0ZM1047.4,785.5L1050.1,784.8L1050.1,786.7L1047.7,786.9ZM1067.3,778.6L1069.6,778.6L1069.1,779.8L1067.3,779.8ZM1286.4,788.8L1288.2,790.7L1288.8,794.3L1289.1,797.8L1290.9,801.4L1288.2,803.7L1289.1,806.6L1287.3,808.5L1286.4,805.4L1286.4,801.8L1286.7,797.8L1286.0,794.3L1286.4,791.2ZM1282.7,819.1L1284.6,818.4L1285.5,816.8L1288.2,817.9L1291.9,815.3L1292.8,814.4L1291.9,812.7L1289.1,812.5L1286.4,809.9L1285.6,812.0L1285.1,814.9L1283.3,815.1L1282.4,816.8ZM1284.6,819.4L1285.5,821.5L1286.4,823.9L1285.6,826.7L1284.6,828.6L1284.2,831.0L1284.2,832.9L1282.7,834.5L1282.2,833.8L1280.9,834.5L1280.4,835.2L1278.2,835.5L1276.9,836.2L1275.4,838.1L1274.0,837.4L1274.0,835.5L1271.8,835.5L1270.0,836.2L1268.1,836.9L1266.3,836.9L1266.3,835.9L1269.0,833.6L1271.8,833.1L1274.5,833.1L1275.4,832.2L1276.9,829.8L1277.8,828.6L1277.6,830.3L1279.6,829.3L1280.9,827.4L1282.4,825.0L1282.7,822.7L1282.7,821.0L1283.3,819.8ZM1264.5,838.1L1266.3,837.4L1267.8,838.5L1267.8,840.4L1266.9,843.0L1265.6,844.0L1264.8,842.8L1265.2,840.4L1263.9,839.3ZM1269.0,836.9L1271.8,836.2L1273.1,837.4L1271.8,838.3L1270.5,838.5L1269.6,839.7L1268.7,838.3ZM1293.7,812.0L1298.2,809.7L1298.8,810.4L1294.2,812.7ZM1301.0,808.5L1302.8,807.1L1303.2,807.8L1301.3,808.9ZM1310.1,798.5L1311.9,797.1L1312.3,798.1L1310.6,799.0ZM1260.3,855.4L1261.4,853.9L1261.4,854.6L1260.7,855.6ZM1257.6,838.1L1258.8,838.1L1258.8,838.8L1257.6,838.8ZM1249.0,857.7L1249.9,858.7L1249.0,861.8L1247.7,865.3L1246.6,863.4L1246.6,861.0L1248.1,858.2ZM1225.6,871.9L1227.1,870.0L1229.3,870.0L1229.8,871.2L1228.5,873.6L1226.7,874.3L1225.6,873.4ZM1172.9,894.7L1173.8,894.9L1175.6,897.3L1176.5,900.1L1176.0,902.2L1174.2,903.4L1173.1,902.0L1172.7,898.5ZM1247.2,873.6L1249.0,873.8L1250.3,873.6L1250.4,877.1L1249.2,879.5L1249.2,881.9L1249.5,883.8L1250.8,883.8L1252.6,884.7L1253.5,886.6L1253.5,887.8L1252.3,886.6L1250.8,885.9L1249.5,884.7L1248.1,885.0L1247.3,883.5L1247.9,882.8L1247.2,882.4L1246.2,880.7L1245.9,878.8L1246.8,877.6L1247.0,876.0ZM1249.9,900.8L1250.3,898.7L1251.7,897.3L1253.5,897.3L1255.4,896.1L1256.3,894.2L1257.6,896.1L1258.1,899.6L1257.6,902.5L1256.3,901.8L1256.1,903.9L1254.5,903.2L1253.5,901.3L1252.6,899.6L1251.3,899.9ZM1254.1,887.8L1255.9,887.8L1256.6,890.9L1255.7,893.2L1254.8,893.0L1254.3,890.9ZM1249.7,889.5L1251.7,890.2L1252.1,892.5L1252.4,895.6L1251.3,895.1L1250.4,893.2L1249.9,891.8ZM1247.0,885.7L1248.6,885.7L1249.0,888.0L1248.1,888.5ZM1241.1,897.5L1243.5,895.4L1245.3,892.3L1245.7,890.6L1244.8,891.6L1242.6,894.9L1241.1,896.8ZM1226.2,913.8L1227.3,912.7L1228.5,913.4L1230.4,911.5L1233.5,909.8L1235.3,906.7L1238.0,904.4L1240.4,900.8L1241.7,902.0L1243.5,904.4L1244.8,905.1L1242.6,907.2L1242.2,909.1L1242.6,912.0L1244.4,915.0L1242.2,915.7L1241.7,918.6L1239.9,921.0L1239.5,924.5L1238.9,926.9L1236.4,927.1L1235.3,925.5L1233.5,925.0L1231.3,925.7L1228.4,924.3L1228.0,921.0L1226.5,918.6L1226.2,916.2ZM1201.2,904.1L1204.3,905.1L1206.6,907.5L1209.4,910.3L1211.2,912.2L1213.4,914.3L1216.1,917.4L1217.6,920.2L1218.9,922.8L1220.7,925.0L1220.3,928.1L1220.3,931.1L1218.1,931.1L1216.1,928.8L1213.9,926.9L1212.1,924.0L1210.5,920.2L1208.8,917.4L1207.4,913.6L1205.7,911.2L1203.4,908.6L1201.4,906.0ZM1219.2,921.2L1221.1,921.2L1222.0,924.0L1220.7,924.5L1219.4,922.6ZM1219.2,933.5L1221.1,931.6L1223.4,932.3L1225.6,933.5L1228.9,933.7L1229.8,932.8L1232.7,933.7L1236.2,935.9L1236.0,938.0L1232.6,937.3L1228.9,936.8L1225.3,935.9L1221.6,934.9ZM1236.2,936.8L1238.4,936.8L1238.0,938.2L1236.6,937.8ZM1238.9,937.1L1240.2,937.1L1240.0,938.5L1238.9,938.2ZM1240.4,937.3L1243.0,936.8L1244.4,937.5L1243.5,938.5L1240.8,938.7ZM1246.1,937.3L1248.1,937.5L1251.3,936.8L1251.3,938.0L1248.1,938.5L1246.2,938.2ZM1244.4,939.9L1246.6,939.9L1247.7,941.3L1246.2,941.8L1244.8,940.6ZM1252.6,941.8L1254.5,939.2L1257.2,937.5L1259.4,937.3L1258.1,939.2L1255.4,940.6ZM1245.9,915.5L1247.7,914.3L1250.8,915.0L1253.5,915.3L1255.7,913.6L1254.5,916.5L1251.7,916.2L1248.1,916.2L1246.6,917.4L1246.2,919.3L1248.1,919.8L1249.9,919.5L1252.3,919.3L1250.8,921.4L1249.0,921.9L1249.5,924.0L1250.8,925.7L1251.3,928.1L1250.3,928.8L1249.0,928.1L1248.1,925.7L1247.0,924.5L1247.0,928.1L1246.8,930.4L1245.3,930.4L1245.3,926.9L1244.1,924.5L1244.4,922.1L1245.3,919.3L1245.9,917.4ZM1259.9,912.7L1260.8,913.8L1262.1,913.8L1260.8,916.2L1261.4,919.1L1260.3,918.1L1259.9,915.5ZM1260.8,924.5L1263.6,924.0L1265.9,925.2L1264.5,925.9L1261.7,925.7ZM1257.2,925.0L1259.0,924.7L1259.4,926.2L1257.6,926.4ZM1266.3,919.3L1269.0,918.3L1271.8,919.3L1272.1,922.1L1273.6,925.2L1275.4,922.8L1278.2,921.0L1280.9,922.1L1284.6,923.6L1288.2,925.5L1290.9,926.4L1293.3,929.2L1295.5,931.6L1297.0,933.5L1295.5,934.0L1297.3,936.3L1299.2,938.7L1301.0,941.1L1302.4,942.3L1300.1,942.0L1297.3,941.3L1295.5,939.9L1293.7,936.8L1290.9,935.6L1289.1,937.5L1288.2,939.2L1285.5,939.2L1283.6,937.1L1280.9,936.6L1279.1,937.3L1280.0,934.0L1279.1,931.1L1276.3,928.8L1273.6,927.8L1270.9,926.4L1269.6,926.9L1268.1,924.3L1270.9,923.3L1270.0,922.6L1268.1,922.1L1266.3,920.7ZM1298.2,930.9L1301.0,929.7L1303.7,928.1L1305.2,927.6L1304.6,930.0L1302.4,932.1L1300.1,932.1ZM1302.4,923.6L1305.5,926.4L1306.4,928.5L1305.7,928.1L1303.7,925.5L1302.3,924.3ZM1309.4,930.4L1311.0,932.1L1311.7,933.5L1310.5,933.3L1309.4,931.4ZM1312.8,933.5L1314.7,934.9L1314.3,935.6L1312.7,934.2ZM1318.3,939.4L1320.7,940.4L1320.1,940.8L1318.5,940.1ZM1320.5,937.3L1321.6,939.7L1321.0,939.7L1320.1,937.8ZM1321.6,941.6L1323.4,942.7L1322.9,943.2L1321.6,942.3ZM1331.3,952.2L1332.4,953.4L1332.0,954.3L1331.3,953.6ZM1332.4,955.3L1333.5,956.5L1332.9,956.7L1332.4,956.0ZM1326.5,965.2L1331.1,969.0L1332.0,970.4L1329.3,969.3L1326.9,966.2ZM1350.8,958.6L1353.2,959.1L1353.0,960.5L1351.0,960.3ZM1353.5,956.2L1355.7,955.8L1355.3,957.2L1353.5,957.2ZM1287.3,942.7L1289.1,947.0L1289.7,951.3L1292.4,952.9L1292.8,956.5L1293.7,960.0L1294.2,962.2L1296.4,963.3L1298.8,965.5L1299.7,968.3L1301.9,970.9L1302.8,973.8L1305.5,976.6L1306.8,979.0L1307.4,983.7L1306.8,988.4L1306.1,992.0L1304.6,995.1L1303.3,997.4L1302.4,1000.3L1301.0,1003.8L1301.0,1006.2L1298.2,1007.1L1296.4,1007.9L1294.2,1010.0L1292.2,1008.1L1290.9,1007.9L1289.1,1009.3L1286.4,1008.1L1283.6,1007.4L1282.4,1005.0L1281.8,1002.6L1280.0,1001.7L1280.0,999.6L1278.7,996.7L1278.2,997.9L1277.3,1000.8L1275.4,999.8L1274.5,999.3L1273.6,996.7L1272.1,995.1L1270.0,993.2L1267.2,992.0L1262.7,992.2L1259.0,993.6L1255.4,994.8L1253.5,996.7L1252.1,997.7L1249.0,997.4L1246.2,997.7L1243.5,999.3L1242.2,1000.5L1238.9,999.8L1237.3,998.6L1237.1,996.7L1238.4,994.4L1238.4,992.0L1237.1,988.4L1236.8,985.6L1235.3,982.5L1234.4,979.4L1234.7,976.1L1234.4,973.0L1234.9,970.2L1236.2,969.0L1238.0,967.8L1240.4,966.2L1242.6,965.5L1245.3,964.8L1248.1,963.8L1250.3,960.5L1250.3,957.7L1251.7,956.5L1253.2,958.1L1254.5,956.0L1255.4,953.6L1257.2,951.3L1259.0,950.3L1260.8,952.4L1262.7,952.9L1263.9,952.4L1263.6,949.4L1265.0,947.7L1265.9,946.8L1268.1,946.3L1269.2,944.4L1270.9,945.3L1273.6,946.3L1275.4,945.8L1276.9,946.3L1276.3,948.9L1275.1,951.0L1274.5,952.9L1276.3,954.8L1278.7,956.0L1280.9,957.7L1282.7,959.3L1284.2,958.4L1285.1,955.3L1285.6,951.7L1285.6,948.2L1286.0,945.8L1286.7,943.4ZM1291.3,1013.8L1293.7,1014.7L1296.4,1014.3L1297.9,1014.5L1297.9,1017.3L1297.3,1019.7L1295.5,1020.6L1293.7,1020.4L1292.4,1018.0L1291.9,1015.7ZM1342.4,998.9L1343.9,1000.3L1345.7,1003.1L1347.5,1004.3L1348.4,1006.4L1351.1,1006.7L1353.0,1006.7L1352.6,1009.0L1351.1,1010.2L1350.2,1011.6L1349.3,1014.0L1347.1,1015.9L1346.0,1015.2L1346.8,1012.6L1344.8,1010.9L1344.4,1010.2L1345.9,1009.0L1346.0,1006.2L1345.1,1003.8L1343.5,1001.5ZM1342.4,1013.3L1343.3,1015.2L1345.3,1016.1L1343.9,1018.8L1342.6,1020.9L1339.8,1022.3L1339.3,1025.1L1338.4,1026.3L1336.6,1027.7L1334.4,1027.7L1332.0,1026.8L1331.1,1025.9L1332.5,1023.5L1334.4,1021.6L1337.1,1019.9L1339.3,1018.0L1340.2,1016.1L1341.5,1014.0ZM1050.1,827.4L1051.9,826.9L1055.6,826.7L1055.0,829.8L1054.7,830.5L1052.8,829.8L1050.1,828.4ZM1042.3,820.3L1044.6,819.8L1045.0,822.7L1044.6,824.8L1042.8,825.0L1042.6,822.7ZM1043.0,816.8L1044.5,815.6L1044.6,817.9L1044.1,819.4L1043.2,818.4ZM1070.2,833.3L1072.9,833.6L1075.3,834.0L1072.9,834.8L1070.4,834.0ZM1086.2,834.5L1087.5,833.8L1090.2,833.1L1089.3,834.5L1087.5,835.5ZM1031.7,823.6L1033.1,822.9L1033.5,823.9L1032.4,824.3ZM1069.6,825.3L1071.5,826.2L1072.0,827.4L1070.4,826.2Z" fill="#d3d3d3" stroke="#fff" stroke-width="2" stroke-linejoin="round"/>
<path d="M1080.4,819.8L1082.9,820.1L1084.8,819.6L1087.5,817.9L1091.2,817.7L1093.9,819.6L1096.6,820.3L1099.4,820.1L1103.0,819.1L1103.2,816.8L1100.6,814.4L1098.5,812.7L1096.3,811.6L1094.8,810.4L1093.9,810.6L1092.1,810.8L1090.2,812.0L1088.4,812.0L1087.0,809.9L1088.4,808.5L1086.0,807.8L1084.8,807.1L1083.3,807.5L1081.7,809.7L1081.3,810.8L1079.7,812.7L1079.5,814.4L1078.2,815.6L1077.8,817.2L1078.4,818.4L1079.8,819.6ZM1091.2,809.4L1093.9,809.9L1095.4,809.9L1096.6,808.5L1096.3,807.1L1098.8,805.6L1096.6,805.6L1093.9,806.8L1091.5,808.0ZM1113.1,809.7L1115.8,807.8L1118.5,806.6L1121.3,806.1L1124.0,806.6L1124.0,810.1L1120.9,810.4L1120.3,812.0L1119.1,812.5L1120.3,815.1L1123.1,816.8L1123.6,819.1L1125.5,820.8L1124.0,822.7L1125.5,825.0L1125.5,828.6L1125.5,830.0L1122.2,830.7L1119.4,829.8L1117.6,828.6L1116.5,826.5L1117.1,824.3L1117.6,822.0L1119.1,821.7L1117.1,819.8L1115.8,817.9L1114.0,815.6L1113.6,812.7L1112.7,811.3Z" fill="#fff" stroke="#fff" stroke-width="2" stroke-linejoin="round"/>
<g fill="none" stroke="#fff" stroke-linejoin="round" stroke-linecap="round"><path d="M770.0,752.1L770.0,774.6L773.3,775.1L776.4,777.9L778.3,776.5L781.0,776.5L783.7,779.1L786.5,782.4L789.8,784.6L790.1,786.7L789.0,787.9M802.5,801.4L853.6,801.4L854.3,800.7L857.6,802.3L861.3,803.3L864.0,803.7L866.0,803.0L872.6,806.6L873.1,807.3L875.0,808.5L876.8,810.1L877.0,815.6L875.7,817.5L876.8,818.7L883.2,816.0L882.8,814.6L887.7,812.7L890.5,810.8L896.8,810.8L899.0,808.7L901.0,805.2L903.2,805.4L903.6,809.2L905.1,810.8M813.7,840.4L818.0,840.0L824.8,843.3L829.9,843.3L829.9,842.1L833.0,842.1L836.6,847.3L839.0,848.7L840.3,846.8L842.3,846.8L843.9,849.4L845.8,852.3L846.7,854.9L850.0,856.1M859.1,883.1L859.1,881.4L860.0,879.5L862.2,879.3L862.4,878.6L860.5,876.7L861.3,876.4L861.3,875.2L864.6,875.2L865.3,875.0L866.2,873.6M864.6,875.2L864.6,879.7L865.1,879.7M866.2,880.2L864.6,883.3L862.9,884.7M864.4,883.3L865.8,884.2L867.1,884.5L867.1,885.9M868.0,886.6L869.1,885.9L870.4,884.5L872.2,882.6L874.0,882.4L875.5,881.9M870.9,891.1L872.8,891.4L874.6,891.8M876.0,898.2L876.0,896.1L876.6,894.7M886.1,896.8L886.4,898.7L885.2,900.4M896.5,870.5L896.5,873.4L896.3,875.0M897.2,889.2L895.4,891.1L894.3,892.8L894.1,895.4L895.2,897.5L895.2,899.9L896.3,900.8L899.4,900.8L900.7,903.0L904.1,902.7L903.6,904.8L903.6,907.2L904.5,909.3L903.6,910.8L904.7,912.2L905.2,914.6M905.2,914.6L904.9,913.1L903.2,913.1L899.9,913.4L899.9,914.8L901.0,915.0L900.7,919.8L899.8,927.3M899.8,927.3L898.3,926.4L899.6,923.8L896.8,922.8L894.3,923.1L893.2,920.5L891.4,918.6L889.9,917.6M889.9,917.6L887.7,916.7L885.9,915.7L883.5,913.8M889.9,917.6L889.4,921.0L887.4,923.6L885.0,925.2L884.1,928.3L882.3,929.2L880.8,927.8L880.8,925.2M899.8,927.3L894.5,929.5L892.7,934.7L894.5,939.7L898.5,940.1L898.7,943.4L900.5,943.4M900.5,943.4L902.0,947.0L901.4,951.7L900.7,954.3L901.4,956.2L900.5,958.8M900.5,958.8L898.9,961.0M900.5,958.8L901.8,962.4L902.3,965.9L903.2,969.0L904.7,971.4M900.5,943.4L902.3,943.4L906.9,940.6L908.2,943.0L908.2,945.3L910.0,947.0L912.7,948.2L916.0,949.4L917.5,951.7L917.5,955.8L920.7,956.0L921.1,958.8L922.2,960.5L921.1,964.3M921.1,964.3L919.5,963.1L914.5,964.0L913.1,970.0M913.1,970.0L910.0,971.4L907.4,969.7L904.7,971.4M904.7,971.4L902.5,975.4L902.1,981.3L899.9,986.1L899.0,990.8L899.6,996.3L898.7,1001.0L897.8,1005.0L897.4,1009.3L896.5,1014.5L896.3,1020.4L896.8,1025.1L895.9,1029.9L894.1,1034.1L893.6,1037.5L895.4,1039.4L896.1,1040.5L900.5,1041.0L902.5,1041.5M902.1,1042.2L902.1,1047.4M913.1,970.0L916.0,973.8L919.7,975.7L922.0,977.3L920.4,981.8L924.4,982.5L927.7,978.0M921.1,964.3L921.5,969.5L925.5,970.2L926.0,974.2L928.2,974.5L927.7,978.0M927.7,978.0L929.1,980.4L929.1,981.8L926.0,984.2L922.2,988.9M922.2,988.9L921.1,993.2L920.7,997.9M922.2,988.9L925.1,990.3L927.9,992.0L929.7,994.8L929.9,997.4M905.2,914.6L907.8,915.5L910.2,913.8L910.5,911.5L911.6,912.0L909.6,908.4L910.2,907.7L912.7,908.4L912.7,907.7L916.0,906.7L916.6,905.1M916.6,905.1L915.3,903.4L915.6,901.8L917.3,900.8L916.7,898.9L917.8,897.0M916.6,905.1L917.6,905.1L918.0,906.7L918.6,908.2L918.0,911.7L919.7,914.3L921.5,913.8L924.2,912.9M924.2,912.9L922.8,909.6L921.5,907.9L922.8,904.8L922.9,903.0M924.2,912.9L925.3,911.5L927.9,912.0M927.9,912.0L928.4,909.1L928.0,906.3L928.8,903.7M927.9,912.0L930.8,912.2L933.0,907.5M1023.3,834.0L1024.2,835.7L1024.2,839.3L1025.1,841.2L1020.7,842.6L1020.7,844.5L1018.2,846.4L1015.4,847.5L1011.4,849.4L1011.4,851.8M1011.4,851.8L1003.2,851.8M1011.4,851.8L1011.4,855.8L1005.4,855.8L1005.4,861.8L1003.6,862.9L1003.4,867.0L996.3,867.0M1011.4,852.8L1018.5,858.2M1018.5,858.2L1015.3,858.2L1017.3,880.7L1010.3,880.7L1007.8,880.9L1006.3,880.5L1005.0,882.4M1018.5,858.2L1029.5,867.4L1029.5,868.4L1033.1,870.5L1033.3,872.4L1035.0,872.2M1035.0,872.2L1037.9,871.2L1041.0,867.9L1049.2,861.8M1049.2,861.8L1048.5,859.9L1046.1,859.1L1044.6,855.1L1045.4,852.3L1045.2,848.7L1044.6,845.9M1044.6,845.9L1043.9,843.5L1042.4,840.4L1041.2,838.5L1042.3,835.5L1042.4,832.6L1043.0,829.8M1044.6,845.9L1045.9,844.0L1046.1,842.3L1048.3,840.4L1048.3,838.8M1072.9,842.3L1072.9,865.3M1072.9,865.3L1072.9,870.0L1071.1,870.0L1071.1,871.2M1071.1,871.2L1056.5,862.0L1054.7,862.9M1054.7,862.9L1053.2,863.9L1049.2,861.8M1072.9,865.3L1094.6,865.3M1071.1,871.2L1071.1,880.2L1069.1,880.7L1068.2,884.2L1067.8,886.6L1067.3,887.6L1068.4,891.4L1069.1,891.6M1054.7,862.9L1055.6,867.7L1056.3,869.3L1055.6,877.4L1051.9,883.1L1052.1,885.0M1052.1,885.0L1053.0,886.6L1053.9,887.3L1054.7,890.2L1054.8,891.8L1055.6,893.7L1053.2,894.0L1052.7,894.7L1055.0,897.3L1055.6,899.6M1055.6,899.6L1058.3,899.2L1061.2,898.5L1062.0,896.1L1064.3,895.9L1066.9,892.5L1069.1,891.6M1035.0,872.2L1035.0,877.4L1033.9,880.7L1029.7,881.2L1027.7,881.9M1027.7,881.9L1028.9,885.2L1030.9,887.3L1031.7,889.2M1031.7,889.2L1033.9,889.7M1033.9,889.7L1033.9,885.0L1034.8,885.4L1037.3,884.5L1039.7,886.4L1041.9,885.9L1044.6,887.1L1046.5,885.9L1049.7,886.4L1052.1,885.0M1053.2,887.8L1052.5,891.4L1050.7,895.1L1049.6,897.5L1047.9,902.0L1046.5,900.8L1045.2,901.3L1043.4,903.7L1042.8,906.5M1033.9,889.7L1034.2,892.5L1032.8,895.9L1032.2,898.7L1032.2,902.5M1030.2,902.7L1030.2,896.1L1028.8,892.8L1028.9,891.4M1029.5,903.2L1028.2,899.6L1028.4,897.3L1028.0,893.7L1027.3,891.1M1021.6,905.3L1022.2,902.0L1021.5,899.6L1022.7,898.0L1022.2,894.9M1022.2,894.9L1022.2,891.4L1026.4,891.4L1027.3,891.1L1028.9,891.4L1031.7,889.2M1022.2,894.9L1018.9,894.4L1017.3,892.8M1017.3,892.8L1017.3,890.2L1019.3,887.3L1020.0,885.7L1022.0,884.2L1023.7,883.5L1026.0,881.6L1027.7,881.9M1017.3,892.8L1016.0,892.3L1012.9,893.2L1012.3,892.8M1012.3,892.8L1012.9,895.1L1012.3,897.3L1012.0,899.4M1012.0,899.4L1011.8,902.0L1013.6,903.7L1013.6,907.0M1012.0,899.4L1010.1,899.9L1010.1,897.7L1008.5,897.3M1008.5,897.3L1006.3,901.1M1008.5,897.3L1008.0,895.4L1006.9,893.7L1004.5,894.0L1003.0,896.1M1012.3,892.8L1011.4,891.4L1010.3,888.0L1007.8,889.0L1006.5,888.0M1006.5,888.0L1002.3,887.3M1002.3,887.3L1002.3,889.7L999.9,891.4M1002.3,887.3L996.8,888.0M1006.5,888.0L1006.5,885.4L1005.0,882.4M1005.0,882.4L1002.7,879.0L1000.8,878.1L997.6,878.3L997.2,879.5M996.6,885.2L999.9,884.7L1002.1,885.4L999.9,886.1L996.6,886.4M1097.5,874.8L1094.8,877.1L1093.9,881.9L1093.9,883.5M1093.9,883.5L1093.2,887.3L1091.3,889.5L1089.9,892.5L1089.5,894.9M1070.2,896.8L1072.0,896.6L1072.9,893.0L1075.6,894.9L1078.4,895.4L1080.2,894.4L1082.0,893.0L1083.9,894.2L1086.4,889.7L1087.9,888.5L1087.9,892.1L1089.5,894.9M1089.5,894.9L1089.5,897.3L1087.5,898.5L1088.8,900.1L1091.2,904.4M1091.2,904.4L1089.3,907.5L1087.5,908.4L1083.9,908.6L1083.5,909.1M1083.5,909.1L1081.1,906.7L1077.3,905.3M1077.3,905.3L1075.6,903.2L1073.3,899.6L1071.5,897.7L1070.2,896.8M1070.2,896.8L1069.3,893.7L1069.1,891.6M1093.9,883.5L1096.4,882.4L1098.5,882.8L1100.6,883.3L1103.4,886.6L1104.7,887.8M1104.7,887.8L1105.9,887.3M1104.7,887.8L1103.6,889.7L1103.6,891.4L1105.6,891.4M1105.6,891.4L1106.3,890.2M1105.6,891.4L1105.4,893.0L1107.6,896.1L1112.9,898.5L1114.9,898.5L1109.4,905.6L1106.7,906.0L1103.9,907.7M1103.9,907.7L1102.1,908.2L1099.4,909.1L1096.8,908.9L1094.4,907.0L1092.8,906.5L1091.2,904.4M1103.7,907.9L1102.1,910.8L1102.1,919.5L1103.0,921.4M1089.3,907.5L1090.2,910.3L1091.2,913.4L1090.2,915.0L1089.3,917.4L1089.2,919.8M1089.2,919.8L1095.9,924.5L1096.1,925.7L1098.8,928.5M1089.2,919.8L1082.9,919.8M1083.5,909.1L1083.3,911.7L1084.4,912.4L1082.0,915.5L1081.5,918.6L1081.3,920.7M1081.3,920.7L1082.9,919.8L1083.5,922.8L1082.9,923.1L1081.9,923.8L1080.2,923.8L1080.6,921.4L1081.3,920.7M1082.9,923.1L1082.9,925.7L1081.1,927.8L1080.6,925.7L1080.2,923.8M1081.1,927.8L1081.1,931.6L1083.1,936.8M1083.1,936.8L1087.3,939.7M1087.3,939.7L1089.3,939.9L1090.4,944.6M1090.4,944.6L1093.0,944.9L1095.7,945.1L1097.5,944.2L1101.0,942.3M1090.4,944.6L1091.0,949.4L1092.6,951.7L1092.6,955.3L1091.5,957.9L1089.9,955.3L1090.2,951.7L1087.9,950.6L1087.5,947.0L1088.2,943.0L1087.3,939.7M1087.9,950.6L1082.4,952.9L1082.8,954.3M1082.8,954.3L1080.2,955.3L1079.8,956.7L1076.6,960.0L1073.5,959.6M1082.8,954.3L1087.3,956.9L1087.3,961.2L1087.0,965.9L1084.4,970.4M1084.4,970.4L1080.9,970.0M1080.9,970.0L1078.4,968.3L1077.8,965.9L1075.1,963.6L1073.5,959.6M1073.5,959.6L1069.8,960.0L1065.6,960.7L1065.6,969.5L1063.8,969.5L1063.8,976.1M1063.8,976.1L1064.9,980.9L1066.9,980.9L1068.9,978.0L1071.6,978.3L1074.0,978.0L1076.4,973.5L1078.9,970.9L1080.9,970.0M1063.8,976.1L1063.8,984.7L1062.0,985.8L1060.1,985.8L1059.0,985.4L1057.4,985.1M1048.8,958.1L1051.9,957.7L1052.8,958.6L1060.9,958.6L1065.6,960.0L1070.0,959.1L1073.5,959.6M1070.0,959.1L1067.4,955.8L1067.4,948.2L1071.1,948.2L1071.1,943.2M1071.1,943.2L1067.8,943.9L1067.1,939.9L1067.1,934.7L1062.9,934.0L1062.0,936.3L1059.2,936.6L1057.6,931.4L1051.0,931.4L1049.7,931.6M1071.1,943.2L1074.7,945.6L1077.5,946.5L1080.2,949.1L1081.7,949.1L1081.7,946.3L1079.3,947.0L1079.1,944.6L1079.5,939.9L1080.0,937.5L1083.1,936.8M1084.4,970.4L1085.7,975.4L1085.7,978.7L1085.9,980.9L1087.3,980.9M1085.9,980.9L1085.5,978.7L1084.0,978.3L1083.5,980.9L1084.4,982.0L1085.7,981.3L1085.9,980.9M1076.6,987.5L1079.3,985.1L1080.9,987.3L1078.9,989.9L1077.3,989.2L1076.6,987.5M1049.6,929.2L1050.7,928.8L1053.6,929.0L1055.2,927.6L1056.5,924.5L1056.9,922.1L1059.6,918.6L1060.1,915.0L1060.3,911.5L1061.2,909.1M1047.6,926.9L1049.2,925.2L1048.5,922.8L1050.1,922.8L1051.0,923.1L1053.6,922.8L1053.6,921.4L1053.4,918.6L1052.7,916.9L1052.8,914.1L1051.6,914.3L1051.4,912.2M1045.2,915.0L1047.9,915.0L1047.9,912.2L1051.4,912.2M1045.2,912.0L1047.9,912.2M1051.4,912.2L1053.8,912.2L1056.5,913.4L1056.9,912.2M1056.9,912.2L1056.5,910.3L1054.7,908.2L1053.8,905.6L1053.9,902.7L1055.6,899.6M1056.9,912.2L1057.6,909.1L1061.2,909.1M1061.2,909.1L1061.2,907.0L1062.9,905.3L1064.9,907.0L1068.2,907.7L1069.1,906.0L1072.0,905.3L1073.8,904.8L1077.3,905.3M1071.6,780.3L1073.5,780.1L1075.6,781.2L1077.3,781.2M1075.8,785.5L1078.8,784.3L1078.0,781.7L1077.3,781.2M1077.3,781.2L1077.3,778.2L1078.4,776.5M1078.0,774.1L1081.1,771.8L1084.8,768.5L1082.0,766.6L1082.9,764.0L1081.5,761.1L1080.2,759.0L1082.0,757.1L1079.3,755.2L1080.0,753.8M1080.0,753.8L1080.8,753.3L1078.4,751.4L1074.7,752.1L1074.2,753.5L1072.5,755.0L1070.2,754.7L1067.4,754.0L1064.9,754.0M1064.9,754.0L1067.4,755.4L1070.2,756.6L1070.4,758.7L1071.1,761.1L1071.5,761.6M1064.9,754.0L1063.8,755.4L1060.1,755.2L1057.4,757.6L1056.5,758.7L1053.8,760.9L1052.3,764.7L1049.6,767.0L1049.2,770.6L1049.7,773.0L1050.3,775.3L1048.8,776.5L1047.7,777.7M1080.0,753.8L1083.5,752.1M1070.4,795.4L1072.9,794.5L1077.5,795.4L1080.8,795.7L1083.1,795.9L1085.3,794.0M1085.3,794.0L1084.4,791.9L1087.0,790.7L1083.9,787.9L1083.5,785.7L1078.8,784.3M1085.3,794.0L1089.0,793.6L1092.1,796.6L1091.9,797.8L1095.7,798.3L1097.0,799.2L1100.3,799.9L1099.9,802.6L1099.9,804.2L1097.0,805.9M1117.1,807.5L1115.8,804.9L1113.1,803.7L1113.1,800.2L1115.8,799.0L1119.4,795.2L1123.1,795.4L1126.7,796.6L1128.9,797.6L1133.1,796.6L1135.9,797.6L1139.5,796.2L1137.1,794.3L1138.6,791.9L1139.0,789.8L1145.0,788.6L1151.7,787.2L1156.5,786.4L1157.2,789.1L1161.4,789.5L1163.2,790.5L1167.2,788.8L1169.6,791.2L1173.3,797.1L1176.9,797.1L1179.6,796.6L1182.9,799.9L1186.6,800.9M1186.6,800.9L1190.6,799.7L1195.2,797.3L1200.6,799.0L1205.7,799.5L1206.6,795.4L1209.4,794.7L1213.4,795.7L1213.8,797.8L1218.9,798.1L1222.5,799.7L1225.3,800.7L1228.9,800.9L1233.5,799.5L1237.1,798.5L1240.2,799.5M1240.2,799.5L1242.2,800.2L1245.0,798.3L1246.2,795.4L1247.5,792.8L1248.1,791.2L1252.6,790.7L1256.3,791.9L1259.0,795.4L1259.9,799.0L1263.6,800.7L1266.3,804.4L1269.0,804.4L1273.2,802.8L1272.7,804.9L1270.5,810.1L1267.8,810.4L1266.3,811.3L1266.9,814.4L1265.6,817.0M1186.6,800.9L1187.9,802.6L1191.5,804.2L1193.3,807.1L1193.3,810.4L1197.9,811.1L1201.4,812.7L1203.2,816.3L1209.8,816.5L1213.0,816.8L1218.9,818.9L1223.4,817.0L1228.0,816.5L1231.5,813.9L1231.5,810.8L1234.6,811.3L1238.2,809.9L1240.0,807.8L1245.7,806.8L1246.1,804.4L1242.2,803.7L1238.0,804.0L1240.2,799.5M1186.6,800.9L1183.7,803.0L1183.7,806.1L1178.7,805.6L1177.5,809.7L1173.3,810.8L1174.7,815.1L1173.6,817.5M1173.6,817.5L1170.5,819.1L1167.4,820.3L1165.4,821.5L1161.9,823.2M1161.9,823.2L1161.6,826.2L1163.8,826.5L1164.0,829.3M1164.0,829.3L1165.6,830.5L1166.3,832.6L1169.2,833.3M1169.2,833.3L1170.9,836.2L1171.8,840.4L1171.1,843.5L1175.1,845.9M1175.1,845.9L1176.9,845.6L1180.6,849.0L1184.2,851.1L1188.0,851.3M1188.0,851.3L1189.3,851.1L1191.0,850.6L1194.4,851.6L1195.2,851.6L1198.8,848.7L1202.5,847.8L1204.8,850.4M1204.8,850.4L1207.4,852.0L1207.4,856.3L1205.4,859.4L1207.7,860.6L1207.9,864.8L1208.8,865.3L1210.1,866.5L1211.9,867.2M1211.9,867.2L1213.0,864.1L1213.8,864.4M1213.8,864.4L1216.1,863.6L1219.4,862.2L1222.0,863.4L1222.0,865.3L1224.3,866.5M1123.6,817.9L1125.8,817.2L1128.6,819.6L1129.5,819.6M1129.5,819.6L1129.5,810.8L1134.2,809.4L1138.6,812.3L1144.1,814.2L1147.7,817.0L1147.9,815.6L1149.5,819.8L1152.3,821.3L1155.9,817.9L1156.8,817.2M1156.8,817.2L1161.4,815.6L1162.9,815.1L1165.4,816.0L1171.4,816.0L1173.6,817.5M1129.5,819.6L1131.3,819.6L1134.2,816.3L1136.8,817.5L1140.2,820.1L1141.3,822.7L1144.8,825.0L1148.6,828.8M1125.6,829.1L1128.6,827.7L1131.7,826.9L1135.5,828.6L1139.0,830.7M1139.0,830.7L1138.8,833.8L1141.7,833.8L1145.0,831.4L1148.6,828.8M1148.6,828.8L1151.0,829.3M1151.0,829.3L1154.1,828.4L1155.4,827.4L1157.8,827.7L1158.3,830.5L1161.0,828.8L1164.0,829.3M1151.0,829.3L1152.1,826.9L1150.8,823.6L1153.7,820.8L1156.3,822.2L1158.1,822.4L1161.9,823.2M1153.7,820.8L1155.9,817.9M1138.8,833.8L1137.7,836.9L1138.2,841.2L1140.1,843.0L1138.4,846.8M1138.4,846.8L1140.1,848.7L1141.9,850.6L1142.8,853.0L1139.7,857.7M1138.4,846.8L1141.3,847.8L1144.1,847.8L1148.3,846.6L1148.4,844.2L1153.7,841.9L1153.7,839.0L1155.6,838.3L1157.0,836.7L1157.9,832.2L1164.0,829.3M1151.7,861.5L1154.1,859.9L1157.0,858.9L1155.0,854.4L1155.7,851.1L1159.0,849.4L1162.1,845.6L1163.2,844.0L1163.2,840.0L1164.9,840.9L1162.3,838.5L1162.3,835.2L1169.2,833.3M1175.1,845.9L1173.4,849.2L1179.3,852.5L1183.8,854.4L1188.0,854.6L1188.0,851.3M1189.7,865.5L1189.3,860.1L1188.0,859.1L1188.4,856.5L1191.1,855.4L1191.1,857.5L1195.7,858.0L1195.9,858.7L1193.7,860.6L1193.7,862.5L1195.7,861.3L1196.2,865.5L1195.7,868.1M1196.2,865.5L1197.5,860.6L1200.1,857.5L1201.0,854.4L1204.3,851.8L1204.8,850.4M1189.5,852.8L1191.3,854.2L1195.3,853.9L1195.3,852.3L1194.4,851.6M1189.5,852.8L1189.3,851.1M1209.9,869.1L1207.9,870.5L1205.7,873.6L1205.6,875.2L1207.2,879.0L1206.5,881.4L1208.3,885.4L1208.3,889.7L1207.2,893.7M1209.9,869.1L1211.9,867.2M1209.9,869.1L1210.7,871.2L1211.9,871.2L1211.8,876.0L1213.6,874.3L1215.8,873.8L1218.3,876.0L1218.5,878.6L1219.8,880.2L1219.2,883.5M1213.8,864.4L1215.2,867.7L1218.0,868.9L1217.0,871.5L1219.2,873.1L1221.6,877.1L1223.4,880.0L1223.4,882.6M1219.2,883.5L1220.9,883.3L1223.4,882.6M1219.2,883.5L1215.4,883.8L1214.3,885.2L1215.0,889.7M1223.4,882.6L1223.4,888.3L1220.7,889.5L1220.3,891.4L1217.8,892.8M1209.9,902.2L1211.6,903.7L1211.8,902.7L1213.6,902.7M1227.3,912.7L1228.9,915.3L1231.6,914.6L1234.7,914.3L1236.8,912.9L1237.1,910.5L1238.2,907.5L1241.9,907.5M1235.3,906.5L1236.8,907.2L1237.5,905.8M1284.6,923.6L1284.6,939.2M1255.2,938.7L1255.5,939.9M1258.5,827.9L1259.4,826.7L1261.4,826.0M1254.1,822.7L1256.8,820.3L1258.8,818.4L1261.2,819.4L1261.0,817.9L1263.9,817.0L1265.6,817.0M1093.0,832.2L1094.3,831.4L1094.3,830.3L1096.6,830.0L1100.3,830.3L1104.7,829.5M1104.7,829.5L1109.0,829.3M1109.0,829.3L1107.9,826.7L1108.3,824.1L1109.0,823.4M1109.0,823.4L1107.0,822.4L1106.7,820.1L1104.8,819.1L1103.0,819.1M1100.3,814.4L1104.8,815.1L1107.2,816.5L1109.4,816.5L1112.1,818.4M1112.1,818.4L1114.0,819.6L1116.0,818.4M1106.7,820.1L1109.4,819.8L1112.1,818.4M1109.4,819.8L1110.3,821.3L1112.1,823.9L1112.1,825.3M1109.0,823.4L1112.1,825.3L1114.9,823.4L1116.5,826.5M1109.0,829.3L1110.3,832.2L1111.2,834.0L1110.3,836.9L1111.6,838.8L1114.5,841.6L1114.3,844.0L1115.8,846.4M1104.7,829.5L1102.5,831.0L1102.7,833.1L1102.1,835.9L1098.1,838.3M1098.1,838.3L1098.8,841.2M1098.8,841.2L1101.0,841.6L1103.9,843.8L1108.9,848.3L1112.1,848.5M1112.1,848.5L1114.0,846.4L1114.9,846.4M1112.1,848.5L1114.0,849.9L1115.6,849.9M1098.1,838.3L1094.4,840.9L1092.6,840.0M1092.6,840.0L1092.3,838.5L1094.1,836.4L1093.0,835.5M1092.3,838.5L1091.3,839.0M1092.6,840.0L1092.1,842.8L1091.2,847.5M1089.7,843.3L1091.0,847.5M1091.2,847.8L1093.2,848.3L1095.7,846.4L1096.6,845.2L1094.8,842.8L1098.8,841.2M1105.4,878.6L1106.1,876.2L1107.9,876.2L1112.0,876.7L1114.0,876.9L1116.7,873.4L1122.2,872.4M1122.2,872.4L1127.6,870.0L1128.9,865.3L1128.0,863.6M1128.0,863.6L1123.3,863.2L1121.4,860.3M1128.0,863.6L1129.1,860.1L1130.2,858.4M1122.2,872.4L1124.2,877.9M1120.0,858.9L1120.7,859.1" stroke-width="1.2" stroke-opacity="0.95"/><path d="M1011.1,818.2L1012.3,817.7L1015.3,818.2L1016.0,818.9L1014.7,820.3L1014.7,822.2L1014.5,823.4L1013.6,823.6L1014.5,825.0L1014.0,826.9L1013.6,828.6L1013.8,829.5M1024.0,814.6L1026.4,816.0L1028.6,816.0L1030.4,816.8L1033.1,817.0M1041.0,813.9L1040.1,812.5L1040.1,810.4L1039.7,808.9L1040.1,808.7M1040.1,808.7L1038.4,808.0L1038.6,807.1L1040.1,805.2L1041.2,804.7M1041.2,804.7L1041.2,803.0L1042.3,801.4L1039.0,800.4M1039.0,800.4L1037.9,800.2L1036.2,799.0L1035.0,799.0L1033.1,797.3L1031.9,796.4M1033.5,795.7L1035.1,795.7L1037.9,796.2L1038.2,797.1M1038.2,797.1L1038.6,798.3L1038.4,798.8L1039.0,800.4M1038.4,798.8L1037.9,800.2M1038.2,797.1L1038.4,794.7L1039.7,794.3L1040.1,792.6L1040.4,791.2M1043.2,787.4L1045.4,787.6M1053.2,789.8L1053.6,791.9L1053.9,793.1L1054.1,795.4L1054.7,796.6M1054.7,796.6L1053.4,796.6L1051.0,798.1L1049.4,798.3L1050.1,799.2L1050.1,800.2L1052.5,801.8M1052.5,801.8L1051.0,803.0L1051.0,804.7L1049.6,804.7L1046.5,804.9L1044.8,804.9M1044.8,804.9L1042.8,804.7L1041.2,804.7M1040.1,808.7L1041.7,808.5L1042.8,808.0L1043.7,808.7L1044.3,807.5L1045.7,807.8L1046.3,806.3M1044.8,804.9L1044.8,805.9L1046.3,806.3M1046.3,806.3L1049.6,806.1L1049.9,806.8L1052.3,807.3M1052.3,807.3L1052.1,808.9L1052.3,809.4M1052.3,807.3L1054.7,807.1L1056.7,806.6M1056.7,806.6L1057.2,804.7L1058.5,803.7M1052.5,801.8L1054.7,801.4L1058.1,802.1L1058.5,803.7M1054.7,796.6L1056.5,797.6L1058.1,798.3L1061.1,799.2L1061.6,800.2M1058.1,802.1L1060.1,801.1L1061.6,800.2M1061.6,800.2L1063.8,800.9L1066.5,800.4L1068.4,801.1M1068.4,801.1L1068.7,799.7L1071.1,797.8L1070.4,795.4M1070.4,795.4L1070.4,792.8L1070.9,791.9L1070.2,789.8M1070.2,789.8L1068.9,788.6M1068.9,788.6L1063.4,788.6M1068.9,788.6L1068.7,787.4L1066.2,786.7M1065.8,784.6L1067.4,783.8L1071.1,784.1L1072.9,784.3L1075.8,785.5M1070.2,789.8L1073.8,789.1L1074.2,787.6L1075.8,785.5M1069.1,803.7L1072.0,804.0L1075.8,803.0M1075.8,803.0L1078.4,803.0L1080.6,804.0L1082.0,807.5L1078.8,809.7M1075.8,803.0L1077.5,804.9L1078.8,807.3L1078.8,809.7M1078.8,809.7L1081.3,810.1M1068.7,812.7L1070.2,813.7L1073.8,813.9L1076.6,813.0L1079.5,813.9M1068.7,812.7L1066.3,811.3L1066.5,810.4L1064.3,808.2M1064.3,808.2L1066.0,807.5L1067.4,804.7L1069.1,803.7M1058.5,803.7L1061.6,804.2L1061.8,803.5L1063.8,803.3L1066.5,802.6L1067.8,802.8M1068.4,801.1L1067.8,802.8L1069.1,803.7M1056.7,806.6L1057.4,807.3L1059.2,808.7L1061.8,808.7M1061.8,808.7L1064.3,808.2M1052.3,809.7L1055.2,809.7L1055.9,808.0L1057.4,807.3M1056.1,810.4L1058.1,810.4L1062.0,810.4L1062.0,811.1M1056.1,810.4L1056.9,812.7L1059.2,815.1L1061.1,816.8M1061.8,808.7L1062.0,811.1L1062.7,812.5L1062.3,814.4L1061.1,815.8L1061.1,816.8M1062.3,814.4L1064.3,816.0L1064.7,817.5L1062.7,818.2M1064.3,816.0L1066.5,817.2L1068.2,817.2M1064.7,817.5L1064.7,819.1L1065.6,820.5M1063.8,823.4L1065.2,820.5L1065.6,820.5M1065.6,820.5L1069.1,819.6L1072.0,819.1L1074.7,818.7L1075.5,818.7L1075.5,819.6L1074.7,821.0M1075.5,818.7L1077.5,817.9L1078.4,817.9M1068.7,812.7L1068.2,815.6L1068.2,817.2L1069.1,819.6M1014.0,787.2L1012.3,788.3L1013.6,789.3L1015.8,789.3" stroke-width="1.35"/></g>
<g transform="scale(0.5)" fill="none" stroke="none"><circle cx="2444" cy="1864" r="18" fill="#a9cfe0" fill-opacity="0.42" stroke="#a9cfe0" stroke-opacity="0.75" stroke-width="1.6"/><circle cx="2498" cy="1687" r="17" fill="#8f2a2a" fill-opacity="0.42" stroke="#8f2a2a" stroke-opacity="0.75" stroke-width="1.6"/><circle cx="2498" cy="1716" r="17" fill="#8f2a2a" fill-opacity="0.42" stroke="#8f2a2a" stroke-opacity="0.75" stroke-width="1.6"/><circle cx="2468" cy="1725" r="16" fill="#8f2a2a" fill-opacity="0.42" stroke="#8f2a2a" stroke-opacity="0.75" stroke-width="1.6"/><circle cx="2444" cy="1784" r="14" fill="#a9cfe0" fill-opacity="0.42" stroke="#a9cfe0" stroke-opacity="0.75" stroke-width="1.6"/><circle cx="1885" cy="1946" r="14" fill="#8f2a2a" fill-opacity="0.42" stroke="#8f2a2a" stroke-opacity="0.75" stroke-width="1.6"/><circle cx="1841" cy="1999" r="14" fill="#8f2a2a" fill-opacity="0.42" stroke="#8f2a2a" stroke-opacity="0.75" stroke-width="1.6"/><circle cx="2321" cy="1744" r="14" fill="#8f2a2a" fill-opacity="0.42" stroke="#8f2a2a" stroke-opacity="0.75" stroke-width="1.6"/><circle cx="2421" cy="1770" r="14" fill="#8f2a2a" fill-opacity="0.42" stroke="#8f2a2a" stroke-opacity="0.75" stroke-width="1.6"/><circle cx="1693" cy="1743" r="13" fill="#8f2a2a" fill-opacity="0.42" stroke="#8f2a2a" stroke-opacity="0.75" stroke-width="1.6"/><circle cx="1774" cy="1892" r="13" fill="#8f2a2a" fill-opacity="0.42" stroke="#8f2a2a" stroke-opacity="0.75" stroke-width="1.6"/><circle cx="1897" cy="1943" r="13" fill="#8f2a2a" fill-opacity="0.42" stroke="#8f2a2a" stroke-opacity="0.75" stroke-width="1.6"/><circle cx="2242" cy="1666" r="13" fill="#8f2a2a" fill-opacity="0.42" stroke="#8f2a2a" stroke-opacity="0.75" stroke-width="1.6"/><circle cx="2160" cy="1641" r="13" fill="#8f2a2a" fill-opacity="0.42" stroke="#8f2a2a" stroke-opacity="0.75" stroke-width="1.6"/><circle cx="2299" cy="1717" r="13" fill="#8f2a2a" fill-opacity="0.42" stroke="#8f2a2a" stroke-opacity="0.75" stroke-width="1.6"/><circle cx="2336" cy="1699" r="13" fill="#8f2a2a" fill-opacity="0.42" stroke="#8f2a2a" stroke-opacity="0.75" stroke-width="1.6"/><circle cx="2493" cy="1691" r="13" fill="#8f2a2a" fill-opacity="0.42" stroke="#8f2a2a" stroke-opacity="0.75" stroke-width="1.6"/><circle cx="2488" cy="1683" r="13" fill="#8f2a2a" fill-opacity="0.42" stroke="#8f2a2a" stroke-opacity="0.75" stroke-width="1.6"/><circle cx="2471" cy="1728" r="13" fill="#8f2a2a" fill-opacity="0.42" stroke="#8f2a2a" stroke-opacity="0.75" stroke-width="1.6"/><circle cx="2479" cy="1646" r="13" fill="#8f2a2a" fill-opacity="0.42" stroke="#8f2a2a" stroke-opacity="0.75" stroke-width="1.6"/><circle cx="2426" cy="1820" r="13" fill="#8f2a2a" fill-opacity="0.42" stroke="#8f2a2a" stroke-opacity="0.75" stroke-width="1.6"/><circle cx="2466" cy="1869" r="13" fill="#a9cfe0" fill-opacity="0.42" stroke="#a9cfe0" stroke-opacity="0.75" stroke-width="1.6"/><circle cx="2168" cy="1692" r="12" fill="#8f2a2a" fill-opacity="0.42" stroke="#8f2a2a" stroke-opacity="0.75" stroke-width="1.6"/><circle cx="2348" cy="1773" r="12" fill="#8f2a2a" fill-opacity="0.42" stroke="#8f2a2a" stroke-opacity="0.75" stroke-width="1.6"/><circle cx="2067" cy="1804" r="12" fill="#8f2a2a" fill-opacity="0.42" stroke="#8f2a2a" stroke-opacity="0.75" stroke-width="1.6"/><circle cx="1896" cy="1910" r="12" fill="#a9cfe0" fill-opacity="0.42" stroke="#a9cfe0" stroke-opacity="0.75" stroke-width="1.6"/><circle cx="1884" cy="1936" r="12" fill="#8f2a2a" fill-opacity="0.42" stroke="#8f2a2a" stroke-opacity="0.75" stroke-width="1.6"/><circle cx="1898" cy="1922" r="12" fill="#8f2a2a" fill-opacity="0.42" stroke="#8f2a2a" stroke-opacity="0.75" stroke-width="1.6"/><circle cx="1894" cy="1929" r="12" fill="#8f2a2a" fill-opacity="0.42" stroke="#8f2a2a" stroke-opacity="0.75" stroke-width="1.6"/><circle cx="2217" cy="1677" r="12" fill="#8f2a2a" fill-opacity="0.42" stroke="#8f2a2a" stroke-opacity="0.75" stroke-width="1.6"/><circle cx="2326" cy="1686" r="12" fill="#8f2a2a" fill-opacity="0.42" stroke="#8f2a2a" stroke-opacity="0.75" stroke-width="1.6"/><circle cx="2377" cy="1728" r="12" fill="#a9cfe0" fill-opacity="0.42" stroke="#a9cfe0" stroke-opacity="0.75" stroke-width="1.6"/><circle cx="2441" cy="1735" r="12" fill="#8f2a2a" fill-opacity="0.42" stroke="#8f2a2a" stroke-opacity="0.75" stroke-width="1.6"/><circle cx="2488" cy="1676" r="12" fill="#8f2a2a" fill-opacity="0.42" stroke="#8f2a2a" stroke-opacity="0.75" stroke-width="1.6"/><circle cx="2441" cy="1644" r="12" fill="#f59647" fill-opacity="0.42" stroke="#f59647" stroke-opacity="0.75" stroke-width="1.6"/><circle cx="2449" cy="1722" r="12" fill="#8f2a2a" fill-opacity="0.42" stroke="#8f2a2a" stroke-opacity="0.75" stroke-width="1.6"/><circle cx="2485" cy="1677" r="12" fill="#f59647" fill-opacity="0.42" stroke="#f59647" stroke-opacity="0.75" stroke-width="1.6"/><circle cx="2481" cy="1711" r="12" fill="#f59647" fill-opacity="0.42" stroke="#f59647" stroke-opacity="0.75" stroke-width="1.6"/><circle cx="2443" cy="1652" r="12" fill="#8f2a2a" fill-opacity="0.42" stroke="#8f2a2a" stroke-opacity="0.75" stroke-width="1.6"/><circle cx="2476" cy="1705" r="12" fill="#8f2a2a" fill-opacity="0.42" stroke="#8f2a2a" stroke-opacity="0.75" stroke-width="1.6"/><circle cx="2443" cy="1653" r="12" fill="#f59647" fill-opacity="0.42" stroke="#f59647" stroke-opacity="0.75" stroke-width="1.6"/><circle cx="2479" cy="1696" r="12" fill="#8f2a2a" fill-opacity="0.42" stroke="#8f2a2a" stroke-opacity="0.75" stroke-width="1.6"/><circle cx="2485" cy="1687" r="12" fill="#f59647" fill-opacity="0.42" stroke="#f59647" stroke-opacity="0.75" stroke-width="1.6"/><circle cx="2481" cy="1675" r="12" fill="#f59647" fill-opacity="0.42" stroke="#f59647" stroke-opacity="0.75" stroke-width="1.6"/><circle cx="2489" cy="1608" r="12" fill="#f59647" fill-opacity="0.42" stroke="#f59647" stroke-opacity="0.75" stroke-width="1.6"/><circle cx="2531" cy="1613" r="12" fill="#f59647" fill-opacity="0.42" stroke="#f59647" stroke-opacity="0.75" stroke-width="1.6"/><circle cx="2520" cy="1645" r="12" fill="#f59647" fill-opacity="0.42" stroke="#f59647" stroke-opacity="0.75" stroke-width="1.6"/><circle cx="2490" cy="1647" r="12" fill="#f59647" fill-opacity="0.42" stroke="#f59647" stroke-opacity="0.75" stroke-width="1.6"/><circle cx="2495" cy="1625" r="12" fill="#8f2a2a" fill-opacity="0.42" stroke="#8f2a2a" stroke-opacity="0.75" stroke-width="1.6"/><circle cx="2510" cy="1633" r="12" fill="#f59647" fill-opacity="0.42" stroke="#f59647" stroke-opacity="0.75" stroke-width="1.6"/><circle cx="2518" cy="1636" r="12" fill="#8f2a2a" fill-opacity="0.42" stroke="#8f2a2a" stroke-opacity="0.75" stroke-width="1.6"/><circle cx="2486" cy="1637" r="12" fill="#3a78ad" fill-opacity="0.42" stroke="#3a78ad" stroke-opacity="0.75" stroke-width="1.6"/><circle cx="2504" cy="1631" r="12" fill="#8f2a2a" fill-opacity="0.42" stroke="#8f2a2a" stroke-opacity="0.75" stroke-width="1.6"/><circle cx="2479" cy="1701" r="12" fill="#8f2a2a" fill-opacity="0.42" stroke="#8f2a2a" stroke-opacity="0.75" stroke-width="1.6"/><circle cx="2444" cy="1696" r="12" fill="#8f2a2a" fill-opacity="0.42" stroke="#8f2a2a" stroke-opacity="0.75" stroke-width="1.6"/><circle cx="2434" cy="1689" r="12" fill="#8f2a2a" fill-opacity="0.42" stroke="#8f2a2a" stroke-opacity="0.75" stroke-width="1.6"/><circle cx="2443" cy="1695" r="12" fill="#8f2a2a" fill-opacity="0.42" stroke="#8f2a2a" stroke-opacity="0.75" stroke-width="1.6"/><circle cx="2472" cy="1690" r="12" fill="#8f2a2a" fill-opacity="0.42" stroke="#8f2a2a" stroke-opacity="0.75" stroke-width="1.6"/><circle cx="2513" cy="1650" r="12" fill="#3a78ad" fill-opacity="0.42" stroke="#3a78ad" stroke-opacity="0.75" stroke-width="1.6"/><circle cx="2496" cy="1766" r="12" fill="#8f2a2a" fill-opacity="0.42" stroke="#8f2a2a" stroke-opacity="0.75" stroke-width="1.6"/><circle cx="2447" cy="1867" r="12" fill="#a9cfe0" fill-opacity="0.42" stroke="#a9cfe0" stroke-opacity="0.75" stroke-width="1.6"/><circle cx="2103" cy="1876" r="12" fill="#8f2a2a" fill-opacity="0.42" stroke="#8f2a2a" stroke-opacity="0.75" stroke-width="1.6"/><circle cx="2122" cy="1995" r="12" fill="#8f2a2a" fill-opacity="0.42" stroke="#8f2a2a" stroke-opacity="0.75" stroke-width="1.6"/><circle cx="1784" cy="1813" r="11" fill="#8f2a2a" fill-opacity="0.42" stroke="#8f2a2a" stroke-opacity="0.75" stroke-width="1.6"/><circle cx="2225" cy="1718" r="11" fill="#8f2a2a" fill-opacity="0.42" stroke="#8f2a2a" stroke-opacity="0.75" stroke-width="1.6"/><circle cx="2338" cy="1773" r="11" fill="#8f2a2a" fill-opacity="0.42" stroke="#8f2a2a" stroke-opacity="0.75" stroke-width="1.6"/><circle cx="2341" cy="1752" r="11" fill="#8f2a2a" fill-opacity="0.42" stroke="#8f2a2a" stroke-opacity="0.75" stroke-width="1.6"/><circle cx="2482" cy="1650" r="11" fill="#8f2a2a" fill-opacity="0.42" stroke="#8f2a2a" stroke-opacity="0.75" stroke-width="1.6"/><circle cx="2494" cy="1664" r="11" fill="#8f2a2a" fill-opacity="0.42" stroke="#8f2a2a" stroke-opacity="0.75" stroke-width="1.6"/><circle cx="2490" cy="1711" r="11" fill="#8f2a2a" fill-opacity="0.42" stroke="#8f2a2a" stroke-opacity="0.75" stroke-width="1.6"/><circle cx="2486" cy="1719" r="11" fill="#8f2a2a" fill-opacity="0.42" stroke="#8f2a2a" stroke-opacity="0.75" stroke-width="1.6"/><circle cx="2452" cy="1672" r="11" fill="#8f2a2a" fill-opacity="0.42" stroke="#8f2a2a" stroke-opacity="0.75" stroke-width="1.6"/><circle cx="2469" cy="1670" r="11" fill="#8f2a2a" fill-opacity="0.42" stroke="#8f2a2a" stroke-opacity="0.75" stroke-width="1.6"/><circle cx="2433" cy="1828" r="11" fill="#8f2a2a" fill-opacity="0.42" stroke="#8f2a2a" stroke-opacity="0.75" stroke-width="1.6"/><circle cx="2437" cy="1849" r="11" fill="#8f2a2a" fill-opacity="0.42" stroke="#8f2a2a" stroke-opacity="0.75" stroke-width="1.6"/><circle cx="2457" cy="1868" r="11" fill="#a9cfe0" fill-opacity="0.42" stroke="#a9cfe0" stroke-opacity="0.75" stroke-width="1.6"/><circle cx="2196" cy="1792" r="11" fill="#8f2a2a" fill-opacity="0.42" stroke="#8f2a2a" stroke-opacity="0.75" stroke-width="1.6"/><circle cx="2189" cy="1841" r="11" fill="#8f2a2a" fill-opacity="0.42" stroke="#8f2a2a" stroke-opacity="0.75" stroke-width="1.6"/><circle cx="2110" cy="1855" r="11" fill="#8f2a2a" fill-opacity="0.42" stroke="#8f2a2a" stroke-opacity="0.75" stroke-width="1.6"/><circle cx="2157" cy="1959" r="11" fill="#8f2a2a" fill-opacity="0.42" stroke="#8f2a2a" stroke-opacity="0.75" stroke-width="1.6"/><path d="M2487,1628l1,31l-191,18l17-7l-92,19l54-8l20-1l1,2l7,9l17-3l6-3l0,5l-27,19l6-10l7,10l7-12l1,1l15,7l5-6l4,5l23-2l6,5l-76,8l8,7l11-10l0,9l9-7l39-2l78,7l-121,17l4-6l25,0l5-2l-26,17l10,14l-8,1l-281,27l41-3l12-8l237,4l-317,14l81-2l-2,19" marker-start="url(#kb47)" marker-mid="url(#kb47)" marker-end="url(#kb47)"/><path d="M2520,1611l-31,7l8,10l-329,12l32,4l3-5l0,2l106-6l153,8l-382,16l105,4l263-10l28-5l-446,26l39-6l136,11l33-14l46,2l176,1l13,0l-429,27l119-2l5-4l17,4l76-7l35,1l143,4l19-3l-265,21l50-9l7,8l195-12l33,10l9-9l-43,25l-299,21l56-9l-38,22l-131,7l85,12l71,0l-29,185l-365,40l20,21" marker-start="url(#ko58)" marker-mid="url(#ko58)" marker-end="url(#ko58)"/><path d="M2385,1715l-617,16l679,39l-406,13l-24,19l176,68l272-1l-324,37" marker-start="url(#kl96)" marker-mid="url(#kl96)" marker-end="url(#kl96)"/><path d="M1808,2052l0,0" marker-start="url(#ko59)" marker-mid="url(#ko59)" marker-end="url(#ko59)"/><path d="M2215,1642l271-10l-311,21l6-1l20-3l258,8l8,4l5-10l14,7l-187,14l160-3l31,1l-48,18l-743,34l784,1l-791,11l-12,10l7,8l475,3l-101,52l40,67l27-1l-288,122" marker-start="url(#kr96)" marker-mid="url(#kr96)" marker-end="url(#kr96)"/><path d="M2449,1759l-571,82" marker-start="url(#kl72)" marker-mid="url(#kl72)" marker-end="url(#kl72)"/><path d="M2163,1646l55,17l237-14l29,7l-28,16l2,6l30-5l3-5l-324,21l30-7l9,7l278,5l12-8l-265,11l215,2l-15,13l-353,71l9,1l122,9l-393,234l0-4" marker-start="url(#ko74)" marker-mid="url(#ko74)" marker-end="url(#ko74)"/><path d="M2387,1719l-65,22l39-2l67,1l-80,5l-12,18l163,3l-417,36l266-2l-463,42l302,0l0,2l-21,23l274-11l7,11l22,4l-314,5l-43,37l57,10l-298,22" marker-start="url(#kl74)" marker-mid="url(#kl74)" marker-end="url(#kl74)"/><path d="M2302,1695l35,57l-292,40l-28,16l122,107" marker-start="url(#ky96)" marker-mid="url(#ky96)" marker-end="url(#ky96)"/><path d="M2342,1716l156,8l-65,16l-27,7l-332,43l5-10l10,7l113-6l134,6l-248,9l9-1l-47,15l25,2l71,15l30,7l7,0l277-8l22-2l-326,29l8-6l43-7l296,1l-323,23l-365,24l358,7l-291,15l251,2" marker-start="url(#kg74)" marker-mid="url(#kg74)" marker-end="url(#kg74)"/><path d="M2491,1608l9,4l4,0l14-4l16,5l-41,14l5-3l5-5l3,11l5-6l19,2l0-3l-362,21l8-2l2,3l3-1l6-5l0,8l1-9l22,0l254,5l4,2l19-11l3,5l2,7l3-9l12,4l5-5l3-1l4,1l6,0l-460,26l3-1l14,2l0-2l0-2l2,2l9,2l79-6l2,1l8-1l7-4l2-3l2,8l3,4l5,0l8-3l1-5l6,2l6,2l1,0l6,5l24-13l192,10l12,1l10-9l2,5l1,2l2-3l0-6l1,4l3,1l0-7l4,0l0,1l2,4l5-3l1-2l6,9l2,4l1-6l-465,18l2-2l0,8l1-5l3,0l0-2l4-4l3,1l1,5l6-2l2,2l8-5l6,9l2-6l6,4l5-12l3,9l3-8l97,12l2-4l3-2l1,4l5-10l2,5l6-6l2,9l14-6l3-2l5,7l1,0l44-2l5,0l6-2l16-2l3,13l16-9l114,2l11-6l15,12l2-4l0,1l2-4l2,0l3,8l1-10l4,5l13,3l2-2l4-4l2-6l-472,18l2-3l1,0l0,7l3-5l3-1l135,11l1-2l1,3l2-2l1-1l0-2l2,1l3,4l4-8l2,5l5-3l1-4l9,2l9,1l5-2l1,2l4-4l4,5l10,2l1-7l19,13l7-13l0,8l57-5l3,5l8-4l2,2l16,4l96-5l6,4l21-5l2-2l2-1l1,0l1-3l5,15l1-3l2-5l1-7l1,11l1-9l7,3l3,0l2,6l5,4l0-9l-860,18l19,7l15-3l8,3l489,0l1,0l4-2l17-5l28-7l4,8l1,5l4-7l24,6l12-1l35-3l2-6l3,12l25-4l0-5l13-2l88,5l7,2l6,1l2,3l9-8l2,2l1,4l8-12l1,0l1,7l1-8l1,1l1-1l4,1l5,3l6,7l2-3l5-6l1-1l-826,29l2,0l2-5l1-3l6,8l14-12l479,1l53,0l79,2l6,4l25-8l26-1l73,12l4,3l7-7l1-3l1-1l1,6l8,0l2-10l2,4l1,2l1-3l5,10l1-13l5,1l1,4l-803,13l3,12l0-6l1,1l2,0l4-3l0-5l3,2l4,9l4-3l1-9l1,7l4,4l1-9l526,6l96,7l3-14l143-1l4,1l-786,21l4,0l13-5l471,12l-96,13l100-9l166,11l91,0l1-11l0,7l-655,16l20,1l5,3l4,3l3-4l9-1l6,5l198-5l60,4l6,1l9-14l1,0l232,11l1-1l119-8l-677,22l9-8l417,11l6-10l-434,21l12-2l5,9l0-5l285-7l111,9l235,1l47-3l-686,12l368-2l284,1l-674,18l153,6l179-5l45-3l27-2l16,0l1,5l255,4l-675,13l1,1l0-2l160,4l1-4l-155,13l158,0l174-4l2,8l1-3l-328,13l1,11l3,2l137-11l187-3l1,4l-239,20l312-3l-382,10l3,12l0,3l80-2l16-7l4,6l-14,5l265,17l6,9l2-3l2,3l-353,18l-10,13l30-8l4,0l10,7l1,0l-51,12l2-2l2,0l-8,21" marker-start="url(#kr47)" marker-mid="url(#kr47)" marker-end="url(#kr47)"/><path d="M2317,1722l28-8l-590,14l577,7l12-2l4,10l9-5l67,2l-742,6l119,2l598,2l31,8l8-5l1-8l-13,16l12-1l1,10l-700,6l9,11l78,3l-41,6l4,9l243-11l304,0l177,8l-106,10l-535,26l587-12l-289,14l332,10l1,5l-588,5l12,6l264-1l271,5l-340,14l17-8l27,0l298-4l-288,26l-13,16l26,1l-303,34" marker-start="url(#kl58)" marker-mid="url(#kl58)" marker-end="url(#kl58)"/><path d="M2334,1703l8,8l3-13l22,0l3,10l10,13l22-2l-74,21l23-1l-209,15l-148,21l340-2l-322,10l69-7l14,7l19,4l95-9l-152,22l18-3l23,3l11-4l3,6l13-10l78,10l-177,7l29,2l58,6l12,5l40-1l-1,13l-24,12l30,28" marker-start="url(#ky58)" marker-mid="url(#ky58)" marker-end="url(#ky58)"/><path d="M2474,1812l0,0" marker-start="url(#kr72)" marker-mid="url(#kr72)" marker-end="url(#kr72)"/><path d="M2334,1778l0,0" marker-start="url(#kb96)" marker-mid="url(#kb96)" marker-end="url(#kb96)"/><path d="M2016,1764l87,10l10-8l6,6" marker-start="url(#kb54)" marker-mid="url(#kb54)" marker-end="url(#kb54)"/><path d="M1689,1713l531,112l-457,20l112,69" marker-start="url(#kr86)" marker-mid="url(#kr86)" marker-end="url(#kr86)"/><path d="M1997,1759l354-3l-6,5l-335,30l41-9l4,22l100,9l328,2l-324,41l16,1" marker-start="url(#kg96)" marker-mid="url(#kg96)" marker-end="url(#kg96)"/><path d="M1755,1727l639-12l9-2l-674,28l1-7l-37,13l9,10l1,0l109-9l601,2l-674,18l2,5l1-2l263-9l5,9l-264,19l5,0l757-8l-739,12l33-1l40,13l671-9l-491,13l91-2l420,28l-682,19l647-11l43-1l5-1l13,1l5,2l-696,24l24,3l3,11l17-5l3-5l570,4l1-1l-638,38l2-1l9-6l-15,18l19,7l289,47" marker-start="url(#kl48)" marker-mid="url(#kl48)" marker-end="url(#kl48)"/><path d="M2502,1646l-39,13l7-3l-429,12l178-1l234,43l16,0l-21,8l22,1" marker-start="url(#ko96)" marker-mid="url(#ko96)" marker-end="url(#ko96)"/><path d="M2371,1705l18,1l29,3l-5,15l-7,14l15,20l0-7l-429,13l4-1l1,0l8,5l1,4l23-8l5-2l33,0l-71,17l7,8l2,2l2-8l0,2l16-6l-12,25l2,1l2-9l0,6l121-5l-109,18l63-4l17,8l6-1l18,82" marker-start="url(#ky48)" marker-mid="url(#ky48)" marker-end="url(#ky48)"/><path d="M2494,1727l0,0" marker-start="url(#kg81)" marker-mid="url(#kg81)" marker-end="url(#kg81)"/><path d="M2322,1701l9,3l20,4l102-2l-143,15l2-7l60,8l3-7l6,5l1,1l65,1l-750,17l648-7l40-2l53,8l15,5l-771,8l645-3l5,2l5-2l6,11l12-2l62-7l10,0l-97,23l2-3l4,2l5-11l1,12l88-13l4,10l5-5l-380,25l125-7l147-7l3,0l9,15l2-15l98,6l-419,15l23-1l11,10l1-13l18,5l344,9l-643,11l0-7l314,3l101-2l7,5l4,1l208,1l-624,5l299,14l19-8l57-1l10,10l246-11l35,2l1,4l-539,21l234-3l9-9l6,12l13-6l2-8l11,10l0-3l4,0l5-7l234,11l3-10l24,5l-543,17l3,2l242-8l4-1l5,1l18,12l257-2l3-2l3,0l2,2l-314,11l35,8l8-14l1,9l285-10l-366,20l35,4l39-5l-295,23l260,0l1-5l10-5l2,4l12,0l1,2l17,8l1-5l7,0l-305,20l282-8l-305,23l288,44" marker-start="url(#kl47)" marker-mid="url(#kl47)" marker-end="url(#kl47)"/><path d="M1721,1762l0,9l1-5l4,4l0-7l1,2l1-2l1-2l0,6l7-2l2-1" marker-start="url(#kg60)" marker-mid="url(#kg60)" marker-end="url(#kg60)"/><path d="M2121,1961l0,0" marker-start="url(#kr54)" marker-mid="url(#kr54)" marker-end="url(#kr54)"/><path d="M2511,1640l5,8l-460,122l10-7l-12,16l78-3l88,34" marker-start="url(#kb48)" marker-mid="url(#kb48)" marker-end="url(#kb48)"/><path d="M2457,1872l0,0" marker-start="url(#kl90)" marker-mid="url(#kl90)" marker-end="url(#kl90)"/><path d="M2475,1673l-149,36l1,0l12,2l32-1l-53,3l41,10l-218,50l-90,7l29,12" marker-start="url(#kb58)" marker-mid="url(#kb58)" marker-end="url(#kb58)"/><path d="M2307,1634l4,6l17-7l183,13l3,0l-210,9l206-5l-407,30l4,2l32,0l111,39l7,4l-66,32l-61,14l96-9l-88,22l18,1l22-9l54,9l-14,14l-381,217l-38,20l9,7" marker-start="url(#ko48)" marker-mid="url(#ko48)" marker-end="url(#ko48)"/><path d="M2351,1710l31-4l68,3l-108,13l37-1l11,2l8-3l-48,12l71,1l-627,14l559,0l69,9l14-2l2,0l58,0l-404,21l97-2l150-5l13-8l140,4l-429,26l116,0l2-4l27-10l232,9l-653,18l264-3l2-2l121-3l1,12l13-3l12-12l151,7l-250,14l83,6l241,0l-313,18l56-6l2,2l10,4l8-9l9,3l262,6l-296,16l2-6l7-3l6-1l3,9l1,0l1-6l13-6l2,13l293-8l-620,20l292-9l7,9l281,4l8-2l-296,13l9-5l7,12l4-3l-44,12l1-7l7,4l18-4l14,10l8,0l-36,7l1-1l14,8l-274,18l281,33" marker-start="url(#kg58)" marker-mid="url(#kg58)" marker-end="url(#kg58)"/><path d="M2066,1661l0,0" marker-start="url(#kr95)" marker-mid="url(#kr95)" marker-end="url(#kr95)"/><path d="M2212,1780l0,0" marker-start="url(#kb63)" marker-mid="url(#kb63)" marker-end="url(#kb63)"/><path d="M2132,1969l0,0" marker-start="url(#kl54)" marker-mid="url(#kl54)" marker-end="url(#kl54)"/><path d="M2175,1639l133-5l180,4l10,8l3-3l16-5l17-6l-464,29l0,2l136-1l12-1l1,2l2-8l42,0l5,8l11-7l182-4l9-2l54,5l-480,13l6,3l1-4l28,6l5-2l1,5l98,1l5,0l11-12l19,9l48,3l186,2l7-11l20,10l-458,12l88-8l61,11l1,0l28-12l14,8l2-5l53,11l57-7l2-4l12,0l97,4l22-8l21,4l6-4l2,6l6,9l-834,12l510-6l3-1l68,0l13,4l1,1l70,2l3-4l29,5l85-5l1-4l34-2l8,12l8-7l-817,22l502-8l132,3l123,0l7,6l2-13l0,6l55,3l2,3l-84,8l17,11l2-11l29-1l-283,18l14,10l220-7l27,7l-407,3l400,5l8,7l-631,13l4,0l9-1l276-4l-305,25l284,3l102,23l15-3l261,0l-693,22l330-4l8,13l-331,18l334,4l15,11l-231,16l-71,48l335,0l2,3l6-4l-365,35l9-6l33,9l-49,15l0,3l49-10l7,0l5-3" marker-start="url(#kr58)" marker-mid="url(#kr58)" marker-end="url(#kr58)"/><path d="M2191,1655l8,7l17-1l45-5l1,6l168-10l-387,20l166,7l238-14l0,4l24-3l-836,19l402-2l133,5l17-2l23,6l8-11l96,2l7,1l3,9l142,0l3,1l1-1l-298,17l80-11l1,4l71-5l110-1l4,8l0-1l22-4l35,3l-827,22l2,2l21-15l508,15l24-15l98,5l6,3l18,4l111-10l1,11l16,2l21-2l-822,16l770-9l-748,14l736,20l15,5l-659,15l336,9l95,15l13,4l-32,26l265,11l-699,17l335-10l-316,49l26,6l88,0l-14,7l9,2l2,10l260,29" marker-start="url(#kr74)" marker-mid="url(#kr74)" marker-end="url(#kr74)"/><path d="M2279,1683l26,0l81,34l-327,56l135-4l-146,14l-25,13l2,9l17-2l54-11l-38,17l28,3l12,2l1,41l65-7" marker-start="url(#ky74)" marker-mid="url(#ky74)" marker-end="url(#ky74)"/><path d="M2393,1779l174,96" marker-start="url(#kg59)" marker-mid="url(#kg59)" marker-end="url(#kg59)"/><path d="M2231,1898l33,32" marker-start="url(#kg57)" marker-mid="url(#kg57)" marker-end="url(#kg57)"/><path d="M2286,1662l26,9l3,19l12-6l6,5l13,3l0-7l-3,24l18-3l-31,18l9-6l1,7l2-13l1,5l8-1l7-4l18,12l8-6l6-3l-68,27l8-1l22-1l21-8l-19,17l-281,25l4,1l266-10l81,6l-381,16l25-3l2-2l27,0l2-4l1-1l6,12l89-11l0-1l11,6l4,4l122,0l5-3l0-3l5,5l1-4l3-3l-313,18l3,2l5,7l12-10l7,10l4-5l17-9l8,12l9-6l6,6l81-6l18-3l6-2l-181,17l52,2l14-3l4-1l1,3l2-2l12,3l46,5l1,4l13-2l9-6l14,1l10,3l-70,9l57-1l-78,30l5-9l45,9l8-2l2-9l-54,18l28,45l34,12" marker-start="url(#ky47)" marker-mid="url(#ky47)" marker-end="url(#ky47)"/><path d="M2256,1715l0,0" marker-start="url(#kr90)" marker-mid="url(#kr90)" marker-end="url(#kr90)"/><path d="M2342,1698l5,2l11,0l18,11l10,0l75-13l-109,27l13-13l3,2l3,0l3,6l2-7l-39,22l10-5l3,3l30-3l12-1l56,1l-749,18l630,10l12-12l6,7l68,1l19-1l5,1l-370,18l29,2l9-1l100,1l128-10l1,9l9-3l77,3l6,0l-340,10l4-2l11,9l96-4l7,4l-424,3l244,1l3-2l1,12l0,2l0-3l8-6l21,3l3,4l17-11l128,14l128-15l-302,18l68,10l26,1l20-6l12,2l1-7l20,12l0-3l21,3l205-10l15-1l0,2l7,9l46-1l3-1l-371,11l1-6l3,5l12,6l30,1l6-13l5,10l10,1l2,0l7,2l0-3l238-7l2-2l1,12l0-7l4,7l1-2l4,4l41-12l5-3l7,7l-377,24l2-4l3,3l16-6l10-8l1,12l4-10l20,12l2,0l0-5l2,0l0-5l2,11l2-14l1,6l0,2l4-3l3,8l0-6l1,1l1,5l11-10l1,9l0-7l2,5l2-1l1-3l231-4l0-3l7,5l1,2l1,8l1-1l-336,4l43,3l7-4l11,0l2,0l3-1l0,11l5-4l9-3l11,11l240-14l7,9l2,0l5,4l3-1l2,0l2,0l2,0l9,2l-366,7l36,0l11,9l6-10l14,9l2-9l5-2l1,11l6-7l-42,18l11-4l13,0l8,1l2,5l10-8l14,4l2,0l2-5l-48,18l17,5l2-5l13,4l4-7l-52,17l4-2l9,0l25,1l3,14l-14,13l11-7l-18,15l8-3" marker-start="url(#kg47)" marker-mid="url(#kg47)" marker-end="url(#kg47)"/><path d="M1837,1773l0,0" marker-start="url(#kl50)" marker-mid="url(#kl50)" marker-end="url(#kl50)"/><path d="M2287,1581l34,18l-72,28l85,2l-86,18l120-12l-81,13l124,36" marker-start="url(#kr59)" marker-mid="url(#kr59)" marker-end="url(#kr59)"/><path d="M2206,1632l22,11l3-6l75,2l3-4l8,9l0-1l1-2l-214,37l336,43l-180,12l158-5l-245,25l2,2l0-1l6,5l38-1l4-1l-226,11l2,6l42-12l118,13l53-8l8,4l-209,7l53-2l48,12l10-5l60-7l-167,20l120,2l88-6l-407,16l-42,37l1,0l334,59l-295,19l7,5l334,48l-320,26l15-2l-16,16" marker-start="url(#kr48)" marker-mid="url(#kr48)" marker-end="url(#kr48)"/><path d="M1836,1849l0,0" marker-start="url(#kl63)" marker-mid="url(#kl63)" marker-end="url(#kl63)"/><path d="M2498,1608l-11,32l-224,20l45,9l14,15l20,11l-29,30l36-9l-6,21l10-9" marker-start="url(#kb74)" marker-mid="url(#kb74)" marker-end="url(#kb74)"/><path d="M2077,1684l101,22" marker-start="url(#ko54)" marker-mid="url(#ko54)" marker-end="url(#ko54)"/><path d="M2215,1630l19,21l201,44l-47,12l15,3l19-5l-28,15l21,1l3,1l3-8l75,8l0,1l-82,16l-724,5l0,4l103-1l1-1l6,0l2,0l1-2l607,10l3-3l-679,13l6,3l755-6l-757,15l284,9l3,5l1,0l10-12l11,0l56,6l2,4l395,2l4-10l-490,13l2,0l5,12l1,0l3,2l63-7l7,7l409-6l4-1l1-6l6,4l-488,16l72-1l1-4l13,12l57-12l-404,30l776-3l-765,6l712,7l1-4l-687,18l106,4l201-3l-310,15l314,2l26,2l348-5l5,0l20-1l-719,13l7-1l320,2l-12,16l30,5l-293,39l-1,8l1-3l24,19" marker-start="url(#kg48)" marker-mid="url(#kg48)" marker-end="url(#kg48)"/><path d="M2495,1610l18,4l4,0l-17,10l7,5l4-5l13-6l2,4l-319,16l231,7l56-2l15,4l17-15l-444,30l80-10l26,7l5-1l8-3l2,2l8,3l19,1l1-8l6,5l24-8l11,8l2-9l9,11l161-6l3,6l6-2l1-2l5,0l10,0l2-5l1,10l5-7l1,3l3,2l2,0l2-6l4,8l-461,13l9,0l21-9l3,2l1,12l33-10l95-1l0,2l6,9l4-14l8,14l16-4l2,4l34-14l24,2l7,5l5-3l153-4l6-1l8,6l7-2l3,5l1-8l2,3l16,4l-461,14l3,4l8,2l6-6l116,4l3-2l0,2l0-1l13,1l1-9l15,4l2,5l3-7l5-1l10,11l11-6l35-5l6,3l26-2l14-2l17,5l131,4l11-1l21-4l4,8l5-2l0-8l-330,13l52,14l10-9l3,10l1-5l85,3l9-4l36-4l93,2l10,8l3-8l1,2l24-8l-796,22l509-6l21,10l8-9l71,12l41-4l88-7l39,3l1-4l2,5l6-6l17,4l-193,16l32-3l-270,44l101-11l2-2l18,8l-10,25l26,14l-446,46l392,104l-358,14" marker-start="url(#ko47)" marker-mid="url(#ko47)" marker-end="url(#ko47)"/><path d="M1678,1737l521,117" marker-start="url(#kr86)" marker-mid="url(#kr86)" marker-end="url(#kr86)"/><path d="M2527,1609l-199,25l137,20l3,1l12-1l-239,14l-14,28l28,3" marker-start="url(#ko96)" marker-mid="url(#ko96)" marker-end="url(#ko96)"/><path d="M2387,1695l0,0" marker-start="url(#kb59)" marker-mid="url(#kb59)" marker-end="url(#kb59)"/><path d="M2488,1788l-60,18l-273,129" marker-start="url(#kg54)" marker-mid="url(#kg54)" marker-end="url(#kg54)"/><path d="M2451,1673l-75,28l74,8l-65,18l6-4l-5,6l1,1l-585,17l610,7l-676,14l677,0l21,5l63-13l-492,17l54,5l47-4l4-2l94,12l7-4l127,3l5-4l111-6l48,6l-482,9l52,2l18-1l19,1l47,8l-320,15l284-7l7,9l11,0l4,4l5-5l25,4l241-7l-624,14l352,6l18-10l25,12l3-9l288-3l19,8l31,2l-426,6l34,6l36,2l13,3l315-1l59-4l8-1l-411,16l14,4l14-9l2,13l260-7l13,7l13,0l-302,15l6-10l324,0l9,6l3-2l2-4l-386,21l25-5l3,10l20-9l11-4l18,2l-91,18l29,0l11,11l5-15l16,5l5,7l3-7l-14,14l0,9l8,0l-275,12l275,0l-321,12l23,9l294,8" marker-start="url(#kg58)" marker-mid="url(#kg58)" marker-end="url(#kg58)"/><path d="M2357,1698l52,24l10,11l-423,42l0-14l8,3l1,0l9,9l0-7l25,6l18,0l115-11l-145,23l76,0l3,6l-12,16l6-11l12,9l-18,4l16,0l-298,111l22-7" marker-start="url(#ky48)" marker-mid="url(#ky48)" marker-end="url(#ky48)"/><path d="M1817,2040l0,0" marker-start="url(#ko59)" marker-mid="url(#ko59)" marker-end="url(#ko59)"/><path d="M2380,1632l-369,137l32,2l22,4l64-5" marker-start="url(#kb54)" marker-mid="url(#kb54)" marker-end="url(#kb54)"/><path d="M2040,1809l0,0" marker-start="url(#kr90)" marker-mid="url(#kr90)" marker-end="url(#kr90)"/><path d="M2068,1681l5,7l16,4l-83,14l69,21l-82,8l-185,355" marker-start="url(#ko54)" marker-mid="url(#ko54)" marker-end="url(#ko54)"/><path d="M2307,1691l21,0l37,20l-32,6l5,9l16,1l-7,15l-211,47" marker-start="url(#kb58)" marker-mid="url(#kb58)" marker-end="url(#kb58)"/><path d="M2201,1641l167,69l59-9l12,56l-355,29l65,26l17,24l14-12l-75,21l58,8l17-12l8-1l1,13l-73,9l36,16l328-2l-324,23l18,2l5-13l-27,25l2,4l10-4l8,8" marker-start="url(#kg74)" marker-mid="url(#kg74)" marker-end="url(#kg74)"/><path d="M2226,1633l206,77l-730,37l10,5l20,1l58-8l21,3l3,0l677,8l7-2l-759,13l757-3l-755,13l2,3l4,3l46,8l232,0l71-7l413-2l-695,12l3,0l-15,41l695,3l-605,7l608,4l54-3l-678,23l25-4l11-9l-17,21l211,2l14,7l358-11l3,0l19,3l9,3l-603,9l-58,16l278,7l-279,34l12,1l2,1l-5,9l6-2l-7,16l10,8" marker-start="url(#kl48)" marker-mid="url(#kl48)" marker-end="url(#kl48)"/><path d="M2198,1867l0,0" marker-start="url(#kr95)" marker-mid="url(#kr95)" marker-end="url(#kr95)"/><path d="M2226,1936l0,0" marker-start="url(#kg57)" marker-mid="url(#kg57)" marker-end="url(#kg57)"/><path d="M2204,1639l107,3l199-2l-203,8l-170,36l278,10l8,4l-11,24l19-6l2,1l-715,35l492,5l2-3l10,3l1,0l8,1l26-14l-251,17l112,9l23-10l50,6l1-2l1,1l22-5l1,8l15-2l268-5l-740,30l339-1l134,1l-470,3l48-2l15,1l397,10l-424,5l308,14l104,8l-343,40l21-7l222,16l15-5l-308,59l0-7l2,0l57,33l289,13l-330,37l11-3l-35,32" marker-start="url(#kr48)" marker-mid="url(#kr48)" marker-end="url(#kr48)"/><path d="M2516,1638l-170,53l-21,16l12,23l9,16" marker-start="url(#kb74)" marker-mid="url(#kb74)" marker-end="url(#kb74)"/><path d="M2351,1700l-22,34l12-2l-260,39l116,4l-114,11l10-7l0,43l16-4" marker-start="url(#ky96)" marker-mid="url(#ky96)" marker-end="url(#ky96)"/><path d="M2376,1727l0,0" marker-start="url(#kb96)" marker-mid="url(#kb96)" marker-end="url(#kb96)"/><path d="M2328,1633l182,3l15,9l-425,36l152,44l-6,5l8,10l-86,21l1,10l5-1l13-6l4,10l4-10l-55,24l66,25l18-1l-429,47l35,149l-13,31" marker-start="url(#ko48)" marker-mid="url(#ko48)" marker-end="url(#ko48)"/><path d="M2323,1689l17,32l50-4l19,26l-73,6l-326,17l18-2l15,2l53,5l8,4l222-14l3,0l-302,23l63-3l-33,18l29-1l19,3l1-8l58,27l7,21" marker-start="url(#ky74)" marker-mid="url(#ky74)" marker-end="url(#ky74)"/><path d="M2226,1641l3,9l118,51l11,7l8-3l19,2l3-5l5,6l37-12l6,6l-48,11l10,10l4-6l3,7l1-6l5,9l2-14l1,13l2-12l0,6l20,3l-743,19l101,1l606-12l2,5l5-1l1-7l3,8l6-5l18,0l-638,13l4,2l1,2l598,11l-663,6l319,4l-315,7l299,5l58,9l401,0l7-9l6,1l3,1l0-5l-420,16l3,12l12-2l3-2l65-2l0-1l1-5l167,7l4,1l158,3l1-10l-656,42l643-4l-724,10l4,9l19-2l707,0l61-3l4-3l-695,17l258,5l-338,7l6,5l1,0l308,5l8-6l23,1l349-3l2,1l4-1l11,6l1,0l7-8l-694,15l289,21l33,4l-301,9l20,34l1,18" marker-start="url(#kg48)" marker-mid="url(#kg48)" marker-end="url(#kg48)"/><path d="M2339,1684l126-4l-75,31l53,16l-766,6l647-2l22,8l10-3l3-5l3,11l66-7l-85,10l3,13l74-5l2-8l0,6l5-2l-101,19l12,4l1-10l2,12l5-13l0,2l80,0l11,7l-408,21l16-10l16,3l35-1l3,2l240-9l2,5l5,7l95-9l-664,18l311,3l117,1l142-8l-570,15l5,2l382,2l17,10l21-1l3-3l-65,12l38,8l241-6l1-5l42,6l4-6l-562,26l198-10l60,6l10-6l4,6l0-3l1,4l3,1l3,1l3,2l1-1l5-4l4-5l230,0l4-4l8,14l0-6l23-3l19,1l-560,11l245,13l9-13l5,14l266-3l1-3l0,2l10,0l-305,18l7-5l11,6l12-12l0,13l21-1l269-13l-334,15l4,3l25,1l5,1l4-3l13,9l-301,13l7-5l243,7l4,1l5-5l5,1l15-2l3,10l5-7l5-2l6,8l-301,5l9,11l276-14l11,2l-3,15l-21,26l0-7l8,2l8,3" marker-start="url(#kl47)" marker-mid="url(#kl47)" marker-end="url(#kl47)"/><path d="M1712,1762l9,6l2-6l0,3l0,4l1-6l1,2l1,3l0-1l0-5l4,4l3-2l0,5l2-5" marker-start="url(#kg60)" marker-mid="url(#kg60)" marker-end="url(#kg60)"/><path d="M2512,1619l-316,21l20,0l248,4l31-5l6,2l26,0l-453,20l13,0l143-9l79,1l-276,26l159-15l39,0l68,11l166-11l12,7l-345,10l80,10l31-4l42,1l205,1l-237,10l185,10l-92,5l88,4l42,6l-255,12l25,0l9,5l176-12l27,1l-242,28l-186,17l171-5l15-7l-136,15l125,14l-407,202l12-8" marker-start="url(#ko58)" marker-mid="url(#ko58)" marker-end="url(#ko58)"/><path d="M2406,1755l0,0" marker-start="url(#kg81)" marker-mid="url(#kg81)" marker-end="url(#kg81)"/><path d="M2486,1668l-39,26l-106,17l2-10l11,3l9,7l13,9l1-3l3-5l-36,19l37-1l41,11l15-2l8-10l-746,21l631-3l6,0l17,5l1,6l3-11l69,6l1-1l-339,20l7,3l93-1l5-4l135,3l9-8l6,8l2-6l85,2l2-3l9,2l11,1l-429,14l2,5l16,1l0-4l6,0l7-1l130,0l6,6l20-12l124,9l5,1l-284,4l3,5l4,1l7-5l11,8l24-1l378,7l-360,9l16,0l5,2l0-5l13-3l1,4l9-4l1,8l3,2l8-1l2-5l7,4l4-10l9,12l0-12l278,15l-376,6l0-1l1,4l5,7l2-7l9,5l3-10l7,7l1-4l14,5l15,1l5,2l6,0l3,0l2-6l3-8l4,2l3,6l11,0l11-7l0,2l208-3l9,10l-322,15l20-2l9-6l5,0l2,7l2-7l1,8l12,5l7-14l1,6l1,9l1-15l1,13l3-12l0,2l0,4l4-2l3,2l0-7l5,2l3,10l19-10l237,5l17-5l9,8l-352,9l8,1l4-4l5,1l7,6l9-5l7-1l17,11l10-6l20,8l240-13l6,11l3-2l0,2l3-2l0,3l1-2l0,2l2-3l1,0l2,1l4-1l1,4l-317,14l9,3l3-8l12-7l1,6l7,8l4-6l284-8l1,2l-330,19l14,8l9,2l1-6l7,1l3,0l4,0l6,0l9-3l1-4l1-1l-315,24l270,5l4-6l2,3l15-12l0,14l4-10l10-4l1,15l2-3l6,2l1-14l3,9l-27,7l8,27l-15,11" marker-start="url(#kg47)" marker-mid="url(#kg47)" marker-end="url(#kg47)"/><path d="M2288,1662l143-5l-135,20l31-4l1,5l2-3l-65,13l33,2l3,5l12,0l7-3l11,1l7-4l95-7l-216,23l92-1l1-8l3,6l12,4l28-3l14,6l7,0l76-10l28,10l-178,7l12,6l7-9l2,8l0-7l2,11l1-7l8,3l0-8l8,6l7,7l1-6l-14,15l36-4l-290,43l-43,10l60-2l245,1l-251,25" marker-start="url(#kb47)" marker-mid="url(#kb47)" marker-end="url(#kb47)"/><path d="M2520,1617l-48,29l-390,16l114-2l78-8l204,0l17,3l-470,23l31-11l247,19l185,6l5,13l-46,7l3,8l-446,48l-200,20l275,11l-222,116l23,6l-11,23l287,15l-317,57" marker-start="url(#kr96)" marker-mid="url(#kr96)" marker-end="url(#kr96)"/><path d="M2149,1951l0,0" marker-start="url(#ky68)" marker-mid="url(#ky68)" marker-end="url(#ky68)"/><path d="M2485,1645l-396,16l347-12l-382,23l7,2l1,4l132-8l10,9l11-4l11-2l72,2l144-8l22,1l2,3l-408,9l110,8l17-5l22,4l8,5l265-11l8,12l5-13l5,3l-179,26l10-1l20,0l127,3l-155,11l109-4l25-3l10,7l7,5l-778,13l761-12l-227,42l203,4l-632,11l-5,20l230,2l56,4l24,80l-219,39l7-6l7,3l-5,10l2,6l-82,20l62-7l-80,37l41,5l1,0l7,3" marker-start="url(#kr74)" marker-mid="url(#kr74)" marker-end="url(#kr74)"/><path d="M2500,1611l1-3l33,7l-28,14l20-4l-377,17l5,2l31,1l10-6l5,6l12-6l221,7l23-2l3,0l27,2l14-4l6-10l-440,29l4-1l3,1l4,0l4-3l8,5l5-3l65-9l1,11l3-1l8-6l12,4l1,3l1-2l6-1l3,0l2,2l2,1l11-11l16-2l4,6l0-7l0,10l31-3l9-6l2,1l4,8l13,3l144-11l7,3l1-1l8,9l3-10l4,3l2,0l7-1l2,3l3-4l5,10l0-7l4,3l6-1l2-4l0,4l4,0l2,1l1,3l-467,18l2-1l2-2l1,1l2-2l2,3l3-3l5-3l1,6l6-1l12,2l15-15l9,7l8-4l91,9l2-5l5,8l3-15l4,14l4-4l3-3l7-7l5,7l3-6l7,10l2-4l15-5l1,7l0,2l27-11l3,2l3,8l29-1l127-4l11,8l6,1l2-1l19-3l2,0l0,4l1-12l-842,16l11,11l4-10l370,4l10-6l135,8l4-1l1,0l0,2l1,0l12,1l4-10l3,13l4-12l8,3l16-5l11,15l16-8l4-3l44,4l1-4l11,2l2,1l2,6l3-9l1,11l8,0l2-10l1-4l21,4l102,8l2-7l22-4l21,7l5,4l4-7l-844,17l9,3l0,4l1-4l16,4l1-1l14-4l470,5l54-6l49-5l42-1l1,10l4-12l2,2l26,10l87-3l2,2l1-5l6,0l2,8l0-7l7-7l14,10l0-3l4-4l7-2l4,5l2,3l1-8l7,2l-808,27l0-6l9-5l6,12l472-15l1,1l5-1l1,4l0-3l19,8l3,2l14-4l95-4l2,2l3,0l7,5l5,5l2-11l14,4l104,0l0,1l2,5l14-9l18,6l3,1l8-11l-817,21l4,9l3-13l4,10l0-7l1-5l0,11l17-6l517-5l11,4l87,5l19-5l6,3l106-3l10-4l-778,17l8,6l1-6l3,2l4-1l653,3l68,7l22-10l-225,19l121-4l10,4l78,6l23-7l-653,19l10-2l17,7l7,2l370-5l142-7l-561,19l46-5l244,14l2-2l35,3l108-11l-426,22l6-4l256-6l24,0l1,0l130,9l208,2l15,1l-642,7l383,1l263,2l30,6l-698,12l337,7l85-11l5,7l10,1l-437,11l3,3l149-9l14,10l174,0l73-11l1,3l-406,26l371-10l-365,16l5,12l322-3l1-5l71,2l-390,13l0,1l1-3l12,5l89,6l1-1l23-4l3-5l190-4l-305,16l98,7l-96,18l14,5l67-3l3-6l271,5l-358,8l19,5l338-2l3-1l6,3l2-6l-370,17l13,8l6,4l1-15l2,3l-21,16l7,8l1-10l16,3l6,1l1-3l9,12l7-8l-46,10l37,1l5,3" marker-start="url(#kr47)" marker-mid="url(#kr47)" marker-end="url(#kr47)"/><path d="M2431,1638l79-1l-177,47l-20,18l5,3l4,3l19-1l11,0l23-6l2,2l-31,21l6,3l21-1l3,0l11-12l1,2l0,2l1,6l0-5l0,2l-44,7l0,4l6-3l-16,19l0,11l20-12l-286,27l11-3l15,0l238-2l9-4l-315,26l3-3l6-6l4,2l1-1l4,2l16,4l24-10l13,0l5,6l1-6l0,8l94-8l144,11l-320,11l4,2l0-11l4,11l13,3l1-3l1-4l20,0l1,4l11,4l13,0l9-13l4,12l90-11l-116,15l2,3l1-4l0,2l17,0l6,7l0-10l5,13l2-2l9-3l22-4l17,4l5-6l22,0l-60,14l48,5l9,3l-62,19l24-7l23,9l9,0l7-8l9-4l-83,17l41-1l9,0l28,1l-35,28l-9,35" marker-start="url(#ky47)" marker-mid="url(#ky47)" marker-end="url(#ky47)"/><path d="M2309,1577l-67,17l21,6l39,9l133-7l-140,21l19,7l-7,6l14,8l11,2l70-2l41,8l-11,12l-53,32l-243,300" marker-start="url(#kr59)" marker-mid="url(#kr59)" marker-end="url(#kr59)"/><path d="M1697,1742l697-8l-293,42l-325,30l402,47l-393,46l402,22l-311,44l292-1" marker-start="url(#kg96)" marker-mid="url(#kg96)" marker-end="url(#kg96)"/><path d="M2497,1611l1,24l-225,20l31-4l153-2l9,1l24-2l-258,22l-206,22l159-1l115-2l196-9l-25,20l-23,24l35-3l17-5l-46,16l-281,27l-16,10" marker-start="url(#ko74)" marker-mid="url(#ko74)" marker-end="url(#ko74)"/><path d="M2335,1628l-7,6l195,5l-12,15l-489,108l116,23l-331,133" marker-start="url(#kb48)" marker-mid="url(#kb48)" marker-end="url(#kb48)"/><path d="M2438,1686l-98,23l0-5l12,2l29,21l7-15l-34,36l85,6l-7,15l-692,7l6,13l262-3l328-9l3,13l1-7l1-7l-331,25l338-7l-160,17l349,27l-356,7l5,10l21-15l223,3l99,10l-619,15l188-9l364,5l-305,19l8-6l336,2l-660,16l52-7l19,10l3-10l223,15l35-15l27,10l-371,15l37,0l4,17l22-4l281-4l-322,24l309,37l10-12l-13,13" marker-start="url(#kl58)" marker-mid="url(#kl58)" marker-end="url(#kl58)"/><path d="M2352,1707l8-1l-42,16l67-9l-48,27l24-4l55,20l-422,8l18,4l54,1l3,3l139,0l127-5l9,8l-344,8l31,7l37-9l26-5l1,1l2,10l-88,7l6,0l29,2l3-2l31-1l8,10l17-6l85,2l148-5l-315,17l125,4l-43,12l4,9l57-11l1,13l16-6l-10,14l3-4l9,12l0,3l-367,69" marker-start="url(#ky58)" marker-mid="url(#ky58)" marker-end="url(#ky58)"/><path d="M2510,1611l24,0l-22,9l10,9l1-5l3,4l7-4l-322,18l288,4l15-12l16,3l-450,21l70-5l5-5l33,0l12,3l12,0l14,2l8-3l17,13l6,0l20-7l181-8l40,13l-469,16l11-1l11-7l4-2l6,6l3,5l18-7l9,1l100-6l9,8l4-6l7,0l6,1l1,2l28,1l28-4l8,3l7,6l17,0l22,1l105,1l15-1l13-10l6-2l6-2l8,1l-460,21l19-1l143,1l4-5l2,12l17-2l1-9l10,9l8,1l4,0l24-7l13-4l27,9l18-6l2,0l119,10l2-9l6,6l3,3l7-7l10,7l10-11l4,8l3-5l1,6l10-2l2-3l-318,24l51-4l6-9l4,6l10-8l11,11l7-4l8-7l6,15l38-3l12,3l8,0l10-14l25,4l70-1l7-1l9,11l5-2l8,1l3-12l9,6l10,5l-804,18l486-13l139,13l130-2l1-8l21-4l21,6l17-2l-302,15l7,3l53-6l57,4l-141,31l3-3l17,14l16-14l1,2l8-2l-143,48l117,2l-432,52l36,95l-1,23l-2,13l4-3l-11,19" marker-start="url(#ko47)" marker-mid="url(#ko47)" marker-end="url(#ko47)"/><path d="M2486,1628l3-3l28-7l-367,26l40-2l2,4l113-10l8,4l0-1l135,5l16-1l27,2l12-2l-416,18l3-2l105-10l22,4l18-5l19,9l53-5l133-4l75,2l-490,25l20,0l5-10l5,1l0-1l4,10l14,1l115-9l19,7l24-8l15,7l12,3l71-5l104-2l29-3l12,1l18,7l1-2l-470,18l13-9l3-1l130,11l0,2l43-5l235,7l12-1l1-9l2,9l10-1l4-1l4-8l-822,20l21,1l510,2l66-10l43,12l1-7l18-3l125-1l1,12l15-4l0-10l6,2l6,11l3-9l26,0l-830,24l0-1l507-5l1,4l82-9l50,0l60,7l72,5l9-12l0,2l20,4l17-2l-797,17l1,4l4-2l538-3l78-1l184-3l-322,29l-85,14l99-1l11-1l5-4l292,1l-705,20l8-6l268,6l16-7l127,0l-421,13l276,11l31-6l111,4l-166,8l40,1l9,25l-328,11l1,7l129,8l33,16l-74,31l40-2l11,8l-88,10l60,14l19-3l-71,19l333,12l0-5l-346,12l1,3l42,22l313-14l-337,25l16-7l0-1" marker-start="url(#kr58)" marker-mid="url(#kr58)" marker-end="url(#kr58)"/><path d="M1832,1766l0,0" marker-start="url(#kl50)" marker-mid="url(#kl50)" marker-end="url(#kl50)"/><path d="M2513,1650l0,0" marker-start="url(#ky81)" marker-mid="url(#ky81)" marker-end="url(#ky81)"/><path d="M2483,1667l-377,105l235-9l92,1l86,34l-661,26l633,12l-26,35l-574,3l271,16l1,22l-279,9l288,44l-13,17" marker-start="url(#kl96)" marker-mid="url(#kl96)" marker-end="url(#kl96)"/><path d="M2373,1705l67,38l-709,6l697,15l-224,43l-38,76l3-7l-316,22l316-5l-300,45l-21,24l305,29" marker-start="url(#kl74)" marker-mid="url(#kl74)" marker-end="url(#kl74)"/><path d="M2464,1712l-626,111l25-4l561,11l-549,82l-3,48l284,3l17-11" marker-start="url(#kl96)" marker-mid="url(#kl96)" marker-end="url(#kl96)"/><path d="M2449,1720l-35,50l13-1l-338,21l250-4l-274,9l133,30l-20,15l9,11l261,17l7,1l-272,32l7,3" marker-start="url(#kl74)" marker-mid="url(#kl74)" marker-end="url(#kl74)"/><path d="M2107,1771l-65,16l-16,20l61-4l101-5l-151,12l126,19l-1,11" marker-start="url(#ky74)" marker-mid="url(#ky74)" marker-end="url(#ky74)"/><path d="M2432,1817l0,0" marker-start="url(#ky72)" marker-mid="url(#ky72)" marker-end="url(#ky72)"/><path d="M2227,1648l192,46l-68,14l13-2l10-3l3-4l14,24l9-10l0,3l3,2l11,4l7,2l76-3l-737,7l637,0l1,8l4,2l12,3l1-3l24-10l-722,20l82-3l606-1l2,3l4,8l10,4l74-11l-759,21l1-3l0,6l1-5l678-6l79,8l1-5l-495,21l6,5l8,1l28-10l461,1l-495,13l17-3l108,3l40,3l175-5l2,5l160,0l-666,18l263,6l4-10l50,3l0,2l-356,13l690,4l-724,7l97,7l623-1l-716,19l95-2l9,4l240-2l-17,19l410-10l-737,18l335,2l-282,17l281,2l21-6l-290,49l6,4l23,0l-21,10l2-3l23,4" marker-start="url(#kg48)" marker-mid="url(#kg48)" marker-end="url(#kg48)"/><path d="M2494,1661l-57,21l-103,22l-331,72l16,23l75,22l27,2l29,6l26,18l-55,24" marker-start="url(#ky96)" marker-mid="url(#ky96)" marker-end="url(#ky96)"/><path d="M2203,1638l8,8l104-5l198,2l-205,11l217,0l-255,71l-1,15l-98,7l39,9l2,3l1-4l34-4l-89,18l34-1l33,0l2-4l-35,12l-74,17l106,3l-9,34l5-6l-394,193l-28,25l15,2" marker-start="url(#ko48)" marker-mid="url(#ko48)" marker-end="url(#ko48)"/><path d="M1994,1759l32,6l13,4" marker-start="url(#kb54)" marker-mid="url(#kb54)" marker-end="url(#kb54)"/><path d="M2366,1701l105-4l-112,24l108,6l11-5l-114,18l73,2l0-3l16,0l-107,15l73,1l9,1l9-5l4-6l-359,30l6-6l244-4l1-5l1,7l9-7l74,1l36,10l-388,11l0-3l6,9l20,3l4-5l7,2l3-8l102,5l1,2l136-10l91,1l15,5l1-6l-413,22l23-6l3,10l5,2l3,2l7-11l8,11l98,0l3-5l10-2l13,3l211,3l-633,9l303-7l15,9l2-1l5,1l1-2l0-3l1,8l12-4l5,7l3-13l28,11l6-1l4-1l6-11l3,8l3,7l4-2l4-6l3,4l0-5l8-2l201,1l3,6l5-3l17,6l-301,16l6-7l8-7l18,1l5,12l2-6l12-1l2,2l1,2l0-5l3-4l14,3l6-4l214,2l8,0l-320,19l4-1l21,0l5,1l24,4l0,6l2-2l3-9l2-3l1,7l0,2l3,5l1-9l3,4l1,0l2,2l3,1l0-1l3,1l5-4l5-9l5,7l226-6l5,5l4,1l1,1l-319,14l19,0l6-2l8,1l5,1l1-2l5-2l3,0l11,0l3,12l2-10l12,1l2,5l240-10l13,12l1,0l0,2l10-3l2,3l-313,11l13-3l5-2l0,8l1-6l1,7l7,0l6-9l0,8l0-7l10,3l4-2l-60,24l1-1l14-4l10-8l8,13l3-1l2-11l3,1l1-1l9,12l4-14l10,11l-300,18l246,2l2,0l2-10l5,6l1-10l3,12l9-2l10-6l0,10l15-4l-36,43l8-6l-18,43" marker-start="url(#kg47)" marker-mid="url(#kg47)" marker-end="url(#kg47)"/><path d="M2507,1626l6-6l-360,27l340-8l24-2l-452,23l140,0l56-2l15-9l188,7l12-8l21,12l-460,10l8,7l5-6l136-4l5,11l2,1l240-10l21,2l24-2l-377,12l229,4l119,8l10-12l22-1l1,10l6-2l-321,16l93,3l198,1l-225,13l209-2l40,1l-215,16l191-4l-768,12l487,16l1,12l0-1l15,22l-389,195l-15,42" marker-start="url(#ko58)" marker-mid="url(#ko58)" marker-end="url(#ko58)"/><path d="M2489,1610l10,0l3,3l-9,10l7,7l10-4l7-1l5-4l2-2l-360,28l4-1l6-2l4-7l6,4l5,3l4-2l245-2l3,5l3-6l55,8l2-7l9,4l5-11l0,1l12,5l1-1l-449,23l73-11l7,13l13,0l6-3l6-7l1,10l0-5l1-9l1,11l5,2l1-9l5,8l6,2l1-15l2,15l7-10l18,6l18-9l15,4l2-2l8-1l167,9l3-7l6,3l7,5l1-6l0-4l1,6l2,1l2,5l1-3l1-12l7,0l3,4l6,2l1,6l2-1l1,3l-460,15l3,1l0-2l1-2l4,2l1,3l8-9l0,6l5,0l3-6l0-5l0,4l2,1l5-3l0-2l8,3l4,2l0,6l3-8l5,4l5,4l6-5l2-2l99,4l8,1l2,4l1-4l3-9l0,2l2,7l3-9l5,4l5-2l1,10l8-4l2,1l2,1l0-7l20-4l0,10l30-4l1,6l16-8l3,4l9-4l8,4l1,0l114-6l0,7l12-3l5,9l1-15l1,11l14,0l2,2l6-5l2-3l8,3l7,3l1,4l-862,9l9-6l7,3l375,3l4-8l0,9l6-5l11,2l2-3l119,9l1,0l0-2l0-1l1,1l0-1l1,6l0-5l1,3l0-1l16-11l13,11l12-9l9,12l4-8l4,7l11-10l17,10l2,0l11-10l10,6l21,0l5-3l5-1l4,5l11-4l11-2l129-5l1,12l1,0l3-11l1,3l14,8l1,1l1-6l2,4l7,4l4-2l-858,7l11,7l3-11l1,5l0,4l3-3l1-4l3,5l3,3l4,5l4-2l494-2l1,1l3,0l56,2l14-9l8,6l29-1l24,5l5-5l0-4l4-4l4,11l23-4l3-2l26,4l66-6l1,7l7-3l17-9l3,7l4-6l3,5l3,3l2-1l11-4l-816,17l3,7l14-6l542,7l71-12l11,9l0-10l13,0l0,8l11-4l15,8l14-6l88-1l2,2l3,1l6-2l14,8l4-4l-807,12l8-1l8-2l1,7l1,1l3,0l8-2l500-4l1,8l2-1l48,0l61-9l4,5l14-6l11,9l3-6l83,6l13-9l6,0l2,2l7-1l-780,16l4,1l2,3l1-1l530-1l2,10l141-15l76,12l-261,5l2,0l0,2l2-1l30,8l121-5l107-5l14,2l-661,26l1-8l5,6l2-7l6,5l10,7l3-2l6-4l1,0l3,6l205-7l55-8l20,6l83-2l5,1l139-5l113,10l-667,18l3-2l254,5l24-2l4,0l137-10l-422,19l265-4l1-2l19,0l15,3l348,8l7,3l-653,5l12,2l639-5l45,4l-712,25l133-2l13,2l2-1l181-11l92,8l-424,7l3,4l3,10l2,6l3,10l4-2l150-7l-150,16l363,1l-269,12l3,8l12,8l11,7l6,4l-99,12l71,4l3-11l11,6l267,9l1,9l0-5l2,1l3,3l1,5l4-6l-369,13l1,1l0-2l8,11l-8,6l1,4l7-6l1,1l0,4l3-5l15,1l1,1l12,10l1-3l2,3l0-2l1-2l1-1l1,2l2,2l7-1l-61,11l3-6l46,1l4,0l0-1l0-2l-54,22" marker-start="url(#kr47)" marker-mid="url(#kr47)" marker-end="url(#kr47)"/><path d="M2315,1687l8,34l0,8l-281,44" marker-start="url(#kb74)" marker-mid="url(#kb74)" marker-end="url(#kb74)"/><path d="M2211,1636l162,64l-616,27l738-6l-764,16l20-8l12,0l2,0l8,7l7,1l-71,11l8,6l15,0l64-8l1-1l201,20l-253,23l261-3l494,4l4,0l2-6l1-1l-740,11l53,1l198,7l6-4l325,1l0,3l148,31l2,0l2-1l29-1l-692,25l32-6l13,3l1-6l616-4l45,2l19,6l-670,8l3,9l12-10l-10,16l232,12l366-9l-596,13l206,11l-285,14l15-1l266-1l-249,16l-7,18l13-4l7,7l-7,13l3,0l2,0l8-4l-22,14l7,5l303,1" marker-start="url(#kl48)" marker-mid="url(#kl48)" marker-end="url(#kl48)"/><path d="M2495,1622l22,7l-201,14l138,4l-297,9l90,5l239-4l2-1l-461,21l8-5l44-1l108,7l39-14l4,11l233-2l-275,10l55,3l95,5l98-5l37,0l25,7l-293,14l114-7l122,1l6,4l5,5l22-5l-804,9l5,2l16,10l640-11l2,8l-646,15l1,3l1-10l518,4l-520,9l750,25l-649,17l37,5l280-2l2-1l-329,34l14-14l-14,90l137-4l-131,13l111,8l-81,19l63-1l0,15l16-7l4-5l-99,28l14,7l-17,20l0-1l-2,19l35-2" marker-start="url(#kr74)" marker-mid="url(#kr74)" marker-end="url(#kr74)"/><path d="M2353,1623l-317,82l18-2l-57,20l-207,357" marker-start="url(#ko54)" marker-mid="url(#ko54)" marker-end="url(#ko54)"/><path d="M2245,1611l200-1l30-4l-107,21l60-9l-176,28l20-12l-5,20l15,3l66,4l79-3l-314,270l4,14l28,29" marker-start="url(#kr59)" marker-mid="url(#kr59)" marker-end="url(#kr59)"/><path d="M2164,1687l-250,165" marker-start="url(#kr86)" marker-mid="url(#kr86)" marker-end="url(#kr86)"/><path d="M2421,1770l0,0" marker-start="url(#kr81)" marker-mid="url(#kr81)" marker-end="url(#kr81)"/><path d="M2372,1705l58,15l-94,20l15,0l0-4l-247,37l327-2l-320,18l93,1l133-4l-311,19l39-10l34,20l2-7l42,3l3,8l35,18l-15,12l30-8l300,13l65-13l-124,16l4,8l-653,14l405-2l295-4l-323,30l20-15" marker-start="url(#kg74)" marker-mid="url(#kg74)" marker-end="url(#kg74)"/><path d="M2196,1656l278-4l37-4l-187,49l4,6l16,4l5-7l15,7l11-5l12,12l-707,29l17,0l622-13l17,9l11,1l6-3l5,4l17-13l-695,22l15-1l627,5l1,5l17-12l16,4l73-2l-232,21l137-4l2-6l5,2l2,13l86-15l-380,29l35-7l246,0l4,4l2-2l4,1l-568,21l1-13l318,9l2-3l10-7l238,2l-566,25l257-9l153,8l6,3l222-6l12,7l61,0l-706,5l10-3l367,8l23-2l241,5l65-4l-592,20l280-3l2-7l251-1l-329,21l84-5l2,15l2-2l11-6l241-7l6,11l0-2l5,5l11,1l2-1l1,1l3-1l-315,17l4-2l9-12l2,7l2-1l11,8l6-11l9,10l-50,5l11-3l9,8l24,2l2,2l7-5l-311,15l6,6l4-3l203-8l90,4l7,0l-305,16l282-2l2-1l13-1l-15,38l-16,24l7-5l3-3l1-5" marker-start="url(#kl47)" marker-mid="url(#kl47)" marker-end="url(#kl47)"/><path d="M2154,1640l306,6l10-6l17,7l4-1l-296,9l293,4l-396,10l357-3l14,6l-327,10l321,11l35,2l-325,5l279-2l15,3l-286,13l298,4l-789,20l652-3l138-6l-307,43l-366,16l17,15l-42,7l271-1l-166,119l13,2" marker-start="url(#kr96)" marker-mid="url(#kr96)" marker-end="url(#kr96)"/><path d="M2513,1652l-183,39l119-5l-133,26l27,12l3-10l2,5l-249,92" marker-start="url(#kb58)" marker-mid="url(#kb58)" marker-end="url(#kb58)"/><path d="M2516,1614l-5,7l10-1l-346,20l9,5l24-5l3-2l221,1l20,5l21,0l14-2l5,5l0-4l10-7l23,0l-460,26l14-1l123-7l1,9l1,0l3-3l4-5l21-4l23,6l27,4l30,2l125-12l12,3l9-2l2,9l1,1l1-2l0,1l23-4l28-7l-474,24l15-10l7,2l13-2l20,0l114,10l3,0l18-6l24-4l2,0l4,2l8-2l0,15l174-4l2,1l17-4l8,0l1,5l4-1l2-1l13-7l3,10l-469,12l1-9l4,1l1,8l4-4l139,6l2,0l12-10l40,6l4-4l0-3l30,13l7-11l16,4l5-4l7-3l139,0l9,11l3,2l28,2l19-9l-300,24l25-10l15,2l9-1l2-3l11,12l14-7l40,8l133-5l5-7l1-2l7,12l-278,7l38,5l3-1l21-4l66,1l135-1l34-2l1,10l-265,17l3,23l-13,14l-20,27l8-5l-423,74l391,85l-359,9l-3,24l5,2l50,5l-59,8l41-2" marker-start="url(#ko47)" marker-mid="url(#ko47)" marker-end="url(#ko47)"/><path d="M1802,2079l-6,8" marker-start="url(#kr54)" marker-mid="url(#kr54)" marker-end="url(#kr54)"/><path d="M2510,1647l6,1l-166,59l5-4l5-5l40,7l-5,16l7-7l3-2l6,10l-224,22l218,1l-410,29l10-9l5,8l1,0l15-3l10,1l16-6l10,4l57,4l-101,14l5,4l1-12l23,0l3,3l15-1l40,4l32-9l-124,23l1-6l7,9l2-4l66,5l1,3l1-13l6,14l9-11l5,10l54-12l-74,29l5-8l1-4l6-2l-4,16l18,60l-288,27" marker-start="url(#ky48)" marker-mid="url(#ky48)" marker-end="url(#ky48)"/><path d="M2123,1994l0,0" marker-start="url(#kr63)" marker-mid="url(#kr63)" marker-end="url(#kr63)"/><path d="M2458,1660l-160,7l52,29l8,4l3-1l8,3l46,3l-95,8l28,8l35,1l58,11l-106,26l-335,7l61,4l276,4l-338,3l29,12l38-13l284,15l-316,10l19,5l1,1l1-3l-33,5l77,14l14-6l77-2l-39,21l26-6l-72,14l40,14l20,2l7,13" marker-start="url(#ky58)" marker-mid="url(#ky58)" marker-end="url(#ky58)"/><path d="M1716,1766l7-2l5-4" marker-start="url(#kg60)" marker-mid="url(#kg60)" marker-end="url(#kg60)"/><path d="M2527,1609l-203,21l173-5l37-8l-67,29l20,0l-263,6l54,18l19-1l169-4l0,6l11,4l-279,8l237,8l-266,8l322-3l-3,19l-702,151l-8,39l378,50l-359,36l2,3" marker-start="url(#ko74)" marker-mid="url(#ko74)" marker-end="url(#ko74)"/><path d="M2333,1787l0,0" marker-start="url(#kl90)" marker-mid="url(#kl90)" marker-end="url(#kl90)"/><path d="M2453,1702l-146,25l-623,8l651,2l21,4l2-8l21-3l74,10l-711,29l318,20l275-4l15,6l160-12l-451,24l28,0l8-11l255,7l58,16l-206,13l221,3l58,1l-616,21l238-11l64,9l266-7l70-4l-576,25l196,4l74-3l247,2l19,3l-663,4l373,6l7,0l307-6l7,0l-582,22l274,5l-46,10l29,6l8,17l-333,18l311,21" marker-start="url(#kl58)" marker-mid="url(#kl58)" marker-end="url(#kl58)"/><path d="M2501,1607l-9,17l21-7l1,8l10,6l-309,13l1-2l1,4l251-2l9-5l21,3l26-2l-447,19l15,1l71,1l24,1l11-10l5,10l265-10l11,11l5-13l15,0l-463,23l1,1l47-10l131,15l32,0l35-12l16,5l30,5l144-3l-291,19l4-3l15-10l51,0l47,9l6-9l6,2l143,6l24-6l-822,21l13,8l497-12l71,9l195-6l35-5l13,10l3-2l-811,21l503-8l17-4l59,13l1-1l70-5l25-2l89-1l4,7l10-10l15,1l2,3l17-4l-810,16l28,6l1,1l745-10l-749,24l355,22l280-12l104,12l-641,12l2,1l13-4l276-6l97,7l145-7l3,11l-506,17l229-8l32-4l20,9l-331,9l275-2l21-1l145,14l260,1l-704,3l435,2l-312,19l295,10l-415,37l423,3l-413,11l1-1l80,12l27-12l-28,20l27-4l-27,20l27-5l-95,19l71-1l290,10l0-5l-315,37l4,0l-51,3" marker-start="url(#kr58)" marker-mid="url(#kr58)" marker-end="url(#kr58)"/><path d="M2217,1629l108,2l-23,8l12-3l195,6l-303,10l308,1l4-3l4,3l-383,29l284,28l5-6l4-6l-5,16l10,16l4,1l-244,23l23,2l5-1l-216,16l3,2l11-10l172,11l16-12l-211,17l48-1l64,7l20-6l47,1l60,7l-443,15l7-5l4-1l-41,50l135,19l-94,45l11,25l2-4l37,35l295,1l-287,7l-14,21l1,0l-24,17l16-1l2-5l7-6" marker-start="url(#kr48)" marker-mid="url(#kr48)" marker-end="url(#kr48)"/><path d="M2374,1703l14,2l90-4l-96,12l47,29l-741,6l6,3l2-4l106,1l532,1l26-1l44,7l7,4l12-6l-381,11l33,9l349,0l7-7l64-2l-748,24l281-1l3,1l52,0l15,3l10-6l12-9l213,5l6-1l169,3l-496,12l23,0l8,0l33,10l127-12l218,13l-335,6l3,3l1-2l2-5l58,6l1,0l270-6l60,6l-638,20l261,0l1,5l5-12l20,1l29,1l4,8l18-3l2,4l0-7l246-7l49,0l52,6l1,8l-764,10l99,5l18-12l216,5l37,3l27-9l3,3l1,9l0-7l8,10l17-13l-57,14l30,15l280-2l0,2l-652,15l343-7l1-2l15,8l5-11l300-2l11,2l-616,43l15-6l267-7l3,9l12-1l7-1l17,11l-25,41l1-2l27-9" marker-start="url(#kg58)" marker-mid="url(#kg58)" marker-end="url(#kg58)"/><path d="M2431,1658l64,3l-20,7l-179,27l6-1l6,1l6-3l13-2l2-1l-31,17l8,0l1,1l14-11l11,15l5,0l25-9l119,6l-181,9l21,3l20-1l18,1l5-3l2-2l-28,13l6,3l21,0l-316,57l11-1l19-9l0,6l3,2l5-3l-55,14l38,10l22-4l260-9l-274,14" marker-start="url(#kb47)" marker-mid="url(#kb47)" marker-end="url(#kb47)"/><path d="M2335,1687l8,1l-32,15l17-4l7,5l19-6l-36,23l31-3l13,6l21-1l1-4l7,5l-68,9l0,10l9-7l10-5l0-2l27,4l7-4l-37,27l6-12l89,4l-370,24l7,3l2-3l1,2l13-5l11,6l9-4l-84,9l12,3l46,3l2,5l17-3l231-4l2-1l99,3l-399,10l4,4l2,6l41,1l1-4l2-4l2,2l2-7l9,2l8,1l82,3l-154,10l8,1l46,2l11-1l9-1l75,5l2,2l27-9l-59,22l36,1l-84,23l41-2l3-8l-24,15l8,0l22,60" marker-start="url(#ky47)" marker-mid="url(#ky47)" marker-end="url(#ky47)"/><path d="M2027,1676l171,57l-318,177" marker-start="url(#kr90)" marker-mid="url(#kr90)" marker-end="url(#kr90)"/><path d="M2519,1615l-213,26l138-3l13,7l56,0l-51,11l15,0l-38,17l48-9l-319,38l-32,50l24,0l22,14l-86,86" marker-start="url(#ko96)" marker-mid="url(#ko96)" marker-end="url(#ko96)"/><path d="M2352,1700l0,0" marker-start="url(#kb96)" marker-mid="url(#kb96)" marker-end="url(#kb96)"/><path d="M2208,1631l130,121l-279,11l123,25l-85,15l-311,11l386,4l8,14l0-1l341,6l-386,36l-239,44" marker-start="url(#kg96)" marker-mid="url(#kg96)" marker-end="url(#kg96)"/><path d="M2234,1893l-6,31" marker-start="url(#kg57)" marker-mid="url(#kg57)" marker-end="url(#kg57)"/><path d="M2336,1630l-194,117l-97,31l67,10l15-4l12-6l-32,19" marker-start="url(#kb48)" marker-mid="url(#kb48)" marker-end="url(#kb48)"/><path d="M1991,1765l0,0" marker-start="url(#kr86)" marker-mid="url(#kr86)" marker-end="url(#kr86)"/><path d="M2375,1728l-278,84" marker-start="url(#kb74)" marker-mid="url(#kb74)" marker-end="url(#kb74)"/><path d="M2225,1651l73,40l79,33l-54,35" marker-start="url(#kb96)" marker-mid="url(#kb96)" marker-end="url(#kb96)"/><path d="M2385,1722l-649,19l691,20l-381,48l373,17l-261,14l9,8l-12,29l30,12l-67,22" marker-start="url(#kg96)" marker-mid="url(#kg96)" marker-end="url(#kg96)"/><path d="M2365,1708l130-5l1,21l-804,22l17,5l640-2l0,8l63-13l28,11l-374,13l360-8l11,3l-376,28l13-11l107-1l-148,18l28,2l22,4l4,0l11-2l14,2l85-6l-122,11l54,4l13,9l7-9l8,1l25,10l18-3l2-5l272,5l-373,9l15-4l11,6l20-3l17,10l15-10l4,5l234-8l6,3l61,5l20-4l19,4l-421,13l80,4l352-10l-361,26l6-1l284,5l1,1l-326,9l13,5l18-10l28,12l288-12l-333,14l17,3l2,3l-288,23l260-8l3,0l-10,10l44,17l3,0l-327,24l7,2l294-4l10-7l-319,25l313-7l-2,17" marker-start="url(#kg58)" marker-mid="url(#kg58)" marker-end="url(#kg58)"/><path d="M2199,1638l247,41l-71,45l11,0l5-5l51-6l34,5l-132,20l2-9l30,2l44,8l24-8l-122,15l4,4l15-6l74,12l3-10l17,5l4-3l2,9l2-4l-372,22l1-4l10,2l104-5l2,6l17-6l125,3l18-5l71-3l9,2l-406,18l21,4l41-3l246-3l11,10l103-6l-662,12l6,6l238-3l29,4l10-9l8,1l7,11l1-13l2,12l0-14l9,15l12-5l87-4l5,8l154-14l-246,20l10,1l4,7l6-2l2-4l12,8l18-6l4,4l12,0l7,2l5-5l1,0l225,1l2-2l59,4l-689,10l317-1l15,8l3-4l5-3l3,6l34-5l0,1l2,7l3-13l10,4l7-5l2,10l4-2l7,1l2-4l268,7l1-6l12,5l-360,16l9-10l1,9l20-6l8,2l0-7l5,15l5-5l6-6l3-3l5,11l1-5l0,6l6-8l3-5l4,9l5,0l240-3l-319,10l9,0l23,1l25,8l2-7l3-2l2,2l258,6l6,1l1,4l2,0l2,1l12,1l6-1l-331,7l8,1l5-3l3,11l11-6l8-6l0,3l2,2l3,6l2-6l1-1l1-5l13,7l268-8l7,1l-330,29l1-13l8,2l2,8l16-8l1,11l7-10l3,10l7-8l11-4l0,2l-55,27l2-7l7,6l1-9l5,2l17,5l1,1l0-13l0,9l1,2l6,3l2-6l14-8l-40,16l6,1l2,7l6-1l0-7l-2,43l-12,19l-10,13l6-1" marker-start="url(#kg47)" marker-mid="url(#kg47)" marker-end="url(#kg47)"/><path d="M2282,1678l42-10l36,42l0-11l9,6l-10,20l4,2l5-6l4,4l4-11l1,8l-38,13l23-6l22,0l-22,19l-293,24l19-3l1,4l5,0l1-2l11,2l75,0l10-5l251-8l-414,29l23-1l13,3l0-3l6-4l0-4l11,9l5-2l1-1l4,2l8,1l7-11l221-2l-290,18l6,9l2,4l5,0l4-2l4-3l7-5l4,10l15-5l7-6l2-2l13,3l80,9l-135,2l1,0l20,1l72,14l20-7l39-8l-10,31l5-1l-74,16l6-4l13-8l2,4l29,6l-51,6l52,20" marker-start="url(#ky47)" marker-mid="url(#ky47)" marker-end="url(#ky47)"/><path d="M2165,1642l339-1l25-6l-457,28l144-5l247-8l17,2l2,10l-447,11l17,0l40-8l105-1l13,13l14-7l246,0l-303,19l1,2l2,0l67,3l199-1l26-10l12,5l-152,23l127-4l27,2l3-4l-158,8l82,3l36-2l1,9l21,3l-13,2l13,0l-23,29l-264,5l158,3l-536,46l302,6l116,16l-450,12l414,13l-380,76l101-3l-21,5l5,14l-31,46l-14,6" marker-start="url(#kr74)" marker-mid="url(#kr74)" marker-end="url(#kr74)"/><path d="M2204,1630l-3,17l192,64l-643,16l645-2l1-2l7-7l3,8l88,0l-763,9l24-3l12,0l5,5l643,1l-712,11l2-2l28,1l1-2l59,1l20,3l684,4l0,1l-752,18l249-2l11-3l490-1l2-5l-757,17l10,9l762,1l1-1l-747,8l745,4l-691,15l34,1l-14,10l9,6l39,25l611-11l24,7l20-5l-730,23l66-6l8-5l5,8l8,3l-11,15l7-4l228,7l356-12l-640,23l-5,17l6-2l13,3l259-3l8-1l-273,38l4-2l14,0l2,3l-25,1l6,9l4,3l10-8l301,8l1,0l-306,12l0,5l2-3l10,0l281-3" marker-start="url(#kl48)" marker-mid="url(#kl48)" marker-end="url(#kl48)"/><path d="M2478,1807l0,0" marker-start="url(#kr72)" marker-mid="url(#kr72)" marker-end="url(#kr72)"/><path d="M2321,1688l27,21l19,7l-40,12l33,2l-347,32l20,11l20,2l58,15l95-5l-183,19l7,0l23,0l1,3l10-5l1,0l37-1l4,1l4-4l-24,16l15-3l38,1l-6,12l-18,30l4-4l10-4" marker-start="url(#ky58)" marker-mid="url(#ky58)" marker-end="url(#ky58)"/><path d="M1768,1836l689-8" marker-start="url(#kr81)" marker-mid="url(#kr81)" marker-end="url(#kr81)"/><path d="M2214,1638l136,66l41,0l-12,15l-689,23l61-12l19,4l2,0l549-5l-616,19l25,3l80-1l615-1l-94,13l94,2l73,7l-734,20l573-4l0-10l6,7l-330,10l338-1l-498,25l325,12l252-5l108,13l-114,2l-548,21l11-5l250,11l43-2l275,3l0,2l-560,15l282,0l-316,3l296,8l2-4l21,9l5-11l-333,28l49-11l-39,22l25-4l283,7l-3,47l-18,18" marker-start="url(#kl58)" marker-mid="url(#kl58)" marker-end="url(#kl58)"/><path d="M2140,1929l0,0" marker-start="url(#kg54)" marker-mid="url(#kg54)" marker-end="url(#kg54)"/><path d="M2509,1629l14-12l-314,21l89,3l6,4l155,1l30-2l-313,13l5,0l26,0l49-6l49,12l1-10l167,4l8-2l2,0l6,1l6,1l15-4l-305,24l5-3l72-10l169,8l27,5l0-10l-371,15l58,8l2,2l4-1l108-2l174,4l3-4l38-3l-255,25l34-10l1,4l72-6l132,10l-8,3l8,3l-229,31l-101,23l28-6l39,8l1-3l5,0l-15,27l10,30l-436,83l19,23l-3,61" marker-start="url(#ko58)" marker-mid="url(#ko58)" marker-end="url(#ko58)"/><path d="M2324,1631l13,0l-120,8l93,2l1,0l1-3l5,2l197-1l-207,13l-200,29l22,2l1-3l300,20l-35,13l-133,19l-558,24l0-2l2-9l433,1l37,4l7,2l16,7l16,0l-168,13l166,1l9,0l-200,13l151,3l-368,3l285,1l-263,18l-50,21l-4,24l362,13l-235,13l0-1l5,7l-93,27l322-3l-322,11l350,42l-299,8l-16,24l1,0l4-1l-3,4" marker-start="url(#kr48)" marker-mid="url(#kr48)" marker-end="url(#kr48)"/><path d="M2516,1622l-69,40l-165,2l170,0l-150,21l19,2l0,5l2,3l0-3l14-7l143,8l-172,3l9,12l6-10l2,6l1-6l0,6l18-5l1,7l144,3l-173,3l5,14l5-13l1,3l2-4l0,9l17-7l8,10l4-9l-34,14l11,13l32-13l-42,28l27-1l9-7l1-3l-324,41l38-4l3-5l-15,23l22-3" marker-start="url(#kb47)" marker-mid="url(#kb47)" marker-end="url(#kb47)"/><path d="M2383,1723l13-8l11,1l-271,41l-83,44l42-6l5,14l0,17" marker-start="url(#ky74)" marker-mid="url(#ky74)" marker-end="url(#ky74)"/><path d="M2468,1657l-154,19l-8,15l13-5l1,1l-10,11l57,12l-51,5l29,12l31-6l-40,29l18-5l-273,24l122,6l-52,1l-107,33l47,2" marker-start="url(#kb58)" marker-mid="url(#kb58)" marker-end="url(#kb58)"/><path d="M2492,1612l20,2l15-5l-41,15l28,5l8-7l-365,19l9-2l5,5l3-2l9-4l3,1l22,5l3,0l7-6l233,7l3-1l40-6l5,5l14,0l1,4l14-11l-462,27l2,0l2-3l7,1l1-3l1,5l2-3l12,1l64-6l12,0l4-6l1,9l6-7l12,2l0-2l3,6l2,3l1-1l4-8l3,12l1-1l10-5l6,3l31-7l25,7l158,0l18-4l3-2l7,6l3,1l1-8l2-3l1,9l1-1l3,0l0-6l3,2l6-5l0,13l4-2l2,0l0-2l7-9l1,13l1-5l-475,22l0-1l3-3l1,2l14-7l2,1l1-1l1-1l8,0l5-2l20,9l3-3l111-6l5,5l0,7l1-15l3,3l2,12l1-14l14,13l3-3l24-8l5,5l5,5l24-10l31,1l13,2l6,2l106,6l13-13l3,9l4-7l3-2l5,5l3,9l3-5l2,1l2,4l2-13l5,8l2-1l2-6l-859,15l13,12l4-3l375,0l4-10l3-1l9,13l30-13l105,15l2-6l1,2l11-8l1,8l3-6l2,0l1,0l18-4l9,13l4-1l5-4l4-9l6,6l11,3l4-6l13,11l2-2l7,3l41-6l4,0l12-7l15,1l94,10l19-12l2,12l5,2l1,0l8-6l0-7l2,11l0,1l1,0l8-14l2,7l5-6l1,3l0,9l3-3l1,1l1,4l-859,7l16,1l19,2l1,4l347-12l145-1l0,7l2,4l1,2l0,2l59-10l2-1l32-1l1,0l41,5l11,4l0,1l10-4l15-2l3,6l3-3l17,3l12-1l78-6l0,2l5,0l3-1l1,1l9-1l3-7l3,8l1-4l4,4l-823,10l4,1l10,6l5,5l19-3l474-6l25,10l3,0l28-12l77-3l16,9l15-8l9,4l12-3l76,3l10,5l1-7l3,1l9,8l2-7l4,5l1-2l4-6l2,3l6-4l0,12l10-9l2,1l-811,21l1,1l0,2l5,1l1-3l3,2l2-3l1,0l1,3l0-10l1,10l7-1l505,1l9-11l27-2l18,2l62-1l2,0l13,8l104-6l10-1l3,12l-768,2l18,7l471,6l153-3l92,3l1-8l11,10l2-15l-362,27l2,4l25-3l94,0l140,3l6-14l-554,28l1-6l2-2l3-1l4,2l0,1l1,2l8-4l3,7l3-4l15,2l254-5l112,4l243-3l10-4l8-1l-661,19l266,11l126-14l4,3l2-4l7,13l8-6l-428,19l9-9l264,0l5,0l22,0l20,4l14,4l318,4l3,0l-640,7l348,0l5-4l57,9l4-5l224-4l2,2l-536,25l10,0l5,3l6-3l263-3l-413,19l10,2l401-3l-408,8l2,4l7,5l365-6l29,2l-391,20l1,1l138-4l257-2l-392,10l4,6l9,2l89-1l18,0l8-7l3,3l-113,13l66,3l1,3l8,0l20,7l10-10l-34,24l-55,18l0-10l337-1l3,3l3,3l4-5l1,3l8,1l-378,18l1-8l0,4l374,1l-373,22l3-3l1,3l34,2l0-2l6,1l1,2l1-4l1,2l310-5l-361,10" marker-start="url(#kr47)" marker-mid="url(#kr47)" marker-end="url(#kr47)"/><path d="M2089,1833l0,0" marker-start="url(#ko77)" marker-mid="url(#ko77)" marker-end="url(#ko77)"/><path d="M1773,1716l1,34" marker-start="url(#kl54)" marker-mid="url(#kl54)" marker-end="url(#kl54)"/><path d="M2211,1632l149,69l-40,18l80-4l-673,32l691,1l-279,18l197-3l-154,26l164-12l-558,43l286-9l24-1l15,3l47,9l18-2l1-3l-10,19l4-11l16,10l-19,16l19-5l9,7l264-5l99-1l-687,16l13-4l554,0l-275,28l1-5l11-8l-16,23l-7,16l19,7" marker-start="url(#kg74)" marker-mid="url(#kg74)" marker-end="url(#kg74)"/><path d="M1720,1766l3-2l1,2l1,0l0-3l1,5l0-6l2,4l1,3l1-4l0,1l2,6l0-5l4-4" marker-start="url(#kg60)" marker-mid="url(#kg60)" marker-end="url(#kg60)"/><path d="M2373,1697l31,8l28,6l-34,15l8-7l8,7l6,0l11-12l65,11l1-12l-81,19l22-4l-711,19l72-1l3,0l693,10l2,3l-764,12l7-3l268,2l52,3l436-3l2,1l-760,7l3,0l7,12l2,0l262-4l7-2l16-4l33-2l22,8l30-3l17,5l-109,19l65-2l65-10l190,5l159-7l5,4l1,2l-424,14l2-3l24,13l36-13l10,0l-341,22l29,0l-77,10l56-1l665,5l4,2l2-4l24-2l2,7l19-6l7,3l5,2l1-1l10,2l-782,18l16-7l37,5l655-8l2-1l3,2l-664,22l271,1l1-3l6,5l4-3l6-1l7,1l3-8l355,4l5,0l8,4l6,2l-713,15l56-3l289,4l-23,6l21,2l-289,45l18-2l2-10l-16,25l4-5l1,1l12,3l290,3l4,10l4-3" marker-start="url(#kg48)" marker-mid="url(#kg48)" marker-end="url(#kg48)"/><path d="M2173,1643l50,10l241,2l27,19l-470,11l300-2l-154,22l314-6l-812,13l22,1l649,13l141-2l-679,79l387-6l21,7l-334,116l-81,74" marker-start="url(#kr96)" marker-mid="url(#kr96)" marker-end="url(#kr96)"/><path d="M2023,1783l43,12l17,8l44,23" marker-start="url(#ky96)" marker-mid="url(#ky96)" marker-end="url(#ky96)"/><path d="M2018,1767l33,1l8,7l20-2l47-1" marker-start="url(#kb54)" marker-mid="url(#kb54)" marker-end="url(#kb54)"/><path d="M2326,1712l-577,18l590,10l6,3l92-8l65,43l-713,21l0,6l230-4l161,30l290-1l40-1l-647,14l594-3l1,11l-539,36l271-13l303,2l-593,40l265,0l-298,18l36-9l-3,11" marker-start="url(#kl74)" marker-mid="url(#kl74)" marker-end="url(#kl74)"/><path d="M2025,1704l19,4l21-5l75,17l-131,18" marker-start="url(#ko54)" marker-mid="url(#ko54)" marker-end="url(#ko54)"/><path d="M2226,1929l9-8l22,14" marker-start="url(#kg57)" marker-mid="url(#kg57)" marker-end="url(#kg57)"/><path d="M2150,1973l0,0" marker-start="url(#kr63)" marker-mid="url(#kr63)" marker-end="url(#kr63)"/><path d="M2381,1716l19-1l32,6l-433,41l4,8l0-10l1,3l2,11l1-6l4,5l17-2l5,1l6-7l7-3l2,6l3,4l16-6l115,0l-180,20l15,0l1,2l7-3l8-5l13,2l-39,13l0,2l11,4l4-1l85,7l50-6l-61,9l17,65l25,8" marker-start="url(#ky48)" marker-mid="url(#ky48)" marker-end="url(#ky48)"/><path d="M2324,1751l107-7l-406,46l-251,13l300-9l369,73" marker-start="url(#kl96)" marker-mid="url(#kl96)" marker-end="url(#kl96)"/><path d="M2224,1909l-4,22" marker-start="url(#kl57)" marker-mid="url(#kl57)" marker-end="url(#kl57)"/><path d="M2175,1646l-365,139l605,33l-501,78" marker-start="url(#kr90)" marker-mid="url(#kr90)" marker-end="url(#kr90)"/><path d="M2490,1629l-299,14l22-3l101-5l141,11l-272,9l8,7l52,0l211-7l5-5l21-2l-433,28l10-6l145,4l68,2l8-9l182,12l-264,1l54,6l13,0l203,3l5-8l23,7l-232,20l35-6l149,6l-84,19l70-5l-166,16l-85,33l3-6l-83,114l-304,86l353,3l-347,52" marker-start="url(#ko74)" marker-mid="url(#ko74)" marker-end="url(#ko74)"/><path d="M2496,1609l-319,33l125-7l15,9l116-1l7,0l18-2l-368,21l72,1l41-7l2,4l9,3l6-14l243,9l1-6l37-2l-471,26l1,1l17-8l10-4l33-1l94,14l12-4l4,0l2-1l36-6l1,4l26,8l37-1l2-4l10-1l5-5l128,9l2,0l6,2l0-12l19,10l14,1l-456,2l136,11l1-1l36-3l60,1l3-4l50,10l28-9l124,5l5,2l12-6l6-5l-834,29l513-3l126-2l25-9l5,12l16-1l29-2l101-9l8,0l-817,19l554,6l100-6l8,3l16-6l67,14l33-9l54,6l-825,14l4-3l2,7l0,2l9-9l10,9l648-13l94,0l3,0l23,0l-786,19l416,24l75-9l17,7l30-7l108,2l97,0l-634,21l15,0l14,1l212-6l-269,10l287,6l20,8l-292,5l-13,44l1,0l136-1l-132,28l121,1l34,3l230,12l-367,10l25,9l72-9l5,6l9,4l-99,4l89,2l-87,20l5,44l22,6l3-6" marker-start="url(#kr58)" marker-mid="url(#kr58)" marker-end="url(#kr58)"/><path d="M2495,1616l6,5l15,3l-65,20l15,1l7,0l16,2l10-2l18-6l2,8l1-8l6,5l-465,17l97-6l8-5l1,3l3,6l31,4l3-3l5,3l13-1l11-8l0,2l32,2l182,2l15,0l13-2l13-10l6,9l1-1l4,0l-477,22l19-8l161,4l10,1l5-8l6,12l25,0l19-7l40,4l5-2l15-2l134-3l4-4l1,13l2-8l6,8l14,0l5,1l0-5l-471,17l3-3l12-3l131,10l1-7l0,1l3,0l10,3l4-8l2,7l16-9l74,11l1-7l34,6l139-4l6,7l4,0l4-3l4-3l9-3l2,5l9,1l5,3l1-10l1,8l-327,3l46,12l17-1l84-4l157,1l5-7l20,1l-59,20l36,7l16-13l-270,26l23-10l224,0l0,2l28-2l-289,16l9,11l-42,6l12,11l12,5l-407,133l9,30l361,22l-367,35l35-13l-39,22l3-4l5-2l45,7l-56,11l0,4" marker-start="url(#ko47)" marker-mid="url(#ko47)" marker-end="url(#ko47)"/><path d="M1830,1758l0,0" marker-start="url(#kl50)" marker-mid="url(#kl50)" marker-end="url(#kl50)"/><path d="M2333,1630l-22,10l206,2l-210,13l215-4l-421,28l154,42l4,6l4-13l7,16l1,1l-118,15l31-2l3,2l8,11l-59,10l56-1l-42,18l66,7l-5,15l12-5l-7,8l3,2l5-1l-5,15l-419,206l3-7l-2,15l20-3" marker-start="url(#ko48)" marker-mid="url(#ko48)" marker-end="url(#ko48)"/><path d="M2217,1646l271,3l31,1l-84,18l38,3l-3,11l12,13l-27,16l-241,120l-413,160" marker-start="url(#ko96)" marker-mid="url(#ko96)" marker-end="url(#ko96)"/><path d="M2148,1995l0,0" marker-start="url(#kr68)" marker-mid="url(#kr68)" marker-end="url(#kr68)"/><path d="M2327,1630l-113,11l16-3l76,3l-192,143l17,5" marker-start="url(#kb48)" marker-mid="url(#kb48)" marker-end="url(#kb48)"/><path d="M2483,1670l-157,25l-30,2l52,1l84,4l-113,21l28-5l150,4l-813,16l641-2l14,1l103-9l-750,22l5-2l635,7l101,0l2-4l-99,12l10,9l75-5l9,3l10-4l-643,17l4,0l23,3l281,2l232,3l102-15l-405,24l30-8l9,12l9-3l11-9l-7,22l77,5l320-1l-329,14l5,7l32-12l15,3l218,2l37,0l9,0l-558,19l202-2l8,5l51,1l0-2l7,0l1-10l3,7l4,2l-22,7l9-2l22,11l248-3l4,4l4,1l9,0l-312,17l5-12l9,6l1-8l2,0l22,10l7-5l269-6l1,0l-553,31l6-15l232,12l6-11l11,11l7-1l12,1l1-8l9-3l3,10l-55,5l4,13l31-6l6,5l-316,13l30-8l286,4l-314,12l16,0l280,16l-4,27" marker-start="url(#kl47)" marker-mid="url(#kl47)" marker-end="url(#kl47)"/><path d="M2439,1599l-89,27l-76,13l15,8l11-1l47-5l48-9l19,14" marker-start="url(#kr59)" marker-mid="url(#kr59)" marker-end="url(#kr59)"/><path d="M1805,2094l0,0" marker-start="url(#kr54)" marker-mid="url(#kr54)" marker-end="url(#kr54)"/><path d="M2497,1608l-329,36l276-1l50-2l19,0l10-6l-441,25l11-1l1,0l124-6l-196,25l166-11l15-1l281,7l5-5l3,6l-858,12l396-4l69-1l69,12l16-3l68,1l48,4l14-7l164,1l1-7l0-2l3,2l2,12l-158,3l37,1l80,7l12,1l17-4l-279,19l271-7l15,9l-787,17l-16,5l756,12l-247,15l41,0l-119,12l236-6l-545,29l27-14l-43,28l318,47l-331,11l2,4l3,9l123,24l-30,6l1,16l-30,61" marker-start="url(#kr74)" marker-mid="url(#kr74)" marker-end="url(#kr74)"/><path d="M2488,1613l45,1l-32,6l-66,25l59-10l19,4l3-4l3,10l-428,18l110-1l30-8l46,4l18-1l166,6l-433,9l37-8l2,13l24-7l98,5l1,2l252,2l25-6l-443,13l5,2l9-6l64-2l120,15l88-10l149-3l7,11l1-10l1-1l0,12l12-3l12-10l2,10l-265,13l234-7l-213,29l238-10l-243,14l117,1l102-2l-412,44l185,12l-39,19l13-3l3,0l-416,145l13,25l-17,18" marker-start="url(#ko58)" marker-mid="url(#ko58)" marker-end="url(#ko58)"/><path d="M2222,1641l77-2l6,2l10,3l9-3l-194,38l12,77l43-5l70,1l-260,8l164,31l56-4l15-1l2,20l7-12" marker-start="url(#ko48)" marker-mid="url(#ko48)" marker-end="url(#ko48)"/><path d="M1999,1762l33,9l37-11l14,8l9,3l5,2l9-8" marker-start="url(#kb54)" marker-mid="url(#kb54)" marker-end="url(#kb54)"/><path d="M2314,1715l-630,20l655,3l9-1l4,17l142,4l-146,15l-278,14l278-10l92,5l1-1l-426,25l498-6l-660,21l-66,5l633,5l-507,19l229-2l312,22l-318,13l374-4l-334,20l6-3l-47,21l-258,27" marker-start="url(#kl74)" marker-mid="url(#kl74)" marker-end="url(#kl74)"/><path d="M2428,1758l-400,23l7,7l303-7l-328,14l105,30l59,20l-249,35l-20,27l289,6l-323,29l284,16" marker-start="url(#kl96)" marker-mid="url(#kl96)" marker-end="url(#kl96)"/><path d="M2213,1890l1,55l12,8" marker-start="url(#kg57)" marker-mid="url(#kg57)" marker-end="url(#kg57)"/><path d="M2328,1690l15-3l5,11l88,5l7,6l-87,4l13,12l7-2l1,3l92-3l-777,16l639,2l7-4l5,6l14-5l2,4l30-14l-66,23l12,1l6-3l3,1l1-1l7-4l79,4l11,1l-109,19l15-8l96,1l4-2l1,15l2,0l-386,7l36-5l247,12l102-9l-659,22l303,3l2,2l10,0l-325,6l4-1l318,5l97-2l3,6l222-6l3,7l-655,3l358,1l53,8l2-5l6,2l1,4l237-9l-523,22l270,4l4-2l10,2l0,1l10-7l235,0l-520,11l6,6l241,2l29,4l247-9l1,2l12,5l2,4l2-2l0-2l6,3l-315,9l6-3l26,11l0-12l2,2l4,7l3-6l8,4l5,3l-46,6l25,5l16-6l-315,29l5-8l22-5l1-2l230,7l29,0l10-3l16,8l-313,5l284,12l7-11l-295,20l8-3l1,5l7-1l9-4l273,3l5,8l-30,44" marker-start="url(#kl47)" marker-mid="url(#kl47)" marker-end="url(#kl47)"/><path d="M2425,1695l-51,3l22,14l22,1l3,8l1,2l3-2l-26,13l12,1l25-4l-727,17l89-3l607,0l-666,19l293,4l80,3l382-11l0,9l3-4l2-1l-760,16l263-4l6,1l15,9l151,3l-412,5l39,9l206-6l107,6l21-6l43,0l171,3l159-4l8,6l-662,14l6-8l228,7l17,6l-247,8l636,5l27-5l4-2l-754,26l35,2l55-15l634,4l5,7l68-4l-774,11l5,1l68,7l242-5l382-4l9,2l-714,14l65,0l262,13l1-4l18,2l1-6l344-2l9-1l-376,35l6-3l1,0l9,8l13-7l-295,25l12,6l-11,16l15-1l9,6l296,3l-294,6" marker-start="url(#kg48)" marker-mid="url(#kg48)" marker-end="url(#kg48)"/><path d="M2416,1710l-64,15l-9,37l-317,21l77-5l-11,15l-66,15l-255,28l363,21" marker-start="url(#ky74)" marker-mid="url(#ky74)" marker-end="url(#ky74)"/><path d="M2471,1662l-108,42l6,1l4-1l-20,14l0,3l12-2l7,5l8-4l12,3l-57,21l-195,24l64,5l213-13l-366,26l16-10l27,13l6-9l-92,12l12,7l59-7l8,8l18-8l-52,18l63,3l28,5l58-6l-54,37" marker-start="url(#ky58)" marker-mid="url(#ky58)" marker-end="url(#ky58)"/><path d="M2495,1619l24-3l12,12l-347,11l28-2l241,9l29-6l4,6l-421,14l17,1l78,0l27-1l10-8l10,11l21-5l49-2l26-4l141,11l21-12l21,3l0,5l7,2l6-12l-473,28l4-1l5-4l22-6l6,3l138-2l2,10l28-10l4,9l13-1l47-11l8,7l149-1l28,9l2,0l-843,4l528,10l19-3l41,0l79-9l14,10l1-10l7,10l106,3l1,0l4,0l7-12l12,0l12,2l2,10l8-9l7,5l2,0l-841,10l9,9l24-1l4,2l484-5l22-1l77,4l28,0l76-7l40,10l17-1l2,1l28-6l0,2l10-4l1,3l9,5l6-2l-814,16l20-6l629-5l21,11l102-4l10,3l3-8l11,2l1,8l4-4l17-6l6,3l3,0l2,0l-825,13l17,1l1,9l751-12l19,3l5-4l-249,26l113-6l19,6l-206,11l14-3l28,5l27-5l2,11l1-13l-416,22l221-6l184-1l-427,28l11-11l-14,29l6-8l40-2l291,3l313,6l-659,17l-1,8l9-5l316,5l-315,48l328,4l-230,16l28-4l-103,30l1,3l-4,14l54,1l309,1l2,7l-369,33l56-3l-5,4l-56,23" marker-start="url(#kr58)" marker-mid="url(#kr58)" marker-end="url(#kr58)"/><path d="M2479,1658l-133,42l21-1l8,4l-48,18l12-7l0,8l34,2l5,3l3-3l4-5l4-2l-695,26l634-5l9-4l3,9l4-1l10-3l0-4l7-1l4-2l53,9l11-2l25-8l-117,27l85-11l1,9l2-2l3-7l18,7l3,3l-379,15l24-3l98,6l9-2l130-5l11,6l74-1l5-6l14,5l2-6l-406,23l21-3l16-10l9,13l5,1l5-6l8,7l1-4l4-5l1,1l345,4l-665,10l3,1l249-3l5,9l20-7l16-1l23,8l90-12l6,7l-103,16l6-3l14,0l1,10l4-4l14-7l8,12l18-8l8,3l1,3l6-4l3,0l2,0l4,0l3,4l22-5l2,4l205-5l10-1l6,6l50-8l3,1l-361,23l10-11l3,9l21-8l10-1l1,5l0,4l5-10l5,6l2-1l3,3l1-6l14,2l3,10l221-9l1,8l3-7l2,9l0-8l56,5l-373,7l11,0l1,0l13,9l1-7l0-3l8,7l17-4l1-2l1,0l0,2l0,4l4-5l4-2l6,0l1,12l3-1l1-3l3-8l11,5l3,6l1,0l1,0l6-5l225-6l6,8l1-1l3,6l-342,6l13-1l19,0l23-1l8-1l3-1l1,6l1-6l1,0l4-1l273,8l1,3l1-3l6,5l6,0l5-2l3,3l9,1l-320,9l0-3l4,8l4-10l7,2l2,9l23-1l4-6l-44,24l8-8l5-1l2-2l2,11l-271,5l236,9l1,2l8-4l2-9l8,12l0-7l2,7l9-7l5-4l10,12l1-14l4,14l-17,18l-14,16l9,27l4-10" marker-start="url(#kg47)" marker-mid="url(#kg47)" marker-end="url(#kg47)"/><path d="M2437,1780l0,0" marker-start="url(#kl86)" marker-mid="url(#kl86)" marker-end="url(#kl86)"/><path d="M2440,1646l2-5l-137,38l2-6l176,1l-169,15l12,3l8,1l0-1l10,0l133-8l-202,26l43-13l7,14l15-4l22-5l115-6l-161,19l3,4l10-5l1,13l12-7l-19,12l19,0l3,7l-6,7l-8,28l-262,13l18,2l17-2l1,1l230-1l8-11l-290,26l25,3l10-7l-43,15" marker-start="url(#kb47)" marker-mid="url(#kb47)" marker-end="url(#kb47)"/><path d="M2174,1833l0,0" marker-start="url(#kg90)" marker-mid="url(#kg90)" marker-end="url(#kg90)"/><path d="M2493,1614l12,0l8,0l-24,10l19-2l5,9l12-3l7,3l-379,16l37-4l243,3l53-3l4-3l24-6l16,1l1-2l-465,28l1,0l93-1l5-4l3-6l28,8l17-4l9,7l4-10l25,7l14-5l12,0l21,9l6-3l157-9l3,5l3-4l2,8l4-6l7,9l2-5l9,3l-465,14l9,2l4,1l1-2l3-6l10-2l11-3l11,4l5,6l2-8l10,6l1-2l99-6l9,3l1,10l3-10l1,5l3,7l10-14l1,10l18,1l24,3l179-13l18,9l5,1l1,2l8-6l5-2l10-2l-462,12l3,14l138,1l0-1l33-7l26-7l6,1l2-1l9,9l13-5l7,5l2,1l2-5l170-5l22,2l3,1l3,0l8,8l3-1l1-2l4,5l13-11l4,8l-332,9l1,1l2,3l51-2l4,10l17-9l3-4l70,9l6,1l125,2l29,0l0-6l6-3l-157,20l116-3l9-6l1,12l5,2l1-4l11-3l20-3l-265,18l14-4l9,0l212-1l-253,62l-104,74l-299,60l351,41l3-12l7,0l-367,43l3-6l11-4" marker-start="url(#ko47)" marker-mid="url(#ko47)" marker-end="url(#ko47)"/><path d="M2332,1690l14,13l46-1l-11,17l48,4l-106,14l18-6l2,1l2,0l5-4l-551,20l632,3l6,2l-332,22l2-3l320,2l6-6l63-6l-441,25l50-8l-315,27l289-1l6,1l0-8l72,6l-83,6l28,13l6-4l32-1l20,5l12-5l1,3l6-1l242-9l53,10l-379,3l67,9l9-4l6,10l285-14l46,6l-655,23l313-11l5,5l3,1l2-7l379-1l-104,23l9,7l9,0l-694,6l60,9l267-5l28-2l7,0l5,4l11,2l1-12l10,5l17-2l19,9l0,2l-61,11l10-9l27,2l3-3l3,1l7,4l-52,26l17-6l8-1l7,4l12-4l-12,14l1,22l-293,6l286,17" marker-start="url(#kg58)" marker-mid="url(#kg58)" marker-end="url(#kg58)"/><path d="M1722,1755l-6,7l4,4l5-2l1,3l0-7l1,7l1,2l1-1l6-4l1,3" marker-start="url(#kg60)" marker-mid="url(#kg60)" marker-end="url(#kg60)"/><path d="M1779,1805l0,0" marker-start="url(#kr81)" marker-mid="url(#kr81)" marker-end="url(#kr81)"/><path d="M2425,1728l-98,35l150,59l-700,3l-6,16l2,3l397,12" marker-start="url(#kg96)" marker-mid="url(#kg96)" marker-end="url(#kg96)"/><path d="M2324,1687l11-4l-23,14l10,4l6,7l22,12l-32,9l-277,38l63,22l-24,14" marker-start="url(#kb58)" marker-mid="url(#kb58)" marker-end="url(#kb58)"/><path d="M2401,1662l-294,45" marker-start="url(#ko54)" marker-mid="url(#ko54)" marker-end="url(#ko54)"/><path d="M2396,1711l-61,28l-634,12l99-4l532-2l-2,27l8-8l87,11l-397,16l319,0l-529,4l252,9l-29,5l138,3l28,25l211-7l46-4l-568,27l255-1l12-3l-269,12l29,1l243,8l275-5l1,4l2-4l15,5l2,1l-296,12l4,12l2,7l2-12l-265,16l204,3l28,8l1-4l27-6l3,0l16,10l14-10l-30,22l-320,13l0,3l19,6" marker-start="url(#kl58)" marker-mid="url(#kl58)" marker-end="url(#kl58)"/><path d="M2342,1743l-319,41l3,1l49-4l-33,23l148,14" marker-start="url(#ky96)" marker-mid="url(#ky96)" marker-end="url(#ky96)"/><path d="M2451,1646l53-11l-253,20l208,6l12-8l21,9l-250,15l224,2l3-3l-263,7l274-3l-18,16l-213,31l-83,42l-129,9l64,15l54,165" marker-start="url(#ko96)" marker-mid="url(#ko96)" marker-end="url(#ko96)"/><path d="M1770,1748l60,37l710,66" marker-start="url(#kl54)" marker-mid="url(#kl54)" marker-end="url(#kl54)"/><path d="M2341,1704l-28,22l25-6l8,10l-14,15l-258,24" marker-start="url(#kb74)" marker-mid="url(#kb74)" marker-end="url(#kb74)"/><path d="M2366,1707l22,13l2-2l106,6l1,0l-798,24l32,7l83-7l681,0l-763,21l3,4l257-8l7,9l350,28l1-1l1,1l0-3l152,1l5-7l1,3l-698,13l680,29l3-1l-610,15l-44,12l53-5l606-3l-589,29l195-2l33,2l346-11l6,1l13,4l2,4l-616,8l-40,44l10,9l5-4l-19,22l3-9l29,1l276,13l8,0l-304,8l17,0" marker-start="url(#kl48)" marker-mid="url(#kl48)" marker-end="url(#kl48)"/><path d="M2522,1620l-217,56l185-3l-193,9l22,3l5,6l4,2l132-13l-124,31l32-1l-16,13l28,4l6-12l-60,20l3-1l17,6l42-12l49,13l-108,3l14,3l0,12l2-8l-140,24l121-10l120,10l-403,7l11,8l10-7l15,8l12,0l-65,3l3,2l1,0l11,11l2,0l1-5l2,4l2-5l3-2l9,5l2-4l1-3l2,7l11-12l0,4l5,3l1,0l1,4l4-2l1-8l16,9l93,0l-170,7l18,3l2,0l7-4l30,2l7,1l16-3l5,5l77,4l-23,18l9,3l0-3l10-8l-84,16l2,7l58-9l17,11l0-10l-78,19l49-2l46,10l3-3l-33,16l4-8" marker-start="url(#ky47)" marker-mid="url(#ky47)" marker-end="url(#ky47)"/><path d="M2492,1612l15-1l19,0l-41,5l37,9l10,4l-372,15l13-3l6,1l19,0l5,3l4-6l2-3l8,10l227-8l15,2l6,7l18-9l17,6l9-3l-435,19l3,1l2-2l7,0l80-3l5-2l4-2l9,9l11-6l1,6l0-1l3,2l4-3l1-4l3,4l4,1l11-3l28-1l11-4l0-2l6,12l2-3l0,4l12-4l7,0l146,0l3-11l2,5l4,0l14,0l12,8l2-13l6,4l5,4l9,4l-861,19l404-2l5,0l4-3l2-3l18-4l6-1l6,0l4-1l1,12l111-10l1,5l5-3l3,0l0-2l1-1l1,4l1,2l0-6l2,6l1,6l1-11l1,2l3,2l5,1l7-8l10,15l42-14l35,5l16,8l108-7l2,4l11-5l10-6l2,12l1-3l1,4l5-5l2-6l2,1l3,9l11,2l3-10l1,4l3-8l-855,19l0,3l19,4l375-3l2,8l4-9l43-5l86,12l2-6l2,2l1,6l0-2l10,2l4-13l2,2l4-4l15,5l1,0l3,0l15,5l14-8l30,4l25,1l13-5l14,8l2-7l1,11l5-8l4,1l6-2l95-5l3,7l11,7l2-8l19-4l8,9l1-8l6,6l3-7l11,2l-837,20l7,7l30-4l471-4l0-4l2,12l0-5l1,4l51-2l2,1l29-4l46-7l4,11l7-2l13-6l5,3l12-1l5,8l87-8l0,4l2,0l9-3l1,2l7-10l8,3l8,0l6-2l2,1l4,2l2,5l-815,21l1-8l0,2l0-1l4,3l3-2l6,5l497-8l42,7l12-3l87,0l0-5l3-3l5,1l7,1l14,3l3,0l83,8l0,1l13-5l4-2l2,6l3-7l0,4l5-11l8,14l10,0l1-14l2,1l-810,23l6,3l1-8l1,9l2-11l1,7l3-8l2,10l7,3l3-4l0,5l3,0l0-8l644-5l89,0l9,4l3-5l14,1l6,0l7,1l24,0l-820,16l17,1l2,0l3-1l6,6l504-5l2,6l9,3l111-1l106-7l-264,16l4-3l260,2l9,11l-664,12l2-3l8,0l2,2l1,2l1-4l5,4l6-3l3,2l1,1l257,0l117-3l3-8l14,12l-141,17l0-2l9,4l15-8l115,1l12-1l211,8l-635,4l2,1l249-4l8,0l2,1l2,4l357,1l-624,12l380,3l294-1l-694,24l1-4l676,6l18-11l-698,19l5,9l0-7l2-8l330,4l2,6l-333,10l2,4l2-5l152,4l270,6l-419,8l3,8l5,1l135-8l-136,11l8,8l3,2l89-3l10,0l14,5l8-12l187,1l-233,20l7-3l7,0l12,12l-14,12l2-3l4,0l-67,12l1,3l330-4l5,0l2,1l3,1l13,3l-376,9l12,10l1-6l0,3l9,7l-22,11l1-1l2-1l3-3l38,3l1,5l0-2l1,2l1,1l1-3l2-4l1,6l305-8l-361,24l3-10l40,1l10-3l0-1l1,5l-55,17" marker-start="url(#kr47)" marker-mid="url(#kr47)" marker-end="url(#kr47)"/><path d="M2338,1631l-185,130l40,4" marker-start="url(#kb48)" marker-mid="url(#kb48)" marker-end="url(#kb48)"/><path d="M2554,1856l0,0" marker-start="url(#kl59)" marker-mid="url(#kl59)" marker-end="url(#kl59)"/><path d="M2092,1661l95,15" marker-start="url(#kr86)" marker-mid="url(#kr86)" marker-end="url(#kr86)"/><path d="M2365,1705l-565,41l-64,21l271,26l89,2l408-3l10,7l-489,15l12-6l18,2l124,1l231,5l-251,21l2-8l9,8l1-2l7-8l241,8l-253,16l1,3l8-5l21,1l9-8l-54,16l13,0l15,12l-41,3l18,9l-14,40" marker-start="url(#kg74)" marker-mid="url(#kg74)" marker-end="url(#kg74)"/><path d="M2487,1625l-40,22l29-1l-36,5l-411,23l75,5l343-4l-218,19l246,0l-785,12l476-2l303-5l2,0l-774,17l616-2l132,15l-108,39l-138,23l-153,13l133,2l-407,4l327,18l-198,46l-87,48l-14,14l0,54" marker-start="url(#kr96)" marker-mid="url(#kr96)" marker-end="url(#kr96)"/><path d="M2510,1654l-171,29l-8,47" marker-start="url(#kb96)" marker-mid="url(#kb96)" marker-end="url(#kb96)"/><path d="M2317,1593l19-5l10,9l9,1l33,8l-13,20l-45,7l57,60l34,13l-313,237" marker-start="url(#kr59)" marker-mid="url(#kr59)" marker-end="url(#kr59)"/><path d="M2491,1611l36,2l-481,44l41,6l75-7l138,5l186,1l11-2l-225,4l191,0l4,8l4,3l-298,20l291-11l1,5l16-9l6,8l-308,81l-383,216" marker-start="url(#ko74)" marker-mid="url(#ko74)" marker-end="url(#ko74)"/><path d="M1824,1919l0,0" marker-start="url(#kb63)" marker-mid="url(#kb63)" marker-end="url(#kb63)"/><path d="M2336,1630l-26,2l3,10l5,1l1,3l1-7l200,2l2-3l-105,56l5,31l14-8l59,8l1,26l-491,23l8-6l39,1l70,6l90-11l2-1l284,3l-345,25l18-6l53,6l5-4l-469,6l1,1l59,15l-43,29l-9,6l147,26l-106,47l4-2l1,3l45,2l-5,57l-22,36l8-2l3-2l-2,9" marker-start="url(#kr48)" marker-mid="url(#kr48)" marker-end="url(#kr48)"/><path d="M2307,1671l13,55l-147,35l-119,47l-127,65" marker-start="url(#kr90)" marker-mid="url(#kr90)" marker-end="url(#kr90)"/><path d="M2512,1644l-142,54l29,13l-11,1l11,13l9,2l5-6l-275,22l-138,16l402,0l12-4l-417,16l7-7l0,2l36,3l15,1l8-1l3,4l51-6l-114,11l11,11l5-4l1,5l11-14l63,14l3,1l3-6l-88,10l13,5l3,0l61-7l91,1l-159,16l69,13l32,61l11,4l8,7l-299,20l265-11" marker-start="url(#ky48)" marker-mid="url(#ky48)" marker-end="url(#ky48)"/></g>
</svg></body></html>
